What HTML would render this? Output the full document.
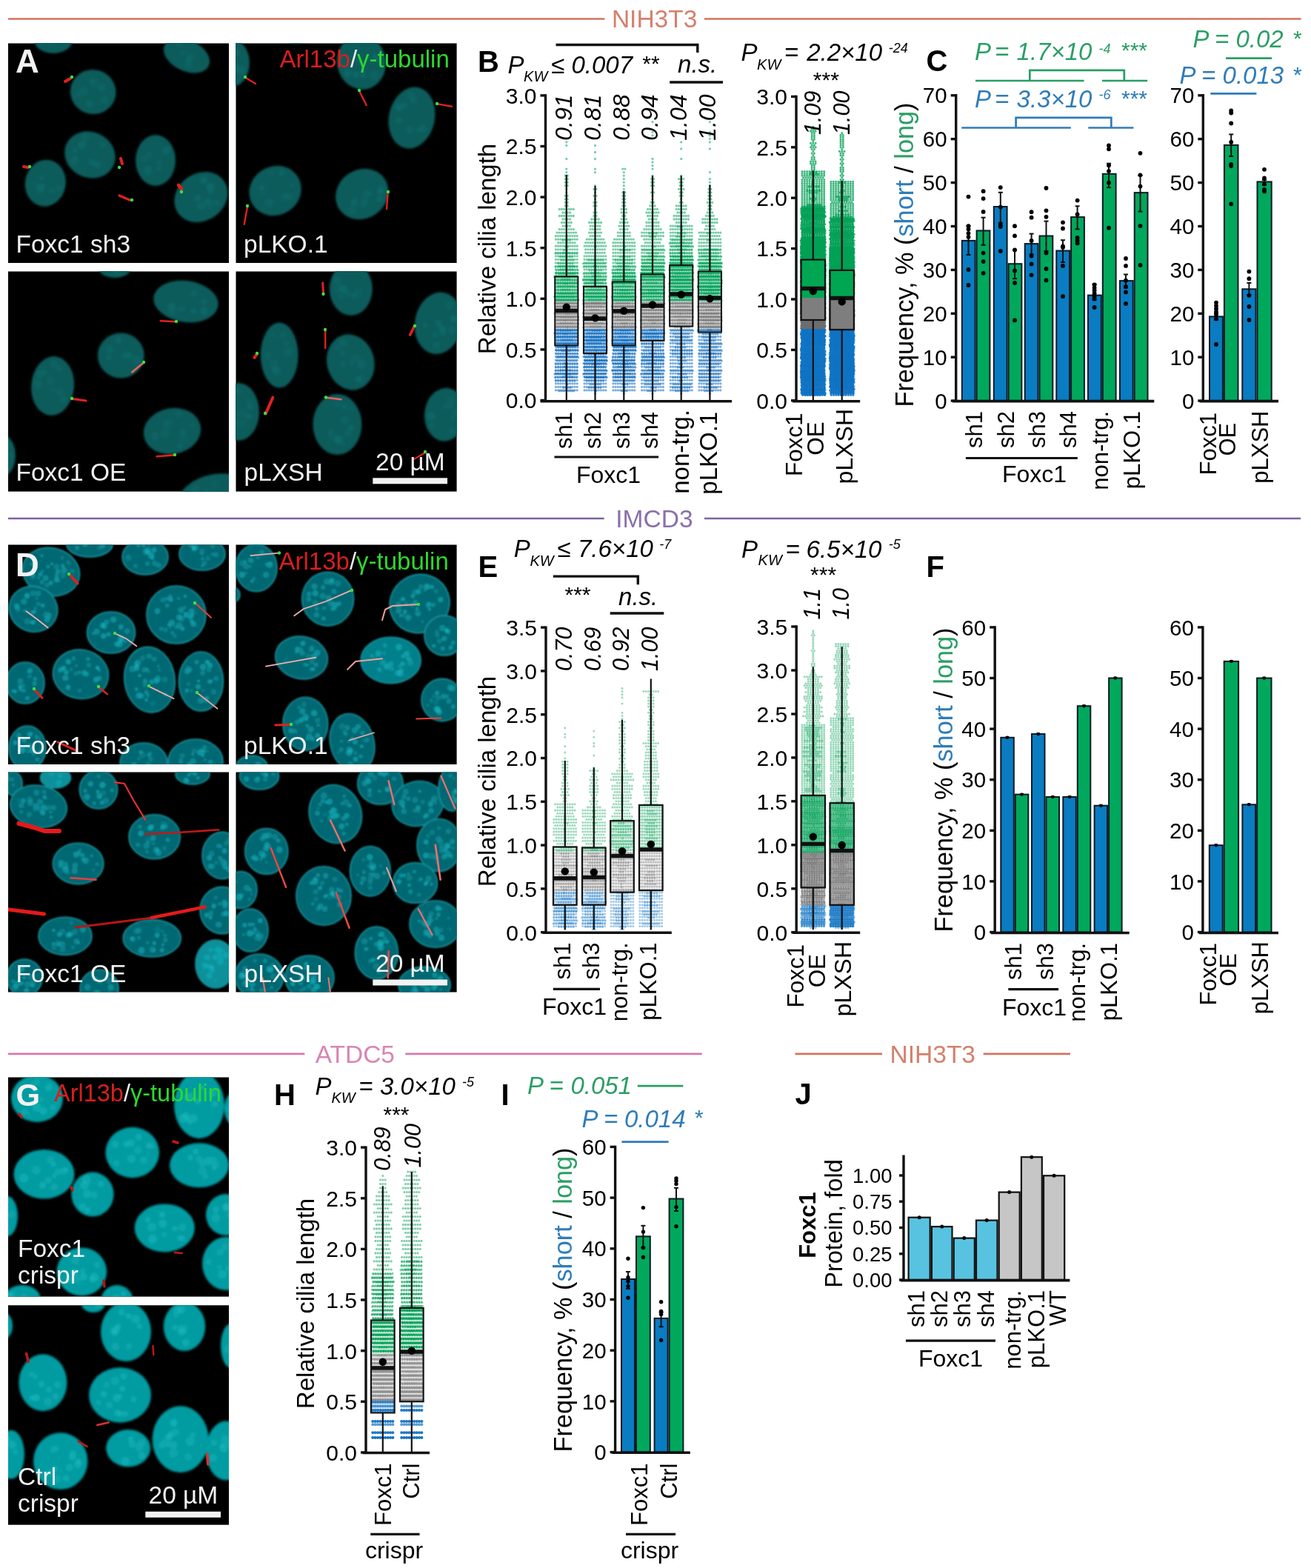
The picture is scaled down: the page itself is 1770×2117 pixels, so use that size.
<!DOCTYPE html>
<html><head><meta charset="utf-8"><title>Figure</title><style>html,body{margin:0;padding:0;background:#fff;}svg{display:block;}</style></head><body>
<svg xmlns="http://www.w3.org/2000/svg" width="1770" height="2117" viewBox="0 0 1770 2117" font-family="'Liberation Sans', Arial, Helvetica, sans-serif">
<defs><filter id="blurA" x="-20%" y="-20%" width="140%" height="140%"><feGaussianBlur stdDeviation="1.6"/></filter><filter id="blurD" x="-20%" y="-20%" width="140%" height="140%"><feGaussianBlur stdDeviation="1.1"/></filter><filter id="blurG" x="-20%" y="-20%" width="140%" height="140%"><feGaussianBlur stdDeviation="1.8"/></filter></defs>
<rect x="0" y="0" width="1770" height="2117" fill="#fff"/>
<line x1="11" y1="25.5" x2="816.3" y2="25.5" stroke="#d2735f" stroke-width="2.7"/>
<line x1="951" y1="25.5" x2="1756.6" y2="25.5" stroke="#d2735f" stroke-width="2.7"/>
<text x="883.6" y="37.3" font-size="33.5" fill="#d4806c" text-anchor="middle">NIH3T3</text>
<line x1="11" y1="700" x2="815.7" y2="700" stroke="#7f62a0" stroke-width="2.7"/>
<line x1="951" y1="700" x2="1756" y2="700" stroke="#7f62a0" stroke-width="2.7"/>
<text x="883.4" y="711.8" font-size="33.5" fill="#8a70aa" text-anchor="middle">IMCD3</text>
<line x1="11" y1="1422.8" x2="411.3" y2="1422.8" stroke="#d778ac" stroke-width="2.7"/>
<line x1="547.3" y1="1422.8" x2="947.7" y2="1422.8" stroke="#d778ac" stroke-width="2.7"/>
<text x="479.3" y="1434.6" font-size="33.5" fill="#d985b3" text-anchor="middle">ATDC5</text>
<line x1="1073.5" y1="1422.8" x2="1191" y2="1422.8" stroke="#d2735f" stroke-width="2.7"/>
<line x1="1327.7" y1="1422.8" x2="1445" y2="1422.8" stroke="#d2735f" stroke-width="2.7"/>
<text x="1259.3" y="1434.6" font-size="33.5" fill="#d4806c" text-anchor="middle">NIH3T3</text>
<clipPath id="cp1"><rect x="11" y="58.5" width="298" height="296.5"/></clipPath>
<rect x="11" y="58.5" width="298" height="296.5" fill="#000"/>
<g clip-path="url(#cp1)">
<g filter="url(#blurA)">
<ellipse cx="72" cy="52" rx="27" ry="20" fill="#085c5b"/>
<circle cx="68.5" cy="57.2" r="5" fill="#117070" fill-opacity="0.27"/>
<circle cx="60.1" cy="50" r="3.2" fill="#117070" fill-opacity="0.38"/>
<circle cx="85" cy="54.3" r="3.2" fill="#117070" fill-opacity="0.27"/>
<circle cx="55.6" cy="58.2" r="3.4" fill="#117070" fill-opacity="0.31"/>
<ellipse cx="252" cy="75" rx="33" ry="21" fill="#085c5b" transform="rotate(25 252 75)"/>
<circle cx="241.4" cy="57.9" r="4.7" fill="#117070" fill-opacity="0.35"/>
<circle cx="257" cy="76.8" r="5.6" fill="#117070" fill-opacity="0.32"/>
<circle cx="254.9" cy="81.1" r="3.9" fill="#117070" fill-opacity="0.45"/>
<circle cx="254.6" cy="88.2" r="4.9" fill="#117070" fill-opacity="0.34"/>
<circle cx="247.1" cy="71.4" r="3.2" fill="#117070" fill-opacity="0.30"/>
<ellipse cx="125.7" cy="124" rx="31" ry="30" fill="#085c5b" transform="rotate(20 125.7 124)"/>
<circle cx="124.2" cy="109.3" r="3.9" fill="#117070" fill-opacity="0.40"/>
<circle cx="113" cy="123.2" r="5.4" fill="#117070" fill-opacity="0.42"/>
<circle cx="120.5" cy="140.2" r="4.6" fill="#117070" fill-opacity="0.47"/>
<circle cx="128.3" cy="112.2" r="5.9" fill="#117070" fill-opacity="0.28"/>
<circle cx="105.9" cy="127" r="3.5" fill="#117070" fill-opacity="0.37"/>
<circle cx="141.5" cy="134.5" r="5.3" fill="#117070" fill-opacity="0.39"/>
<circle cx="137.4" cy="118.8" r="5.1" fill="#117070" fill-opacity="0.40"/>
<ellipse cx="121.4" cy="209" rx="35" ry="31" fill="#085c5b" transform="rotate(25 121.4 209)"/>
<circle cx="110.5" cy="195.6" r="5.5" fill="#117070" fill-opacity="0.49"/>
<circle cx="101" cy="202.9" r="3.2" fill="#117070" fill-opacity="0.43"/>
<circle cx="114.9" cy="185.6" r="5.5" fill="#117070" fill-opacity="0.32"/>
<circle cx="101.5" cy="213.5" r="3.1" fill="#117070" fill-opacity="0.37"/>
<circle cx="122.5" cy="217.1" r="3.2" fill="#117070" fill-opacity="0.44"/>
<circle cx="126" cy="220.4" r="4.2" fill="#117070" fill-opacity="0.47"/>
<circle cx="132.2" cy="222.4" r="4.6" fill="#117070" fill-opacity="0.47"/>
<circle cx="139" cy="195.6" r="3.8" fill="#117070" fill-opacity="0.35"/>
<circle cx="100.1" cy="217.8" r="5.9" fill="#117070" fill-opacity="0.29"/>
<ellipse cx="210" cy="216.5" rx="27" ry="34.5" fill="#085c5b"/>
<circle cx="214.4" cy="227.6" r="3.7" fill="#117070" fill-opacity="0.37"/>
<circle cx="201.2" cy="209.5" r="3" fill="#117070" fill-opacity="0.35"/>
<circle cx="199.6" cy="230.8" r="5.9" fill="#117070" fill-opacity="0.42"/>
<circle cx="194.2" cy="214.5" r="5" fill="#117070" fill-opacity="0.26"/>
<circle cx="224.4" cy="203" r="5.6" fill="#117070" fill-opacity="0.45"/>
<circle cx="200" cy="226.7" r="3.3" fill="#117070" fill-opacity="0.41"/>
<circle cx="214.9" cy="219.1" r="3.6" fill="#117070" fill-opacity="0.29"/>
<ellipse cx="61.3" cy="247.2" rx="27.5" ry="31.6" fill="#085c5b" transform="rotate(10 61.3 247.2)"/>
<circle cx="58" cy="251.3" r="3" fill="#117070" fill-opacity="0.29"/>
<circle cx="69.7" cy="257.3" r="3.1" fill="#117070" fill-opacity="0.47"/>
<circle cx="56.4" cy="240.2" r="3.8" fill="#117070" fill-opacity="0.34"/>
<circle cx="55.5" cy="252.5" r="5.5" fill="#117070" fill-opacity="0.50"/>
<circle cx="46.9" cy="248.2" r="3.3" fill="#117070" fill-opacity="0.28"/>
<circle cx="53.8" cy="256.2" r="5.5" fill="#117070" fill-opacity="0.29"/>
<circle cx="80.3" cy="253.9" r="4.6" fill="#117070" fill-opacity="0.29"/>
<ellipse cx="271.4" cy="266" rx="38" ry="32" fill="#085c5b" transform="rotate(-35 271.4 266)"/>
<circle cx="267.1" cy="267.7" r="4.6" fill="#117070" fill-opacity="0.49"/>
<circle cx="275.4" cy="244.7" r="3.8" fill="#117070" fill-opacity="0.34"/>
<circle cx="292.1" cy="273.8" r="4.6" fill="#117070" fill-opacity="0.44"/>
<circle cx="271.8" cy="277.9" r="5.4" fill="#117070" fill-opacity="0.50"/>
<circle cx="274.1" cy="243.1" r="5.5" fill="#117070" fill-opacity="0.43"/>
<circle cx="283.6" cy="278.3" r="4.1" fill="#117070" fill-opacity="0.26"/>
<circle cx="284.8" cy="259.3" r="3.8" fill="#117070" fill-opacity="0.42"/>
<circle cx="283.9" cy="251.9" r="5.8" fill="#117070" fill-opacity="0.50"/>
<circle cx="282.6" cy="253.2" r="3.7" fill="#117070" fill-opacity="0.31"/>
<circle cx="280.7" cy="272" r="4.9" fill="#117070" fill-opacity="0.48"/>
</g>
<path d="M88,110 L95,106" fill="none" stroke="#e02020" stroke-width="4" stroke-linecap="round" stroke-linejoin="round"/>
<circle cx="97" cy="104" r="2.2" fill="#3ee03e"/>
<path d="M163,214 L165,221" fill="none" stroke="#e02020" stroke-width="4" stroke-linecap="round" stroke-linejoin="round"/>
<circle cx="161" cy="226" r="2.2" fill="#3ee03e"/>
<path d="M32,225 L38,226" fill="none" stroke="#e02020" stroke-width="4" stroke-linecap="round" stroke-linejoin="round"/>
<circle cx="40" cy="225" r="2.2" fill="#3ee03e"/>
<path d="M161,264 L175,270" fill="none" stroke="#e02020" stroke-width="3.2" stroke-linecap="round" stroke-linejoin="round"/>
<circle cx="178" cy="270" r="2.2" fill="#3ee03e"/>
<path d="M241,250 L245,255" fill="none" stroke="#e02020" stroke-width="4.5" stroke-linecap="round" stroke-linejoin="round"/>
<circle cx="245" cy="259" r="2.2" fill="#3ee03e"/>
</g>
<text x="21" y="97.5" font-size="44" fill="#f2f2f2" font-weight="bold">A</text>
<text x="21.5" y="341" font-size="33.5" fill="#f2f2f2">Foxc1 sh3</text>
<clipPath id="cp2"><rect x="318.5" y="58.5" width="298.1" height="296.5"/></clipPath>
<rect x="318.5" y="58.5" width="298.1" height="296.5" fill="#000"/>
<g clip-path="url(#cp2)">
<g filter="url(#blurA)">
<ellipse cx="313" cy="85" rx="24" ry="32" fill="#085c5b"/>
<circle cx="319.7" cy="71" r="5" fill="#117070" fill-opacity="0.45"/>
<circle cx="325.6" cy="94.9" r="5.7" fill="#117070" fill-opacity="0.45"/>
<circle cx="313" cy="68.4" r="3.5" fill="#117070" fill-opacity="0.45"/>
<circle cx="305" cy="103.7" r="5.9" fill="#117070" fill-opacity="0.35"/>
<circle cx="298.7" cy="98.6" r="5.2" fill="#117070" fill-opacity="0.29"/>
<circle cx="317.9" cy="91.7" r="5.7" fill="#117070" fill-opacity="0.45"/>
<ellipse cx="400" cy="52" rx="16" ry="7" fill="#085c5b"/>
<ellipse cx="488" cy="84" rx="33" ry="37" fill="#085c5b" transform="rotate(-10 488 84)"/>
<circle cx="504.9" cy="101.4" r="5.9" fill="#117070" fill-opacity="0.41"/>
<circle cx="480.2" cy="102.2" r="3.4" fill="#117070" fill-opacity="0.25"/>
<circle cx="506.6" cy="76.6" r="4.6" fill="#117070" fill-opacity="0.48"/>
<circle cx="469" cy="98" r="5.5" fill="#117070" fill-opacity="0.30"/>
<circle cx="490.5" cy="98.8" r="3.7" fill="#117070" fill-opacity="0.40"/>
<circle cx="490.2" cy="101.8" r="3.4" fill="#117070" fill-opacity="0.48"/>
<circle cx="480.6" cy="100.5" r="4.8" fill="#117070" fill-opacity="0.48"/>
<circle cx="469.7" cy="100.1" r="4.5" fill="#117070" fill-opacity="0.38"/>
<circle cx="484.6" cy="84" r="4.3" fill="#117070" fill-opacity="0.30"/>
<circle cx="509.9" cy="80.8" r="3.5" fill="#117070" fill-opacity="0.37"/>
<ellipse cx="556" cy="159" rx="31" ry="42" fill="#085c5b" transform="rotate(12 556 159)"/>
<circle cx="558.2" cy="135.7" r="4" fill="#117070" fill-opacity="0.38"/>
<circle cx="539" cy="145.7" r="3.3" fill="#117070" fill-opacity="0.39"/>
<circle cx="552.7" cy="175.2" r="5.3" fill="#117070" fill-opacity="0.38"/>
<circle cx="539.8" cy="144.9" r="5.7" fill="#117070" fill-opacity="0.36"/>
<circle cx="546.7" cy="142.2" r="4.5" fill="#117070" fill-opacity="0.42"/>
<circle cx="538.7" cy="162.3" r="4.4" fill="#117070" fill-opacity="0.49"/>
<circle cx="555.1" cy="130.2" r="5.8" fill="#117070" fill-opacity="0.31"/>
<circle cx="537.8" cy="143.7" r="5.5" fill="#117070" fill-opacity="0.28"/>
<circle cx="563.9" cy="175.5" r="3.2" fill="#117070" fill-opacity="0.31"/>
<circle cx="570.3" cy="173.7" r="5.4" fill="#117070" fill-opacity="0.47"/>
<ellipse cx="371.6" cy="257.5" rx="36" ry="33" fill="#085c5b" transform="rotate(-30 371.6 257.5)"/>
<circle cx="391.4" cy="266" r="5" fill="#117070" fill-opacity="0.29"/>
<circle cx="380.5" cy="233.5" r="3.7" fill="#117070" fill-opacity="0.49"/>
<circle cx="363.7" cy="274" r="6" fill="#117070" fill-opacity="0.46"/>
<circle cx="386.6" cy="264.8" r="4.5" fill="#117070" fill-opacity="0.33"/>
<circle cx="382.6" cy="266.4" r="5.2" fill="#117070" fill-opacity="0.25"/>
<circle cx="354.2" cy="261.2" r="3.1" fill="#117070" fill-opacity="0.33"/>
<circle cx="353.5" cy="253.6" r="3.2" fill="#117070" fill-opacity="0.50"/>
<circle cx="365.3" cy="233.8" r="3.3" fill="#117070" fill-opacity="0.32"/>
<circle cx="394.3" cy="250.6" r="3.8" fill="#117070" fill-opacity="0.28"/>
<ellipse cx="488.7" cy="262" rx="37" ry="33" fill="#085c5b" transform="rotate(-35 488.7 262)"/>
<circle cx="475.9" cy="284.5" r="5.5" fill="#117070" fill-opacity="0.31"/>
<circle cx="512.6" cy="268.7" r="4.7" fill="#117070" fill-opacity="0.43"/>
<circle cx="495.1" cy="261.4" r="5.1" fill="#117070" fill-opacity="0.36"/>
<circle cx="514.5" cy="256.8" r="4.9" fill="#117070" fill-opacity="0.45"/>
<circle cx="513.5" cy="258.7" r="3.2" fill="#117070" fill-opacity="0.47"/>
<circle cx="478.4" cy="274.3" r="4.7" fill="#117070" fill-opacity="0.48"/>
<circle cx="492.9" cy="269.9" r="4.6" fill="#117070" fill-opacity="0.31"/>
<circle cx="499.4" cy="262.2" r="3.2" fill="#117070" fill-opacity="0.30"/>
<circle cx="491.2" cy="275.7" r="5.3" fill="#117070" fill-opacity="0.32"/>
<circle cx="479.1" cy="268.7" r="4" fill="#117070" fill-opacity="0.25"/>
</g>
<path d="M331,104.5 L345,113" fill="none" stroke="#e02020" stroke-width="2.4" stroke-linecap="round" stroke-linejoin="round"/>
<circle cx="331" cy="104" r="2.2" fill="#3ee03e"/>
<path d="M485.3,123.3 L494.7,142" fill="none" stroke="#e02020" stroke-width="2.4" stroke-linecap="round" stroke-linejoin="round"/>
<circle cx="485" cy="122" r="2.2" fill="#3ee03e"/>
<path d="M591,140.4 L610,143.8" fill="none" stroke="#e02020" stroke-width="2.4" stroke-linecap="round" stroke-linejoin="round"/>
<circle cx="590" cy="140" r="2.2" fill="#3ee03e"/>
<path d="M523.7,259.2 L522,282" fill="none" stroke="#e02020" stroke-width="2.4" stroke-linecap="round" stroke-linejoin="round"/>
<circle cx="524" cy="259" r="2.2" fill="#3ee03e"/>
<path d="M334,279 L329.8,302.7" fill="none" stroke="#e02020" stroke-width="2.4" stroke-linecap="round" stroke-linejoin="round"/>
<circle cx="334" cy="278" r="2.2" fill="#3ee03e"/>
</g>
<text x="377.5" y="90.8" font-size="33"><tspan fill="#d81e1e">Arl13b</tspan><tspan fill="#f0f0f0">/</tspan><tspan fill="#2ed82e">&#947;-tubulin</tspan></text>
<text x="329" y="341" font-size="33.5" fill="#f2f2f2">pLKO.1</text>
<clipPath id="cp3"><rect x="11" y="366.5" width="298" height="297.1"/></clipPath>
<rect x="11" y="366.5" width="298" height="297.1" fill="#000"/>
<g clip-path="url(#cp3)">
<g filter="url(#blurA)">
<ellipse cx="155" cy="362" rx="22" ry="13" fill="#085c5b"/>
<circle cx="155" cy="363.2" r="5.2" fill="#117070" fill-opacity="0.39"/>
<circle cx="159.2" cy="368.2" r="5.8" fill="#117070" fill-opacity="0.28"/>
<ellipse cx="251" cy="407" rx="44" ry="28" fill="#085c5b" transform="rotate(8 251 407)"/>
<circle cx="261.8" cy="395.9" r="4.5" fill="#117070" fill-opacity="0.46"/>
<circle cx="231.5" cy="413.7" r="5.1" fill="#117070" fill-opacity="0.50"/>
<circle cx="232.4" cy="420.5" r="5.1" fill="#117070" fill-opacity="0.41"/>
<circle cx="234.1" cy="411.7" r="3.2" fill="#117070" fill-opacity="0.28"/>
<circle cx="275.3" cy="418.3" r="3.8" fill="#117070" fill-opacity="0.29"/>
<circle cx="275.5" cy="420.3" r="5.6" fill="#117070" fill-opacity="0.42"/>
<circle cx="246.4" cy="416.6" r="3.9" fill="#117070" fill-opacity="0.36"/>
<circle cx="261.3" cy="420.3" r="3.8" fill="#117070" fill-opacity="0.49"/>
<circle cx="275.2" cy="407.7" r="3.7" fill="#117070" fill-opacity="0.49"/>
<circle cx="242.2" cy="417.6" r="3" fill="#117070" fill-opacity="0.35"/>
<ellipse cx="163.3" cy="480" rx="31.5" ry="30.5" fill="#085c5b"/>
<circle cx="146.8" cy="482.6" r="3.6" fill="#117070" fill-opacity="0.38"/>
<circle cx="175.4" cy="480.4" r="3.3" fill="#117070" fill-opacity="0.35"/>
<circle cx="166.7" cy="480.9" r="3.9" fill="#117070" fill-opacity="0.31"/>
<circle cx="148.5" cy="471.5" r="5.3" fill="#117070" fill-opacity="0.41"/>
<circle cx="158.6" cy="459" r="4.2" fill="#117070" fill-opacity="0.33"/>
<circle cx="172.4" cy="479.2" r="5.2" fill="#117070" fill-opacity="0.41"/>
<circle cx="184.1" cy="485.7" r="5.7" fill="#117070" fill-opacity="0.41"/>
<circle cx="161.1" cy="459.5" r="3.4" fill="#117070" fill-opacity="0.38"/>
<ellipse cx="71.1" cy="521" rx="29" ry="40" fill="#085c5b" transform="rotate(5 71.1 521)"/>
<circle cx="51.4" cy="518.5" r="5.4" fill="#117070" fill-opacity="0.46"/>
<circle cx="54.7" cy="505.2" r="5" fill="#117070" fill-opacity="0.42"/>
<circle cx="71.1" cy="526.3" r="3.4" fill="#117070" fill-opacity="0.34"/>
<circle cx="85.3" cy="539.1" r="4.7" fill="#117070" fill-opacity="0.41"/>
<circle cx="60.1" cy="502.3" r="4.5" fill="#117070" fill-opacity="0.25"/>
<circle cx="78.8" cy="496.8" r="4.5" fill="#117070" fill-opacity="0.38"/>
<circle cx="68.7" cy="514.3" r="5.2" fill="#117070" fill-opacity="0.31"/>
<circle cx="80.5" cy="528.8" r="5.2" fill="#117070" fill-opacity="0.30"/>
<circle cx="72.3" cy="491.4" r="4.5" fill="#117070" fill-opacity="0.35"/>
<ellipse cx="232.5" cy="582" rx="39" ry="31" fill="#085c5b" transform="rotate(-10 232.5 582)"/>
<circle cx="209.3" cy="588.7" r="5.3" fill="#117070" fill-opacity="0.40"/>
<circle cx="226.6" cy="577.9" r="3.4" fill="#117070" fill-opacity="0.31"/>
<circle cx="229.6" cy="569.5" r="4.7" fill="#117070" fill-opacity="0.25"/>
<circle cx="247.1" cy="584" r="5" fill="#117070" fill-opacity="0.42"/>
<circle cx="223.6" cy="572.2" r="4.5" fill="#117070" fill-opacity="0.37"/>
<circle cx="223.1" cy="585.4" r="5.7" fill="#117070" fill-opacity="0.30"/>
<circle cx="259.6" cy="574.1" r="3.1" fill="#117070" fill-opacity="0.36"/>
<circle cx="241" cy="559.5" r="4.3" fill="#117070" fill-opacity="0.32"/>
<circle cx="243.3" cy="602.3" r="3.6" fill="#117070" fill-opacity="0.40"/>
<circle cx="247.9" cy="592.6" r="5.9" fill="#117070" fill-opacity="0.28"/>
<ellipse cx="5" cy="615" rx="16" ry="27" fill="#085c5b"/>
<circle cx="8.7" cy="601.9" r="5.7" fill="#117070" fill-opacity="0.43"/>
<circle cx="6.3" cy="634.1" r="4.5" fill="#117070" fill-opacity="0.26"/>
<circle cx="13.4" cy="615.3" r="4.4" fill="#117070" fill-opacity="0.33"/>
<ellipse cx="292" cy="674" rx="52" ry="34" fill="#085c5b" transform="rotate(-10 292 674)"/>
<circle cx="308.3" cy="682.9" r="3.9" fill="#117070" fill-opacity="0.46"/>
<circle cx="325.3" cy="668.4" r="5.5" fill="#117070" fill-opacity="0.28"/>
<circle cx="319.4" cy="659.4" r="5.7" fill="#117070" fill-opacity="0.32"/>
<circle cx="277.3" cy="688.3" r="6" fill="#117070" fill-opacity="0.40"/>
<circle cx="278.1" cy="689.5" r="3.8" fill="#117070" fill-opacity="0.26"/>
<circle cx="322.6" cy="682.7" r="3.9" fill="#117070" fill-opacity="0.48"/>
<circle cx="294.4" cy="686.9" r="4.5" fill="#117070" fill-opacity="0.30"/>
<circle cx="268.8" cy="696.2" r="5.7" fill="#117070" fill-opacity="0.45"/>
<circle cx="263.9" cy="660.8" r="5.8" fill="#117070" fill-opacity="0.39"/>
<circle cx="289.4" cy="668.8" r="5.2" fill="#117070" fill-opacity="0.36"/>
<circle cx="289" cy="653.8" r="3.9" fill="#117070" fill-opacity="0.26"/>
<circle cx="303.6" cy="667.9" r="4.4" fill="#117070" fill-opacity="0.34"/>
<circle cx="285.9" cy="696.3" r="5.9" fill="#117070" fill-opacity="0.32"/>
<circle cx="278.3" cy="664.6" r="4.7" fill="#117070" fill-opacity="0.35"/>
</g>
<path d="M216.7,433.3 L237,434.2" fill="none" stroke="#e02020" stroke-width="2.6" stroke-linecap="round" stroke-linejoin="round"/>
<circle cx="238" cy="434" r="2.2" fill="#3ee03e"/>
<path d="M178.3,502.5 L193.7,489.7" fill="none" stroke="#f06060" stroke-width="2.6" stroke-linecap="round" stroke-linejoin="round"/>
<circle cx="194" cy="489" r="2.2" fill="#3ee03e"/>
<path d="M97,538.4 L116,541" fill="none" stroke="#e02020" stroke-width="3.2" stroke-linecap="round" stroke-linejoin="round"/>
<circle cx="97" cy="538" r="2.2" fill="#3ee03e"/>
<path d="M211.6,616.2 L235.5,614.4" fill="none" stroke="#e02020" stroke-width="2.6" stroke-linecap="round" stroke-linejoin="round"/>
<circle cx="236" cy="614" r="2.2" fill="#3ee03e"/>
</g>
<text x="21.5" y="649" font-size="33.5" fill="#f2f2f2">Foxc1 OE</text>
<clipPath id="cp4"><rect x="318.5" y="366.5" width="298.1" height="297.1"/></clipPath>
<rect x="318.5" y="366.5" width="298.1" height="297.1" fill="#000"/>
<g clip-path="url(#cp4)">
<g filter="url(#blurA)">
<ellipse cx="473.8" cy="390" rx="29" ry="36" fill="#085c5b"/>
<circle cx="478.1" cy="399.4" r="3.6" fill="#117070" fill-opacity="0.48"/>
<circle cx="463.6" cy="390.2" r="5.7" fill="#117070" fill-opacity="0.50"/>
<circle cx="466.1" cy="393.1" r="3.6" fill="#117070" fill-opacity="0.27"/>
<circle cx="470.2" cy="396.8" r="3.7" fill="#117070" fill-opacity="0.31"/>
<circle cx="455.2" cy="379.2" r="5.2" fill="#117070" fill-opacity="0.35"/>
<circle cx="460.3" cy="400.1" r="4.1" fill="#117070" fill-opacity="0.33"/>
<circle cx="484.4" cy="395.4" r="5.9" fill="#117070" fill-opacity="0.28"/>
<circle cx="456.5" cy="389.5" r="5.6" fill="#117070" fill-opacity="0.30"/>
<ellipse cx="592" cy="436.3" rx="32" ry="42" fill="#085c5b" transform="rotate(10 592 436.3)"/>
<circle cx="587.7" cy="451.4" r="4.2" fill="#117070" fill-opacity="0.36"/>
<circle cx="614.3" cy="431.8" r="5.6" fill="#117070" fill-opacity="0.26"/>
<circle cx="610.6" cy="445" r="5.7" fill="#117070" fill-opacity="0.37"/>
<circle cx="591.8" cy="436" r="4.2" fill="#117070" fill-opacity="0.48"/>
<circle cx="606.5" cy="412.5" r="5.9" fill="#117070" fill-opacity="0.31"/>
<circle cx="597.8" cy="445.3" r="4.6" fill="#117070" fill-opacity="0.42"/>
<circle cx="612.4" cy="430.1" r="4.9" fill="#117070" fill-opacity="0.44"/>
<circle cx="574" cy="439.4" r="3.1" fill="#117070" fill-opacity="0.45"/>
<circle cx="589.3" cy="466.3" r="4.9" fill="#117070" fill-opacity="0.33"/>
<circle cx="598.3" cy="449" r="4.9" fill="#117070" fill-opacity="0.42"/>
<circle cx="595.8" cy="442.5" r="4.6" fill="#117070" fill-opacity="0.40"/>
<ellipse cx="377.2" cy="479.5" rx="25.5" ry="44" fill="#085c5b"/>
<circle cx="370.3" cy="489.6" r="4.8" fill="#117070" fill-opacity="0.25"/>
<circle cx="373.1" cy="500.7" r="5.9" fill="#117070" fill-opacity="0.41"/>
<circle cx="387" cy="464.3" r="3.7" fill="#117070" fill-opacity="0.31"/>
<circle cx="392.8" cy="472.7" r="3.9" fill="#117070" fill-opacity="0.26"/>
<circle cx="361.5" cy="479.8" r="4.3" fill="#117070" fill-opacity="0.31"/>
<circle cx="368.1" cy="451.9" r="3.7" fill="#117070" fill-opacity="0.26"/>
<circle cx="370.7" cy="497.7" r="5" fill="#117070" fill-opacity="0.30"/>
<circle cx="382" cy="452.4" r="4.5" fill="#117070" fill-opacity="0.30"/>
<circle cx="387.7" cy="476" r="5.5" fill="#117070" fill-opacity="0.31"/>
<ellipse cx="473.3" cy="489" rx="32" ry="38" fill="#085c5b" transform="rotate(-15 473.3 489)"/>
<circle cx="483.2" cy="511.7" r="3.9" fill="#117070" fill-opacity="0.49"/>
<circle cx="463.4" cy="492" r="3.7" fill="#117070" fill-opacity="0.35"/>
<circle cx="455.7" cy="469" r="3.4" fill="#117070" fill-opacity="0.35"/>
<circle cx="485.7" cy="514" r="3.4" fill="#117070" fill-opacity="0.26"/>
<circle cx="488.5" cy="491.7" r="5.7" fill="#117070" fill-opacity="0.47"/>
<circle cx="463.5" cy="462.3" r="5.8" fill="#117070" fill-opacity="0.33"/>
<circle cx="488.7" cy="511.1" r="5.2" fill="#117070" fill-opacity="0.26"/>
<circle cx="462.1" cy="476.4" r="4.1" fill="#117070" fill-opacity="0.33"/>
<circle cx="474.2" cy="490.1" r="3.8" fill="#117070" fill-opacity="0.34"/>
<circle cx="480.4" cy="484.2" r="5.9" fill="#117070" fill-opacity="0.30"/>
<ellipse cx="322" cy="556" rx="28" ry="39" fill="#085c5b"/>
<circle cx="310.2" cy="576.8" r="5.5" fill="#117070" fill-opacity="0.36"/>
<circle cx="335.8" cy="562.1" r="4.1" fill="#117070" fill-opacity="0.48"/>
<circle cx="326.4" cy="572.5" r="5.7" fill="#117070" fill-opacity="0.26"/>
<circle cx="306" cy="570" r="5.3" fill="#117070" fill-opacity="0.26"/>
<circle cx="327.1" cy="557.6" r="5.8" fill="#117070" fill-opacity="0.31"/>
<circle cx="321.7" cy="528.3" r="4" fill="#117070" fill-opacity="0.32"/>
<circle cx="337.9" cy="550" r="3.8" fill="#117070" fill-opacity="0.43"/>
<circle cx="317.5" cy="570" r="3" fill="#117070" fill-opacity="0.44"/>
<circle cx="336.5" cy="544.3" r="5.8" fill="#117070" fill-opacity="0.26"/>
<ellipse cx="455.4" cy="573" rx="33" ry="41" fill="#085c5b"/>
<circle cx="457.1" cy="594.1" r="5.9" fill="#117070" fill-opacity="0.49"/>
<circle cx="446" cy="583.1" r="4.3" fill="#117070" fill-opacity="0.37"/>
<circle cx="464.9" cy="567.3" r="5.4" fill="#117070" fill-opacity="0.43"/>
<circle cx="465" cy="548.7" r="4.8" fill="#117070" fill-opacity="0.33"/>
<circle cx="449.1" cy="589.8" r="5.3" fill="#117070" fill-opacity="0.27"/>
<circle cx="462.4" cy="598.2" r="3.7" fill="#117070" fill-opacity="0.27"/>
<circle cx="473.4" cy="577.8" r="4" fill="#117070" fill-opacity="0.50"/>
<circle cx="473.7" cy="552.6" r="3.8" fill="#117070" fill-opacity="0.27"/>
<circle cx="469.8" cy="585.4" r="5.1" fill="#117070" fill-opacity="0.36"/>
<circle cx="457" cy="592.8" r="4.9" fill="#117070" fill-opacity="0.42"/>
<circle cx="455.1" cy="544.7" r="5" fill="#117070" fill-opacity="0.28"/>
<ellipse cx="601" cy="559.7" rx="28" ry="36" fill="#085c5b" transform="rotate(5 601 559.7)"/>
<circle cx="608.2" cy="548" r="4.7" fill="#117070" fill-opacity="0.34"/>
<circle cx="601.3" cy="547.7" r="3.7" fill="#117070" fill-opacity="0.31"/>
<circle cx="610.4" cy="581.4" r="4.7" fill="#117070" fill-opacity="0.33"/>
<circle cx="583" cy="574.5" r="4.5" fill="#117070" fill-opacity="0.31"/>
<circle cx="608.8" cy="539.9" r="6" fill="#117070" fill-opacity="0.28"/>
<circle cx="582" cy="561.9" r="5.5" fill="#117070" fill-opacity="0.48"/>
<circle cx="611.7" cy="564.3" r="3.4" fill="#117070" fill-opacity="0.30"/>
<circle cx="617" cy="557.6" r="5.8" fill="#117070" fill-opacity="0.34"/>
</g>
<path d="M435.7,382 L436.6,396.6" fill="none" stroke="#e02020" stroke-width="3" stroke-linecap="round" stroke-linejoin="round"/>
<circle cx="436.5" cy="397" r="2.2" fill="#3ee03e"/>
<path d="M439.2,445.3 L439.2,470" fill="none" stroke="#e02020" stroke-width="2.4" stroke-linecap="round" stroke-linejoin="round"/>
<circle cx="439" cy="445" r="2.2" fill="#3ee03e"/>
<path d="M559.6,440.2 L553.6,452.1" fill="none" stroke="#e02020" stroke-width="3.5" stroke-linecap="round" stroke-linejoin="round"/>
<circle cx="560" cy="440" r="2.2" fill="#3ee03e"/>
<path d="M346.9,477.8 L343.5,482.9" fill="none" stroke="#e02020" stroke-width="4" stroke-linecap="round" stroke-linejoin="round"/>
<circle cx="347" cy="477" r="2.2" fill="#3ee03e"/>
<path d="M368.3,536.7 L358.9,558.1" fill="none" stroke="#e02020" stroke-width="4" stroke-linecap="round" stroke-linejoin="round"/>
<circle cx="358" cy="558" r="2.2" fill="#3ee03e"/>
<path d="M440,536.7 L460.5,539.3" fill="none" stroke="#f06060" stroke-width="2.6" stroke-linecap="round" stroke-linejoin="round"/>
<circle cx="440" cy="536.5" r="2.2" fill="#3ee03e"/>
<path d="M574.1,611 L559.6,619.6" fill="none" stroke="#e02020" stroke-width="2.2" stroke-linecap="round" stroke-linejoin="round"/>
<circle cx="574" cy="610" r="2.2" fill="#3ee03e"/>
</g>
<text x="329.5" y="649" font-size="33.5" fill="#f2f2f2">pLXSH</text>
<rect x="503.3" y="645.3" width="100.7" height="8" fill="#f2f2f2"/>
<text x="507" y="634.8" font-size="33.5" fill="#f2f2f2">20 µM</text>
<clipPath id="cp5"><rect x="11" y="735.5" width="298" height="296.5"/></clipPath>
<rect x="11" y="735.5" width="298" height="296.5" fill="#000"/>
<g clip-path="url(#cp5)">
<g filter="url(#blurD)">
<ellipse cx="69" cy="772" rx="39" ry="32" fill="#036872" stroke="#1a949e" stroke-width="1.6" transform="rotate(15 69 772)"/>
<circle cx="84.7" cy="763.8" r="2.6" fill="#16b4c0" fill-opacity="0.51"/>
<circle cx="78.3" cy="771.8" r="3.5" fill="#16b4c0" fill-opacity="0.45"/>
<circle cx="68.8" cy="786.7" r="2.4" fill="#16b4c0" fill-opacity="0.28"/>
<circle cx="63.5" cy="789.8" r="3.6" fill="#16b4c0" fill-opacity="0.28"/>
<circle cx="84.9" cy="777.3" r="3.7" fill="#16b4c0" fill-opacity="0.27"/>
<circle cx="61.6" cy="780.4" r="4" fill="#16b4c0" fill-opacity="0.42"/>
<circle cx="76.5" cy="777.1" r="3" fill="#16b4c0" fill-opacity="0.42"/>
<circle cx="65" cy="765.2" r="2.4" fill="#16b4c0" fill-opacity="0.48"/>
<circle cx="54.5" cy="775.2" r="2.8" fill="#16b4c0" fill-opacity="0.58"/>
<circle cx="56.6" cy="786" r="2.9" fill="#16b4c0" fill-opacity="0.37"/>
<circle cx="92.2" cy="759.5" r="2.9" fill="#16b4c0" fill-opacity="0.28"/>
<circle cx="70" cy="761.2" r="2" fill="#16b4c0" fill-opacity="0.56"/>
<circle cx="43.7" cy="775.6" r="3" fill="#16b4c0" fill-opacity="0.55"/>
<circle cx="57.3" cy="771.3" r="2" fill="#16b4c0" fill-opacity="0.42"/>
<circle cx="56.5" cy="750.3" r="2.2" fill="#16b4c0" fill-opacity="0.45"/>
<circle cx="52" cy="780.2" r="2.4" fill="#16b4c0" fill-opacity="0.31"/>
<circle cx="42.9" cy="761.8" r="2.3" fill="#16b4c0" fill-opacity="0.40"/>
<circle cx="84.1" cy="753.1" r="2.5" fill="#16b4c0" fill-opacity="0.25"/>
<circle cx="97.3" cy="771" r="3.2" fill="#16b4c0" fill-opacity="0.22"/>
<circle cx="86.5" cy="769.8" r="4.3" fill="#16b4c0" fill-opacity="0.45"/>
<circle cx="76.3" cy="765.1" r="4" fill="#16b4c0" fill-opacity="0.29"/>
<circle cx="44.3" cy="778.3" r="4.1" fill="#16b4c0" fill-opacity="0.27"/>
<circle cx="68.7" cy="787.3" r="3.3" fill="#16b4c0" fill-opacity="0.35"/>
<circle cx="76.9" cy="782.7" r="3.8" fill="#16b4c0" fill-opacity="0.56"/>
<ellipse cx="121" cy="735" rx="31" ry="17" fill="#036872" stroke="#1a949e" stroke-width="1.6"/>
<circle cx="137.9" cy="737.4" r="3.9" fill="#16b4c0" fill-opacity="0.22"/>
<circle cx="125.2" cy="731.3" r="3.5" fill="#16b4c0" fill-opacity="0.42"/>
<circle cx="112" cy="729.9" r="3.1" fill="#16b4c0" fill-opacity="0.43"/>
<circle cx="104.1" cy="739.7" r="3.1" fill="#16b4c0" fill-opacity="0.38"/>
<circle cx="139.1" cy="736.5" r="3.2" fill="#16b4c0" fill-opacity="0.29"/>
<circle cx="122.7" cy="723.8" r="3.1" fill="#16b4c0" fill-opacity="0.27"/>
<circle cx="113.5" cy="735.7" r="2.3" fill="#16b4c0" fill-opacity="0.37"/>
<circle cx="134" cy="739.6" r="3.3" fill="#16b4c0" fill-opacity="0.22"/>
<circle cx="116.6" cy="732.2" r="3.8" fill="#16b4c0" fill-opacity="0.51"/>
<circle cx="115.6" cy="734.8" r="3.3" fill="#16b4c0" fill-opacity="0.35"/>
<ellipse cx="196" cy="752" rx="31" ry="24" fill="#036872" stroke="#1a949e" stroke-width="1.6"/>
<circle cx="204.2" cy="750" r="4.1" fill="#16b4c0" fill-opacity="0.60"/>
<circle cx="193.6" cy="735.9" r="2.5" fill="#16b4c0" fill-opacity="0.59"/>
<circle cx="173.3" cy="752.9" r="4.3" fill="#16b4c0" fill-opacity="0.27"/>
<circle cx="201.4" cy="735.1" r="2.2" fill="#16b4c0" fill-opacity="0.34"/>
<circle cx="196.4" cy="744.8" r="4.2" fill="#16b4c0" fill-opacity="0.31"/>
<circle cx="199.5" cy="745.8" r="3.3" fill="#16b4c0" fill-opacity="0.57"/>
<circle cx="199.1" cy="760.9" r="3.3" fill="#16b4c0" fill-opacity="0.33"/>
<circle cx="205.7" cy="753.8" r="2.4" fill="#16b4c0" fill-opacity="0.57"/>
<circle cx="186.6" cy="736.6" r="2.4" fill="#16b4c0" fill-opacity="0.51"/>
<circle cx="208.7" cy="760.7" r="3.6" fill="#16b4c0" fill-opacity="0.34"/>
<circle cx="208.1" cy="742.4" r="3.5" fill="#16b4c0" fill-opacity="0.55"/>
<circle cx="214.3" cy="763" r="3.6" fill="#16b4c0" fill-opacity="0.36"/>
<circle cx="199.5" cy="743.2" r="4.5" fill="#16b4c0" fill-opacity="0.43"/>
<circle cx="183" cy="764.1" r="3.1" fill="#16b4c0" fill-opacity="0.27"/>
<ellipse cx="273" cy="748" rx="31" ry="22" fill="#036872" stroke="#1a949e" stroke-width="1.6"/>
<circle cx="272.8" cy="744.4" r="4" fill="#16b4c0" fill-opacity="0.30"/>
<circle cx="258.2" cy="735.4" r="3.5" fill="#16b4c0" fill-opacity="0.47"/>
<circle cx="272.6" cy="748.6" r="2.1" fill="#16b4c0" fill-opacity="0.26"/>
<circle cx="261.6" cy="740.8" r="3.3" fill="#16b4c0" fill-opacity="0.56"/>
<circle cx="280.5" cy="753.8" r="3.6" fill="#16b4c0" fill-opacity="0.21"/>
<circle cx="286.9" cy="748.2" r="2.3" fill="#16b4c0" fill-opacity="0.34"/>
<circle cx="275.9" cy="760.4" r="3.5" fill="#16b4c0" fill-opacity="0.28"/>
<circle cx="261.6" cy="740" r="2.3" fill="#16b4c0" fill-opacity="0.57"/>
<circle cx="273.4" cy="754.4" r="2.2" fill="#16b4c0" fill-opacity="0.46"/>
<circle cx="287.2" cy="737.4" r="3" fill="#16b4c0" fill-opacity="0.31"/>
<circle cx="291.6" cy="749" r="3.4" fill="#16b4c0" fill-opacity="0.34"/>
<circle cx="263.6" cy="739.3" r="4.3" fill="#16b4c0" fill-opacity="0.49"/>
<circle cx="273.2" cy="763.7" r="2.1" fill="#16b4c0" fill-opacity="0.41"/>
<ellipse cx="45" cy="822.3" rx="33" ry="30.5" fill="#036872" stroke="#1a949e" stroke-width="1.6" transform="rotate(20 45 822.3)"/>
<circle cx="33.5" cy="824.7" r="2.1" fill="#16b4c0" fill-opacity="0.51"/>
<circle cx="61.8" cy="829.8" r="4.4" fill="#16b4c0" fill-opacity="0.26"/>
<circle cx="44.9" cy="840.3" r="3.3" fill="#16b4c0" fill-opacity="0.46"/>
<circle cx="51.8" cy="815.4" r="2.8" fill="#16b4c0" fill-opacity="0.32"/>
<circle cx="63.7" cy="836" r="4" fill="#16b4c0" fill-opacity="0.49"/>
<circle cx="66.1" cy="830.9" r="3.9" fill="#16b4c0" fill-opacity="0.39"/>
<circle cx="49.4" cy="807.6" r="2.6" fill="#16b4c0" fill-opacity="0.24"/>
<circle cx="44" cy="826.7" r="2.8" fill="#16b4c0" fill-opacity="0.50"/>
<circle cx="44.5" cy="801.1" r="3.8" fill="#16b4c0" fill-opacity="0.31"/>
<circle cx="32.2" cy="812.3" r="4" fill="#16b4c0" fill-opacity="0.41"/>
<circle cx="37" cy="838.8" r="4.4" fill="#16b4c0" fill-opacity="0.29"/>
<circle cx="47.8" cy="821.2" r="2.7" fill="#16b4c0" fill-opacity="0.29"/>
<circle cx="51.7" cy="801.1" r="3.9" fill="#16b4c0" fill-opacity="0.33"/>
<circle cx="57.8" cy="817.4" r="2.6" fill="#16b4c0" fill-opacity="0.56"/>
<circle cx="36.6" cy="804.4" r="3.7" fill="#16b4c0" fill-opacity="0.59"/>
<circle cx="22.7" cy="818.4" r="3.7" fill="#16b4c0" fill-opacity="0.54"/>
<circle cx="24.2" cy="822.7" r="3.4" fill="#16b4c0" fill-opacity="0.32"/>
<circle cx="43.3" cy="840.4" r="2.2" fill="#16b4c0" fill-opacity="0.56"/>
<circle cx="46.3" cy="825.9" r="2.3" fill="#16b4c0" fill-opacity="0.57"/>
<circle cx="37.6" cy="827.2" r="2.1" fill="#16b4c0" fill-opacity="0.22"/>
<ellipse cx="238" cy="830" rx="40" ry="39" fill="#036872" stroke="#1a949e" stroke-width="1.6"/>
<circle cx="229.6" cy="808.2" r="3.7" fill="#16b4c0" fill-opacity="0.49"/>
<circle cx="259.1" cy="839" r="2.9" fill="#16b4c0" fill-opacity="0.53"/>
<circle cx="250" cy="805" r="2.2" fill="#16b4c0" fill-opacity="0.55"/>
<circle cx="263" cy="815.4" r="2.3" fill="#16b4c0" fill-opacity="0.28"/>
<circle cx="242.2" cy="833.5" r="4.1" fill="#16b4c0" fill-opacity="0.52"/>
<circle cx="219.9" cy="810.2" r="3.6" fill="#16b4c0" fill-opacity="0.31"/>
<circle cx="245.6" cy="835.4" r="3.9" fill="#16b4c0" fill-opacity="0.28"/>
<circle cx="229.8" cy="847.3" r="2.1" fill="#16b4c0" fill-opacity="0.30"/>
<circle cx="232.8" cy="854.2" r="2.9" fill="#16b4c0" fill-opacity="0.33"/>
<circle cx="258.7" cy="825.3" r="4.1" fill="#16b4c0" fill-opacity="0.45"/>
<circle cx="256.9" cy="833.6" r="3.1" fill="#16b4c0" fill-opacity="0.51"/>
<circle cx="223.6" cy="850.2" r="3.3" fill="#16b4c0" fill-opacity="0.29"/>
<circle cx="243.9" cy="823.3" r="4" fill="#16b4c0" fill-opacity="0.27"/>
<circle cx="251.5" cy="830.1" r="3.9" fill="#16b4c0" fill-opacity="0.59"/>
<circle cx="259" cy="830.6" r="3.2" fill="#16b4c0" fill-opacity="0.52"/>
<circle cx="246.4" cy="848.9" r="2.9" fill="#16b4c0" fill-opacity="0.53"/>
<circle cx="236.1" cy="858.4" r="2.7" fill="#16b4c0" fill-opacity="0.29"/>
<circle cx="231.4" cy="810.4" r="2.3" fill="#16b4c0" fill-opacity="0.45"/>
<circle cx="261.3" cy="842.6" r="3.7" fill="#16b4c0" fill-opacity="0.51"/>
<circle cx="225.6" cy="817.4" r="3" fill="#16b4c0" fill-opacity="0.36"/>
<circle cx="244.8" cy="824.5" r="4.2" fill="#16b4c0" fill-opacity="0.21"/>
<circle cx="242.2" cy="844.4" r="4.3" fill="#16b4c0" fill-opacity="0.40"/>
<circle cx="217.5" cy="848.9" r="2.6" fill="#16b4c0" fill-opacity="0.38"/>
<circle cx="212.5" cy="825" r="3.9" fill="#16b4c0" fill-opacity="0.46"/>
<circle cx="228.1" cy="843.6" r="2.4" fill="#16b4c0" fill-opacity="0.54"/>
<circle cx="224.4" cy="808.6" r="2.4" fill="#16b4c0" fill-opacity="0.38"/>
<circle cx="241.3" cy="808" r="2.3" fill="#16b4c0" fill-opacity="0.38"/>
<circle cx="249" cy="820.6" r="2.5" fill="#16b4c0" fill-opacity="0.32"/>
<circle cx="230" cy="804.3" r="2.4" fill="#16b4c0" fill-opacity="0.26"/>
<circle cx="238.3" cy="846.7" r="3.3" fill="#16b4c0" fill-opacity="0.26"/>
<circle cx="231.9" cy="841.2" r="4.4" fill="#16b4c0" fill-opacity="0.49"/>
<ellipse cx="150" cy="854" rx="32.5" ry="28" fill="#036872" stroke="#1a949e" stroke-width="1.6"/>
<circle cx="169.2" cy="866.3" r="2.3" fill="#16b4c0" fill-opacity="0.35"/>
<circle cx="171.6" cy="852.1" r="3.8" fill="#16b4c0" fill-opacity="0.37"/>
<circle cx="156.5" cy="869.8" r="2.3" fill="#16b4c0" fill-opacity="0.28"/>
<circle cx="146.6" cy="856.5" r="3" fill="#16b4c0" fill-opacity="0.52"/>
<circle cx="144" cy="840.1" r="3.6" fill="#16b4c0" fill-opacity="0.39"/>
<circle cx="161.9" cy="866.7" r="3" fill="#16b4c0" fill-opacity="0.50"/>
<circle cx="163.4" cy="846.5" r="3.4" fill="#16b4c0" fill-opacity="0.50"/>
<circle cx="139.7" cy="858.8" r="3.8" fill="#16b4c0" fill-opacity="0.55"/>
<circle cx="153.1" cy="836.6" r="4.1" fill="#16b4c0" fill-opacity="0.47"/>
<circle cx="139.7" cy="843" r="2.8" fill="#16b4c0" fill-opacity="0.45"/>
<circle cx="162.9" cy="861.8" r="4" fill="#16b4c0" fill-opacity="0.49"/>
<circle cx="141.6" cy="846.4" r="3.1" fill="#16b4c0" fill-opacity="0.38"/>
<circle cx="138.7" cy="844.7" r="3.7" fill="#16b4c0" fill-opacity="0.57"/>
<circle cx="158.1" cy="869.5" r="3.9" fill="#16b4c0" fill-opacity="0.36"/>
<circle cx="126" cy="855.3" r="2.1" fill="#16b4c0" fill-opacity="0.42"/>
<circle cx="161.5" cy="869.7" r="4.4" fill="#16b4c0" fill-opacity="0.41"/>
<circle cx="164.9" cy="863.4" r="3.4" fill="#16b4c0" fill-opacity="0.49"/>
<circle cx="130.6" cy="852.7" r="4.1" fill="#16b4c0" fill-opacity="0.41"/>
<ellipse cx="34" cy="922" rx="26" ry="28" fill="#036872" stroke="#1a949e" stroke-width="1.6"/>
<circle cx="17.9" cy="932.9" r="2.5" fill="#16b4c0" fill-opacity="0.47"/>
<circle cx="20.7" cy="933.5" r="2.3" fill="#16b4c0" fill-opacity="0.59"/>
<circle cx="31.1" cy="925.9" r="2.7" fill="#16b4c0" fill-opacity="0.36"/>
<circle cx="46.6" cy="923.1" r="3.1" fill="#16b4c0" fill-opacity="0.48"/>
<circle cx="28" cy="930.7" r="2.6" fill="#16b4c0" fill-opacity="0.50"/>
<circle cx="47.2" cy="916.4" r="2.5" fill="#16b4c0" fill-opacity="0.52"/>
<circle cx="27" cy="928.1" r="2.3" fill="#16b4c0" fill-opacity="0.51"/>
<circle cx="39.7" cy="906.4" r="3.2" fill="#16b4c0" fill-opacity="0.42"/>
<circle cx="36.9" cy="942.4" r="2.9" fill="#16b4c0" fill-opacity="0.46"/>
<circle cx="41.4" cy="904.8" r="3.2" fill="#16b4c0" fill-opacity="0.32"/>
<circle cx="27.4" cy="919.8" r="4.1" fill="#16b4c0" fill-opacity="0.34"/>
<circle cx="40" cy="913.2" r="2.9" fill="#16b4c0" fill-opacity="0.30"/>
<circle cx="26.5" cy="926.1" r="2" fill="#16b4c0" fill-opacity="0.49"/>
<circle cx="32.1" cy="932.2" r="2.8" fill="#16b4c0" fill-opacity="0.39"/>
<ellipse cx="109" cy="910.3" rx="37.6" ry="33" fill="#036872" stroke="#1a949e" stroke-width="1.6" transform="rotate(10 109 910.3)"/>
<circle cx="87.5" cy="915.2" r="3.6" fill="#16b4c0" fill-opacity="0.34"/>
<circle cx="133.9" cy="904.6" r="2.1" fill="#16b4c0" fill-opacity="0.53"/>
<circle cx="131.5" cy="901.9" r="2.4" fill="#16b4c0" fill-opacity="0.53"/>
<circle cx="107.1" cy="907.7" r="2" fill="#16b4c0" fill-opacity="0.58"/>
<circle cx="103" cy="898.8" r="2.3" fill="#16b4c0" fill-opacity="0.26"/>
<circle cx="107.7" cy="932.1" r="2.9" fill="#16b4c0" fill-opacity="0.26"/>
<circle cx="131.5" cy="901.6" r="2.4" fill="#16b4c0" fill-opacity="0.56"/>
<circle cx="92.3" cy="893.4" r="3.7" fill="#16b4c0" fill-opacity="0.56"/>
<circle cx="118.9" cy="889.7" r="2.5" fill="#16b4c0" fill-opacity="0.48"/>
<circle cx="86.2" cy="902.1" r="3.1" fill="#16b4c0" fill-opacity="0.55"/>
<circle cx="96.3" cy="903.7" r="2.6" fill="#16b4c0" fill-opacity="0.26"/>
<circle cx="102.2" cy="909.4" r="3.2" fill="#16b4c0" fill-opacity="0.26"/>
<circle cx="89.3" cy="907.8" r="3.3" fill="#16b4c0" fill-opacity="0.55"/>
<circle cx="134.3" cy="915.7" r="3.2" fill="#16b4c0" fill-opacity="0.43"/>
<circle cx="99.5" cy="888.8" r="2.9" fill="#16b4c0" fill-opacity="0.37"/>
<circle cx="116.7" cy="910" r="3.6" fill="#16b4c0" fill-opacity="0.45"/>
<circle cx="129.7" cy="917.5" r="3.7" fill="#16b4c0" fill-opacity="0.57"/>
<circle cx="91.9" cy="929.1" r="3.3" fill="#16b4c0" fill-opacity="0.39"/>
<circle cx="113.6" cy="908.3" r="3.8" fill="#16b4c0" fill-opacity="0.45"/>
<circle cx="92" cy="927.1" r="2.9" fill="#16b4c0" fill-opacity="0.39"/>
<circle cx="85.5" cy="902.6" r="2.5" fill="#16b4c0" fill-opacity="0.37"/>
<circle cx="89.2" cy="915.6" r="4.1" fill="#16b4c0" fill-opacity="0.32"/>
<circle cx="119.7" cy="898.1" r="3.3" fill="#16b4c0" fill-opacity="0.31"/>
<circle cx="81.8" cy="904.5" r="3.6" fill="#16b4c0" fill-opacity="0.52"/>
<ellipse cx="202" cy="917.6" rx="34" ry="44.4" fill="#036872" stroke="#1a949e" stroke-width="1.6" transform="rotate(-8 202 917.6)"/>
<circle cx="197.4" cy="934.8" r="2.7" fill="#16b4c0" fill-opacity="0.43"/>
<circle cx="184.1" cy="897.8" r="2.1" fill="#16b4c0" fill-opacity="0.49"/>
<circle cx="213.8" cy="899.6" r="2.1" fill="#16b4c0" fill-opacity="0.32"/>
<circle cx="213.1" cy="916.6" r="4.3" fill="#16b4c0" fill-opacity="0.44"/>
<circle cx="186.3" cy="894.8" r="4.3" fill="#16b4c0" fill-opacity="0.44"/>
<circle cx="184.7" cy="902.2" r="3.7" fill="#16b4c0" fill-opacity="0.44"/>
<circle cx="195.2" cy="904.5" r="3.7" fill="#16b4c0" fill-opacity="0.38"/>
<circle cx="201.2" cy="907" r="2.5" fill="#16b4c0" fill-opacity="0.21"/>
<circle cx="201.3" cy="885.9" r="3.6" fill="#16b4c0" fill-opacity="0.35"/>
<circle cx="208.2" cy="890" r="3.4" fill="#16b4c0" fill-opacity="0.30"/>
<circle cx="199.6" cy="938.6" r="2.8" fill="#16b4c0" fill-opacity="0.37"/>
<circle cx="183.2" cy="895" r="2.1" fill="#16b4c0" fill-opacity="0.43"/>
<circle cx="210.8" cy="919.2" r="4" fill="#16b4c0" fill-opacity="0.43"/>
<circle cx="215.2" cy="904.8" r="2" fill="#16b4c0" fill-opacity="0.35"/>
<circle cx="179.1" cy="903" r="4.5" fill="#16b4c0" fill-opacity="0.39"/>
<circle cx="195.9" cy="924.1" r="3.6" fill="#16b4c0" fill-opacity="0.28"/>
<circle cx="204.3" cy="920.7" r="2" fill="#16b4c0" fill-opacity="0.47"/>
<circle cx="223.1" cy="937.5" r="2.2" fill="#16b4c0" fill-opacity="0.55"/>
<circle cx="204.8" cy="920.5" r="3.8" fill="#16b4c0" fill-opacity="0.30"/>
<circle cx="198.9" cy="903.6" r="2.1" fill="#16b4c0" fill-opacity="0.51"/>
<circle cx="192.5" cy="888.6" r="3.8" fill="#16b4c0" fill-opacity="0.23"/>
<circle cx="184.5" cy="899.6" r="3.2" fill="#16b4c0" fill-opacity="0.57"/>
<circle cx="205.9" cy="950.1" r="3.8" fill="#16b4c0" fill-opacity="0.20"/>
<circle cx="222.6" cy="917.2" r="4" fill="#16b4c0" fill-opacity="0.23"/>
<circle cx="197.6" cy="944.9" r="2.4" fill="#16b4c0" fill-opacity="0.54"/>
<circle cx="195.9" cy="919.2" r="2.9" fill="#16b4c0" fill-opacity="0.43"/>
<circle cx="184.2" cy="930.5" r="2.4" fill="#16b4c0" fill-opacity="0.52"/>
<circle cx="191.6" cy="939.5" r="3.6" fill="#16b4c0" fill-opacity="0.37"/>
<circle cx="187.8" cy="939.2" r="4.4" fill="#16b4c0" fill-opacity="0.51"/>
<circle cx="188.5" cy="912.1" r="2.2" fill="#16b4c0" fill-opacity="0.59"/>
<ellipse cx="271.4" cy="920" rx="30" ry="40" fill="#036872" stroke="#1a949e" stroke-width="1.6"/>
<circle cx="265.5" cy="893.9" r="2.8" fill="#16b4c0" fill-opacity="0.44"/>
<circle cx="291.7" cy="916.1" r="3.5" fill="#16b4c0" fill-opacity="0.32"/>
<circle cx="252.3" cy="932.3" r="2.9" fill="#16b4c0" fill-opacity="0.47"/>
<circle cx="254.3" cy="903.1" r="4" fill="#16b4c0" fill-opacity="0.31"/>
<circle cx="282.9" cy="920.2" r="3.1" fill="#16b4c0" fill-opacity="0.43"/>
<circle cx="279.9" cy="894.1" r="2.1" fill="#16b4c0" fill-opacity="0.53"/>
<circle cx="279.3" cy="894.1" r="3.4" fill="#16b4c0" fill-opacity="0.31"/>
<circle cx="283.4" cy="898.3" r="3.7" fill="#16b4c0" fill-opacity="0.57"/>
<circle cx="267.6" cy="927.2" r="3.4" fill="#16b4c0" fill-opacity="0.52"/>
<circle cx="277.4" cy="944.7" r="4.3" fill="#16b4c0" fill-opacity="0.29"/>
<circle cx="256.9" cy="904.6" r="3.2" fill="#16b4c0" fill-opacity="0.28"/>
<circle cx="270.8" cy="946" r="4" fill="#16b4c0" fill-opacity="0.38"/>
<circle cx="288.6" cy="934.1" r="3.9" fill="#16b4c0" fill-opacity="0.29"/>
<circle cx="252.7" cy="906.4" r="4.2" fill="#16b4c0" fill-opacity="0.41"/>
<circle cx="254.3" cy="923.4" r="2.5" fill="#16b4c0" fill-opacity="0.28"/>
<circle cx="279.3" cy="942.8" r="2.9" fill="#16b4c0" fill-opacity="0.43"/>
<circle cx="258.2" cy="932.4" r="2.4" fill="#16b4c0" fill-opacity="0.22"/>
<circle cx="285.2" cy="919.7" r="2.3" fill="#16b4c0" fill-opacity="0.45"/>
<circle cx="273.5" cy="908.5" r="3.5" fill="#16b4c0" fill-opacity="0.34"/>
<circle cx="268.2" cy="919.5" r="2.1" fill="#16b4c0" fill-opacity="0.60"/>
<circle cx="281.9" cy="904.4" r="3.4" fill="#16b4c0" fill-opacity="0.30"/>
<circle cx="274.1" cy="900.7" r="4.4" fill="#16b4c0" fill-opacity="0.51"/>
<circle cx="280.7" cy="893.3" r="2.6" fill="#16b4c0" fill-opacity="0.22"/>
<circle cx="274.3" cy="932.2" r="2.2" fill="#16b4c0" fill-opacity="0.22"/>
<ellipse cx="37" cy="1010" rx="25" ry="30" fill="#036872" stroke="#1a949e" stroke-width="1.6"/>
<circle cx="20.6" cy="1002.6" r="3.1" fill="#16b4c0" fill-opacity="0.58"/>
<circle cx="41" cy="1006.9" r="3.5" fill="#16b4c0" fill-opacity="0.36"/>
<circle cx="50.4" cy="1025.1" r="2.6" fill="#16b4c0" fill-opacity="0.43"/>
<circle cx="25.4" cy="993" r="3.7" fill="#16b4c0" fill-opacity="0.36"/>
<circle cx="29.9" cy="1012.9" r="4.4" fill="#16b4c0" fill-opacity="0.60"/>
<circle cx="37.7" cy="1014.4" r="2.6" fill="#16b4c0" fill-opacity="0.34"/>
<circle cx="51.6" cy="997.7" r="4.1" fill="#16b4c0" fill-opacity="0.22"/>
<circle cx="40.6" cy="991.5" r="3.6" fill="#16b4c0" fill-opacity="0.59"/>
<circle cx="43.7" cy="1012.9" r="3.9" fill="#16b4c0" fill-opacity="0.58"/>
<circle cx="32.5" cy="999" r="3.5" fill="#16b4c0" fill-opacity="0.50"/>
<circle cx="45.4" cy="1017.9" r="2.6" fill="#16b4c0" fill-opacity="0.25"/>
<circle cx="29.4" cy="1011.1" r="2.6" fill="#16b4c0" fill-opacity="0.26"/>
<circle cx="36.1" cy="1007.7" r="3.8" fill="#16b4c0" fill-opacity="0.28"/>
<circle cx="54.6" cy="1014.9" r="2.6" fill="#16b4c0" fill-opacity="0.57"/>
<circle cx="48.8" cy="994.2" r="2.3" fill="#16b4c0" fill-opacity="0.38"/>
<ellipse cx="194" cy="1030" rx="32" ry="27" fill="#036872" stroke="#1a949e" stroke-width="1.6"/>
<circle cx="213" cy="1041.2" r="4.1" fill="#16b4c0" fill-opacity="0.45"/>
<circle cx="180.6" cy="1033.5" r="4.1" fill="#16b4c0" fill-opacity="0.39"/>
<circle cx="187.7" cy="1024.5" r="2.6" fill="#16b4c0" fill-opacity="0.22"/>
<circle cx="190" cy="1015.3" r="2.4" fill="#16b4c0" fill-opacity="0.55"/>
<circle cx="192.4" cy="1042.9" r="2.4" fill="#16b4c0" fill-opacity="0.31"/>
<circle cx="201.4" cy="1020.1" r="2.4" fill="#16b4c0" fill-opacity="0.40"/>
<circle cx="184.5" cy="1047.5" r="2.3" fill="#16b4c0" fill-opacity="0.59"/>
<circle cx="215.3" cy="1036.7" r="3.7" fill="#16b4c0" fill-opacity="0.28"/>
<circle cx="181.3" cy="1031.5" r="2.6" fill="#16b4c0" fill-opacity="0.28"/>
<circle cx="178.3" cy="1045.2" r="4.5" fill="#16b4c0" fill-opacity="0.57"/>
<circle cx="204.6" cy="1036.3" r="4.2" fill="#16b4c0" fill-opacity="0.22"/>
<circle cx="192.1" cy="1019.1" r="4.4" fill="#16b4c0" fill-opacity="0.21"/>
<circle cx="198.9" cy="1018.9" r="2.4" fill="#16b4c0" fill-opacity="0.20"/>
<circle cx="202.6" cy="1017.2" r="2.5" fill="#16b4c0" fill-opacity="0.37"/>
<circle cx="203.5" cy="1025" r="3.4" fill="#16b4c0" fill-opacity="0.26"/>
<circle cx="203" cy="1046.1" r="3.8" fill="#16b4c0" fill-opacity="0.28"/>
<circle cx="200.2" cy="1032.9" r="3.5" fill="#16b4c0" fill-opacity="0.40"/>
<ellipse cx="264" cy="1028" rx="37" ry="30" fill="#036872" stroke="#1a949e" stroke-width="1.6"/>
<circle cx="262.1" cy="1038.1" r="3.5" fill="#16b4c0" fill-opacity="0.48"/>
<circle cx="272" cy="1012.1" r="2.5" fill="#16b4c0" fill-opacity="0.23"/>
<circle cx="262.1" cy="1013.7" r="3.8" fill="#16b4c0" fill-opacity="0.22"/>
<circle cx="270" cy="1015.9" r="4.1" fill="#16b4c0" fill-opacity="0.55"/>
<circle cx="260.6" cy="1028.1" r="4.3" fill="#16b4c0" fill-opacity="0.39"/>
<circle cx="273.9" cy="1019.6" r="2.5" fill="#16b4c0" fill-opacity="0.53"/>
<circle cx="256.5" cy="1034.7" r="2.9" fill="#16b4c0" fill-opacity="0.44"/>
<circle cx="284" cy="1028.5" r="3.1" fill="#16b4c0" fill-opacity="0.41"/>
<circle cx="281" cy="1041.1" r="4" fill="#16b4c0" fill-opacity="0.55"/>
<circle cx="253.9" cy="1045.1" r="3" fill="#16b4c0" fill-opacity="0.50"/>
<circle cx="288" cy="1035.9" r="4.4" fill="#16b4c0" fill-opacity="0.40"/>
<circle cx="243.9" cy="1026.6" r="3.3" fill="#16b4c0" fill-opacity="0.21"/>
<circle cx="276.9" cy="1025.8" r="2.5" fill="#16b4c0" fill-opacity="0.24"/>
<circle cx="263.9" cy="1048.3" r="2.1" fill="#16b4c0" fill-opacity="0.24"/>
<circle cx="260.1" cy="1018.6" r="2" fill="#16b4c0" fill-opacity="0.44"/>
<circle cx="246.2" cy="1020.5" r="3.8" fill="#16b4c0" fill-opacity="0.24"/>
<circle cx="280" cy="1014.1" r="2.1" fill="#16b4c0" fill-opacity="0.25"/>
<circle cx="244.4" cy="1028.6" r="2.7" fill="#16b4c0" fill-opacity="0.25"/>
<circle cx="255.5" cy="1032.7" r="3.5" fill="#16b4c0" fill-opacity="0.54"/>
<circle cx="276.6" cy="1041.6" r="3.9" fill="#16b4c0" fill-opacity="0.27"/>
<circle cx="276.4" cy="1008.7" r="3" fill="#16b4c0" fill-opacity="0.37"/>
<circle cx="274.8" cy="1014.2" r="3" fill="#16b4c0" fill-opacity="0.58"/>
</g>
<path d="M35.6,825.3 L50,836 L64.7,847.5" fill="none" stroke="#f0b0b0" stroke-width="1.8" stroke-linecap="round" stroke-linejoin="round"/>
<path d="M93.7,775.7 L104.8,787.7" fill="none" stroke="#e02020" stroke-width="3.5" stroke-linecap="round" stroke-linejoin="round"/>
<circle cx="93" cy="775" r="2.2" fill="#3ee03e"/>
<path d="M264.6,815 L285,833.8" fill="none" stroke="#e84040" stroke-width="2" stroke-linecap="round" stroke-linejoin="round"/>
<circle cx="263" cy="814" r="2.2" fill="#3ee03e"/>
<path d="M155.2,855.2 L170,862 L184.3,872.2" fill="none" stroke="#f0b0b0" stroke-width="1.8" stroke-linecap="round" stroke-linejoin="round"/>
<circle cx="155" cy="855" r="2.2" fill="#3ee03e"/>
<path d="M46.7,931.2 L57,942.3" fill="none" stroke="#e02020" stroke-width="3" stroke-linecap="round" stroke-linejoin="round"/>
<circle cx="46" cy="930" r="2.2" fill="#3ee03e"/>
<path d="M133,927.8 L145,937.2" fill="none" stroke="#e02020" stroke-width="2.5" stroke-linecap="round" stroke-linejoin="round"/>
<circle cx="133" cy="927" r="2.2" fill="#3ee03e"/>
<path d="M201.4,926.9 L234.7,943.2" fill="none" stroke="#f0b0b0" stroke-width="1.8" stroke-linecap="round" stroke-linejoin="round"/>
<circle cx="201" cy="926" r="2.2" fill="#3ee03e"/>
<path d="M266.3,935.5 L293.6,956.8" fill="none" stroke="#f0a0a0" stroke-width="1.8" stroke-linecap="round" stroke-linejoin="round"/>
<circle cx="266" cy="935" r="2.2" fill="#3ee03e"/>
<path d="M78.3,1002 L102.3,1013.2" fill="none" stroke="#e02020" stroke-width="3" stroke-linecap="round" stroke-linejoin="round"/>
</g>
<text x="21" y="778" font-size="44" fill="#f2f2f2" font-weight="bold">D</text>
<text x="21.5" y="1018" font-size="33.5" fill="#f2f2f2">Foxc1 sh3</text>
<clipPath id="cp6"><rect x="318.5" y="735.5" width="298.1" height="296.5"/></clipPath>
<rect x="318.5" y="735.5" width="298.1" height="296.5" fill="#000"/>
<g clip-path="url(#cp6)">
<g filter="url(#blurD)">
<ellipse cx="346" cy="766.7" rx="28" ry="32" fill="#036872" stroke="#1a949e" stroke-width="1.6"/>
<circle cx="348.1" cy="752.9" r="2.6" fill="#16b4c0" fill-opacity="0.33"/>
<circle cx="326.9" cy="776.1" r="4" fill="#16b4c0" fill-opacity="0.57"/>
<circle cx="353.7" cy="746.4" r="2.1" fill="#16b4c0" fill-opacity="0.41"/>
<circle cx="365.6" cy="760.6" r="2.6" fill="#16b4c0" fill-opacity="0.37"/>
<circle cx="337.5" cy="756" r="3.3" fill="#16b4c0" fill-opacity="0.23"/>
<circle cx="332.4" cy="773.7" r="2.1" fill="#16b4c0" fill-opacity="0.26"/>
<circle cx="364.2" cy="762.7" r="4.3" fill="#16b4c0" fill-opacity="0.45"/>
<circle cx="353.2" cy="745.7" r="4.2" fill="#16b4c0" fill-opacity="0.21"/>
<circle cx="339.2" cy="757.1" r="3.7" fill="#16b4c0" fill-opacity="0.31"/>
<circle cx="326.5" cy="760.6" r="3.6" fill="#16b4c0" fill-opacity="0.30"/>
<circle cx="332.3" cy="764.7" r="4.4" fill="#16b4c0" fill-opacity="0.32"/>
<circle cx="340.2" cy="784.9" r="2.3" fill="#16b4c0" fill-opacity="0.44"/>
<circle cx="360.5" cy="762" r="2.7" fill="#16b4c0" fill-opacity="0.39"/>
<circle cx="338.1" cy="764.7" r="2.3" fill="#16b4c0" fill-opacity="0.25"/>
<circle cx="342.4" cy="781.4" r="2.7" fill="#16b4c0" fill-opacity="0.30"/>
<circle cx="359.2" cy="776" r="4.1" fill="#16b4c0" fill-opacity="0.44"/>
<circle cx="330.7" cy="758.4" r="2.5" fill="#16b4c0" fill-opacity="0.48"/>
<ellipse cx="317" cy="803" rx="7" ry="9" fill="#036872" stroke="#1a949e" stroke-width="1.6"/>
<circle cx="313.2" cy="804.2" r="3.5" fill="#16b4c0" fill-opacity="0.39"/>
<ellipse cx="442.6" cy="808.6" rx="35" ry="36.3" fill="#036872" stroke="#1a949e" stroke-width="1.6"/>
<circle cx="437.8" cy="821" r="2.6" fill="#16b4c0" fill-opacity="0.40"/>
<circle cx="427.7" cy="822.6" r="2" fill="#16b4c0" fill-opacity="0.34"/>
<circle cx="450.9" cy="798.5" r="3.4" fill="#16b4c0" fill-opacity="0.40"/>
<circle cx="436.9" cy="835" r="2.7" fill="#16b4c0" fill-opacity="0.51"/>
<circle cx="446.3" cy="814.5" r="4.2" fill="#16b4c0" fill-opacity="0.38"/>
<circle cx="457.7" cy="815" r="3.1" fill="#16b4c0" fill-opacity="0.49"/>
<circle cx="452.2" cy="816.8" r="4.4" fill="#16b4c0" fill-opacity="0.50"/>
<circle cx="451.2" cy="821.6" r="2.9" fill="#16b4c0" fill-opacity="0.47"/>
<circle cx="424.6" cy="791.8" r="4.1" fill="#16b4c0" fill-opacity="0.41"/>
<circle cx="441" cy="785.2" r="3.9" fill="#16b4c0" fill-opacity="0.39"/>
<circle cx="447.4" cy="786.2" r="4.3" fill="#16b4c0" fill-opacity="0.25"/>
<circle cx="443.8" cy="807.3" r="3.9" fill="#16b4c0" fill-opacity="0.43"/>
<circle cx="416.8" cy="809" r="3.4" fill="#16b4c0" fill-opacity="0.37"/>
<circle cx="447.8" cy="783.7" r="3.5" fill="#16b4c0" fill-opacity="0.35"/>
<circle cx="425.6" cy="814" r="3.8" fill="#16b4c0" fill-opacity="0.32"/>
<circle cx="427.5" cy="821.5" r="3" fill="#16b4c0" fill-opacity="0.33"/>
<circle cx="448.2" cy="784.2" r="3.2" fill="#16b4c0" fill-opacity="0.38"/>
<circle cx="448.4" cy="822.3" r="2.4" fill="#16b4c0" fill-opacity="0.43"/>
<circle cx="435.8" cy="804.6" r="4.3" fill="#16b4c0" fill-opacity="0.33"/>
<circle cx="455.9" cy="787.8" r="4.4" fill="#16b4c0" fill-opacity="0.28"/>
<circle cx="420.2" cy="820.2" r="2" fill="#16b4c0" fill-opacity="0.22"/>
<circle cx="425.6" cy="801" r="4.3" fill="#16b4c0" fill-opacity="0.51"/>
<circle cx="417.1" cy="802.1" r="3.3" fill="#16b4c0" fill-opacity="0.41"/>
<circle cx="436.1" cy="793" r="2.9" fill="#16b4c0" fill-opacity="0.44"/>
<circle cx="427.4" cy="829.9" r="3.7" fill="#16b4c0" fill-opacity="0.41"/>
<ellipse cx="566.5" cy="815" rx="41" ry="39" fill="#036872" stroke="#1a949e" stroke-width="1.6" transform="rotate(-30 566.5 815)"/>
<circle cx="585" cy="816.4" r="3" fill="#16b4c0" fill-opacity="0.42"/>
<circle cx="538" cy="817.2" r="4.4" fill="#16b4c0" fill-opacity="0.39"/>
<circle cx="551.2" cy="833.7" r="4.5" fill="#16b4c0" fill-opacity="0.34"/>
<circle cx="540.4" cy="824.3" r="2.4" fill="#16b4c0" fill-opacity="0.33"/>
<circle cx="588.7" cy="798" r="3.3" fill="#16b4c0" fill-opacity="0.24"/>
<circle cx="576.5" cy="792" r="4.1" fill="#16b4c0" fill-opacity="0.60"/>
<circle cx="573.5" cy="796.8" r="2.4" fill="#16b4c0" fill-opacity="0.32"/>
<circle cx="546.9" cy="824.6" r="2.5" fill="#16b4c0" fill-opacity="0.27"/>
<circle cx="544.1" cy="808.8" r="2.9" fill="#16b4c0" fill-opacity="0.60"/>
<circle cx="560.6" cy="813.1" r="3" fill="#16b4c0" fill-opacity="0.52"/>
<circle cx="570.2" cy="839.2" r="2" fill="#16b4c0" fill-opacity="0.32"/>
<circle cx="568.3" cy="792.3" r="3.7" fill="#16b4c0" fill-opacity="0.28"/>
<circle cx="546.8" cy="826.7" r="2.7" fill="#16b4c0" fill-opacity="0.46"/>
<circle cx="537.6" cy="825.1" r="3.4" fill="#16b4c0" fill-opacity="0.36"/>
<circle cx="578.1" cy="817.5" r="3.9" fill="#16b4c0" fill-opacity="0.24"/>
<circle cx="578.9" cy="816" r="3.3" fill="#16b4c0" fill-opacity="0.53"/>
<circle cx="539.8" cy="810.6" r="2.2" fill="#16b4c0" fill-opacity="0.20"/>
<circle cx="560.2" cy="799.6" r="3.8" fill="#16b4c0" fill-opacity="0.34"/>
<circle cx="579.8" cy="822.6" r="2.2" fill="#16b4c0" fill-opacity="0.56"/>
<circle cx="548.6" cy="815.5" r="3.1" fill="#16b4c0" fill-opacity="0.35"/>
<circle cx="594.8" cy="809.4" r="3.5" fill="#16b4c0" fill-opacity="0.58"/>
<circle cx="551.3" cy="833.6" r="2.6" fill="#16b4c0" fill-opacity="0.22"/>
<circle cx="583.1" cy="792.2" r="2.8" fill="#16b4c0" fill-opacity="0.56"/>
<circle cx="565" cy="798.8" r="3.5" fill="#16b4c0" fill-opacity="0.58"/>
<circle cx="541" cy="830.7" r="2.6" fill="#16b4c0" fill-opacity="0.36"/>
<circle cx="557.3" cy="804.7" r="2.8" fill="#16b4c0" fill-opacity="0.55"/>
<circle cx="544.2" cy="830.8" r="2.6" fill="#16b4c0" fill-opacity="0.27"/>
<circle cx="564.2" cy="827.7" r="4.4" fill="#16b4c0" fill-opacity="0.32"/>
<circle cx="556.3" cy="816.6" r="3.3" fill="#16b4c0" fill-opacity="0.35"/>
<circle cx="563" cy="821.9" r="2.3" fill="#16b4c0" fill-opacity="0.53"/>
<circle cx="564.5" cy="829.6" r="2.5" fill="#16b4c0" fill-opacity="0.31"/>
<ellipse cx="600" cy="858" rx="27" ry="27" fill="#036872" stroke="#1a949e" stroke-width="1.6"/>
<circle cx="600.3" cy="861.8" r="3.7" fill="#16b4c0" fill-opacity="0.34"/>
<circle cx="609.5" cy="872.1" r="2.2" fill="#16b4c0" fill-opacity="0.31"/>
<circle cx="603.7" cy="851.8" r="3.1" fill="#16b4c0" fill-opacity="0.53"/>
<circle cx="602.7" cy="850.4" r="2.9" fill="#16b4c0" fill-opacity="0.49"/>
<circle cx="585.8" cy="871.9" r="2.5" fill="#16b4c0" fill-opacity="0.58"/>
<circle cx="590.4" cy="857.7" r="3.1" fill="#16b4c0" fill-opacity="0.25"/>
<circle cx="597.2" cy="848" r="4.2" fill="#16b4c0" fill-opacity="0.44"/>
<circle cx="593.2" cy="865.4" r="3.5" fill="#16b4c0" fill-opacity="0.29"/>
<circle cx="604.9" cy="852.9" r="3.3" fill="#16b4c0" fill-opacity="0.42"/>
<circle cx="597.7" cy="875.6" r="3" fill="#16b4c0" fill-opacity="0.46"/>
<circle cx="589.7" cy="853.3" r="3" fill="#16b4c0" fill-opacity="0.23"/>
<circle cx="608.3" cy="874.8" r="2.8" fill="#16b4c0" fill-opacity="0.47"/>
<circle cx="611.8" cy="867.6" r="2.9" fill="#16b4c0" fill-opacity="0.40"/>
<circle cx="598.5" cy="863" r="2.8" fill="#16b4c0" fill-opacity="0.29"/>
<ellipse cx="407.1" cy="888" rx="35.5" ry="28.6" fill="#036872" stroke="#1a949e" stroke-width="1.6" transform="rotate(10 407.1 888)"/>
<circle cx="420.4" cy="903.5" r="2.7" fill="#16b4c0" fill-opacity="0.36"/>
<circle cx="428.3" cy="881.4" r="4.2" fill="#16b4c0" fill-opacity="0.54"/>
<circle cx="415" cy="897.8" r="2.1" fill="#16b4c0" fill-opacity="0.47"/>
<circle cx="401" cy="875.9" r="3" fill="#16b4c0" fill-opacity="0.46"/>
<circle cx="404.8" cy="877.3" r="4.1" fill="#16b4c0" fill-opacity="0.34"/>
<circle cx="400.5" cy="880.1" r="2.3" fill="#16b4c0" fill-opacity="0.57"/>
<circle cx="408" cy="869.9" r="2.1" fill="#16b4c0" fill-opacity="0.22"/>
<circle cx="411.8" cy="897.1" r="2.8" fill="#16b4c0" fill-opacity="0.35"/>
<circle cx="420.8" cy="893.4" r="3.6" fill="#16b4c0" fill-opacity="0.27"/>
<circle cx="420" cy="876.4" r="3.8" fill="#16b4c0" fill-opacity="0.30"/>
<circle cx="386" cy="891.4" r="2.9" fill="#16b4c0" fill-opacity="0.20"/>
<circle cx="421.6" cy="874" r="2.7" fill="#16b4c0" fill-opacity="0.22"/>
<circle cx="421.8" cy="877.1" r="2.1" fill="#16b4c0" fill-opacity="0.30"/>
<circle cx="422.8" cy="903.2" r="2.5" fill="#16b4c0" fill-opacity="0.57"/>
<circle cx="408.2" cy="881.8" r="3.7" fill="#16b4c0" fill-opacity="0.36"/>
<circle cx="410.1" cy="868.7" r="2.7" fill="#16b4c0" fill-opacity="0.24"/>
<circle cx="424" cy="886.3" r="4.3" fill="#16b4c0" fill-opacity="0.48"/>
<circle cx="408.8" cy="868.5" r="3.6" fill="#16b4c0" fill-opacity="0.38"/>
<circle cx="426.7" cy="897.5" r="3.1" fill="#16b4c0" fill-opacity="0.40"/>
<circle cx="416.1" cy="886.2" r="3.9" fill="#16b4c0" fill-opacity="0.22"/>
<ellipse cx="527.6" cy="891.4" rx="40.6" ry="31.2" fill="#06808a" stroke="#1a949e" stroke-width="1.6"/>
<circle cx="519.6" cy="871.3" r="2.7" fill="#16b4c0" fill-opacity="0.42"/>
<circle cx="551.5" cy="887.8" r="3.4" fill="#16b4c0" fill-opacity="0.30"/>
<circle cx="544.6" cy="896.5" r="3" fill="#16b4c0" fill-opacity="0.28"/>
<circle cx="523.4" cy="899.4" r="3.8" fill="#16b4c0" fill-opacity="0.47"/>
<circle cx="528.7" cy="902.9" r="3.3" fill="#16b4c0" fill-opacity="0.38"/>
<circle cx="544.2" cy="886" r="2.7" fill="#16b4c0" fill-opacity="0.55"/>
<circle cx="542" cy="905.1" r="2.8" fill="#16b4c0" fill-opacity="0.53"/>
<circle cx="502.3" cy="885.3" r="2.4" fill="#16b4c0" fill-opacity="0.47"/>
<circle cx="510.8" cy="882.2" r="3.9" fill="#16b4c0" fill-opacity="0.53"/>
<circle cx="539.9" cy="899.7" r="2.9" fill="#16b4c0" fill-opacity="0.28"/>
<circle cx="542.6" cy="896" r="2.5" fill="#16b4c0" fill-opacity="0.48"/>
<circle cx="517.9" cy="893.9" r="2.8" fill="#16b4c0" fill-opacity="0.39"/>
<circle cx="519.5" cy="898.7" r="2.2" fill="#16b4c0" fill-opacity="0.20"/>
<circle cx="553.9" cy="890.4" r="2.2" fill="#16b4c0" fill-opacity="0.49"/>
<circle cx="550.3" cy="889.2" r="2.3" fill="#16b4c0" fill-opacity="0.40"/>
<circle cx="515.5" cy="895.5" r="3.4" fill="#16b4c0" fill-opacity="0.20"/>
<circle cx="549" cy="882.3" r="3.6" fill="#16b4c0" fill-opacity="0.57"/>
<circle cx="518.8" cy="881.8" r="2.6" fill="#16b4c0" fill-opacity="0.26"/>
<circle cx="554" cy="895" r="4.1" fill="#16b4c0" fill-opacity="0.32"/>
<circle cx="537.2" cy="908.6" r="4.1" fill="#16b4c0" fill-opacity="0.57"/>
<circle cx="540.8" cy="909.5" r="4.1" fill="#16b4c0" fill-opacity="0.50"/>
<circle cx="521.5" cy="900.3" r="4.1" fill="#16b4c0" fill-opacity="0.33"/>
<circle cx="512.3" cy="904.2" r="2.9" fill="#16b4c0" fill-opacity="0.53"/>
<circle cx="528" cy="896.1" r="3.4" fill="#16b4c0" fill-opacity="0.45"/>
<circle cx="538.5" cy="873.6" r="4.3" fill="#16b4c0" fill-opacity="0.58"/>
<ellipse cx="597" cy="945" rx="28" ry="28.6" fill="#036872" stroke="#1a949e" stroke-width="1.6"/>
<circle cx="582.2" cy="945.5" r="2.4" fill="#16b4c0" fill-opacity="0.32"/>
<circle cx="591.8" cy="942" r="3.7" fill="#16b4c0" fill-opacity="0.27"/>
<circle cx="577.6" cy="952.4" r="2.2" fill="#16b4c0" fill-opacity="0.22"/>
<circle cx="588.5" cy="948.5" r="3.8" fill="#16b4c0" fill-opacity="0.20"/>
<circle cx="607.5" cy="928.3" r="4" fill="#16b4c0" fill-opacity="0.37"/>
<circle cx="593.5" cy="962.1" r="3.3" fill="#16b4c0" fill-opacity="0.37"/>
<circle cx="589.6" cy="957.1" r="3.7" fill="#16b4c0" fill-opacity="0.53"/>
<circle cx="604" cy="940.1" r="2.7" fill="#16b4c0" fill-opacity="0.38"/>
<circle cx="585.6" cy="940.1" r="2.5" fill="#16b4c0" fill-opacity="0.23"/>
<circle cx="590.6" cy="958" r="4.4" fill="#16b4c0" fill-opacity="0.56"/>
<circle cx="610.7" cy="929.2" r="4.4" fill="#16b4c0" fill-opacity="0.45"/>
<circle cx="598.9" cy="940.1" r="3.7" fill="#16b4c0" fill-opacity="0.44"/>
<circle cx="592.4" cy="960.5" r="4.4" fill="#16b4c0" fill-opacity="0.39"/>
<circle cx="590.1" cy="935.6" r="2.9" fill="#16b4c0" fill-opacity="0.55"/>
<circle cx="606" cy="946.6" r="3.7" fill="#16b4c0" fill-opacity="0.38"/>
<circle cx="611.7" cy="953.9" r="2.9" fill="#16b4c0" fill-opacity="0.43"/>
<ellipse cx="412.3" cy="977.3" rx="30.3" ry="36" fill="#036872" stroke="#1a949e" stroke-width="1.6"/>
<circle cx="398" cy="987.2" r="3.4" fill="#16b4c0" fill-opacity="0.36"/>
<circle cx="419.6" cy="984.8" r="4.2" fill="#16b4c0" fill-opacity="0.42"/>
<circle cx="428.4" cy="993.6" r="2.6" fill="#16b4c0" fill-opacity="0.24"/>
<circle cx="401.1" cy="974.7" r="3.2" fill="#16b4c0" fill-opacity="0.42"/>
<circle cx="414.8" cy="997.5" r="2.3" fill="#16b4c0" fill-opacity="0.41"/>
<circle cx="406.8" cy="973.3" r="3" fill="#16b4c0" fill-opacity="0.23"/>
<circle cx="392.7" cy="986.6" r="3.4" fill="#16b4c0" fill-opacity="0.49"/>
<circle cx="412.6" cy="968.2" r="4.5" fill="#16b4c0" fill-opacity="0.49"/>
<circle cx="428.9" cy="992" r="3" fill="#16b4c0" fill-opacity="0.27"/>
<circle cx="428.8" cy="972.3" r="3.9" fill="#16b4c0" fill-opacity="0.25"/>
<circle cx="413.2" cy="970.9" r="2.6" fill="#16b4c0" fill-opacity="0.35"/>
<circle cx="429.7" cy="979.3" r="2.5" fill="#16b4c0" fill-opacity="0.32"/>
<circle cx="408.4" cy="960.3" r="4.2" fill="#16b4c0" fill-opacity="0.45"/>
<circle cx="424.1" cy="962.7" r="4.3" fill="#16b4c0" fill-opacity="0.55"/>
<circle cx="422" cy="997.6" r="2.9" fill="#16b4c0" fill-opacity="0.51"/>
<circle cx="403.6" cy="955.1" r="2.3" fill="#16b4c0" fill-opacity="0.35"/>
<circle cx="410.5" cy="951.1" r="3.8" fill="#16b4c0" fill-opacity="0.22"/>
<circle cx="406.6" cy="972.1" r="3.4" fill="#16b4c0" fill-opacity="0.52"/>
<circle cx="428.9" cy="994.2" r="3.7" fill="#16b4c0" fill-opacity="0.30"/>
<circle cx="417.6" cy="994.2" r="4.1" fill="#16b4c0" fill-opacity="0.43"/>
<circle cx="414.8" cy="979.9" r="2.3" fill="#16b4c0" fill-opacity="0.52"/>
<ellipse cx="475.5" cy="1003" rx="29.5" ry="40" fill="#036872" stroke="#1a949e" stroke-width="1.6" transform="rotate(-15 475.5 1003)"/>
<circle cx="487.1" cy="1021.1" r="2.7" fill="#16b4c0" fill-opacity="0.47"/>
<circle cx="471.6" cy="1012.1" r="4.2" fill="#16b4c0" fill-opacity="0.42"/>
<circle cx="461.9" cy="980.7" r="4.4" fill="#16b4c0" fill-opacity="0.21"/>
<circle cx="473.5" cy="1013.6" r="3.3" fill="#16b4c0" fill-opacity="0.55"/>
<circle cx="475.4" cy="997.5" r="2.5" fill="#16b4c0" fill-opacity="0.53"/>
<circle cx="465.4" cy="988.1" r="3.2" fill="#16b4c0" fill-opacity="0.26"/>
<circle cx="479" cy="986" r="4.2" fill="#16b4c0" fill-opacity="0.44"/>
<circle cx="488.4" cy="1007.7" r="2.5" fill="#16b4c0" fill-opacity="0.56"/>
<circle cx="470.9" cy="1000.8" r="2.4" fill="#16b4c0" fill-opacity="0.34"/>
<circle cx="460.8" cy="1011.7" r="3" fill="#16b4c0" fill-opacity="0.34"/>
<circle cx="492" cy="999.5" r="2.8" fill="#16b4c0" fill-opacity="0.21"/>
<circle cx="456.9" cy="1015.8" r="2.1" fill="#16b4c0" fill-opacity="0.26"/>
<circle cx="466.6" cy="991.1" r="2.7" fill="#16b4c0" fill-opacity="0.40"/>
<circle cx="480.1" cy="1025.1" r="3.3" fill="#16b4c0" fill-opacity="0.58"/>
<circle cx="479.4" cy="1001.7" r="3.4" fill="#16b4c0" fill-opacity="0.51"/>
<circle cx="483.7" cy="981.2" r="3.6" fill="#16b4c0" fill-opacity="0.45"/>
<circle cx="471.2" cy="1016.6" r="4" fill="#16b4c0" fill-opacity="0.55"/>
<circle cx="489.4" cy="989.6" r="2.8" fill="#16b4c0" fill-opacity="0.51"/>
<circle cx="469" cy="982.6" r="3.6" fill="#16b4c0" fill-opacity="0.34"/>
<circle cx="461" cy="1000.7" r="2.2" fill="#16b4c0" fill-opacity="0.33"/>
<circle cx="473" cy="1031.3" r="3.2" fill="#16b4c0" fill-opacity="0.35"/>
<circle cx="479.7" cy="1016.9" r="2.9" fill="#16b4c0" fill-opacity="0.25"/>
<circle cx="495.8" cy="998.9" r="3.1" fill="#16b4c0" fill-opacity="0.38"/>
<ellipse cx="340" cy="1035" rx="21" ry="15" fill="#036872" stroke="#1a949e" stroke-width="1.6"/>
<circle cx="332.1" cy="1032.4" r="2.4" fill="#16b4c0" fill-opacity="0.23"/>
<circle cx="337.2" cy="1040.9" r="3.8" fill="#16b4c0" fill-opacity="0.42"/>
<circle cx="348.5" cy="1032.5" r="4.3" fill="#16b4c0" fill-opacity="0.43"/>
<circle cx="345.8" cy="1037.3" r="3.5" fill="#16b4c0" fill-opacity="0.59"/>
<circle cx="331.4" cy="1042.7" r="3.1" fill="#16b4c0" fill-opacity="0.55"/>
<circle cx="350" cy="1038.2" r="4.2" fill="#16b4c0" fill-opacity="0.31"/>
</g>
<path d="M338.4,750.1 L376.8,746.7" fill="none" stroke="#f0b0b0" stroke-width="1.8" stroke-linecap="round" stroke-linejoin="round"/>
<circle cx="377" cy="746.5" r="2.2" fill="#3ee03e"/>
<path d="M397.3,831.2 L410,822 L440,812 L474.2,797.1" fill="none" stroke="#f0b0b0" stroke-width="1.8" stroke-linecap="round" stroke-linejoin="round"/>
<circle cx="475" cy="797" r="2.2" fill="#3ee03e"/>
<path d="M516,837.2 L520,823 L530,818 L564.7,815.9" fill="none" stroke="#f0a0a0" stroke-width="2" stroke-linecap="round" stroke-linejoin="round"/>
<circle cx="565" cy="816" r="2.2" fill="#3ee03e"/>
<path d="M358.9,899.6 L426.3,887.6" fill="none" stroke="#f0b0b0" stroke-width="1.8" stroke-linecap="round" stroke-linejoin="round"/>
<path d="M469.1,903.9 L480,893 L516,889.3" fill="none" stroke="#f0a0a0" stroke-width="2" stroke-linecap="round" stroke-linejoin="round"/>
<path d="M562.2,970.5 L595.5,969.6" fill="none" stroke="#e84040" stroke-width="2" stroke-linecap="round" stroke-linejoin="round"/>
<path d="M371.7,979 L393,978.2" fill="none" stroke="#e02020" stroke-width="3" stroke-linecap="round" stroke-linejoin="round"/>
<circle cx="393" cy="978" r="2.2" fill="#3ee03e"/>
<path d="M471.6,999.5 L505,989.3" fill="none" stroke="#f0b0b0" stroke-width="1.6" stroke-linecap="round" stroke-linejoin="round"/>
</g>
<text x="376.5" y="769" font-size="33"><tspan fill="#d81e1e">Arl13b</tspan><tspan fill="#f0f0f0">/</tspan><tspan fill="#2ed82e">&#947;-tubulin</tspan></text>
<text x="329" y="1018" font-size="33.5" fill="#f2f2f2">pLKO.1</text>
<clipPath id="cp7"><rect x="11" y="1042.5" width="298" height="297"/></clipPath>
<rect x="11" y="1042.5" width="298" height="297" fill="#000"/>
<g clip-path="url(#cp7)">
<g filter="url(#blurD)">
<ellipse cx="18" cy="1058" rx="12" ry="16" fill="#036872" stroke="#1a949e" stroke-width="1.6"/>
<circle cx="17.9" cy="1059.8" r="2.4" fill="#16b4c0" fill-opacity="0.31"/>
<circle cx="16.8" cy="1052.6" r="3" fill="#16b4c0" fill-opacity="0.28"/>
<circle cx="11.3" cy="1051.3" r="3.6" fill="#16b4c0" fill-opacity="0.28"/>
<ellipse cx="75" cy="1050" rx="20.5" ry="14" fill="#08909a" stroke="#1a949e" stroke-width="1.6"/>
<circle cx="73.5" cy="1039.7" r="3.5" fill="#16b4c0" fill-opacity="0.23"/>
<circle cx="80.3" cy="1040.9" r="2.9" fill="#16b4c0" fill-opacity="0.25"/>
<circle cx="79.3" cy="1057.1" r="4.2" fill="#16b4c0" fill-opacity="0.46"/>
<circle cx="81.3" cy="1047.7" r="2.8" fill="#16b4c0" fill-opacity="0.50"/>
<circle cx="69.2" cy="1044.6" r="3.7" fill="#16b4c0" fill-opacity="0.34"/>
<ellipse cx="52" cy="1088.7" rx="38.5" ry="28.2" fill="#036872" stroke="#1a949e" stroke-width="1.6" transform="rotate(10 52 1088.7)"/>
<circle cx="68.3" cy="1096.5" r="2.1" fill="#16b4c0" fill-opacity="0.45"/>
<circle cx="39.6" cy="1099.5" r="3.5" fill="#16b4c0" fill-opacity="0.30"/>
<circle cx="48.7" cy="1088.7" r="4.3" fill="#16b4c0" fill-opacity="0.43"/>
<circle cx="58.8" cy="1089.5" r="3.5" fill="#16b4c0" fill-opacity="0.49"/>
<circle cx="46.9" cy="1093.6" r="2.4" fill="#16b4c0" fill-opacity="0.26"/>
<circle cx="54" cy="1082.7" r="4" fill="#16b4c0" fill-opacity="0.37"/>
<circle cx="31.5" cy="1081.1" r="3.4" fill="#16b4c0" fill-opacity="0.46"/>
<circle cx="40.1" cy="1079.2" r="3.9" fill="#16b4c0" fill-opacity="0.30"/>
<circle cx="49.2" cy="1070" r="3.9" fill="#16b4c0" fill-opacity="0.32"/>
<circle cx="59.6" cy="1069" r="3.1" fill="#16b4c0" fill-opacity="0.31"/>
<circle cx="25.2" cy="1080.9" r="2.3" fill="#16b4c0" fill-opacity="0.20"/>
<circle cx="28.8" cy="1087.2" r="3.9" fill="#16b4c0" fill-opacity="0.34"/>
<circle cx="65.7" cy="1090.4" r="3.9" fill="#16b4c0" fill-opacity="0.24"/>
<circle cx="62" cy="1091.8" r="2.2" fill="#16b4c0" fill-opacity="0.40"/>
<circle cx="41.1" cy="1083.7" r="4.3" fill="#16b4c0" fill-opacity="0.35"/>
<circle cx="57.8" cy="1097" r="3.8" fill="#16b4c0" fill-opacity="0.57"/>
<circle cx="54" cy="1092.2" r="3.9" fill="#16b4c0" fill-opacity="0.30"/>
<circle cx="72.2" cy="1090.6" r="3.6" fill="#16b4c0" fill-opacity="0.34"/>
<circle cx="60.4" cy="1076.3" r="2.8" fill="#16b4c0" fill-opacity="0.56"/>
<circle cx="69" cy="1103.2" r="2.2" fill="#16b4c0" fill-opacity="0.46"/>
<circle cx="28.5" cy="1096.1" r="2.1" fill="#16b4c0" fill-opacity="0.43"/>
<ellipse cx="133" cy="1066" rx="25.6" ry="26" fill="#036872" stroke="#1a949e" stroke-width="1.6"/>
<circle cx="117.5" cy="1076" r="4.4" fill="#16b4c0" fill-opacity="0.45"/>
<circle cx="134.6" cy="1075.7" r="2.7" fill="#16b4c0" fill-opacity="0.37"/>
<circle cx="134" cy="1074.7" r="3.9" fill="#16b4c0" fill-opacity="0.46"/>
<circle cx="127.3" cy="1084.6" r="2.5" fill="#16b4c0" fill-opacity="0.43"/>
<circle cx="142.9" cy="1081.1" r="4.2" fill="#16b4c0" fill-opacity="0.31"/>
<circle cx="133.2" cy="1048.3" r="2.7" fill="#16b4c0" fill-opacity="0.33"/>
<circle cx="115" cy="1067.7" r="2.4" fill="#16b4c0" fill-opacity="0.47"/>
<circle cx="122.4" cy="1058.4" r="3.4" fill="#16b4c0" fill-opacity="0.55"/>
<circle cx="137.5" cy="1083.7" r="2.9" fill="#16b4c0" fill-opacity="0.51"/>
<circle cx="138.4" cy="1059.7" r="4.2" fill="#16b4c0" fill-opacity="0.60"/>
<circle cx="132.1" cy="1068.9" r="2.3" fill="#16b4c0" fill-opacity="0.59"/>
<circle cx="151.3" cy="1067.1" r="2.4" fill="#16b4c0" fill-opacity="0.49"/>
<circle cx="139.5" cy="1070.6" r="3.7" fill="#16b4c0" fill-opacity="0.24"/>
<ellipse cx="260" cy="1045" rx="23" ry="14" fill="#036872" stroke="#1a949e" stroke-width="1.6"/>
<circle cx="251.2" cy="1053.5" r="3.8" fill="#16b4c0" fill-opacity="0.55"/>
<circle cx="263.1" cy="1044.8" r="2.6" fill="#16b4c0" fill-opacity="0.52"/>
<circle cx="258.8" cy="1043.1" r="3.3" fill="#16b4c0" fill-opacity="0.29"/>
<circle cx="254.9" cy="1046.4" r="2" fill="#16b4c0" fill-opacity="0.60"/>
<circle cx="253.4" cy="1054" r="2.3" fill="#16b4c0" fill-opacity="0.39"/>
<circle cx="267.4" cy="1050.2" r="2.4" fill="#16b4c0" fill-opacity="0.47"/>
<ellipse cx="208.6" cy="1129.7" rx="34.6" ry="30" fill="#036872" stroke="#1a949e" stroke-width="1.6"/>
<circle cx="221.9" cy="1145.2" r="3.3" fill="#16b4c0" fill-opacity="0.24"/>
<circle cx="197.5" cy="1142.3" r="4.3" fill="#16b4c0" fill-opacity="0.34"/>
<circle cx="214.1" cy="1151.3" r="4.2" fill="#16b4c0" fill-opacity="0.49"/>
<circle cx="207" cy="1139.1" r="2.7" fill="#16b4c0" fill-opacity="0.23"/>
<circle cx="226.4" cy="1134" r="3" fill="#16b4c0" fill-opacity="0.42"/>
<circle cx="206.9" cy="1131.5" r="3.7" fill="#16b4c0" fill-opacity="0.46"/>
<circle cx="190.1" cy="1125.2" r="3.7" fill="#16b4c0" fill-opacity="0.59"/>
<circle cx="224.1" cy="1116.1" r="3" fill="#16b4c0" fill-opacity="0.33"/>
<circle cx="186.2" cy="1140.5" r="3" fill="#16b4c0" fill-opacity="0.35"/>
<circle cx="200.3" cy="1134.3" r="4.5" fill="#16b4c0" fill-opacity="0.20"/>
<circle cx="189.1" cy="1116.1" r="2.6" fill="#16b4c0" fill-opacity="0.44"/>
<circle cx="199.5" cy="1137.4" r="2.5" fill="#16b4c0" fill-opacity="0.25"/>
<circle cx="221.3" cy="1113.1" r="4.3" fill="#16b4c0" fill-opacity="0.22"/>
<circle cx="203.5" cy="1117.7" r="3.6" fill="#16b4c0" fill-opacity="0.42"/>
<circle cx="198.4" cy="1150" r="2" fill="#16b4c0" fill-opacity="0.50"/>
<circle cx="219.8" cy="1116.9" r="3.5" fill="#16b4c0" fill-opacity="0.60"/>
<circle cx="210.6" cy="1147.5" r="3.9" fill="#16b4c0" fill-opacity="0.35"/>
<circle cx="204.8" cy="1116" r="3.3" fill="#16b4c0" fill-opacity="0.45"/>
<circle cx="202.1" cy="1118.2" r="3.6" fill="#16b4c0" fill-opacity="0.42"/>
<circle cx="212" cy="1147.1" r="2.7" fill="#16b4c0" fill-opacity="0.56"/>
<ellipse cx="300" cy="1155" rx="27" ry="31.6" fill="#036872" stroke="#1a949e" stroke-width="1.6"/>
<circle cx="283" cy="1158.4" r="3.3" fill="#16b4c0" fill-opacity="0.39"/>
<circle cx="301.4" cy="1163.8" r="4.3" fill="#16b4c0" fill-opacity="0.41"/>
<circle cx="285.5" cy="1152.4" r="4" fill="#16b4c0" fill-opacity="0.30"/>
<circle cx="308.6" cy="1174" r="3.2" fill="#16b4c0" fill-opacity="0.46"/>
<circle cx="309" cy="1135.2" r="4.2" fill="#16b4c0" fill-opacity="0.22"/>
<circle cx="286.4" cy="1169.7" r="4" fill="#16b4c0" fill-opacity="0.25"/>
<circle cx="305.8" cy="1164.8" r="2.3" fill="#16b4c0" fill-opacity="0.34"/>
<circle cx="304.8" cy="1138.8" r="3.1" fill="#16b4c0" fill-opacity="0.24"/>
<circle cx="284" cy="1169.4" r="3.7" fill="#16b4c0" fill-opacity="0.38"/>
<circle cx="282.1" cy="1157.9" r="3.9" fill="#16b4c0" fill-opacity="0.26"/>
<circle cx="294.8" cy="1142" r="3.3" fill="#16b4c0" fill-opacity="0.30"/>
<circle cx="291.9" cy="1165" r="3" fill="#16b4c0" fill-opacity="0.21"/>
<circle cx="304.6" cy="1172.1" r="2.1" fill="#16b4c0" fill-opacity="0.27"/>
<circle cx="297.9" cy="1142.8" r="2.8" fill="#16b4c0" fill-opacity="0.30"/>
<circle cx="303.1" cy="1148.8" r="3.6" fill="#16b4c0" fill-opacity="0.54"/>
<circle cx="303.9" cy="1169.7" r="4" fill="#16b4c0" fill-opacity="0.45"/>
<circle cx="297.1" cy="1158.6" r="3.1" fill="#16b4c0" fill-opacity="0.35"/>
<ellipse cx="105.6" cy="1166" rx="34.2" ry="27.8" fill="#036872" stroke="#1a949e" stroke-width="1.6"/>
<circle cx="102.3" cy="1155" r="3" fill="#16b4c0" fill-opacity="0.46"/>
<circle cx="111.3" cy="1154.5" r="3" fill="#16b4c0" fill-opacity="0.43"/>
<circle cx="115.6" cy="1161.8" r="4.4" fill="#16b4c0" fill-opacity="0.48"/>
<circle cx="91.1" cy="1178.2" r="2.8" fill="#16b4c0" fill-opacity="0.23"/>
<circle cx="106.2" cy="1153.2" r="3.3" fill="#16b4c0" fill-opacity="0.40"/>
<circle cx="123.8" cy="1155.5" r="2.1" fill="#16b4c0" fill-opacity="0.44"/>
<circle cx="88.6" cy="1169.3" r="4.1" fill="#16b4c0" fill-opacity="0.37"/>
<circle cx="81.7" cy="1169.2" r="3.1" fill="#16b4c0" fill-opacity="0.40"/>
<circle cx="82.4" cy="1164.6" r="3.7" fill="#16b4c0" fill-opacity="0.50"/>
<circle cx="101.4" cy="1168.4" r="3.7" fill="#16b4c0" fill-opacity="0.42"/>
<circle cx="108.3" cy="1147.8" r="2.3" fill="#16b4c0" fill-opacity="0.29"/>
<circle cx="126.1" cy="1174.8" r="2.3" fill="#16b4c0" fill-opacity="0.24"/>
<circle cx="106" cy="1150.3" r="2.1" fill="#16b4c0" fill-opacity="0.47"/>
<circle cx="101.3" cy="1151.9" r="2.1" fill="#16b4c0" fill-opacity="0.48"/>
<circle cx="88.5" cy="1173.9" r="4.5" fill="#16b4c0" fill-opacity="0.53"/>
<circle cx="112.4" cy="1160.3" r="2.8" fill="#16b4c0" fill-opacity="0.41"/>
<circle cx="131.1" cy="1166.8" r="2.7" fill="#16b4c0" fill-opacity="0.30"/>
<circle cx="100.6" cy="1175.7" r="4.1" fill="#16b4c0" fill-opacity="0.42"/>
<circle cx="89" cy="1165.1" r="2.1" fill="#16b4c0" fill-opacity="0.32"/>
<ellipse cx="300" cy="1229" rx="30" ry="31.6" fill="#036872" stroke="#1a949e" stroke-width="1.6"/>
<circle cx="313.5" cy="1213.2" r="4.1" fill="#16b4c0" fill-opacity="0.30"/>
<circle cx="301.5" cy="1234.2" r="3.3" fill="#16b4c0" fill-opacity="0.35"/>
<circle cx="284.7" cy="1232.7" r="3.5" fill="#16b4c0" fill-opacity="0.35"/>
<circle cx="303.2" cy="1218.9" r="4.3" fill="#16b4c0" fill-opacity="0.42"/>
<circle cx="312" cy="1233.2" r="3.3" fill="#16b4c0" fill-opacity="0.36"/>
<circle cx="288.3" cy="1223.7" r="2.7" fill="#16b4c0" fill-opacity="0.52"/>
<circle cx="295.1" cy="1248.3" r="4" fill="#16b4c0" fill-opacity="0.44"/>
<circle cx="279.1" cy="1235.4" r="3.1" fill="#16b4c0" fill-opacity="0.55"/>
<circle cx="313.9" cy="1234.5" r="3.6" fill="#16b4c0" fill-opacity="0.22"/>
<circle cx="303.9" cy="1224.2" r="3.5" fill="#16b4c0" fill-opacity="0.27"/>
<circle cx="314.9" cy="1220.7" r="4" fill="#16b4c0" fill-opacity="0.40"/>
<circle cx="291.5" cy="1211.7" r="2.7" fill="#16b4c0" fill-opacity="0.28"/>
<circle cx="304.5" cy="1221.3" r="4.3" fill="#16b4c0" fill-opacity="0.28"/>
<circle cx="305.6" cy="1233.3" r="4" fill="#16b4c0" fill-opacity="0.58"/>
<circle cx="284.3" cy="1238.8" r="2.6" fill="#16b4c0" fill-opacity="0.56"/>
<circle cx="296.5" cy="1220.4" r="2.1" fill="#16b4c0" fill-opacity="0.48"/>
<circle cx="319.9" cy="1234.6" r="2.7" fill="#16b4c0" fill-opacity="0.29"/>
<circle cx="288.9" cy="1222.4" r="3.4" fill="#16b4c0" fill-opacity="0.26"/>
<ellipse cx="88" cy="1263.8" rx="36" ry="25.6" fill="#036872" stroke="#1a949e" stroke-width="1.6"/>
<circle cx="101.1" cy="1258.1" r="4.1" fill="#16b4c0" fill-opacity="0.26"/>
<circle cx="96.2" cy="1245.7" r="3" fill="#16b4c0" fill-opacity="0.21"/>
<circle cx="72.2" cy="1274.3" r="2.6" fill="#16b4c0" fill-opacity="0.42"/>
<circle cx="103.3" cy="1271.1" r="3.8" fill="#16b4c0" fill-opacity="0.37"/>
<circle cx="84.1" cy="1257.9" r="4.1" fill="#16b4c0" fill-opacity="0.25"/>
<circle cx="111.9" cy="1254.9" r="4.3" fill="#16b4c0" fill-opacity="0.41"/>
<circle cx="84" cy="1274.8" r="3.9" fill="#16b4c0" fill-opacity="0.40"/>
<circle cx="95.4" cy="1261.3" r="3.2" fill="#16b4c0" fill-opacity="0.55"/>
<circle cx="71.8" cy="1255.7" r="2.2" fill="#16b4c0" fill-opacity="0.26"/>
<circle cx="84.6" cy="1281.8" r="4.1" fill="#16b4c0" fill-opacity="0.29"/>
<circle cx="92.3" cy="1262.2" r="3.5" fill="#16b4c0" fill-opacity="0.59"/>
<circle cx="73.3" cy="1279.3" r="3.6" fill="#16b4c0" fill-opacity="0.22"/>
<circle cx="79" cy="1275" r="2.6" fill="#16b4c0" fill-opacity="0.50"/>
<circle cx="98.4" cy="1279.2" r="2.7" fill="#16b4c0" fill-opacity="0.23"/>
<circle cx="80.2" cy="1261.6" r="3.4" fill="#16b4c0" fill-opacity="0.52"/>
<circle cx="72.9" cy="1256.4" r="2.1" fill="#16b4c0" fill-opacity="0.41"/>
<circle cx="105.8" cy="1272.7" r="2.3" fill="#16b4c0" fill-opacity="0.43"/>
<circle cx="78" cy="1273.2" r="3.7" fill="#16b4c0" fill-opacity="0.27"/>
<ellipse cx="205.2" cy="1266.8" rx="39" ry="25.2" fill="#036872" stroke="#1a949e" stroke-width="1.6"/>
<circle cx="218.9" cy="1282.9" r="2.8" fill="#16b4c0" fill-opacity="0.54"/>
<circle cx="219.4" cy="1257.4" r="2.4" fill="#16b4c0" fill-opacity="0.24"/>
<circle cx="212.5" cy="1262.3" r="3.2" fill="#16b4c0" fill-opacity="0.41"/>
<circle cx="220" cy="1275.5" r="2.4" fill="#16b4c0" fill-opacity="0.41"/>
<circle cx="187.5" cy="1266.3" r="2.5" fill="#16b4c0" fill-opacity="0.36"/>
<circle cx="208.2" cy="1273.3" r="2.6" fill="#16b4c0" fill-opacity="0.55"/>
<circle cx="177.6" cy="1266.6" r="2" fill="#16b4c0" fill-opacity="0.58"/>
<circle cx="179.3" cy="1268" r="3.4" fill="#16b4c0" fill-opacity="0.48"/>
<circle cx="208.5" cy="1283" r="2.4" fill="#16b4c0" fill-opacity="0.31"/>
<circle cx="223.2" cy="1269.1" r="3.3" fill="#16b4c0" fill-opacity="0.32"/>
<circle cx="211.8" cy="1263.3" r="3.4" fill="#16b4c0" fill-opacity="0.29"/>
<circle cx="183.8" cy="1257.4" r="3.8" fill="#16b4c0" fill-opacity="0.22"/>
<circle cx="205.8" cy="1281.4" r="4.5" fill="#16b4c0" fill-opacity="0.22"/>
<circle cx="187.3" cy="1256.2" r="4" fill="#16b4c0" fill-opacity="0.34"/>
<circle cx="212.6" cy="1254.9" r="4.3" fill="#16b4c0" fill-opacity="0.20"/>
<circle cx="222.7" cy="1262.4" r="3" fill="#16b4c0" fill-opacity="0.24"/>
<circle cx="206" cy="1283" r="3.7" fill="#16b4c0" fill-opacity="0.26"/>
<circle cx="199.1" cy="1272.7" r="2.5" fill="#16b4c0" fill-opacity="0.29"/>
<circle cx="191.1" cy="1283.1" r="4.5" fill="#16b4c0" fill-opacity="0.52"/>
<ellipse cx="291" cy="1301.5" rx="27" ry="32.5" fill="#08909a" stroke="#1a949e" stroke-width="1.6"/>
<circle cx="276.8" cy="1303.7" r="3.9" fill="#16b4c0" fill-opacity="0.56"/>
<circle cx="291.1" cy="1282.1" r="2.5" fill="#16b4c0" fill-opacity="0.45"/>
<circle cx="301.2" cy="1283.7" r="2.2" fill="#16b4c0" fill-opacity="0.49"/>
<circle cx="286.2" cy="1309.5" r="4.4" fill="#16b4c0" fill-opacity="0.47"/>
<circle cx="290.8" cy="1292.5" r="4.1" fill="#16b4c0" fill-opacity="0.57"/>
<circle cx="305.4" cy="1289.7" r="4.1" fill="#16b4c0" fill-opacity="0.52"/>
<circle cx="279.7" cy="1292.9" r="4.1" fill="#16b4c0" fill-opacity="0.51"/>
<circle cx="298.6" cy="1291.8" r="4.4" fill="#16b4c0" fill-opacity="0.41"/>
<circle cx="297.5" cy="1298.7" r="4.4" fill="#16b4c0" fill-opacity="0.51"/>
<circle cx="290.8" cy="1323.8" r="2.6" fill="#16b4c0" fill-opacity="0.28"/>
<circle cx="281.5" cy="1304.6" r="3.2" fill="#16b4c0" fill-opacity="0.56"/>
<circle cx="284.3" cy="1282.6" r="3" fill="#16b4c0" fill-opacity="0.51"/>
<circle cx="295.5" cy="1282.1" r="4.4" fill="#16b4c0" fill-opacity="0.53"/>
<circle cx="286" cy="1305.5" r="3.6" fill="#16b4c0" fill-opacity="0.53"/>
<circle cx="282.7" cy="1317.4" r="4.1" fill="#16b4c0" fill-opacity="0.52"/>
<circle cx="305.2" cy="1302" r="2" fill="#16b4c0" fill-opacity="0.24"/>
<circle cx="296" cy="1286.9" r="3.5" fill="#16b4c0" fill-opacity="0.38"/>
<ellipse cx="33" cy="1320" rx="24" ry="25" fill="#036872" stroke="#1a949e" stroke-width="1.6"/>
<circle cx="28.7" cy="1327.4" r="2.9" fill="#16b4c0" fill-opacity="0.54"/>
<circle cx="25.9" cy="1313.1" r="2.2" fill="#16b4c0" fill-opacity="0.31"/>
<circle cx="29.4" cy="1308.1" r="3.7" fill="#16b4c0" fill-opacity="0.52"/>
<circle cx="43.8" cy="1330.7" r="2.1" fill="#16b4c0" fill-opacity="0.53"/>
<circle cx="36.8" cy="1328.9" r="4.4" fill="#16b4c0" fill-opacity="0.34"/>
<circle cx="35.7" cy="1337.5" r="3.5" fill="#16b4c0" fill-opacity="0.56"/>
<circle cx="23" cy="1328.2" r="4.4" fill="#16b4c0" fill-opacity="0.40"/>
<circle cx="40.8" cy="1319.4" r="4.1" fill="#16b4c0" fill-opacity="0.26"/>
<circle cx="32.7" cy="1319.9" r="2.4" fill="#16b4c0" fill-opacity="0.58"/>
<circle cx="17.5" cy="1324.7" r="2.6" fill="#16b4c0" fill-opacity="0.34"/>
<circle cx="43.8" cy="1328.3" r="4.2" fill="#16b4c0" fill-opacity="0.41"/>
<circle cx="20.6" cy="1332.6" r="4.2" fill="#16b4c0" fill-opacity="0.47"/>
<ellipse cx="134" cy="1335" rx="26" ry="26" fill="#036872" stroke="#1a949e" stroke-width="1.6"/>
<circle cx="147.7" cy="1342.1" r="3.1" fill="#16b4c0" fill-opacity="0.58"/>
<circle cx="123.8" cy="1347.1" r="3.6" fill="#16b4c0" fill-opacity="0.35"/>
<circle cx="118.1" cy="1332.8" r="4.3" fill="#16b4c0" fill-opacity="0.40"/>
<circle cx="121.4" cy="1349.6" r="2.1" fill="#16b4c0" fill-opacity="0.53"/>
<circle cx="128.1" cy="1321.7" r="3.1" fill="#16b4c0" fill-opacity="0.50"/>
<circle cx="146.9" cy="1324.5" r="3.9" fill="#16b4c0" fill-opacity="0.21"/>
<circle cx="130.7" cy="1341.4" r="4.4" fill="#16b4c0" fill-opacity="0.56"/>
<circle cx="143.2" cy="1346.8" r="3.4" fill="#16b4c0" fill-opacity="0.22"/>
<circle cx="120.9" cy="1345.6" r="3.6" fill="#16b4c0" fill-opacity="0.31"/>
<circle cx="134.8" cy="1324.5" r="3.4" fill="#16b4c0" fill-opacity="0.37"/>
<circle cx="149.6" cy="1332.9" r="4" fill="#16b4c0" fill-opacity="0.47"/>
<circle cx="120" cy="1348.1" r="3.8" fill="#16b4c0" fill-opacity="0.48"/>
<circle cx="132.7" cy="1342.7" r="3.4" fill="#16b4c0" fill-opacity="0.53"/>
</g>
<path d="M25.4,1111.8 L45,1117 L60,1122 L80,1122" fill="none" stroke="#e41a1a" stroke-width="6" stroke-linecap="round" stroke-linejoin="round"/>
<path d="M155.2,1056.2 L168,1058 L180,1080 L196.2,1106.6" fill="none" stroke="#e83030" stroke-width="2.2" stroke-linecap="round" stroke-linejoin="round"/>
<path d="M196.2,1126.3 L240,1124 L295.3,1120.3" fill="none" stroke="#c01818" stroke-width="2.6" stroke-linecap="round" stroke-linejoin="round"/>
<path d="M95.4,1185.2 L129.6,1187.8" fill="none" stroke="#e84040" stroke-width="2.5" stroke-linecap="round" stroke-linejoin="round"/>
<path d="M11.7,1228 L59.5,1234" fill="none" stroke="#e41a1a" stroke-width="5" stroke-linecap="round" stroke-linejoin="round"/>
<path d="M102.3,1251.9 L206.5,1239" fill="none" stroke="#b81515" stroke-width="3" stroke-linecap="round" stroke-linejoin="round"/>
<path d="M204.8,1239 L276.5,1224.5" fill="none" stroke="#e41a1a" stroke-width="4.5" stroke-linecap="round" stroke-linejoin="round"/>
</g>
<text x="21.5" y="1326" font-size="33.5" fill="#f2f2f2">Foxc1 OE</text>
<clipPath id="cp8"><rect x="318.5" y="1042.5" width="298.1" height="297"/></clipPath>
<rect x="318.5" y="1042.5" width="298.1" height="297" fill="#000"/>
<g clip-path="url(#cp8)">
<g filter="url(#blurD)">
<ellipse cx="350" cy="1048" rx="26.5" ry="18" fill="#036872" stroke="#1a949e" stroke-width="1.6"/>
<circle cx="353.2" cy="1040.3" r="2.3" fill="#16b4c0" fill-opacity="0.41"/>
<circle cx="355.7" cy="1044.2" r="3.8" fill="#16b4c0" fill-opacity="0.27"/>
<circle cx="348.3" cy="1050.9" r="2.7" fill="#16b4c0" fill-opacity="0.35"/>
<circle cx="369.1" cy="1045.3" r="2.5" fill="#16b4c0" fill-opacity="0.32"/>
<circle cx="358.3" cy="1045.9" r="2.8" fill="#16b4c0" fill-opacity="0.38"/>
<circle cx="357.9" cy="1052.3" r="3" fill="#16b4c0" fill-opacity="0.35"/>
<circle cx="360" cy="1046.4" r="2.5" fill="#16b4c0" fill-opacity="0.56"/>
<circle cx="332.7" cy="1051.8" r="3.6" fill="#16b4c0" fill-opacity="0.51"/>
<circle cx="346.9" cy="1052.8" r="3.9" fill="#16b4c0" fill-opacity="0.39"/>
<ellipse cx="513.5" cy="1058" rx="30.7" ry="28" fill="#036872" stroke="#1a949e" stroke-width="1.6"/>
<circle cx="495.9" cy="1051.8" r="3.9" fill="#16b4c0" fill-opacity="0.31"/>
<circle cx="499.2" cy="1073.3" r="3.3" fill="#16b4c0" fill-opacity="0.32"/>
<circle cx="505.5" cy="1050.2" r="3.9" fill="#16b4c0" fill-opacity="0.22"/>
<circle cx="521.5" cy="1044" r="2.9" fill="#16b4c0" fill-opacity="0.58"/>
<circle cx="512.4" cy="1068.3" r="2.2" fill="#16b4c0" fill-opacity="0.42"/>
<circle cx="513.9" cy="1040.7" r="3" fill="#16b4c0" fill-opacity="0.52"/>
<circle cx="523.3" cy="1065.5" r="3.6" fill="#16b4c0" fill-opacity="0.59"/>
<circle cx="500.7" cy="1045" r="3.9" fill="#16b4c0" fill-opacity="0.36"/>
<circle cx="532" cy="1051.4" r="2.9" fill="#16b4c0" fill-opacity="0.36"/>
<circle cx="518.2" cy="1046.3" r="2.5" fill="#16b4c0" fill-opacity="0.55"/>
<circle cx="497.2" cy="1055" r="3.7" fill="#16b4c0" fill-opacity="0.56"/>
<circle cx="522.5" cy="1067.1" r="2.2" fill="#16b4c0" fill-opacity="0.37"/>
<circle cx="492.2" cy="1057.7" r="3.7" fill="#16b4c0" fill-opacity="0.43"/>
<circle cx="499.2" cy="1067" r="2.7" fill="#16b4c0" fill-opacity="0.54"/>
<circle cx="518.5" cy="1039.3" r="2.4" fill="#16b4c0" fill-opacity="0.47"/>
<circle cx="513.9" cy="1043.1" r="4.2" fill="#16b4c0" fill-opacity="0.56"/>
<circle cx="512.6" cy="1039" r="3.6" fill="#16b4c0" fill-opacity="0.55"/>
<ellipse cx="564" cy="1085" rx="35" ry="30" fill="#036872" stroke="#1a949e" stroke-width="1.6" transform="rotate(-15 564 1085)"/>
<circle cx="582" cy="1094.5" r="3.8" fill="#16b4c0" fill-opacity="0.44"/>
<circle cx="564.5" cy="1090.8" r="3.5" fill="#16b4c0" fill-opacity="0.53"/>
<circle cx="565" cy="1095.4" r="2.6" fill="#16b4c0" fill-opacity="0.24"/>
<circle cx="547.6" cy="1068.8" r="4" fill="#16b4c0" fill-opacity="0.34"/>
<circle cx="560.4" cy="1080" r="4.1" fill="#16b4c0" fill-opacity="0.33"/>
<circle cx="584.2" cy="1080" r="2.3" fill="#16b4c0" fill-opacity="0.31"/>
<circle cx="581.2" cy="1086" r="3.4" fill="#16b4c0" fill-opacity="0.52"/>
<circle cx="587.7" cy="1083.9" r="2.3" fill="#16b4c0" fill-opacity="0.29"/>
<circle cx="551.4" cy="1078.5" r="2.8" fill="#16b4c0" fill-opacity="0.43"/>
<circle cx="573.6" cy="1102.8" r="2.5" fill="#16b4c0" fill-opacity="0.54"/>
<circle cx="566.7" cy="1068.3" r="2.1" fill="#16b4c0" fill-opacity="0.51"/>
<circle cx="582.5" cy="1083" r="3.1" fill="#16b4c0" fill-opacity="0.23"/>
<circle cx="545.6" cy="1075.5" r="3.5" fill="#16b4c0" fill-opacity="0.36"/>
<circle cx="544.3" cy="1088.9" r="2.6" fill="#16b4c0" fill-opacity="0.55"/>
<circle cx="586.6" cy="1078.4" r="4.4" fill="#16b4c0" fill-opacity="0.33"/>
<circle cx="570.6" cy="1082.7" r="3.2" fill="#16b4c0" fill-opacity="0.25"/>
<circle cx="545.3" cy="1095.5" r="3.8" fill="#16b4c0" fill-opacity="0.38"/>
<circle cx="560.1" cy="1094.6" r="3" fill="#16b4c0" fill-opacity="0.31"/>
<circle cx="576.2" cy="1100.5" r="3.3" fill="#16b4c0" fill-opacity="0.38"/>
<circle cx="575.5" cy="1100.4" r="2.5" fill="#16b4c0" fill-opacity="0.31"/>
<circle cx="542.5" cy="1083.6" r="4.4" fill="#16b4c0" fill-opacity="0.50"/>
<ellipse cx="610" cy="1065" rx="18" ry="30" fill="#036872" stroke="#1a949e" stroke-width="1.6"/>
<circle cx="622.3" cy="1058.1" r="3.8" fill="#16b4c0" fill-opacity="0.49"/>
<circle cx="615.7" cy="1068.9" r="2" fill="#16b4c0" fill-opacity="0.55"/>
<circle cx="608.1" cy="1047.4" r="2.7" fill="#16b4c0" fill-opacity="0.34"/>
<circle cx="615.5" cy="1080.3" r="4.5" fill="#16b4c0" fill-opacity="0.32"/>
<circle cx="615.4" cy="1067.6" r="2.9" fill="#16b4c0" fill-opacity="0.56"/>
<circle cx="613.1" cy="1050.7" r="2.3" fill="#16b4c0" fill-opacity="0.24"/>
<circle cx="616.8" cy="1081.3" r="3.2" fill="#16b4c0" fill-opacity="0.60"/>
<circle cx="620.2" cy="1054.4" r="3.2" fill="#16b4c0" fill-opacity="0.53"/>
<circle cx="613.1" cy="1070.4" r="3.4" fill="#16b4c0" fill-opacity="0.40"/>
<circle cx="611.7" cy="1075.9" r="2.1" fill="#16b4c0" fill-opacity="0.56"/>
<ellipse cx="452.8" cy="1099" rx="35" ry="40" fill="#036872" stroke="#1a949e" stroke-width="1.6" transform="rotate(-20 452.8 1099)"/>
<circle cx="437.2" cy="1074.6" r="4.5" fill="#16b4c0" fill-opacity="0.37"/>
<circle cx="444.8" cy="1082.2" r="4" fill="#16b4c0" fill-opacity="0.54"/>
<circle cx="455.5" cy="1100.7" r="2.5" fill="#16b4c0" fill-opacity="0.43"/>
<circle cx="451.8" cy="1101.5" r="4.1" fill="#16b4c0" fill-opacity="0.51"/>
<circle cx="448.3" cy="1102.1" r="4.2" fill="#16b4c0" fill-opacity="0.41"/>
<circle cx="468" cy="1101.3" r="3.6" fill="#16b4c0" fill-opacity="0.55"/>
<circle cx="434" cy="1108.3" r="2.5" fill="#16b4c0" fill-opacity="0.30"/>
<circle cx="461.9" cy="1084.7" r="2.3" fill="#16b4c0" fill-opacity="0.44"/>
<circle cx="463.8" cy="1105.2" r="3.1" fill="#16b4c0" fill-opacity="0.43"/>
<circle cx="432.7" cy="1086" r="3.1" fill="#16b4c0" fill-opacity="0.23"/>
<circle cx="449.5" cy="1092.9" r="3.2" fill="#16b4c0" fill-opacity="0.36"/>
<circle cx="435.4" cy="1081.5" r="2.6" fill="#16b4c0" fill-opacity="0.46"/>
<circle cx="440.2" cy="1083.1" r="2.4" fill="#16b4c0" fill-opacity="0.56"/>
<circle cx="446.3" cy="1096.7" r="2.6" fill="#16b4c0" fill-opacity="0.59"/>
<circle cx="461.2" cy="1115.7" r="4" fill="#16b4c0" fill-opacity="0.53"/>
<circle cx="432.1" cy="1086.1" r="2.1" fill="#16b4c0" fill-opacity="0.24"/>
<circle cx="473.3" cy="1087.3" r="2.1" fill="#16b4c0" fill-opacity="0.22"/>
<circle cx="464.1" cy="1125.6" r="2.5" fill="#16b4c0" fill-opacity="0.47"/>
<circle cx="467.2" cy="1083" r="4.3" fill="#16b4c0" fill-opacity="0.31"/>
<circle cx="455.8" cy="1101.4" r="3.9" fill="#16b4c0" fill-opacity="0.24"/>
<circle cx="471.8" cy="1087.6" r="2.5" fill="#16b4c0" fill-opacity="0.52"/>
<circle cx="468.3" cy="1112.9" r="2.3" fill="#16b4c0" fill-opacity="0.51"/>
<circle cx="464.7" cy="1075.1" r="2" fill="#16b4c0" fill-opacity="0.54"/>
<circle cx="428.6" cy="1097.9" r="3.3" fill="#16b4c0" fill-opacity="0.45"/>
<circle cx="429.4" cy="1091.5" r="2.2" fill="#16b4c0" fill-opacity="0.22"/>
<circle cx="438.5" cy="1099.4" r="3" fill="#16b4c0" fill-opacity="0.20"/>
<circle cx="451.1" cy="1094.7" r="4.1" fill="#16b4c0" fill-opacity="0.52"/>
<circle cx="445.4" cy="1104.6" r="3.6" fill="#16b4c0" fill-opacity="0.28"/>
<ellipse cx="359.8" cy="1149.3" rx="29" ry="30.8" fill="#036872" stroke="#1a949e" stroke-width="1.6"/>
<circle cx="353.3" cy="1152.6" r="4.4" fill="#16b4c0" fill-opacity="0.42"/>
<circle cx="355.8" cy="1155" r="3.8" fill="#16b4c0" fill-opacity="0.54"/>
<circle cx="363.8" cy="1143.3" r="2.9" fill="#16b4c0" fill-opacity="0.32"/>
<circle cx="360.5" cy="1140.4" r="3.5" fill="#16b4c0" fill-opacity="0.59"/>
<circle cx="360" cy="1147.4" r="2.2" fill="#16b4c0" fill-opacity="0.25"/>
<circle cx="353.8" cy="1132.6" r="3.3" fill="#16b4c0" fill-opacity="0.38"/>
<circle cx="345.6" cy="1159.2" r="3.6" fill="#16b4c0" fill-opacity="0.57"/>
<circle cx="357.7" cy="1128.8" r="4.3" fill="#16b4c0" fill-opacity="0.53"/>
<circle cx="359" cy="1145.3" r="3.7" fill="#16b4c0" fill-opacity="0.54"/>
<circle cx="341.3" cy="1158.4" r="2.4" fill="#16b4c0" fill-opacity="0.58"/>
<circle cx="342.7" cy="1156.2" r="2.6" fill="#16b4c0" fill-opacity="0.32"/>
<circle cx="352.6" cy="1160" r="2.2" fill="#16b4c0" fill-opacity="0.38"/>
<circle cx="377.3" cy="1147.1" r="4.3" fill="#16b4c0" fill-opacity="0.50"/>
<circle cx="371.1" cy="1129.6" r="3.9" fill="#16b4c0" fill-opacity="0.31"/>
<circle cx="359.8" cy="1164.1" r="2.1" fill="#16b4c0" fill-opacity="0.29"/>
<circle cx="375.6" cy="1134.8" r="2.8" fill="#16b4c0" fill-opacity="0.51"/>
<circle cx="363" cy="1127.8" r="4" fill="#16b4c0" fill-opacity="0.41"/>
<ellipse cx="593" cy="1141" rx="30" ry="35.5" fill="#036872" stroke="#1a949e" stroke-width="1.6"/>
<circle cx="609.2" cy="1155.8" r="2.8" fill="#16b4c0" fill-opacity="0.45"/>
<circle cx="581.9" cy="1155.5" r="4.4" fill="#16b4c0" fill-opacity="0.26"/>
<circle cx="575.2" cy="1136.9" r="3.3" fill="#16b4c0" fill-opacity="0.58"/>
<circle cx="575" cy="1155" r="3.7" fill="#16b4c0" fill-opacity="0.59"/>
<circle cx="601.8" cy="1147.6" r="2.7" fill="#16b4c0" fill-opacity="0.56"/>
<circle cx="604.4" cy="1142.2" r="3.8" fill="#16b4c0" fill-opacity="0.60"/>
<circle cx="599.7" cy="1156.8" r="3.7" fill="#16b4c0" fill-opacity="0.48"/>
<circle cx="592.5" cy="1117.9" r="2.6" fill="#16b4c0" fill-opacity="0.30"/>
<circle cx="611.4" cy="1144.8" r="2.5" fill="#16b4c0" fill-opacity="0.30"/>
<circle cx="610.6" cy="1136.3" r="3.5" fill="#16b4c0" fill-opacity="0.46"/>
<circle cx="577.7" cy="1128.2" r="2.8" fill="#16b4c0" fill-opacity="0.23"/>
<circle cx="595.5" cy="1142.3" r="2.9" fill="#16b4c0" fill-opacity="0.26"/>
<circle cx="605" cy="1153.2" r="4.4" fill="#16b4c0" fill-opacity="0.48"/>
<circle cx="590.1" cy="1164.1" r="2.4" fill="#16b4c0" fill-opacity="0.24"/>
<circle cx="588.3" cy="1157.1" r="3.7" fill="#16b4c0" fill-opacity="0.38"/>
<circle cx="592.1" cy="1132.9" r="4.3" fill="#16b4c0" fill-opacity="0.34"/>
<circle cx="594.9" cy="1136.9" r="4.1" fill="#16b4c0" fill-opacity="0.29"/>
<circle cx="605.4" cy="1122.2" r="3.7" fill="#16b4c0" fill-opacity="0.31"/>
<circle cx="602.8" cy="1141.7" r="4.3" fill="#16b4c0" fill-opacity="0.26"/>
<circle cx="583.7" cy="1123.8" r="3.7" fill="#16b4c0" fill-opacity="0.27"/>
<circle cx="597.3" cy="1147.5" r="4.5" fill="#16b4c0" fill-opacity="0.35"/>
<ellipse cx="499.8" cy="1176.2" rx="27.3" ry="33.7" fill="#036872" stroke="#1a949e" stroke-width="1.6"/>
<circle cx="490.9" cy="1160.6" r="2.6" fill="#16b4c0" fill-opacity="0.23"/>
<circle cx="518.6" cy="1178.4" r="2.3" fill="#16b4c0" fill-opacity="0.59"/>
<circle cx="488.4" cy="1192.4" r="2.3" fill="#16b4c0" fill-opacity="0.52"/>
<circle cx="499.7" cy="1191.5" r="3.3" fill="#16b4c0" fill-opacity="0.24"/>
<circle cx="500" cy="1198.7" r="2.7" fill="#16b4c0" fill-opacity="0.35"/>
<circle cx="500.7" cy="1164.3" r="2.5" fill="#16b4c0" fill-opacity="0.29"/>
<circle cx="490.6" cy="1186.4" r="3.6" fill="#16b4c0" fill-opacity="0.39"/>
<circle cx="502.9" cy="1172" r="3.7" fill="#16b4c0" fill-opacity="0.53"/>
<circle cx="500.1" cy="1180.5" r="3.1" fill="#16b4c0" fill-opacity="0.25"/>
<circle cx="483.1" cy="1181.5" r="2.2" fill="#16b4c0" fill-opacity="0.25"/>
<circle cx="491.3" cy="1177.6" r="2.6" fill="#16b4c0" fill-opacity="0.38"/>
<circle cx="503.7" cy="1180.7" r="2.9" fill="#16b4c0" fill-opacity="0.39"/>
<circle cx="513.9" cy="1168.9" r="2.2" fill="#16b4c0" fill-opacity="0.29"/>
<circle cx="499.2" cy="1157.2" r="4.2" fill="#16b4c0" fill-opacity="0.58"/>
<circle cx="504.1" cy="1169.7" r="4.4" fill="#16b4c0" fill-opacity="0.41"/>
<circle cx="500.3" cy="1186.6" r="4.2" fill="#16b4c0" fill-opacity="0.28"/>
<circle cx="508.9" cy="1182.7" r="4.3" fill="#16b4c0" fill-opacity="0.38"/>
<circle cx="499.1" cy="1169.4" r="3.1" fill="#16b4c0" fill-opacity="0.33"/>
<ellipse cx="560.5" cy="1192" rx="30" ry="27.3" fill="#036872" stroke="#1a949e" stroke-width="1.6"/>
<circle cx="565.6" cy="1208" r="2.9" fill="#16b4c0" fill-opacity="0.25"/>
<circle cx="576" cy="1190.6" r="2.4" fill="#16b4c0" fill-opacity="0.20"/>
<circle cx="551.3" cy="1180" r="2.1" fill="#16b4c0" fill-opacity="0.39"/>
<circle cx="559.5" cy="1177" r="2.6" fill="#16b4c0" fill-opacity="0.40"/>
<circle cx="546.1" cy="1181.9" r="2.4" fill="#16b4c0" fill-opacity="0.52"/>
<circle cx="578.7" cy="1186.1" r="4.1" fill="#16b4c0" fill-opacity="0.35"/>
<circle cx="568.4" cy="1187" r="2.6" fill="#16b4c0" fill-opacity="0.44"/>
<circle cx="565.7" cy="1188.6" r="2.5" fill="#16b4c0" fill-opacity="0.21"/>
<circle cx="552.7" cy="1194.9" r="2.5" fill="#16b4c0" fill-opacity="0.50"/>
<circle cx="541.6" cy="1182.1" r="3" fill="#16b4c0" fill-opacity="0.47"/>
<circle cx="582.3" cy="1193.6" r="2.6" fill="#16b4c0" fill-opacity="0.39"/>
<circle cx="538.6" cy="1190.5" r="3.2" fill="#16b4c0" fill-opacity="0.60"/>
<circle cx="552.9" cy="1185.4" r="4.1" fill="#16b4c0" fill-opacity="0.28"/>
<circle cx="575.7" cy="1192" r="2.6" fill="#16b4c0" fill-opacity="0.58"/>
<circle cx="554.2" cy="1203.8" r="2.9" fill="#16b4c0" fill-opacity="0.47"/>
<circle cx="574.1" cy="1193.8" r="2.4" fill="#16b4c0" fill-opacity="0.53"/>
<ellipse cx="325" cy="1201.5" rx="22" ry="25" fill="#036872" stroke="#1a949e" stroke-width="1.6"/>
<circle cx="337.9" cy="1201.5" r="2.6" fill="#16b4c0" fill-opacity="0.38"/>
<circle cx="312.1" cy="1195.5" r="2.3" fill="#16b4c0" fill-opacity="0.30"/>
<circle cx="336.7" cy="1214.1" r="2.4" fill="#16b4c0" fill-opacity="0.25"/>
<circle cx="312.5" cy="1199.5" r="4.2" fill="#16b4c0" fill-opacity="0.22"/>
<circle cx="325.7" cy="1209.1" r="3.5" fill="#16b4c0" fill-opacity="0.38"/>
<circle cx="311.9" cy="1211.1" r="3.7" fill="#16b4c0" fill-opacity="0.54"/>
<circle cx="333.2" cy="1198.9" r="4.4" fill="#16b4c0" fill-opacity="0.36"/>
<circle cx="340" cy="1207.2" r="2.3" fill="#16b4c0" fill-opacity="0.21"/>
<circle cx="322.8" cy="1211.3" r="4.4" fill="#16b4c0" fill-opacity="0.55"/>
<circle cx="314.5" cy="1208.1" r="4.1" fill="#16b4c0" fill-opacity="0.52"/>
<circle cx="318.3" cy="1190.5" r="2.3" fill="#16b4c0" fill-opacity="0.30"/>
<ellipse cx="437" cy="1209.5" rx="37" ry="39.7" fill="#036872" stroke="#1a949e" stroke-width="1.6"/>
<circle cx="425.4" cy="1190.4" r="4" fill="#16b4c0" fill-opacity="0.56"/>
<circle cx="448.8" cy="1206.4" r="2.2" fill="#16b4c0" fill-opacity="0.56"/>
<circle cx="426.3" cy="1204.1" r="3.7" fill="#16b4c0" fill-opacity="0.30"/>
<circle cx="438.4" cy="1227.5" r="3.3" fill="#16b4c0" fill-opacity="0.47"/>
<circle cx="458.4" cy="1220.9" r="3.6" fill="#16b4c0" fill-opacity="0.39"/>
<circle cx="425.3" cy="1186" r="2" fill="#16b4c0" fill-opacity="0.39"/>
<circle cx="426.8" cy="1187" r="3.6" fill="#16b4c0" fill-opacity="0.27"/>
<circle cx="460.8" cy="1202.7" r="2.6" fill="#16b4c0" fill-opacity="0.37"/>
<circle cx="449.2" cy="1206" r="3" fill="#16b4c0" fill-opacity="0.58"/>
<circle cx="447.8" cy="1201.1" r="3.8" fill="#16b4c0" fill-opacity="0.34"/>
<circle cx="424.4" cy="1187.2" r="2.3" fill="#16b4c0" fill-opacity="0.29"/>
<circle cx="440.1" cy="1224.5" r="2.1" fill="#16b4c0" fill-opacity="0.25"/>
<circle cx="422" cy="1220.2" r="2.2" fill="#16b4c0" fill-opacity="0.43"/>
<circle cx="456.7" cy="1201.5" r="2.9" fill="#16b4c0" fill-opacity="0.48"/>
<circle cx="426.3" cy="1214.3" r="3.2" fill="#16b4c0" fill-opacity="0.21"/>
<circle cx="432" cy="1198.8" r="2.9" fill="#16b4c0" fill-opacity="0.58"/>
<circle cx="439.7" cy="1182.4" r="3.6" fill="#16b4c0" fill-opacity="0.45"/>
<circle cx="429.4" cy="1181.4" r="2.5" fill="#16b4c0" fill-opacity="0.51"/>
<circle cx="432.6" cy="1223.8" r="4.1" fill="#16b4c0" fill-opacity="0.44"/>
<circle cx="452.2" cy="1186.9" r="3.5" fill="#16b4c0" fill-opacity="0.28"/>
<circle cx="457.2" cy="1211.5" r="3.8" fill="#16b4c0" fill-opacity="0.31"/>
<circle cx="438.7" cy="1210.4" r="2.4" fill="#16b4c0" fill-opacity="0.48"/>
<circle cx="450.3" cy="1209.9" r="2.7" fill="#16b4c0" fill-opacity="0.48"/>
<circle cx="440.8" cy="1209.2" r="2.3" fill="#16b4c0" fill-opacity="0.57"/>
<circle cx="447.5" cy="1207.3" r="2.8" fill="#16b4c0" fill-opacity="0.41"/>
<circle cx="429.4" cy="1226.9" r="3.2" fill="#16b4c0" fill-opacity="0.30"/>
<circle cx="444.6" cy="1212.4" r="2.4" fill="#16b4c0" fill-opacity="0.24"/>
<circle cx="420.5" cy="1192" r="2.7" fill="#16b4c0" fill-opacity="0.52"/>
<circle cx="434.8" cy="1192.2" r="3.2" fill="#16b4c0" fill-opacity="0.28"/>
<ellipse cx="588" cy="1247.6" rx="35" ry="31.6" fill="#036872" stroke="#1a949e" stroke-width="1.6"/>
<circle cx="605.7" cy="1239.9" r="2.1" fill="#16b4c0" fill-opacity="0.26"/>
<circle cx="582.3" cy="1233.8" r="3.8" fill="#16b4c0" fill-opacity="0.29"/>
<circle cx="594.9" cy="1227.3" r="2.2" fill="#16b4c0" fill-opacity="0.43"/>
<circle cx="596" cy="1266.2" r="4" fill="#16b4c0" fill-opacity="0.52"/>
<circle cx="588.9" cy="1254.8" r="3.7" fill="#16b4c0" fill-opacity="0.43"/>
<circle cx="595.4" cy="1255.5" r="3.5" fill="#16b4c0" fill-opacity="0.24"/>
<circle cx="579.4" cy="1238.9" r="2.6" fill="#16b4c0" fill-opacity="0.37"/>
<circle cx="566.1" cy="1243.4" r="2.1" fill="#16b4c0" fill-opacity="0.49"/>
<circle cx="590.6" cy="1260.2" r="3.6" fill="#16b4c0" fill-opacity="0.48"/>
<circle cx="569.3" cy="1232.7" r="2.5" fill="#16b4c0" fill-opacity="0.32"/>
<circle cx="581" cy="1237.3" r="2.4" fill="#16b4c0" fill-opacity="0.29"/>
<circle cx="591.2" cy="1226.2" r="3.8" fill="#16b4c0" fill-opacity="0.58"/>
<circle cx="592" cy="1234.9" r="2.8" fill="#16b4c0" fill-opacity="0.49"/>
<circle cx="607.2" cy="1253.9" r="2.2" fill="#16b4c0" fill-opacity="0.22"/>
<circle cx="577.8" cy="1246.8" r="4.3" fill="#16b4c0" fill-opacity="0.55"/>
<circle cx="576.7" cy="1250.1" r="2.3" fill="#16b4c0" fill-opacity="0.40"/>
<circle cx="572.3" cy="1245.7" r="3.8" fill="#16b4c0" fill-opacity="0.41"/>
<circle cx="589.4" cy="1240" r="2.2" fill="#16b4c0" fill-opacity="0.35"/>
<circle cx="574.9" cy="1248.8" r="3.7" fill="#16b4c0" fill-opacity="0.29"/>
<circle cx="580.5" cy="1262.5" r="3.8" fill="#16b4c0" fill-opacity="0.51"/>
<circle cx="575.9" cy="1259" r="4.3" fill="#16b4c0" fill-opacity="0.57"/>
<circle cx="581.8" cy="1242.4" r="3.1" fill="#16b4c0" fill-opacity="0.45"/>
<ellipse cx="338" cy="1256" rx="24" ry="29" fill="#036872" stroke="#1a949e" stroke-width="1.6"/>
<circle cx="337.4" cy="1260.1" r="4.5" fill="#16b4c0" fill-opacity="0.56"/>
<circle cx="346.5" cy="1266.8" r="3.5" fill="#16b4c0" fill-opacity="0.32"/>
<circle cx="352.2" cy="1263.9" r="3.9" fill="#16b4c0" fill-opacity="0.37"/>
<circle cx="347.7" cy="1263" r="2.2" fill="#16b4c0" fill-opacity="0.59"/>
<circle cx="347.2" cy="1259.7" r="3.9" fill="#16b4c0" fill-opacity="0.25"/>
<circle cx="341.8" cy="1259.6" r="2.4" fill="#16b4c0" fill-opacity="0.41"/>
<circle cx="341.7" cy="1248.2" r="2.4" fill="#16b4c0" fill-opacity="0.51"/>
<circle cx="328.7" cy="1261.7" r="2.3" fill="#16b4c0" fill-opacity="0.30"/>
<circle cx="344.1" cy="1254.7" r="2.6" fill="#16b4c0" fill-opacity="0.50"/>
<circle cx="351.3" cy="1243" r="3.2" fill="#16b4c0" fill-opacity="0.58"/>
<circle cx="330.3" cy="1248.9" r="3.2" fill="#16b4c0" fill-opacity="0.49"/>
<circle cx="337.3" cy="1248.2" r="2.5" fill="#16b4c0" fill-opacity="0.58"/>
<circle cx="350.7" cy="1268.2" r="2.8" fill="#16b4c0" fill-opacity="0.30"/>
<ellipse cx="508.4" cy="1286.5" rx="29" ry="35.5" fill="#036872" stroke="#1a949e" stroke-width="1.6"/>
<circle cx="507.9" cy="1304.7" r="4.5" fill="#16b4c0" fill-opacity="0.26"/>
<circle cx="515.9" cy="1274.5" r="2.4" fill="#16b4c0" fill-opacity="0.50"/>
<circle cx="503.3" cy="1296.2" r="3" fill="#16b4c0" fill-opacity="0.53"/>
<circle cx="519.2" cy="1271.2" r="2" fill="#16b4c0" fill-opacity="0.51"/>
<circle cx="492.2" cy="1270.8" r="4.4" fill="#16b4c0" fill-opacity="0.33"/>
<circle cx="519.8" cy="1266.9" r="2.7" fill="#16b4c0" fill-opacity="0.35"/>
<circle cx="499.3" cy="1297.7" r="2.9" fill="#16b4c0" fill-opacity="0.24"/>
<circle cx="511.4" cy="1311.6" r="3" fill="#16b4c0" fill-opacity="0.45"/>
<circle cx="522.8" cy="1271.4" r="2.6" fill="#16b4c0" fill-opacity="0.57"/>
<circle cx="515.6" cy="1261.5" r="3.8" fill="#16b4c0" fill-opacity="0.50"/>
<circle cx="512.6" cy="1274.1" r="3.6" fill="#16b4c0" fill-opacity="0.35"/>
<circle cx="512.6" cy="1278.3" r="3.3" fill="#16b4c0" fill-opacity="0.33"/>
<circle cx="513.9" cy="1272.4" r="4.1" fill="#16b4c0" fill-opacity="0.54"/>
<circle cx="514.3" cy="1279.7" r="4.3" fill="#16b4c0" fill-opacity="0.50"/>
<circle cx="500.6" cy="1267.2" r="2.1" fill="#16b4c0" fill-opacity="0.55"/>
<circle cx="494.4" cy="1281.2" r="2.8" fill="#16b4c0" fill-opacity="0.51"/>
<circle cx="512.5" cy="1262.2" r="2.5" fill="#16b4c0" fill-opacity="0.34"/>
<circle cx="508.4" cy="1294.9" r="2.8" fill="#16b4c0" fill-opacity="0.21"/>
<circle cx="511.4" cy="1274.4" r="2.2" fill="#16b4c0" fill-opacity="0.23"/>
<circle cx="507.9" cy="1274.7" r="3.2" fill="#16b4c0" fill-opacity="0.36"/>
<ellipse cx="350" cy="1318" rx="33" ry="30" fill="#036872" stroke="#1a949e" stroke-width="1.6"/>
<circle cx="357.8" cy="1297.2" r="2.8" fill="#16b4c0" fill-opacity="0.45"/>
<circle cx="363.4" cy="1308.5" r="4.2" fill="#16b4c0" fill-opacity="0.49"/>
<circle cx="341.3" cy="1337.5" r="3.4" fill="#16b4c0" fill-opacity="0.24"/>
<circle cx="330.8" cy="1307.3" r="3.3" fill="#16b4c0" fill-opacity="0.39"/>
<circle cx="329.9" cy="1328.6" r="3.7" fill="#16b4c0" fill-opacity="0.28"/>
<circle cx="340.3" cy="1328.3" r="4.4" fill="#16b4c0" fill-opacity="0.48"/>
<circle cx="366.7" cy="1333.2" r="2.1" fill="#16b4c0" fill-opacity="0.44"/>
<circle cx="330.9" cy="1325.9" r="3.1" fill="#16b4c0" fill-opacity="0.24"/>
<circle cx="327.8" cy="1315" r="4" fill="#16b4c0" fill-opacity="0.34"/>
<circle cx="353.7" cy="1337.1" r="4" fill="#16b4c0" fill-opacity="0.29"/>
<circle cx="368.3" cy="1303" r="3.1" fill="#16b4c0" fill-opacity="0.35"/>
<circle cx="344" cy="1297" r="2.5" fill="#16b4c0" fill-opacity="0.32"/>
<circle cx="339.9" cy="1334.9" r="2.5" fill="#16b4c0" fill-opacity="0.42"/>
<circle cx="329.8" cy="1318" r="2.4" fill="#16b4c0" fill-opacity="0.58"/>
<circle cx="368.5" cy="1318" r="4" fill="#16b4c0" fill-opacity="0.27"/>
<circle cx="365.5" cy="1309.1" r="3.9" fill="#16b4c0" fill-opacity="0.55"/>
<circle cx="334.6" cy="1334.5" r="2.5" fill="#16b4c0" fill-opacity="0.21"/>
<circle cx="326.5" cy="1317.7" r="4.3" fill="#16b4c0" fill-opacity="0.58"/>
<circle cx="326.2" cy="1316.5" r="3.4" fill="#16b4c0" fill-opacity="0.26"/>
<ellipse cx="418" cy="1320" rx="33" ry="30" fill="#036872" stroke="#1a949e" stroke-width="1.6"/>
<circle cx="402.9" cy="1305.2" r="3.1" fill="#16b4c0" fill-opacity="0.44"/>
<circle cx="417.3" cy="1331.8" r="3.1" fill="#16b4c0" fill-opacity="0.41"/>
<circle cx="410.6" cy="1321.4" r="2" fill="#16b4c0" fill-opacity="0.34"/>
<circle cx="413.6" cy="1301" r="2.6" fill="#16b4c0" fill-opacity="0.30"/>
<circle cx="407.7" cy="1319" r="3.5" fill="#16b4c0" fill-opacity="0.56"/>
<circle cx="423.6" cy="1336.4" r="3.8" fill="#16b4c0" fill-opacity="0.50"/>
<circle cx="413.1" cy="1301.6" r="2.7" fill="#16b4c0" fill-opacity="0.54"/>
<circle cx="423.1" cy="1317.7" r="4.4" fill="#16b4c0" fill-opacity="0.38"/>
<circle cx="423.6" cy="1323.1" r="4" fill="#16b4c0" fill-opacity="0.47"/>
<circle cx="428.5" cy="1331.9" r="3.6" fill="#16b4c0" fill-opacity="0.60"/>
<circle cx="406.8" cy="1336.9" r="2.6" fill="#16b4c0" fill-opacity="0.28"/>
<circle cx="426.4" cy="1332.2" r="3.5" fill="#16b4c0" fill-opacity="0.32"/>
<circle cx="424.1" cy="1328.9" r="2.2" fill="#16b4c0" fill-opacity="0.28"/>
<circle cx="410.9" cy="1334.6" r="2.5" fill="#16b4c0" fill-opacity="0.39"/>
<circle cx="395.3" cy="1328.2" r="3.2" fill="#16b4c0" fill-opacity="0.58"/>
<circle cx="407.2" cy="1321.8" r="3.5" fill="#16b4c0" fill-opacity="0.26"/>
<circle cx="421.3" cy="1325.3" r="3.8" fill="#16b4c0" fill-opacity="0.59"/>
<circle cx="405.9" cy="1327.6" r="3.1" fill="#16b4c0" fill-opacity="0.34"/>
<circle cx="412.4" cy="1306.9" r="2.4" fill="#16b4c0" fill-opacity="0.55"/>
<ellipse cx="573" cy="1330" rx="35" ry="25" fill="#036872" stroke="#1a949e" stroke-width="1.6"/>
<circle cx="571.1" cy="1329.3" r="4.1" fill="#16b4c0" fill-opacity="0.49"/>
<circle cx="560.3" cy="1341.8" r="4.3" fill="#16b4c0" fill-opacity="0.36"/>
<circle cx="559.9" cy="1334.2" r="3.4" fill="#16b4c0" fill-opacity="0.47"/>
<circle cx="570.6" cy="1311.8" r="2.4" fill="#16b4c0" fill-opacity="0.35"/>
<circle cx="586.9" cy="1316.6" r="3.5" fill="#16b4c0" fill-opacity="0.47"/>
<circle cx="559.3" cy="1345.4" r="3.4" fill="#16b4c0" fill-opacity="0.36"/>
<circle cx="576.7" cy="1335.8" r="4.2" fill="#16b4c0" fill-opacity="0.52"/>
<circle cx="587.7" cy="1331.8" r="3.2" fill="#16b4c0" fill-opacity="0.40"/>
<circle cx="556.8" cy="1343.4" r="2.9" fill="#16b4c0" fill-opacity="0.41"/>
<circle cx="592" cy="1323.6" r="3.2" fill="#16b4c0" fill-opacity="0.33"/>
<circle cx="557.5" cy="1339.5" r="4" fill="#16b4c0" fill-opacity="0.30"/>
<circle cx="561.8" cy="1338.5" r="2.9" fill="#16b4c0" fill-opacity="0.57"/>
<circle cx="559.6" cy="1327.6" r="2.8" fill="#16b4c0" fill-opacity="0.53"/>
<circle cx="584.7" cy="1343.2" r="2.1" fill="#16b4c0" fill-opacity="0.28"/>
<circle cx="594.9" cy="1336.1" r="2.4" fill="#16b4c0" fill-opacity="0.29"/>
<circle cx="585.6" cy="1333.4" r="3.8" fill="#16b4c0" fill-opacity="0.49"/>
<circle cx="594.6" cy="1320.3" r="3.4" fill="#16b4c0" fill-opacity="0.57"/>
</g>
<path d="M524.6,1054.5 L532.3,1086.1" fill="none" stroke="#f07070" stroke-width="2.4" stroke-linecap="round" stroke-linejoin="round"/>
<path d="M595.5,1047.7 L614.3,1091.3" fill="none" stroke="#f07070" stroke-width="2.2" stroke-linecap="round" stroke-linejoin="round"/>
<path d="M446,1107.5 L465.6,1148.5" fill="none" stroke="#f07070" stroke-width="2.4" stroke-linecap="round" stroke-linejoin="round"/>
<path d="M365.7,1145 L386.2,1198" fill="none" stroke="#e84848" stroke-width="2.4" stroke-linecap="round" stroke-linejoin="round"/>
<path d="M587.8,1140.8 L594.6,1187.8" fill="none" stroke="#f07070" stroke-width="2.6" stroke-linecap="round" stroke-linejoin="round"/>
<path d="M522,1171.6 L534.8,1203.2" fill="none" stroke="#f0a0a0" stroke-width="2" stroke-linecap="round" stroke-linejoin="round"/>
<path d="M453.7,1204.9 L471.6,1252.7" fill="none" stroke="#e84848" stroke-width="2.6" stroke-linecap="round" stroke-linejoin="round"/>
<path d="M564.7,1227.1 L583.5,1262.1" fill="none" stroke="#f07070" stroke-width="2.2" stroke-linecap="round" stroke-linejoin="round"/>
<path d="M524.6,1284.3 L523.7,1320.2" fill="none" stroke="#e84848" stroke-width="2.6" stroke-linecap="round" stroke-linejoin="round"/>
<path d="M354.6,1320.2 L358,1340" fill="none" stroke="#f07070" stroke-width="2" stroke-linecap="round" stroke-linejoin="round"/>
<path d="M443.4,1320.2 L446,1340" fill="none" stroke="#f07070" stroke-width="2" stroke-linecap="round" stroke-linejoin="round"/>
</g>
<text x="329.5" y="1326" font-size="33.5" fill="#f2f2f2">pLXSH</text>
<rect x="503.3" y="1322.5" width="100.7" height="8" fill="#f2f2f2"/>
<text x="507" y="1312" font-size="33.5" fill="#f2f2f2">20 µM</text>
<clipPath id="cp9"><rect x="11" y="1454.5" width="298" height="296.1"/></clipPath>
<rect x="11" y="1454.5" width="298" height="296.1" fill="#000"/>
<g clip-path="url(#cp9)">
<g filter="url(#blurG)">
<ellipse cx="50" cy="1483" rx="35" ry="32" fill="#049ca2"/>
<circle cx="71.4" cy="1495.3" r="4.3" fill="#1cbcc0" fill-opacity="0.30"/>
<circle cx="49.7" cy="1460.8" r="4.2" fill="#1cbcc0" fill-opacity="0.27"/>
<circle cx="65.9" cy="1468.1" r="4.8" fill="#1cbcc0" fill-opacity="0.49"/>
<circle cx="56" cy="1484.3" r="3.4" fill="#1cbcc0" fill-opacity="0.26"/>
<circle cx="44.6" cy="1464.6" r="3.3" fill="#1cbcc0" fill-opacity="0.29"/>
<circle cx="58.6" cy="1500" r="5" fill="#1cbcc0" fill-opacity="0.49"/>
<circle cx="33.4" cy="1501.2" r="4.3" fill="#1cbcc0" fill-opacity="0.35"/>
<circle cx="49.7" cy="1494.6" r="5.9" fill="#1cbcc0" fill-opacity="0.50"/>
<circle cx="47" cy="1473.3" r="3.5" fill="#1cbcc0" fill-opacity="0.29"/>
<ellipse cx="269" cy="1492" rx="34" ry="45" fill="#049ca2"/>
<circle cx="256" cy="1515.3" r="3.2" fill="#1cbcc0" fill-opacity="0.38"/>
<circle cx="267" cy="1486.4" r="4.3" fill="#1cbcc0" fill-opacity="0.45"/>
<circle cx="253.8" cy="1481.6" r="5.6" fill="#1cbcc0" fill-opacity="0.40"/>
<circle cx="260.7" cy="1510.1" r="5.8" fill="#1cbcc0" fill-opacity="0.46"/>
<circle cx="285.4" cy="1479.1" r="3.4" fill="#1cbcc0" fill-opacity="0.29"/>
<circle cx="253.3" cy="1510.8" r="3" fill="#1cbcc0" fill-opacity="0.45"/>
<circle cx="273.1" cy="1468.4" r="3" fill="#1cbcc0" fill-opacity="0.45"/>
<circle cx="251.1" cy="1506.2" r="4.7" fill="#1cbcc0" fill-opacity="0.43"/>
<circle cx="248" cy="1509.9" r="5.9" fill="#1cbcc0" fill-opacity="0.48"/>
<circle cx="258.3" cy="1479.4" r="4.1" fill="#1cbcc0" fill-opacity="0.32"/>
<circle cx="287.7" cy="1474.9" r="5.4" fill="#1cbcc0" fill-opacity="0.46"/>
<circle cx="290.1" cy="1490.4" r="4" fill="#1cbcc0" fill-opacity="0.44"/>
<ellipse cx="315" cy="1497" rx="12" ry="22" fill="#049ca2"/>
<circle cx="314.5" cy="1509.9" r="3.5" fill="#1cbcc0" fill-opacity="0.46"/>
<circle cx="310.3" cy="1497.6" r="5.8" fill="#1cbcc0" fill-opacity="0.27"/>
<ellipse cx="178.7" cy="1556" rx="36.3" ry="34.2" fill="#049ca2"/>
<circle cx="200.1" cy="1546.5" r="3.4" fill="#1cbcc0" fill-opacity="0.44"/>
<circle cx="155.5" cy="1545.1" r="4.8" fill="#1cbcc0" fill-opacity="0.36"/>
<circle cx="186" cy="1552.9" r="5.3" fill="#1cbcc0" fill-opacity="0.28"/>
<circle cx="177.2" cy="1564.5" r="5.6" fill="#1cbcc0" fill-opacity="0.36"/>
<circle cx="176.7" cy="1543.1" r="5.2" fill="#1cbcc0" fill-opacity="0.41"/>
<circle cx="194.3" cy="1566.4" r="5.2" fill="#1cbcc0" fill-opacity="0.30"/>
<circle cx="170.6" cy="1544.8" r="4.1" fill="#1cbcc0" fill-opacity="0.48"/>
<circle cx="204.2" cy="1547" r="4.3" fill="#1cbcc0" fill-opacity="0.39"/>
<circle cx="187.2" cy="1535.2" r="4.4" fill="#1cbcc0" fill-opacity="0.47"/>
<circle cx="157.1" cy="1570.5" r="4.4" fill="#1cbcc0" fill-opacity="0.28"/>
<ellipse cx="269" cy="1573.3" rx="40" ry="30" fill="#049ca2"/>
<circle cx="268.9" cy="1564.7" r="5" fill="#1cbcc0" fill-opacity="0.26"/>
<circle cx="291" cy="1572.1" r="5.2" fill="#1cbcc0" fill-opacity="0.28"/>
<circle cx="257" cy="1562.8" r="3.7" fill="#1cbcc0" fill-opacity="0.45"/>
<circle cx="289.3" cy="1576.5" r="3.3" fill="#1cbcc0" fill-opacity="0.46"/>
<circle cx="273.4" cy="1570.7" r="4.4" fill="#1cbcc0" fill-opacity="0.37"/>
<circle cx="264" cy="1554.5" r="4" fill="#1cbcc0" fill-opacity="0.48"/>
<circle cx="273.4" cy="1580.9" r="5.4" fill="#1cbcc0" fill-opacity="0.28"/>
<circle cx="277.3" cy="1587.9" r="4" fill="#1cbcc0" fill-opacity="0.29"/>
<circle cx="287.7" cy="1566.7" r="5.4" fill="#1cbcc0" fill-opacity="0.31"/>
<circle cx="281" cy="1567.8" r="5.7" fill="#1cbcc0" fill-opacity="0.40"/>
<ellipse cx="59.5" cy="1585.3" rx="41" ry="33.3" fill="#049ca2"/>
<circle cx="86.1" cy="1581.3" r="4.9" fill="#1cbcc0" fill-opacity="0.38"/>
<circle cx="72" cy="1572.1" r="3.3" fill="#1cbcc0" fill-opacity="0.48"/>
<circle cx="68.2" cy="1565.9" r="5.2" fill="#1cbcc0" fill-opacity="0.31"/>
<circle cx="32.3" cy="1590.5" r="5.9" fill="#1cbcc0" fill-opacity="0.48"/>
<circle cx="73.1" cy="1602.8" r="4.7" fill="#1cbcc0" fill-opacity="0.35"/>
<circle cx="65.1" cy="1593.3" r="4.4" fill="#1cbcc0" fill-opacity="0.37"/>
<circle cx="57.4" cy="1600.3" r="4.7" fill="#1cbcc0" fill-opacity="0.44"/>
<circle cx="49" cy="1579.9" r="5.7" fill="#1cbcc0" fill-opacity="0.34"/>
<circle cx="89" cy="1579.1" r="3.4" fill="#1cbcc0" fill-opacity="0.40"/>
<circle cx="78.2" cy="1582.1" r="4.6" fill="#1cbcc0" fill-opacity="0.33"/>
<circle cx="73.2" cy="1587.3" r="3.4" fill="#1cbcc0" fill-opacity="0.32"/>
<ellipse cx="125" cy="1612.6" rx="28.6" ry="30" fill="#049ca2"/>
<circle cx="113.9" cy="1600.3" r="5.8" fill="#1cbcc0" fill-opacity="0.42"/>
<circle cx="111.4" cy="1629.3" r="4.9" fill="#1cbcc0" fill-opacity="0.39"/>
<circle cx="136.4" cy="1598.6" r="4.1" fill="#1cbcc0" fill-opacity="0.40"/>
<circle cx="118.4" cy="1633.7" r="3.7" fill="#1cbcc0" fill-opacity="0.49"/>
<circle cx="127" cy="1613.5" r="4.7" fill="#1cbcc0" fill-opacity="0.30"/>
<circle cx="117.6" cy="1612.2" r="5.5" fill="#1cbcc0" fill-opacity="0.42"/>
<circle cx="116.7" cy="1592.8" r="6" fill="#1cbcc0" fill-opacity="0.42"/>
<ellipse cx="10" cy="1642" rx="14" ry="27" fill="#049ca2"/>
<circle cx="9.9" cy="1641.2" r="3.1" fill="#1cbcc0" fill-opacity="0.36"/>
<circle cx="15.8" cy="1639.8" r="4.7" fill="#1cbcc0" fill-opacity="0.25"/>
<circle cx="1.4" cy="1651.7" r="4.8" fill="#1cbcc0" fill-opacity="0.46"/>
<ellipse cx="222.3" cy="1657.9" rx="40.6" ry="32.5" fill="#049ca2"/>
<circle cx="236" cy="1658.8" r="3.5" fill="#1cbcc0" fill-opacity="0.46"/>
<circle cx="245.9" cy="1671.9" r="3.8" fill="#1cbcc0" fill-opacity="0.47"/>
<circle cx="205.1" cy="1656.5" r="5.9" fill="#1cbcc0" fill-opacity="0.35"/>
<circle cx="219.7" cy="1651.9" r="5.5" fill="#1cbcc0" fill-opacity="0.50"/>
<circle cx="242.5" cy="1671.4" r="3.8" fill="#1cbcc0" fill-opacity="0.29"/>
<circle cx="206" cy="1672.8" r="5.9" fill="#1cbcc0" fill-opacity="0.50"/>
<circle cx="246.3" cy="1657.1" r="5" fill="#1cbcc0" fill-opacity="0.29"/>
<circle cx="218.9" cy="1640" r="4.1" fill="#1cbcc0" fill-opacity="0.48"/>
<circle cx="221.9" cy="1667.1" r="3.5" fill="#1cbcc0" fill-opacity="0.29"/>
<circle cx="199.2" cy="1646.4" r="3.5" fill="#1cbcc0" fill-opacity="0.38"/>
<ellipse cx="305" cy="1640" rx="27" ry="28" fill="#049ca2"/>
<circle cx="291.5" cy="1632.9" r="4.2" fill="#1cbcc0" fill-opacity="0.39"/>
<circle cx="309.9" cy="1640.5" r="4.3" fill="#1cbcc0" fill-opacity="0.31"/>
<circle cx="305.4" cy="1629.7" r="5.5" fill="#1cbcc0" fill-opacity="0.31"/>
<circle cx="316.7" cy="1648" r="4.2" fill="#1cbcc0" fill-opacity="0.33"/>
<circle cx="305.9" cy="1630.1" r="5" fill="#1cbcc0" fill-opacity="0.46"/>
<circle cx="291.3" cy="1644.4" r="5.8" fill="#1cbcc0" fill-opacity="0.40"/>
<ellipse cx="305" cy="1706" rx="32" ry="36" fill="#049ca2"/>
<circle cx="307.7" cy="1712.5" r="3.2" fill="#1cbcc0" fill-opacity="0.33"/>
<circle cx="321.4" cy="1717.5" r="4.3" fill="#1cbcc0" fill-opacity="0.33"/>
<circle cx="281.8" cy="1704" r="3.7" fill="#1cbcc0" fill-opacity="0.29"/>
<circle cx="300.3" cy="1720.5" r="5.7" fill="#1cbcc0" fill-opacity="0.43"/>
<circle cx="296.2" cy="1710.8" r="3.1" fill="#1cbcc0" fill-opacity="0.28"/>
<circle cx="316.1" cy="1688.2" r="3.5" fill="#1cbcc0" fill-opacity="0.41"/>
<circle cx="321" cy="1712.9" r="4" fill="#1cbcc0" fill-opacity="0.28"/>
<circle cx="304" cy="1683.2" r="4.5" fill="#1cbcc0" fill-opacity="0.29"/>
<circle cx="297.4" cy="1690.4" r="5" fill="#1cbcc0" fill-opacity="0.27"/>
<ellipse cx="110.3" cy="1716.9" rx="33.8" ry="32.5" fill="#049ca2"/>
<circle cx="111.5" cy="1716.1" r="3.7" fill="#1cbcc0" fill-opacity="0.35"/>
<circle cx="112.7" cy="1723.7" r="5.1" fill="#1cbcc0" fill-opacity="0.50"/>
<circle cx="103.6" cy="1727.7" r="5" fill="#1cbcc0" fill-opacity="0.31"/>
<circle cx="93.2" cy="1728.7" r="4.3" fill="#1cbcc0" fill-opacity="0.29"/>
<circle cx="127.2" cy="1724.6" r="6" fill="#1cbcc0" fill-opacity="0.48"/>
<circle cx="124.8" cy="1727" r="4.5" fill="#1cbcc0" fill-opacity="0.30"/>
<circle cx="101.7" cy="1701.9" r="5.4" fill="#1cbcc0" fill-opacity="0.32"/>
<circle cx="131.2" cy="1708" r="4.4" fill="#1cbcc0" fill-opacity="0.29"/>
<circle cx="101.3" cy="1717.8" r="5.1" fill="#1cbcc0" fill-opacity="0.42"/>
<ellipse cx="30" cy="1755" rx="25" ry="20" fill="#049ca2"/>
<circle cx="13.7" cy="1748" r="3.1" fill="#1cbcc0" fill-opacity="0.43"/>
<circle cx="32" cy="1750.2" r="4" fill="#1cbcc0" fill-opacity="0.26"/>
<circle cx="16.2" cy="1748.6" r="4" fill="#1cbcc0" fill-opacity="0.42"/>
<circle cx="19.4" cy="1764.4" r="3.8" fill="#1cbcc0" fill-opacity="0.49"/>
<ellipse cx="158" cy="1757" rx="22" ry="22" fill="#049ca2"/>
<circle cx="157.1" cy="1757.4" r="3.3" fill="#1cbcc0" fill-opacity="0.43"/>
<circle cx="166.7" cy="1747.1" r="3.5" fill="#1cbcc0" fill-opacity="0.47"/>
<circle cx="156.8" cy="1751.5" r="4.1" fill="#1cbcc0" fill-opacity="0.42"/>
<circle cx="161.4" cy="1757.1" r="4.1" fill="#1cbcc0" fill-opacity="0.47"/>
</g>
<path d="M26,1504 L29,1508" fill="none" stroke="#c01818" stroke-width="3.5" stroke-linecap="round" stroke-linejoin="round"/>
<path d="M96,1603 L98,1607" fill="none" stroke="#c01818" stroke-width="3.5" stroke-linecap="round" stroke-linejoin="round"/>
<path d="M234,1541 L240,1543" fill="none" stroke="#c01818" stroke-width="3.5" stroke-linecap="round" stroke-linejoin="round"/>
<path d="M236,1691 L246,1692" fill="none" stroke="#c01818" stroke-width="2.4" stroke-linecap="round" stroke-linejoin="round"/>
<path d="M140,1729 L141,1737" fill="none" stroke="#b01515" stroke-width="3.5" stroke-linecap="round" stroke-linejoin="round"/>
</g>
<text x="21.5" y="1492.5" font-size="42" fill="#f2f2f2" font-weight="bold">G</text>
<text x="73" y="1487" font-size="32.5"><tspan fill="#d81e1e">Arl13b</tspan><tspan fill="#f0f0f0">/</tspan><tspan fill="#2ed82e">&#947;-tubulin</tspan></text>
<text x="24" y="1696.5" font-size="33.5" fill="#f2f2f2">Foxc1</text>
<text x="24" y="1733" font-size="33.5" fill="#f2f2f2">crispr</text>
<clipPath id="cp10"><rect x="11" y="1762.3" width="298" height="296.4"/></clipPath>
<rect x="11" y="1762.3" width="298" height="296.4" fill="#000"/>
<g clip-path="url(#cp10)">
<g filter="url(#blurG)">
<ellipse cx="126" cy="1760" rx="16" ry="12" fill="#049ca2"/>
<circle cx="132.8" cy="1759.9" r="5.7" fill="#1cbcc0" fill-opacity="0.45"/>
<ellipse cx="170" cy="1798" rx="34" ry="40" fill="#049ca2"/>
<circle cx="182.9" cy="1780.8" r="5.9" fill="#1cbcc0" fill-opacity="0.41"/>
<circle cx="188.2" cy="1790.7" r="3.6" fill="#1cbcc0" fill-opacity="0.38"/>
<circle cx="155.3" cy="1799.9" r="4.1" fill="#1cbcc0" fill-opacity="0.38"/>
<circle cx="159.8" cy="1790.6" r="3.8" fill="#1cbcc0" fill-opacity="0.38"/>
<circle cx="153.5" cy="1797.5" r="5" fill="#1cbcc0" fill-opacity="0.30"/>
<circle cx="156.9" cy="1794.9" r="5.3" fill="#1cbcc0" fill-opacity="0.43"/>
<circle cx="173.6" cy="1776.8" r="3.7" fill="#1cbcc0" fill-opacity="0.48"/>
<circle cx="154.4" cy="1796.8" r="3.9" fill="#1cbcc0" fill-opacity="0.35"/>
<circle cx="164.1" cy="1771.8" r="4.4" fill="#1cbcc0" fill-opacity="0.43"/>
<circle cx="174" cy="1817.6" r="4.1" fill="#1cbcc0" fill-opacity="0.33"/>
<circle cx="155.9" cy="1818.1" r="5.2" fill="#1cbcc0" fill-opacity="0.30"/>
<ellipse cx="249" cy="1791" rx="28.2" ry="33" fill="#049ca2"/>
<circle cx="250.9" cy="1812.8" r="5" fill="#1cbcc0" fill-opacity="0.42"/>
<circle cx="237.4" cy="1775.5" r="3.8" fill="#1cbcc0" fill-opacity="0.27"/>
<circle cx="246.6" cy="1794.4" r="5.9" fill="#1cbcc0" fill-opacity="0.38"/>
<circle cx="239" cy="1769.7" r="5.4" fill="#1cbcc0" fill-opacity="0.31"/>
<circle cx="245.4" cy="1798" r="5.4" fill="#1cbcc0" fill-opacity="0.43"/>
<circle cx="236.2" cy="1792.2" r="3.8" fill="#1cbcc0" fill-opacity="0.37"/>
<circle cx="244.3" cy="1768.2" r="5.5" fill="#1cbcc0" fill-opacity="0.47"/>
<ellipse cx="5" cy="1790" rx="12" ry="18" fill="#049ca2"/>
<circle cx="-0.4" cy="1793.3" r="3.9" fill="#1cbcc0" fill-opacity="0.49"/>
<ellipse cx="312" cy="1817" rx="14" ry="30" fill="#049ca2"/>
<circle cx="313.7" cy="1825.2" r="3.8" fill="#1cbcc0" fill-opacity="0.48"/>
<circle cx="315.6" cy="1806.7" r="5.6" fill="#1cbcc0" fill-opacity="0.47"/>
<circle cx="307.9" cy="1821.4" r="5.3" fill="#1cbcc0" fill-opacity="0.34"/>
<ellipse cx="57.9" cy="1866.7" rx="32.5" ry="38.5" fill="#049ca2"/>
<circle cx="74.8" cy="1885.4" r="4.3" fill="#1cbcc0" fill-opacity="0.35"/>
<circle cx="47.7" cy="1858.5" r="3.1" fill="#1cbcc0" fill-opacity="0.35"/>
<circle cx="56" cy="1868.8" r="4.1" fill="#1cbcc0" fill-opacity="0.44"/>
<circle cx="47.9" cy="1887.3" r="4.9" fill="#1cbcc0" fill-opacity="0.30"/>
<circle cx="77.8" cy="1869.7" r="4.8" fill="#1cbcc0" fill-opacity="0.32"/>
<circle cx="64.8" cy="1892.1" r="5.7" fill="#1cbcc0" fill-opacity="0.31"/>
<circle cx="42.1" cy="1855.4" r="4" fill="#1cbcc0" fill-opacity="0.26"/>
<circle cx="49" cy="1887.3" r="4.8" fill="#1cbcc0" fill-opacity="0.38"/>
<circle cx="66" cy="1876" r="3.9" fill="#1cbcc0" fill-opacity="0.35"/>
<circle cx="42.8" cy="1887.5" r="3.3" fill="#1cbcc0" fill-opacity="0.50"/>
<ellipse cx="162" cy="1883.5" rx="42" ry="37.2" fill="#049ca2"/>
<circle cx="163.8" cy="1909.3" r="3.7" fill="#1cbcc0" fill-opacity="0.40"/>
<circle cx="157.6" cy="1887.3" r="5.4" fill="#1cbcc0" fill-opacity="0.45"/>
<circle cx="158.7" cy="1907.9" r="4.4" fill="#1cbcc0" fill-opacity="0.50"/>
<circle cx="180.3" cy="1889.3" r="3.7" fill="#1cbcc0" fill-opacity="0.41"/>
<circle cx="167" cy="1858.3" r="4.6" fill="#1cbcc0" fill-opacity="0.35"/>
<circle cx="165.1" cy="1874.9" r="3.8" fill="#1cbcc0" fill-opacity="0.44"/>
<circle cx="132.8" cy="1893.7" r="3.3" fill="#1cbcc0" fill-opacity="0.37"/>
<circle cx="162.3" cy="1884.8" r="3.3" fill="#1cbcc0" fill-opacity="0.27"/>
<circle cx="147.9" cy="1897" r="4.5" fill="#1cbcc0" fill-opacity="0.32"/>
<circle cx="155.3" cy="1864.4" r="5.9" fill="#1cbcc0" fill-opacity="0.29"/>
<circle cx="139.9" cy="1882.2" r="4.1" fill="#1cbcc0" fill-opacity="0.47"/>
<circle cx="169.4" cy="1908.8" r="4.1" fill="#1cbcc0" fill-opacity="0.33"/>
<circle cx="144.2" cy="1869.7" r="3.9" fill="#1cbcc0" fill-opacity="0.27"/>
<ellipse cx="243.6" cy="1943.3" rx="38" ry="45" fill="#049ca2"/>
<circle cx="260.2" cy="1937.6" r="3.3" fill="#1cbcc0" fill-opacity="0.41"/>
<circle cx="227.6" cy="1939.4" r="4" fill="#1cbcc0" fill-opacity="0.46"/>
<circle cx="233.9" cy="1961.8" r="5.9" fill="#1cbcc0" fill-opacity="0.34"/>
<circle cx="234.2" cy="1951.1" r="5" fill="#1cbcc0" fill-opacity="0.42"/>
<circle cx="226.5" cy="1950.4" r="3.7" fill="#1cbcc0" fill-opacity="0.45"/>
<circle cx="218.5" cy="1951.5" r="4.1" fill="#1cbcc0" fill-opacity="0.43"/>
<circle cx="256.7" cy="1946.1" r="5.9" fill="#1cbcc0" fill-opacity="0.42"/>
<circle cx="234.6" cy="1922.1" r="4.4" fill="#1cbcc0" fill-opacity="0.30"/>
<circle cx="254.2" cy="1967.3" r="5.1" fill="#1cbcc0" fill-opacity="0.31"/>
<circle cx="237.1" cy="1933.5" r="4.8" fill="#1cbcc0" fill-opacity="0.29"/>
<circle cx="227.7" cy="1942.2" r="4.7" fill="#1cbcc0" fill-opacity="0.28"/>
<circle cx="221.3" cy="1946.1" r="3.4" fill="#1cbcc0" fill-opacity="0.33"/>
<circle cx="234.5" cy="1920.8" r="4.9" fill="#1cbcc0" fill-opacity="0.44"/>
<circle cx="231.5" cy="1936.4" r="4.3" fill="#1cbcc0" fill-opacity="0.46"/>
<ellipse cx="305" cy="1958.6" rx="27" ry="40" fill="#049ca2"/>
<circle cx="288.9" cy="1948" r="4.1" fill="#1cbcc0" fill-opacity="0.36"/>
<circle cx="323" cy="1953.5" r="5" fill="#1cbcc0" fill-opacity="0.28"/>
<circle cx="302.2" cy="1955.1" r="5.8" fill="#1cbcc0" fill-opacity="0.49"/>
<circle cx="303.6" cy="1943.2" r="5.5" fill="#1cbcc0" fill-opacity="0.29"/>
<circle cx="311.9" cy="1939.5" r="3" fill="#1cbcc0" fill-opacity="0.47"/>
<circle cx="287.8" cy="1968.7" r="5.1" fill="#1cbcc0" fill-opacity="0.38"/>
<circle cx="310.9" cy="1948.3" r="5.7" fill="#1cbcc0" fill-opacity="0.33"/>
<circle cx="316.6" cy="1961.4" r="3.2" fill="#1cbcc0" fill-opacity="0.27"/>
<circle cx="300" cy="1951.3" r="3.5" fill="#1cbcc0" fill-opacity="0.32"/>
<ellipse cx="173.2" cy="1955.2" rx="30" ry="25.2" fill="#049ca2"/>
<circle cx="169.3" cy="1973" r="5.7" fill="#1cbcc0" fill-opacity="0.47"/>
<circle cx="188.1" cy="1954.4" r="5.4" fill="#1cbcc0" fill-opacity="0.32"/>
<circle cx="191.3" cy="1947.6" r="5.2" fill="#1cbcc0" fill-opacity="0.31"/>
<circle cx="191.4" cy="1965.1" r="4.7" fill="#1cbcc0" fill-opacity="0.40"/>
<circle cx="178.7" cy="1949.7" r="5.1" fill="#1cbcc0" fill-opacity="0.37"/>
<circle cx="176.6" cy="1942.8" r="3.6" fill="#1cbcc0" fill-opacity="0.49"/>
<ellipse cx="81.7" cy="1972.7" rx="36.7" ry="38.4" fill="#049ca2"/>
<circle cx="77.1" cy="1997.1" r="5.5" fill="#1cbcc0" fill-opacity="0.31"/>
<circle cx="75.8" cy="1955.6" r="3.7" fill="#1cbcc0" fill-opacity="0.30"/>
<circle cx="97.7" cy="1967.7" r="4.5" fill="#1cbcc0" fill-opacity="0.38"/>
<circle cx="105.3" cy="1976.9" r="5.2" fill="#1cbcc0" fill-opacity="0.47"/>
<circle cx="73.9" cy="1983" r="4" fill="#1cbcc0" fill-opacity="0.43"/>
<circle cx="72.1" cy="1957.3" r="4.6" fill="#1cbcc0" fill-opacity="0.29"/>
<circle cx="98.2" cy="1963" r="4.5" fill="#1cbcc0" fill-opacity="0.45"/>
<circle cx="89.2" cy="1995.9" r="4.1" fill="#1cbcc0" fill-opacity="0.45"/>
<circle cx="93.7" cy="1981.2" r="4.9" fill="#1cbcc0" fill-opacity="0.37"/>
<circle cx="66.7" cy="1988" r="3.7" fill="#1cbcc0" fill-opacity="0.36"/>
<circle cx="106.3" cy="1973" r="3.8" fill="#1cbcc0" fill-opacity="0.46"/>
<ellipse cx="15" cy="1963.7" rx="18" ry="33" fill="#049ca2"/>
<circle cx="5.1" cy="1957.5" r="4.9" fill="#1cbcc0" fill-opacity="0.28"/>
<circle cx="16.2" cy="1950.5" r="5.6" fill="#1cbcc0" fill-opacity="0.45"/>
<circle cx="9.7" cy="1943.6" r="4.3" fill="#1cbcc0" fill-opacity="0.42"/>
<circle cx="20.6" cy="1960.6" r="3.3" fill="#1cbcc0" fill-opacity="0.35"/>
</g>
<path d="M35.6,1827.5 L38.2,1838.6" fill="none" stroke="#c01818" stroke-width="3.5" stroke-linecap="round" stroke-linejoin="round"/>
<path d="M206.5,1817.2 L207.3,1829.2" fill="none" stroke="#c01818" stroke-width="2.4" stroke-linecap="round" stroke-linejoin="round"/>
<path d="M131.3,1924 L146.7,1920.6" fill="none" stroke="#e03030" stroke-width="2.6" stroke-linecap="round" stroke-linejoin="round"/>
<path d="M105.7,1946.2 L117.6,1953" fill="none" stroke="#c01818" stroke-width="2.6" stroke-linecap="round" stroke-linejoin="round"/>
<path d="M279.9,1963.3 L280.8,1977" fill="none" stroke="#e03030" stroke-width="3.5" stroke-linecap="round" stroke-linejoin="round"/>
</g>
<text x="24" y="2004.5" font-size="33.5" fill="#f2f2f2">Ctrl</text>
<text x="24" y="2040.5" font-size="33.5" fill="#f2f2f2">crispr</text>
<rect x="196.3" y="2040.8" width="101.7" height="8" fill="#f2f2f2"/>
<text x="200.5" y="2030" font-size="33.5" fill="#f2f2f2">20 µM</text>
<text x="645" y="96.5" font-size="40" font-weight="bold">B</text>
<text x="685.5" y="98.6" font-size="33" font-style="italic">P</text>
<text x="707.1" y="109.9" font-size="20" font-style="italic">KW</text>
<text x="744.3" y="98.6" font-size="33">≤</text>
<text x="771.5" y="98.6" font-size="33" font-style="italic">0.007</text>
<text x="867.3" y="95.6" font-size="30">**</text>
<text x="915.1" y="98.1" font-size="33" font-style="italic">n.s.</text>
<polyline points="750.5,60.5 941.8,60.5 941.8,71" fill="none" stroke="#111" stroke-width="3.4"/>
<line x1="904.2" y1="111" x2="976" y2="111" stroke="#111" stroke-width="3.4"/>
<text x="668.5" y="336" font-size="33" text-anchor="middle" transform="rotate(-90 668.5 336)">Relative cilia length</text>
<line x1="736.5" y1="127.2" x2="736.5" y2="543" stroke="#111" stroke-width="3.4"/>
<line x1="729.5" y1="128.9" x2="736.5" y2="128.9" stroke="#111" stroke-width="3.4"/>
<text x="724.5" y="139.7" font-size="30" text-anchor="end">3.0</text>
<line x1="729.5" y1="197.5" x2="736.5" y2="197.5" stroke="#111" stroke-width="3.4"/>
<text x="724.5" y="208.3" font-size="30" text-anchor="end">2.5</text>
<line x1="729.5" y1="266.1" x2="736.5" y2="266.1" stroke="#111" stroke-width="3.4"/>
<text x="724.5" y="276.9" font-size="30" text-anchor="end">2.0</text>
<line x1="729.5" y1="334.7" x2="736.5" y2="334.7" stroke="#111" stroke-width="3.4"/>
<text x="724.5" y="345.5" font-size="30" text-anchor="end">1.5</text>
<line x1="729.5" y1="403.3" x2="736.5" y2="403.3" stroke="#111" stroke-width="3.4"/>
<text x="724.5" y="414.1" font-size="30" text-anchor="end">1.0</text>
<line x1="729.5" y1="471.9" x2="736.5" y2="471.9" stroke="#111" stroke-width="3.4"/>
<text x="724.5" y="482.7" font-size="30" text-anchor="end">0.5</text>
<line x1="729.5" y1="540.5" x2="736.5" y2="540.5" stroke="#111" stroke-width="3.4"/>
<text x="724.5" y="551.3" font-size="30" text-anchor="end">0.0</text>
<path d="M750.4 526.9h28.81M750.4 522.4h28.81M750.4 517.9h28.81M750.4 513.3h28.81M750.4 508.8h28.81M750.4 504.3h28.81M750.4 499.8h28.81M750.4 495.2h28.81M750.4 490.7h28.81M750.4 486.2h28.81M750.4 481.6h28.81M750.4 477.1h28.81M750.4 472.6h28.81M750.4 468.1h28.81M750.4 463.5h28.81M750.4 459.0h28.81M750.4 454.5h28.81M750.4 449.9h28.81M750.4 445.4h28.81" stroke="rgb(20,110,190)" stroke-opacity="0.55" stroke-width="3.3" stroke-linecap="round" stroke-dasharray="0 3.2" fill="none"/>
<path d="M750.4 440.9h28.81M750.4 436.4h28.81M750.4 431.8h28.81M750.4 427.3h28.81M750.4 422.8h28.81M750.4 418.3h28.81M750.4 413.7h28.81M750.4 409.2h28.81" stroke="rgb(130,130,130)" stroke-opacity="0.55" stroke-width="3.3" stroke-linecap="round" stroke-dasharray="0 3.2" fill="none"/>
<path d="M750.4 404.7h28.81M750.4 400.1h28.81M750.4 395.6h28.81M750.4 391.1h28.81M750.4 386.6h28.81M750.4 382.0h28.81M750.4 377.5h28.81M750.4 373.0h28.81M750.4 368.5h28.81M750.4 363.9h28.81M750.4 359.4h28.81M750.4 354.9h28.81M750.4 350.3h28.81M750.4 345.8h28.81M750.4 341.3h28.81M750.4 336.8h28.81M750.4 332.2h28.81M753.6 327.7h22.41M750.4 323.2h28.81M750.4 318.6h28.81M752.0 314.1h25.61M755.2 309.6h19.21M760.0 305.1h9.61M758.4 300.5h12.81M760.0 296.0h9.61M755.2 291.5h19.21M760.0 287.0h9.61M755.2 282.4h19.21M763.2 277.9h3.21M763.2 273.4h3.21M763.2 268.8h3.21M763.2 264.3h3.21M764.8 259.8h0.01M764.8 255.3h0.01M763.2 250.7h3.21M763.2 246.2h3.21M763.2 241.7h3.21M763.2 237.2h3.21M764.8 232.6h0.01M764.8 228.1h0.01M764.8 214.5h0.01M764.8 196.4h0.01M764.8 191.9h0.01M764.8 187.3h0.01" stroke="rgb(10,165,95)" stroke-opacity="0.55" stroke-width="3.3" stroke-linecap="round" stroke-dasharray="0 3.2" fill="none"/>
<path d="M755.2 527.8h19.21M760.9 523.3h9.61M765.9 518.8h0.01M750.4 514.2h25.61M749.5 509.7h28.81M748.9 505.2h28.81M750.2 500.7h28.81M750.4 496.1h28.81M750.3 491.6h28.81M752.2 487.1h25.61M752.0 482.5h28.81M751.1 478.0h28.81M751.5 473.5h28.81M751.5 469.0h28.81M749.6 464.4h28.81M751.0 459.9h28.81M750.4 455.4h28.81M750.4 450.8h28.81M750.7 446.3h28.81" stroke="rgb(20,110,190)" stroke-opacity="0.55" stroke-width="3.3" stroke-linecap="round" stroke-dasharray="0 3.2" fill="none"/>
<path d="M751.3 441.8h28.81M751.8 437.3h28.81M750.6 432.7h28.81M751.6 428.2h28.81M750.2 423.7h28.81M750.4 419.2h28.81M750.8 414.6h28.81M749.5 410.1h28.81" stroke="rgb(130,130,130)" stroke-opacity="0.55" stroke-width="3.3" stroke-linecap="round" stroke-dasharray="0 3.2" fill="none"/>
<path d="M751.4 405.6h28.81M749.1 401.0h28.81M749.2 396.5h28.81M750.5 392.0h28.81M750.3 387.5h28.81M750.0 382.9h28.81M750.4 378.4h28.81M748.9 373.9h28.81M751.1 369.4h28.81M751.4 364.8h28.81M750.1 360.3h28.81M753.8 355.8h19.21M758.0 351.2h16.01M756.2 346.7h16.01M750.1 342.2h28.81M761.7 337.7h3.21M763.4 333.1h3.21M760.0 324.1h9.61" stroke="rgb(10,165,95)" stroke-opacity="0.55" stroke-width="3.3" stroke-linecap="round" stroke-dasharray="0 3.2" fill="none"/>
<path d="M759.8 508.8h12.81M750.5 504.3h28.81M756.9 499.8h12.81M762.3 495.2h3.21M762.5 490.7h3.21M753.2 481.6h25.61M765.5 477.1h0.01M750.9 472.6h28.81M753.6 468.1h22.41M751.4 463.5h28.81M759.0 459.0h12.81M752.9 454.5h25.61M748.9 449.9h28.81M750.1 445.4h28.81" stroke="rgb(20,110,190)" stroke-opacity="0.55" stroke-width="3.3" stroke-linecap="round" stroke-dasharray="0 3.2" fill="none"/>
<path d="M750.5 440.9h28.81M757.0 436.4h16.01M751.9 431.8h28.81M751.2 427.3h28.81M749.0 422.8h28.81M750.4 418.3h28.81M752.4 413.7h25.61M749.4 409.2h28.81" stroke="rgb(130,130,130)" stroke-opacity="0.55" stroke-width="3.3" stroke-linecap="round" stroke-dasharray="0 3.2" fill="none"/>
<path d="M751.4 404.7h28.81M748.9 400.1h28.81M750.8 395.6h28.81M758.9 391.1h9.61M754.6 386.6h19.21M750.1 382.0h28.81M759.1 377.5h9.61M748.9 373.0h28.81M751.0 368.5h28.81M756.9 363.9h16.01M755.4 359.4h19.21M760.8 341.3h6.41" stroke="rgb(10,165,95)" stroke-opacity="0.55" stroke-width="3.3" stroke-linecap="round" stroke-dasharray="0 3.2" fill="none"/>
<path d="M763.0 505.2h6.41M759.4 473.5h9.61M761.3 464.4h6.41M761.7 450.8h3.21M757.3 446.3h12.81" stroke="rgb(20,110,190)" stroke-opacity="0.55" stroke-width="3.3" stroke-linecap="round" stroke-dasharray="0 3.2" fill="none"/>
<path d="M766.0 441.8h0.01M763.2 432.7h0.01M757.8 428.2h16.01M764.4 423.7h3.21M761.1 419.2h6.41M763.5 410.1h3.21" stroke="rgb(130,130,130)" stroke-opacity="0.55" stroke-width="3.3" stroke-linecap="round" stroke-dasharray="0 3.2" fill="none"/>
<path d="M751.2 405.6h25.61M752.0 401.0h22.41M754.7 396.5h19.21M762.2 382.9h3.21M758.9 373.9h9.61M755.3 369.4h19.21" stroke="rgb(10,165,95)" stroke-opacity="0.55" stroke-width="3.3" stroke-linecap="round" stroke-dasharray="0 3.2" fill="none"/>
<path d="M803.5 531.4h0.01M789.1 526.9h28.81M789.1 522.4h28.81M789.1 517.9h28.81M789.1 513.3h28.81M789.1 508.8h28.81M789.1 504.3h28.81M789.1 499.8h28.81M789.1 495.2h28.81M789.1 490.7h28.81M789.1 486.2h28.81M789.1 481.6h28.81M789.1 477.1h28.81M789.1 472.6h28.81M789.1 468.1h28.81M789.1 463.5h28.81M789.1 459.0h28.81M789.1 454.5h28.81M789.1 449.9h28.81M789.1 445.4h28.81" stroke="rgb(20,110,190)" stroke-opacity="0.55" stroke-width="3.3" stroke-linecap="round" stroke-dasharray="0 3.2" fill="none"/>
<path d="M789.1 440.9h28.81M789.1 436.4h28.81M789.1 431.8h28.81M789.1 427.3h28.81M789.1 422.8h28.81M789.1 418.3h28.81M789.1 413.7h28.81M789.1 409.2h28.81" stroke="rgb(130,130,130)" stroke-opacity="0.55" stroke-width="3.3" stroke-linecap="round" stroke-dasharray="0 3.2" fill="none"/>
<path d="M789.1 404.7h28.81M789.1 400.1h28.81M789.1 395.6h28.81M789.1 391.1h28.81M789.1 386.6h28.81M789.1 382.0h28.81M789.1 377.5h28.81M789.1 373.0h28.81M789.1 368.5h28.81M789.1 363.9h28.81M789.1 359.4h28.81M789.1 354.9h28.81M789.1 350.3h28.81M789.1 345.8h28.81M790.7 341.3h25.61M790.7 336.8h25.61M789.1 332.2h28.81M790.7 327.7h25.61M792.3 323.2h22.41M797.1 318.6h12.81M795.5 314.1h16.01M797.1 309.6h12.81M797.1 305.1h12.81M795.5 300.5h16.01M798.7 296.0h9.61M801.9 291.5h3.21M801.9 287.0h3.21M803.5 282.4h0.01M801.9 277.9h3.21M801.9 273.4h3.21M803.5 268.8h0.01M801.9 264.3h3.21M803.5 259.8h0.01M801.9 255.3h3.21M803.5 250.7h0.01M803.5 232.6h0.01M803.5 228.1h0.01M803.5 214.5h0.01M803.5 205.5h0.01M803.5 196.4h0.01" stroke="rgb(10,165,95)" stroke-opacity="0.55" stroke-width="3.3" stroke-linecap="round" stroke-dasharray="0 3.2" fill="none"/>
<path d="M804.6 527.8h0.01M794.9 523.3h16.01M797.4 518.8h12.81M792.0 514.2h22.41M790.5 509.7h28.81M787.6 505.2h28.81M790.4 500.7h28.81M788.5 496.1h28.81M789.7 491.6h28.81M790.4 487.1h28.81M790.6 482.5h28.81M789.2 478.0h28.81M788.6 473.5h28.81M790.4 469.0h28.81M789.7 464.4h28.81M790.4 459.9h28.81M789.2 455.4h28.81M789.1 450.8h28.81M790.1 446.3h28.81" stroke="rgb(20,110,190)" stroke-opacity="0.55" stroke-width="3.3" stroke-linecap="round" stroke-dasharray="0 3.2" fill="none"/>
<path d="M787.7 441.8h28.81M790.3 437.3h28.81M788.3 432.7h28.81M787.6 428.2h28.81M790.6 423.7h28.81M790.1 419.2h28.81M788.7 414.6h28.81M787.6 410.1h28.81" stroke="rgb(130,130,130)" stroke-opacity="0.55" stroke-width="3.3" stroke-linecap="round" stroke-dasharray="0 3.2" fill="none"/>
<path d="M787.6 405.6h28.81M790.4 401.0h28.81M788.2 396.5h28.81M790.3 392.0h28.81M789.1 387.5h28.81M788.8 382.9h28.81M787.7 378.4h28.81M789.1 373.9h28.81M788.2 369.4h28.81M795.9 364.8h16.01M788.3 360.3h28.81M787.6 355.8h28.81M794.6 351.2h19.21M804.0 333.1h0.01" stroke="rgb(10,165,95)" stroke-opacity="0.55" stroke-width="3.3" stroke-linecap="round" stroke-dasharray="0 3.2" fill="none"/>
<path d="M789.2 508.8h28.81M789.0 504.3h28.81M789.2 499.8h28.81M789.5 495.2h25.61M788.1 490.7h28.81M789.9 486.2h28.81M788.0 481.6h28.81M789.1 477.1h28.81M790.3 472.6h28.81M789.8 468.1h28.81M794.4 463.5h16.01M788.5 459.0h28.81M789.6 454.5h28.81M793.7 449.9h22.41M789.8 445.4h28.81" stroke="rgb(20,110,190)" stroke-opacity="0.55" stroke-width="3.3" stroke-linecap="round" stroke-dasharray="0 3.2" fill="none"/>
<path d="M797.6 440.9h12.81M791.0 436.4h22.41M788.2 431.8h28.81M788.7 427.3h28.81M787.6 422.8h28.81M797.6 418.3h9.61M792.4 413.7h19.21M788.6 409.2h28.81" stroke="rgb(130,130,130)" stroke-opacity="0.55" stroke-width="3.3" stroke-linecap="round" stroke-dasharray="0 3.2" fill="none"/>
<path d="M795.3 404.7h16.01M789.9 400.1h28.81M789.6 395.6h28.81M794.3 391.1h16.01M788.0 386.6h28.81M790.8 382.0h22.41M787.6 377.5h28.81M800.2 373.0h9.61M798.5 368.5h9.61M801.7 359.4h3.21" stroke="rgb(10,165,95)" stroke-opacity="0.55" stroke-width="3.3" stroke-linecap="round" stroke-dasharray="0 3.2" fill="none"/>
<path d="M792.1 509.7h22.41M803.7 500.7h0.01M800.0 491.6h9.61M790.0 487.1h28.81M804.3 482.5h0.01M795.3 478.0h19.21M804.8 473.5h0.01M803.5 469.0h0.01M792.2 459.9h25.61M797.4 455.4h12.81M800.0 446.3h9.61" stroke="rgb(20,110,190)" stroke-opacity="0.55" stroke-width="3.3" stroke-linecap="round" stroke-dasharray="0 3.2" fill="none"/>
<path d="M803.1 432.7h3.21M800.9 428.2h3.21M793.0 423.7h22.41M789.5 410.1h28.81" stroke="rgb(130,130,130)" stroke-opacity="0.55" stroke-width="3.3" stroke-linecap="round" stroke-dasharray="0 3.2" fill="none"/>
<path d="M791.9 401.0h25.61M791.7 396.5h22.41M798.6 387.5h12.81M797.6 378.4h9.61" stroke="rgb(10,165,95)" stroke-opacity="0.55" stroke-width="3.3" stroke-linecap="round" stroke-dasharray="0 3.2" fill="none"/>
<path d="M799.5 409.2h9.61" stroke="rgb(130,130,130)" stroke-opacity="0.55" stroke-width="3.3" stroke-linecap="round" stroke-dasharray="0 3.2" fill="none"/>
<path d="M842.3 531.4h0.01M827.9 526.9h28.81M827.9 522.4h28.81M827.9 517.9h28.81M827.9 513.3h28.81M827.9 508.8h28.81M827.9 504.3h28.81M827.9 499.8h28.81M827.9 495.2h28.81M827.9 490.7h28.81M827.9 486.2h28.81M827.9 481.6h28.81M827.9 477.1h28.81M827.9 472.6h28.81M827.9 468.1h28.81M827.9 463.5h28.81M827.9 459.0h28.81M827.9 454.5h28.81M827.9 449.9h28.81M827.9 445.4h28.81" stroke="rgb(20,110,190)" stroke-opacity="0.55" stroke-width="3.3" stroke-linecap="round" stroke-dasharray="0 3.2" fill="none"/>
<path d="M827.9 440.9h28.81M827.9 436.4h28.81M827.9 431.8h28.81M827.9 427.3h28.81M827.9 422.8h28.81M827.9 418.3h28.81M827.9 413.7h28.81M827.9 409.2h28.81" stroke="rgb(130,130,130)" stroke-opacity="0.55" stroke-width="3.3" stroke-linecap="round" stroke-dasharray="0 3.2" fill="none"/>
<path d="M827.9 404.7h28.81M827.9 400.1h28.81M827.9 395.6h28.81M827.9 391.1h28.81M827.9 386.6h28.81M827.9 382.0h28.81M827.9 377.5h28.81M827.9 373.0h28.81M827.9 368.5h28.81M827.9 363.9h28.81M827.9 359.4h28.81M827.9 354.9h28.81M827.9 350.3h28.81M827.9 345.8h28.81M827.9 341.3h28.81M827.9 336.8h28.81M827.9 332.2h28.81M827.9 327.7h28.81M829.5 323.2h25.61M834.3 318.6h16.01M834.3 314.1h16.01M837.5 309.6h9.61M835.9 305.1h12.81M837.5 300.5h9.61M839.1 296.0h6.41M840.7 291.5h3.21M839.1 287.0h6.41M839.1 282.4h6.41M840.7 277.9h3.21M840.7 273.4h3.21M840.7 268.8h3.21M840.7 264.3h3.21M840.7 259.8h3.21M842.3 255.3h0.01M842.3 250.7h0.01M842.3 246.2h0.01M842.3 241.7h0.01M842.3 237.2h0.01M842.3 232.6h0.01M840.7 228.1h3.21" stroke="rgb(10,165,95)" stroke-opacity="0.55" stroke-width="3.3" stroke-linecap="round" stroke-dasharray="0 3.2" fill="none"/>
<path d="M839.5 527.8h6.41M843.4 523.3h0.01M840.7 518.8h6.41M829.4 514.2h25.61M828.3 509.7h28.81M828.4 505.2h28.81M827.3 500.7h28.81M829.1 496.1h28.81M828.9 491.6h28.81M826.7 487.1h28.81M827.3 482.5h28.81M828.2 478.0h28.81M829.3 473.5h28.81M829.1 469.0h28.81M828.6 464.4h28.81M826.5 459.9h28.81M827.6 455.4h28.81M829.1 450.8h28.81M828.6 446.3h28.81" stroke="rgb(20,110,190)" stroke-opacity="0.55" stroke-width="3.3" stroke-linecap="round" stroke-dasharray="0 3.2" fill="none"/>
<path d="M829.5 441.8h28.81M827.6 437.3h28.81M829.1 432.7h28.81M827.5 428.2h28.81M828.1 423.7h28.81M828.6 419.2h28.81M828.1 414.6h28.81M828.3 410.1h28.81" stroke="rgb(130,130,130)" stroke-opacity="0.55" stroke-width="3.3" stroke-linecap="round" stroke-dasharray="0 3.2" fill="none"/>
<path d="M828.5 405.6h28.81M826.5 401.0h28.81M827.3 396.5h28.81M827.3 392.0h28.81M828.7 387.5h28.81M827.1 382.9h28.81M827.3 378.4h28.81M827.4 373.9h28.81M828.0 369.4h28.81M826.9 364.8h28.81M828.9 360.3h28.81M833.6 355.8h19.21M830.8 351.2h22.41M837.2 346.7h12.81M837.5 337.7h12.81M843.7 333.1h0.01" stroke="rgb(10,165,95)" stroke-opacity="0.55" stroke-width="3.3" stroke-linecap="round" stroke-dasharray="0 3.2" fill="none"/>
<path d="M830.7 508.8h25.61M831.3 504.3h19.21M826.4 499.8h28.81M835.0 495.2h16.01M827.7 490.7h28.81M827.0 486.2h28.81M835.9 481.6h12.81M836.2 477.1h12.81M829.0 472.6h28.81M829.4 468.1h28.81M827.0 463.5h28.81M829.0 459.0h28.81M836.4 454.5h9.61M831.2 449.9h19.21M827.4 445.4h28.81" stroke="rgb(20,110,190)" stroke-opacity="0.55" stroke-width="3.3" stroke-linecap="round" stroke-dasharray="0 3.2" fill="none"/>
<path d="M827.3 440.9h28.81M839.5 436.4h6.41M833.7 431.8h16.01M827.8 427.3h28.81M828.3 422.8h28.81M827.1 418.3h28.81M826.3 413.7h28.81M832.9 409.2h16.01" stroke="rgb(130,130,130)" stroke-opacity="0.55" stroke-width="3.3" stroke-linecap="round" stroke-dasharray="0 3.2" fill="none"/>
<path d="M827.4 404.7h28.81M828.5 400.1h28.81M827.5 395.6h28.81M827.5 391.1h28.81M832.1 386.6h19.21M826.9 382.0h28.81M827.4 377.5h28.81M828.4 373.0h28.81M826.9 368.5h28.81M833.6 363.9h16.01M835.4 359.4h12.81" stroke="rgb(10,165,95)" stroke-opacity="0.55" stroke-width="3.3" stroke-linecap="round" stroke-dasharray="0 3.2" fill="none"/>
<path d="M843.5 500.7h0.01M840.5 491.6h6.41M840.6 487.1h6.41M840.7 473.5h6.41M830.6 464.4h25.61M840.7 459.9h6.41M838.7 446.3h9.61" stroke="rgb(20,110,190)" stroke-opacity="0.55" stroke-width="3.3" stroke-linecap="round" stroke-dasharray="0 3.2" fill="none"/>
<path d="M826.5 441.8h28.81M828.0 428.2h28.81M838.9 423.7h9.61M832.1 419.2h19.21M827.6 414.6h28.81" stroke="rgb(130,130,130)" stroke-opacity="0.55" stroke-width="3.3" stroke-linecap="round" stroke-dasharray="0 3.2" fill="none"/>
<path d="M828.6 405.6h28.81M829.4 401.0h28.81M833.7 396.5h16.01M838.4 392.0h9.61M842.1 382.9h0.01M829.0 378.4h28.81M829.1 373.9h28.81" stroke="rgb(10,165,95)" stroke-opacity="0.55" stroke-width="3.3" stroke-linecap="round" stroke-dasharray="0 3.2" fill="none"/>
<path d="M842.6 440.9h0.01M831.4 413.7h22.41" stroke="rgb(130,130,130)" stroke-opacity="0.55" stroke-width="3.3" stroke-linecap="round" stroke-dasharray="0 3.2" fill="none"/>
<path d="M838.3 400.1h6.41M842.1 377.5h0.01M837.3 373.0h9.61" stroke="rgb(10,165,95)" stroke-opacity="0.55" stroke-width="3.3" stroke-linecap="round" stroke-dasharray="0 3.2" fill="none"/>
<path d="M881.0 531.4h0.01M866.6 526.9h28.81M866.6 522.4h28.81M866.6 517.9h28.81M866.6 513.3h28.81M866.6 508.8h28.81M866.6 504.3h28.81M866.6 499.8h28.81M866.6 495.2h28.81M866.6 490.7h28.81M866.6 486.2h28.81M866.6 481.6h28.81M866.6 477.1h28.81M866.6 472.6h28.81M866.6 468.1h28.81M866.6 463.5h28.81M866.6 459.0h28.81M866.6 454.5h28.81M866.6 449.9h28.81M866.6 445.4h28.81" stroke="rgb(20,110,190)" stroke-opacity="0.55" stroke-width="3.3" stroke-linecap="round" stroke-dasharray="0 3.2" fill="none"/>
<path d="M866.6 440.9h28.81M866.6 436.4h28.81M866.6 431.8h28.81M866.6 427.3h28.81M866.6 422.8h28.81M866.6 418.3h28.81M866.6 413.7h28.81M866.6 409.2h28.81" stroke="rgb(130,130,130)" stroke-opacity="0.55" stroke-width="3.3" stroke-linecap="round" stroke-dasharray="0 3.2" fill="none"/>
<path d="M866.6 404.7h28.81M866.6 400.1h28.81M866.6 395.6h28.81M866.6 391.1h28.81M866.6 386.6h28.81M866.6 382.0h28.81M866.6 377.5h28.81M866.6 373.0h28.81M866.6 368.5h28.81M866.6 363.9h28.81M866.6 359.4h28.81M866.6 354.9h28.81M866.6 350.3h28.81M866.6 345.8h28.81M866.6 341.3h28.81M866.6 336.8h28.81M866.6 332.2h28.81M871.4 327.7h19.21M869.8 323.2h22.41M866.6 318.6h28.81M866.6 314.1h28.81M869.8 309.6h22.41M873.0 305.1h16.01M873.0 300.5h16.01M876.2 296.0h9.61M874.6 291.5h12.81M873.0 287.0h16.01M874.6 282.4h12.81M877.8 277.9h6.41M879.4 273.4h3.21M881.0 268.8h0.01M881.0 264.3h0.01M879.4 259.8h3.21M881.0 255.3h0.01M879.4 250.7h3.21M879.4 246.2h3.21M879.4 241.7h3.21M881.0 237.2h0.01M881.0 228.1h0.01M881.0 223.6h0.01M881.0 219.0h0.01M881.0 214.5h0.01M881.0 182.8h0.01M881.0 178.3h0.01M881.0 164.7h0.01" stroke="rgb(10,165,95)" stroke-opacity="0.55" stroke-width="3.3" stroke-linecap="round" stroke-dasharray="0 3.2" fill="none"/>
<path d="M874.8 527.8h9.61M878.8 523.3h6.41M871.5 518.8h19.21M871.7 514.2h16.01M869.3 509.7h25.61M865.6 505.2h28.81M867.7 500.7h28.81M871.9 496.1h19.21M866.5 491.6h28.81M866.8 487.1h28.81M867.8 482.5h28.81M866.9 478.0h28.81M869.2 473.5h25.61M871.8 469.0h19.21M866.5 464.4h28.81M865.6 459.9h28.81M865.9 455.4h28.81M866.8 450.8h28.81M867.4 446.3h28.81" stroke="rgb(20,110,190)" stroke-opacity="0.55" stroke-width="3.3" stroke-linecap="round" stroke-dasharray="0 3.2" fill="none"/>
<path d="M865.6 441.8h28.81M867.9 437.3h28.81M865.1 432.7h28.81M868.0 428.2h28.81M866.4 423.7h28.81M866.1 419.2h28.81M867.5 414.6h28.81M868.1 410.1h28.81" stroke="rgb(130,130,130)" stroke-opacity="0.55" stroke-width="3.3" stroke-linecap="round" stroke-dasharray="0 3.2" fill="none"/>
<path d="M865.5 405.6h28.81M866.6 401.0h28.81M866.7 396.5h28.81M866.3 392.0h28.81M867.7 387.5h28.81M865.8 382.9h28.81M865.5 378.4h28.81M868.2 373.9h28.81M866.6 369.4h28.81M868.0 364.8h28.81M867.6 360.3h28.81M868.0 355.8h28.81M867.1 351.2h28.81M868.1 346.7h28.81M875.0 342.2h12.81M868.0 337.7h28.81M880.8 333.1h3.21M878.0 319.5h6.41M876.7 315.0h9.61" stroke="rgb(10,165,95)" stroke-opacity="0.55" stroke-width="3.3" stroke-linecap="round" stroke-dasharray="0 3.2" fill="none"/>
<path d="M870.8 504.3h19.21M875.8 499.8h12.81M874.9 490.7h9.61M867.6 486.2h25.61M869.3 481.6h25.61M877.6 477.1h6.41M872.7 459.0h16.01M872.5 454.5h16.01M867.9 449.9h28.81M878.2 445.4h6.41" stroke="rgb(20,110,190)" stroke-opacity="0.55" stroke-width="3.3" stroke-linecap="round" stroke-dasharray="0 3.2" fill="none"/>
<path d="M871.3 440.9h19.21M880.9 436.4h3.21M865.9 431.8h28.81M867.0 427.3h28.81M868.6 422.8h22.41M866.6 418.3h25.61M875.8 413.7h9.61M866.4 409.2h28.81" stroke="rgb(130,130,130)" stroke-opacity="0.55" stroke-width="3.3" stroke-linecap="round" stroke-dasharray="0 3.2" fill="none"/>
<path d="M873.6 404.7h16.01M869.0 400.1h22.41M867.5 395.6h28.81M865.1 391.1h28.81M868.2 386.6h25.61M873.7 382.0h12.81M866.8 377.5h25.61M866.3 373.0h28.81M865.3 368.5h28.81M866.1 363.9h28.81M866.7 359.4h28.81M868.1 354.9h28.81M874.7 350.3h9.61M876.7 345.8h9.61" stroke="rgb(10,165,95)" stroke-opacity="0.55" stroke-width="3.3" stroke-linecap="round" stroke-dasharray="0 3.2" fill="none"/>
<path d="M871.7 450.8h16.01" stroke="rgb(20,110,190)" stroke-opacity="0.55" stroke-width="3.3" stroke-linecap="round" stroke-dasharray="0 3.2" fill="none"/>
<path d="M876.1 432.7h12.81M872.4 428.2h19.21M880.1 410.1h0.01" stroke="rgb(130,130,130)" stroke-opacity="0.55" stroke-width="3.3" stroke-linecap="round" stroke-dasharray="0 3.2" fill="none"/>
<path d="M866.3 396.5h28.81M875.9 392.0h9.61M867.9 373.9h28.81M867.3 369.4h25.61M867.1 364.8h28.81M868.7 360.3h25.61M879.6 355.8h0.01" stroke="rgb(10,165,95)" stroke-opacity="0.55" stroke-width="3.3" stroke-linecap="round" stroke-dasharray="0 3.2" fill="none"/>
<path d="M876.2 395.6h12.81M878.3 373.0h6.41" stroke="rgb(10,165,95)" stroke-opacity="0.55" stroke-width="3.3" stroke-linecap="round" stroke-dasharray="0 3.2" fill="none"/>
<path d="M919.7 531.4h0.01M905.3 526.9h28.81M905.3 522.4h28.81M905.3 517.9h28.81M905.3 513.3h28.81M905.3 508.8h28.81M905.3 504.3h28.81M905.3 499.8h28.81M905.3 495.2h28.81M905.3 490.7h28.81M905.3 486.2h28.81M905.3 481.6h28.81M905.3 477.1h28.81M905.3 472.6h28.81M905.3 468.1h28.81M905.3 463.5h28.81M905.3 459.0h28.81M905.3 454.5h28.81M905.3 449.9h28.81M905.3 445.4h28.81" stroke="rgb(20,110,190)" stroke-opacity="0.55" stroke-width="3.3" stroke-linecap="round" stroke-dasharray="0 3.2" fill="none"/>
<path d="M905.3 440.9h28.81M905.3 436.4h28.81M905.3 431.8h28.81M905.3 427.3h28.81M905.3 422.8h28.81M905.3 418.3h28.81M905.3 413.7h28.81M905.3 409.2h28.81" stroke="rgb(130,130,130)" stroke-opacity="0.55" stroke-width="3.3" stroke-linecap="round" stroke-dasharray="0 3.2" fill="none"/>
<path d="M905.3 404.7h28.81M905.3 400.1h28.81M905.3 395.6h28.81M905.3 391.1h28.81M905.3 386.6h28.81M905.3 382.0h28.81M905.3 377.5h28.81M905.3 373.0h28.81M905.3 368.5h28.81M905.3 363.9h28.81M905.3 359.4h28.81M905.3 354.9h28.81M905.3 350.3h28.81M905.3 345.8h28.81M905.3 341.3h28.81M905.3 336.8h28.81M905.3 332.2h28.81M905.3 327.7h28.81M905.3 323.2h28.81M905.3 318.6h28.81M905.3 314.1h28.81M905.3 309.6h28.81M905.3 305.1h28.81M913.3 300.5h12.81M910.1 296.0h19.21M910.1 291.5h19.21M914.9 287.0h9.61M913.3 282.4h12.81M913.3 277.9h12.81M918.1 273.4h3.21M919.7 268.8h0.01M918.1 264.3h3.21M918.1 259.8h3.21M916.5 255.3h6.41M918.1 250.7h3.21M918.1 246.2h3.21M916.5 241.7h6.41M919.7 237.2h0.01M919.7 214.5h0.01M919.7 200.9h0.01M919.7 191.9h0.01" stroke="rgb(10,165,95)" stroke-opacity="0.55" stroke-width="3.3" stroke-linecap="round" stroke-dasharray="0 3.2" fill="none"/>
<path d="M912.5 527.8h16.01M908.4 523.3h22.41M909.8 518.8h22.41M917.3 514.2h3.21M908.5 509.7h19.21M916.2 505.2h9.61M906.3 500.7h28.81M915.3 496.1h6.41M917.2 491.6h3.21M916.1 487.1h9.61M915.0 482.5h9.61M908.3 478.0h25.61M908.2 473.5h25.61M912.2 469.0h12.81M914.3 464.4h9.61M907.5 459.9h25.61M912.7 455.4h16.01M910.0 450.8h19.21M906.8 446.3h28.81" stroke="rgb(20,110,190)" stroke-opacity="0.55" stroke-width="3.3" stroke-linecap="round" stroke-dasharray="0 3.2" fill="none"/>
<path d="M911.2 441.8h19.21M904.9 437.3h28.81M904.3 432.7h28.81M906.7 428.2h28.81M905.4 423.7h28.81M906.5 419.2h28.81M905.7 414.6h28.81M905.4 410.1h28.81" stroke="rgb(130,130,130)" stroke-opacity="0.55" stroke-width="3.3" stroke-linecap="round" stroke-dasharray="0 3.2" fill="none"/>
<path d="M904.0 405.6h28.81M904.2 401.0h28.81M904.5 396.5h28.81M903.9 392.0h28.81M904.1 387.5h28.81M904.0 382.9h28.81M905.2 378.4h28.81M906.0 373.9h28.81M904.9 369.4h28.81M904.8 364.8h28.81M906.2 360.3h28.81M906.0 355.8h28.81M906.7 351.2h28.81M905.8 346.7h28.81M904.8 342.2h28.81M904.8 337.7h28.81M906.8 333.1h28.81M904.2 328.6h28.81M907.5 324.1h25.61M913.8 319.5h9.61M915.4 315.0h9.61M920.6 310.5h0.01M915.0 306.0h6.41" stroke="rgb(10,165,95)" stroke-opacity="0.55" stroke-width="3.3" stroke-linecap="round" stroke-dasharray="0 3.2" fill="none"/>
<path d="M915.2 436.4h9.61M916.4 431.8h9.61M911.5 427.3h19.21M906.2 422.8h28.81M903.8 418.3h28.81M913.0 413.7h16.01M904.7 409.2h28.81" stroke="rgb(130,130,130)" stroke-opacity="0.55" stroke-width="3.3" stroke-linecap="round" stroke-dasharray="0 3.2" fill="none"/>
<path d="M904.2 404.7h28.81M903.9 400.1h28.81M905.6 395.6h28.81M906.6 391.1h28.81M906.0 386.6h28.81M905.1 382.0h28.81M906.9 377.5h28.81M905.2 373.0h28.81M906.9 368.5h28.81M904.0 363.9h28.81M906.2 359.4h28.81M904.6 354.9h28.81M905.8 350.3h28.81M905.2 345.8h28.81M917.0 341.3h6.41M916.0 336.8h9.61M913.2 332.2h16.01M919.2 327.7h3.21" stroke="rgb(10,165,95)" stroke-opacity="0.55" stroke-width="3.3" stroke-linecap="round" stroke-dasharray="0 3.2" fill="none"/>
<path d="M918.4 423.7h0.01M908.3 419.2h25.61" stroke="rgb(130,130,130)" stroke-opacity="0.55" stroke-width="3.3" stroke-linecap="round" stroke-dasharray="0 3.2" fill="none"/>
<path d="M911.7 401.0h19.21M909.5 396.5h22.41M908.6 392.0h19.21M911.5 387.5h19.21M904.2 382.9h28.81M906.4 378.4h28.81M909.4 373.9h19.21M913.2 369.4h16.01M904.6 364.8h28.81M905.9 360.3h28.81M905.3 355.8h28.81M905.6 351.2h28.81M909.5 346.7h22.41" stroke="rgb(10,165,95)" stroke-opacity="0.55" stroke-width="3.3" stroke-linecap="round" stroke-dasharray="0 3.2" fill="none"/>
<path d="M913.2 377.5h16.01M920.6 363.9h0.01M912.2 359.4h16.01M919.0 354.9h3.21M918.1 350.3h0.01" stroke="rgb(10,165,95)" stroke-opacity="0.55" stroke-width="3.3" stroke-linecap="round" stroke-dasharray="0 3.2" fill="none"/>
<path d="M958.4 531.4h0.01M944.0 526.9h28.81M944.0 522.4h28.81M944.0 517.9h28.81M944.0 513.3h28.81M944.0 508.8h28.81M944.0 504.3h28.81M944.0 499.8h28.81M944.0 495.2h28.81M944.0 490.7h28.81M944.0 486.2h28.81M944.0 481.6h28.81M944.0 477.1h28.81M944.0 472.6h28.81M944.0 468.1h28.81M944.0 463.5h28.81M944.0 459.0h28.81M944.0 454.5h28.81M944.0 449.9h28.81M944.0 445.4h28.81" stroke="rgb(20,110,190)" stroke-opacity="0.55" stroke-width="3.3" stroke-linecap="round" stroke-dasharray="0 3.2" fill="none"/>
<path d="M944.0 440.9h28.81M944.0 436.4h28.81M944.0 431.8h28.81M944.0 427.3h28.81M944.0 422.8h28.81M944.0 418.3h28.81M944.0 413.7h28.81M944.0 409.2h28.81" stroke="rgb(130,130,130)" stroke-opacity="0.55" stroke-width="3.3" stroke-linecap="round" stroke-dasharray="0 3.2" fill="none"/>
<path d="M944.0 404.7h28.81M944.0 400.1h28.81M944.0 395.6h28.81M944.0 391.1h28.81M944.0 386.6h28.81M944.0 382.0h28.81M944.0 377.5h28.81M944.0 373.0h28.81M944.0 368.5h28.81M944.0 363.9h28.81M944.0 359.4h28.81M944.0 354.9h28.81M944.0 350.3h28.81M944.0 345.8h28.81M944.0 341.3h28.81M944.0 336.8h28.81M944.0 332.2h28.81M944.0 327.7h28.81M944.0 323.2h28.81M945.6 318.6h25.61M944.0 314.1h28.81M952.0 309.6h12.81M953.6 305.1h9.61M948.8 300.5h19.21M948.8 296.0h19.21M953.6 291.5h9.61M955.2 287.0h6.41M956.8 282.4h3.21M956.8 277.9h3.21M955.2 273.4h6.41M956.8 268.8h3.21M956.8 264.3h3.21M956.8 259.8h3.21M956.8 255.3h3.21M958.4 250.7h0.01M958.4 246.2h0.01M958.4 241.7h0.01M958.4 232.6h0.01M958.4 200.9h0.01M958.4 191.9h0.01M958.4 187.3h0.01M958.4 182.8h0.01M958.4 178.3h0.01M958.4 164.7h0.01" stroke="rgb(10,165,95)" stroke-opacity="0.55" stroke-width="3.3" stroke-linecap="round" stroke-dasharray="0 3.2" fill="none"/>
<path d="M952.0 527.8h9.61M951.2 523.3h16.01M954.5 518.8h6.41M945.3 514.2h25.61M944.6 509.7h25.61M944.8 505.2h25.61M945.1 500.7h28.81M954.6 496.1h9.61M944.6 491.6h25.61M945.4 487.1h28.81M950.0 482.5h16.01M944.0 478.0h28.81M945.5 473.5h28.81M948.2 469.0h19.21M945.2 464.4h28.81M951.4 459.9h12.81M949.2 455.4h16.01M949.4 450.8h19.21M942.5 446.3h28.81" stroke="rgb(20,110,190)" stroke-opacity="0.55" stroke-width="3.3" stroke-linecap="round" stroke-dasharray="0 3.2" fill="none"/>
<path d="M943.4 441.8h28.81M942.6 437.3h28.81M945.5 432.7h28.81M945.2 428.2h28.81M943.9 423.7h28.81M943.3 419.2h28.81M942.5 414.6h28.81M943.8 410.1h28.81" stroke="rgb(130,130,130)" stroke-opacity="0.55" stroke-width="3.3" stroke-linecap="round" stroke-dasharray="0 3.2" fill="none"/>
<path d="M945.2 405.6h28.81M943.9 401.0h28.81M943.4 396.5h28.81M944.3 392.0h28.81M942.4 387.5h28.81M943.6 382.9h28.81M945.4 378.4h28.81M944.0 373.9h28.81M944.3 369.4h28.81M944.5 364.8h28.81M944.6 360.3h28.81M945.3 355.8h28.81M942.8 351.2h28.81M944.9 346.7h28.81M944.2 342.2h25.61M943.3 337.7h28.81M955.3 324.1h3.21M955.3 315.0h3.21" stroke="rgb(10,165,95)" stroke-opacity="0.55" stroke-width="3.3" stroke-linecap="round" stroke-dasharray="0 3.2" fill="none"/>
<path d="M956.3 499.8h3.21M958.7 486.2h0.01M954.1 477.1h9.61M956.9 472.6h0.01M958.5 463.5h0.01M956.3 445.4h3.21" stroke="rgb(20,110,190)" stroke-opacity="0.55" stroke-width="3.3" stroke-linecap="round" stroke-dasharray="0 3.2" fill="none"/>
<path d="M943.6 440.9h28.81M953.4 436.4h9.61M943.2 431.8h28.81M943.8 427.3h28.81M944.7 422.8h28.81M953.6 418.3h9.61M942.8 413.7h28.81M947.0 409.2h25.61" stroke="rgb(130,130,130)" stroke-opacity="0.55" stroke-width="3.3" stroke-linecap="round" stroke-dasharray="0 3.2" fill="none"/>
<path d="M949.2 404.7h19.21M942.9 400.1h28.81M944.5 395.6h28.81M943.4 391.1h28.81M943.8 386.6h28.81M945.4 382.0h28.81M944.4 377.5h28.81M943.9 373.0h28.81M942.9 368.5h28.81M945.5 363.9h25.61M942.8 359.4h28.81M945.3 354.9h28.81M953.4 350.3h12.81M948.6 345.8h19.21M951.8 336.8h16.01" stroke="rgb(10,165,95)" stroke-opacity="0.55" stroke-width="3.3" stroke-linecap="round" stroke-dasharray="0 3.2" fill="none"/>
<path d="M945.2 441.8h25.61M950.3 432.7h19.21M946.7 428.2h25.61M948.5 423.7h19.21M947.5 414.6h22.41" stroke="rgb(130,130,130)" stroke-opacity="0.55" stroke-width="3.3" stroke-linecap="round" stroke-dasharray="0 3.2" fill="none"/>
<path d="M951.6 401.0h12.81M951.9 396.5h16.01M943.7 392.0h28.81M942.6 387.5h28.81M959.5 382.9h0.01M958.2 378.4h0.01M942.7 373.9h28.81M957.2 369.4h3.21M945.1 360.3h28.81M943.8 355.8h28.81" stroke="rgb(10,165,95)" stroke-opacity="0.55" stroke-width="3.3" stroke-linecap="round" stroke-dasharray="0 3.2" fill="none"/>
<path d="M944.0 391.1h28.81M942.5 386.6h28.81M946.8 373.0h22.41M947.5 359.4h19.21" stroke="rgb(10,165,95)" stroke-opacity="0.55" stroke-width="3.3" stroke-linecap="round" stroke-dasharray="0 3.2" fill="none"/>
<path d="M957.7 392.0h3.21M957.7 387.5h3.21" stroke="rgb(10,165,95)" stroke-opacity="0.55" stroke-width="3.3" stroke-linecap="round" stroke-dasharray="0 3.2" fill="none"/>
<line x1="764.8" y1="373.4" x2="764.8" y2="235.9" stroke="#111" stroke-width="2.2"/>
<line x1="764.8" y1="466.4" x2="764.8" y2="540.5" stroke="#111" stroke-width="2.2"/>
<rect x="749.2" y="444.5" width="31.2" height="22" fill="rgb(15,115,195)" fill-opacity="0.22"/>
<rect x="749.2" y="406" width="31.2" height="38.4" fill="rgb(110,110,110)" fill-opacity="0.22"/>
<rect x="749.2" y="373.4" width="31.2" height="32.7" fill="rgb(0,160,85)" fill-opacity="0.22"/>
<rect x="749.2" y="373.4" width="31.2" height="93" fill="none" stroke="#111" stroke-width="1.9"/>
<line x1="749.2" y1="419.4" x2="780.4" y2="419.4" stroke="#111" stroke-width="5.5"/>
<circle cx="764.8" cy="414.8" r="5.2" fill="#000"/>
<line x1="803.5" y1="386.8" x2="803.5" y2="251" stroke="#111" stroke-width="2.2"/>
<line x1="803.5" y1="477" x2="803.5" y2="540.5" stroke="#111" stroke-width="2.2"/>
<rect x="787.9" y="444.5" width="31.2" height="32.5" fill="rgb(15,115,195)" fill-opacity="0.22"/>
<rect x="787.9" y="406" width="31.2" height="38.4" fill="rgb(110,110,110)" fill-opacity="0.22"/>
<rect x="787.9" y="386.8" width="31.2" height="19.2" fill="rgb(0,160,85)" fill-opacity="0.22"/>
<rect x="787.9" y="386.8" width="31.2" height="90.1" fill="none" stroke="#111" stroke-width="1.9"/>
<line x1="787.9" y1="430.3" x2="819.1" y2="430.3" stroke="#111" stroke-width="5.5"/>
<circle cx="803.5" cy="429.4" r="5.2" fill="#000"/>
<line x1="842.3" y1="380.5" x2="842.3" y2="257.9" stroke="#111" stroke-width="2.2"/>
<line x1="842.3" y1="466.4" x2="842.3" y2="540.5" stroke="#111" stroke-width="2.2"/>
<rect x="826.7" y="444.5" width="31.2" height="22" fill="rgb(15,115,195)" fill-opacity="0.22"/>
<rect x="826.7" y="406" width="31.2" height="38.4" fill="rgb(110,110,110)" fill-opacity="0.22"/>
<rect x="826.7" y="380.5" width="31.2" height="25.5" fill="rgb(0,160,85)" fill-opacity="0.22"/>
<rect x="826.7" y="380.5" width="31.2" height="85.9" fill="none" stroke="#111" stroke-width="1.9"/>
<line x1="826.7" y1="419.9" x2="857.9" y2="419.9" stroke="#111" stroke-width="5.5"/>
<circle cx="842.3" cy="419.8" r="5.2" fill="#000"/>
<line x1="881" y1="370.4" x2="881" y2="237.3" stroke="#111" stroke-width="2.2"/>
<line x1="881" y1="460" x2="881" y2="540.5" stroke="#111" stroke-width="2.2"/>
<rect x="865.4" y="444.5" width="31.2" height="15.5" fill="rgb(15,115,195)" fill-opacity="0.22"/>
<rect x="865.4" y="406" width="31.2" height="38.4" fill="rgb(110,110,110)" fill-opacity="0.22"/>
<rect x="865.4" y="370.4" width="31.2" height="35.7" fill="rgb(0,160,85)" fill-opacity="0.22"/>
<rect x="865.4" y="370.4" width="31.2" height="89.6" fill="none" stroke="#111" stroke-width="1.9"/>
<line x1="865.4" y1="412.9" x2="896.6" y2="412.9" stroke="#111" stroke-width="5.5"/>
<circle cx="881" cy="411.5" r="5.2" fill="#000"/>
<line x1="919.7" y1="358" x2="919.7" y2="237.3" stroke="#111" stroke-width="2.2"/>
<line x1="919.7" y1="440.5" x2="919.7" y2="540.5" stroke="#111" stroke-width="2.2"/>
<rect x="904.1" y="406" width="31.2" height="34.4" fill="rgb(110,110,110)" fill-opacity="0.22"/>
<rect x="904.1" y="358" width="31.2" height="48" fill="rgb(0,160,85)" fill-opacity="0.22"/>
<rect x="904.1" y="358" width="31.2" height="82.5" fill="none" stroke="#111" stroke-width="1.9"/>
<line x1="904.1" y1="397" x2="935.3" y2="397" stroke="#111" stroke-width="5.5"/>
<circle cx="919.7" cy="397.8" r="5.2" fill="#000"/>
<line x1="958.4" y1="366.5" x2="958.4" y2="249.6" stroke="#111" stroke-width="2.2"/>
<line x1="958.4" y1="448.4" x2="958.4" y2="540.5" stroke="#111" stroke-width="2.2"/>
<rect x="942.8" y="444.5" width="31.2" height="4" fill="rgb(15,115,195)" fill-opacity="0.22"/>
<rect x="942.8" y="406" width="31.2" height="38.4" fill="rgb(110,110,110)" fill-opacity="0.22"/>
<rect x="942.8" y="366.5" width="31.2" height="39.5" fill="rgb(0,160,85)" fill-opacity="0.22"/>
<rect x="942.8" y="366.5" width="31.2" height="81.9" fill="none" stroke="#111" stroke-width="1.9"/>
<line x1="942.8" y1="402.2" x2="974" y2="402.2" stroke="#111" stroke-width="5.5"/>
<circle cx="958.4" cy="403.3" r="5.2" fill="#000"/>
<line x1="729.6" y1="541.7" x2="988" y2="541.7" stroke="#111" stroke-width="3.6"/>
<text x="772.1" y="189.8" font-size="32" font-style="italic" transform="rotate(-90 772.1 189.8)">0.91</text>
<text x="810.8" y="189.8" font-size="32" font-style="italic" transform="rotate(-90 810.8 189.8)">0.81</text>
<text x="849.6" y="189.8" font-size="32" font-style="italic" transform="rotate(-90 849.6 189.8)">0.88</text>
<text x="888.3" y="189.8" font-size="32" font-style="italic" transform="rotate(-90 888.3 189.8)">0.94</text>
<text x="927" y="189.8" font-size="32" font-style="italic" transform="rotate(-90 927 189.8)">1.04</text>
<text x="965.7" y="189.8" font-size="32" font-style="italic" transform="rotate(-90 965.7 189.8)">1.00</text>
<text x="772.1" y="556" font-size="31" text-anchor="end" transform="rotate(-90 772.1 556)">sh1</text>
<text x="810.8" y="556" font-size="31" text-anchor="end" transform="rotate(-90 810.8 556)">sh2</text>
<text x="849.6" y="556" font-size="31" text-anchor="end" transform="rotate(-90 849.6 556)">sh3</text>
<text x="888.3" y="556" font-size="31" text-anchor="end" transform="rotate(-90 888.3 556)">sh4</text>
<text x="929.8" y="553" font-size="33" text-anchor="end" transform="rotate(-90 929.8 553)">non-trg.</text>
<text x="968.5" y="555.8" font-size="33" text-anchor="end" transform="rotate(-90 968.5 555.8)">pLKO.1</text>
<line x1="748.5" y1="617" x2="889.1" y2="617" stroke="#111" stroke-width="3.2"/>
<text x="821.5" y="652.2" font-size="32" text-anchor="middle">Foxc1</text>
<text x="1000.4" y="82" font-size="33" font-style="italic">P</text>
<text x="1022.1" y="93.8" font-size="20" font-style="italic">KW</text>
<text x="1059.3" y="82" font-size="33">=</text>
<text x="1089.2" y="82" font-size="33" font-style="italic">2.2×10</text>
<text x="1199.8" y="70.6" font-size="18" font-style="italic">-24</text>
<text x="1097.8" y="117.6" font-size="30">***</text>
<line x1="1075" y1="128.7" x2="1075" y2="543" stroke="#111" stroke-width="3.4"/>
<line x1="1068" y1="130.4" x2="1075" y2="130.4" stroke="#111" stroke-width="3.4"/>
<text x="1063" y="141.2" font-size="30" text-anchor="end">3.0</text>
<line x1="1068" y1="198.8" x2="1075" y2="198.8" stroke="#111" stroke-width="3.4"/>
<text x="1063" y="209.6" font-size="30" text-anchor="end">2.5</text>
<line x1="1068" y1="267.2" x2="1075" y2="267.2" stroke="#111" stroke-width="3.4"/>
<text x="1063" y="278" font-size="30" text-anchor="end">2.0</text>
<line x1="1068" y1="335.6" x2="1075" y2="335.6" stroke="#111" stroke-width="3.4"/>
<text x="1063" y="346.4" font-size="30" text-anchor="end">1.5</text>
<line x1="1068" y1="404" x2="1075" y2="404" stroke="#111" stroke-width="3.4"/>
<text x="1063" y="414.8" font-size="30" text-anchor="end">1.0</text>
<line x1="1068" y1="472.4" x2="1075" y2="472.4" stroke="#111" stroke-width="3.4"/>
<text x="1063" y="483.2" font-size="30" text-anchor="end">0.5</text>
<line x1="1068" y1="540.8" x2="1075" y2="540.8" stroke="#111" stroke-width="3.4"/>
<text x="1063" y="551.6" font-size="30" text-anchor="end">0.0</text>
<path d="M1083.0 532.6h29.71M1083.0 529.9h29.71M1083.0 527.1h29.71M1083.0 524.4h29.71M1083.0 521.6h29.71M1083.0 518.9h29.71M1083.0 516.2h29.71M1083.0 513.4h29.71M1083.0 510.7h29.71M1083.0 508.0h29.71M1083.0 505.2h29.71M1083.0 502.5h29.71M1083.0 499.8h29.71M1083.0 497.0h29.71M1083.0 494.3h29.71M1083.0 491.6h29.71M1083.0 488.8h29.71M1083.0 486.1h29.71M1083.0 483.3h29.71M1083.0 480.6h29.71M1083.0 477.9h29.71M1083.0 475.1h29.71M1083.0 472.4h29.71M1083.0 469.7h29.71M1083.0 466.9h29.71M1083.0 464.2h29.71M1083.0 461.5h29.71M1083.0 458.7h29.71M1083.0 456.0h29.71M1083.0 453.2h29.71M1083.0 450.5h29.71M1083.0 447.8h29.71M1083.0 445.0h29.71" stroke="rgb(15,115,195)" stroke-opacity="0.75" stroke-width="3.1" stroke-linecap="round" stroke-dasharray="0 3.3" fill="none"/>
<path d="M1083.0 442.3h29.71M1083.0 439.6h29.71M1083.0 436.8h29.71M1083.0 434.1h29.71M1083.0 431.4h29.71M1083.0 428.6h29.71M1083.0 425.9h29.71M1083.0 423.2h29.71M1083.0 420.4h29.71M1083.0 417.7h29.71M1083.0 414.9h29.71M1083.0 412.2h29.71M1083.0 409.5h29.71M1083.0 406.7h29.71M1083.0 404.0h29.71" stroke="rgb(110,110,110)" stroke-opacity="0.75" stroke-width="3.1" stroke-linecap="round" stroke-dasharray="0 3.3" fill="none"/>
<path d="M1083.0 401.3h29.71M1083.0 398.5h29.71M1083.0 395.8h29.71M1083.0 393.1h29.71M1083.0 390.3h29.71M1083.0 387.6h29.71M1083.0 384.8h29.71M1083.0 382.1h29.71M1083.0 379.4h29.71M1083.0 376.6h29.71M1083.0 373.9h29.71M1083.0 371.2h29.71M1083.0 368.4h29.71M1083.0 365.7h29.71M1083.0 363.0h29.71M1083.0 360.2h29.71M1083.0 357.5h29.71M1083.0 354.8h29.71M1083.0 352.0h29.71M1083.0 349.3h29.71M1083.0 346.5h29.71M1083.0 343.8h29.71M1083.0 341.1h29.71M1083.0 338.3h29.71M1083.0 335.6h29.71M1083.0 332.9h29.71M1083.0 330.1h29.71M1083.0 327.4h29.71M1083.0 324.7h29.71M1083.0 321.9h29.71M1083.0 319.2h29.71M1083.0 316.4h29.71M1083.0 313.7h29.71M1083.0 311.0h29.71M1083.0 308.2h29.71M1083.0 305.5h29.71M1083.0 302.8h29.71M1083.0 300.0h29.71M1083.0 297.3h29.71M1083.0 294.6h29.71M1083.0 291.8h29.71M1083.0 289.1h29.71M1083.0 286.4h29.71M1083.0 283.6h29.71M1083.0 280.9h29.71M1083.0 278.1h29.71M1083.0 275.4h29.71M1083.0 272.7h29.71M1083.0 269.9h29.71M1083.0 267.2h29.71M1083.0 264.5h29.71M1083.0 261.7h29.71M1083.0 259.0h29.71M1083.0 256.3h29.71M1083.0 253.5h29.71M1083.0 250.8h29.71M1083.0 248.0h29.71M1083.0 245.3h29.71M1083.0 242.6h29.71M1084.6 239.8h26.41M1083.0 237.1h29.71M1083.0 234.4h29.71M1083.0 231.6h29.71M1096.1 228.9h3.31M1096.1 226.2h3.31M1096.1 223.4h3.31M1094.5 220.7h6.61M1094.5 218.0h6.61M1096.1 215.2h3.31M1096.1 212.5h3.31M1097.8 209.7h0.01M1096.1 207.0h3.31M1097.8 204.3h0.01M1096.1 201.5h3.31M1094.5 198.8h6.61M1096.1 196.1h3.31M1094.5 193.3h6.61M1097.8 190.6h0.01M1096.1 187.9h3.31M1096.1 185.1h3.31M1096.1 182.4h3.31M1096.1 179.6h3.31M1094.5 176.9h6.61M1096.1 174.2h3.31M1097.8 171.4h0.01" stroke="rgb(0,160,85)" stroke-opacity="0.75" stroke-width="3.1" stroke-linecap="round" stroke-dasharray="0 3.3" fill="none"/>
<path d="M1083.8 533.5h29.71M1084.2 530.8h29.71M1082.8 528.0h29.71M1084.0 525.3h29.71M1083.6 522.5h29.71M1083.6 519.8h29.71M1082.3 517.1h29.71M1083.4 514.3h29.71M1084.6 511.6h29.71M1081.7 508.9h29.71M1081.5 506.1h29.71M1082.1 503.4h29.71M1081.4 500.7h29.71M1082.0 497.9h29.71M1082.8 495.2h29.71M1082.3 492.5h29.71M1082.6 489.7h29.71M1083.6 487.0h29.71M1081.9 484.2h29.71M1083.3 481.5h29.71M1084.1 478.8h29.71M1082.3 476.0h29.71M1084.0 473.3h29.71M1081.3 470.6h29.71M1082.1 467.8h29.71M1083.7 465.1h29.71M1083.5 462.4h29.71M1083.2 459.6h29.71M1082.5 456.9h29.71M1084.2 454.1h29.71M1082.2 451.4h29.71M1083.0 448.7h29.71M1084.5 445.9h29.71" stroke="rgb(15,115,195)" stroke-opacity="0.75" stroke-width="3.1" stroke-linecap="round" stroke-dasharray="0 3.3" fill="none"/>
<path d="M1081.9 443.2h29.71M1081.7 440.5h29.71M1082.9 437.7h29.71M1081.8 435.0h29.71M1083.3 432.3h29.71M1084.4 429.5h29.71M1082.1 426.8h29.71M1084.2 424.1h29.71M1084.0 421.3h29.71M1082.4 418.6h29.71M1084.5 415.8h29.71M1083.8 413.1h29.71M1083.6 410.4h29.71M1084.1 407.6h29.71M1082.8 404.9h29.71" stroke="rgb(110,110,110)" stroke-opacity="0.75" stroke-width="3.1" stroke-linecap="round" stroke-dasharray="0 3.3" fill="none"/>
<path d="M1082.1 402.2h29.71M1083.7 399.4h29.71M1083.9 396.7h29.71M1084.5 394.0h29.71M1081.4 391.2h29.71M1081.9 388.5h29.71M1083.7 385.7h29.71M1083.6 383.0h29.71M1083.5 380.3h29.71M1082.6 377.5h29.71M1082.6 374.8h29.71M1084.2 372.1h29.71M1083.6 369.3h29.71M1084.2 366.6h29.71M1082.0 363.9h29.71M1083.9 361.1h29.71M1082.3 358.4h29.71M1081.4 355.7h29.71M1083.7 352.9h29.71M1082.3 350.2h29.71M1083.7 347.4h29.71M1084.1 344.7h29.71M1082.3 342.0h29.71M1081.7 339.2h29.71M1083.0 336.5h29.71M1081.3 333.8h29.71M1081.7 331.0h29.71M1083.1 328.3h29.71M1083.2 325.6h29.71M1084.4 322.8h29.71M1084.0 320.1h29.71M1083.3 317.3h29.71M1084.5 314.6h29.71M1083.3 311.9h29.71M1082.2 309.1h29.71M1083.0 306.4h29.71M1081.7 303.7h29.71M1082.2 300.9h29.71M1083.0 298.2h29.71M1081.7 295.5h29.71M1082.8 292.7h29.71M1082.9 290.0h29.71M1081.6 287.3h29.71M1083.3 284.5h29.71M1083.4 281.8h29.71M1083.5 279.0h29.71M1091.2 276.3h16.51M1096.5 270.8h3.31M1094.3 268.1h6.61M1099.0 265.4h0.01M1097.4 262.6h0.01M1093.1 259.9h9.91M1090.0 257.2h16.51M1092.1 251.7h13.21M1096.9 248.9h0.01M1097.3 246.2h0.01M1098.6 238.0h0.01M1094.1 235.3h9.91M1095.2 232.5h6.61" stroke="rgb(0,160,85)" stroke-opacity="0.75" stroke-width="3.1" stroke-linecap="round" stroke-dasharray="0 3.3" fill="none"/>
<path d="M1084.3 532.6h29.71M1083.2 529.9h29.71M1082.0 527.1h29.71M1082.9 524.4h29.71M1082.2 521.6h29.71M1084.1 518.9h29.71M1081.8 516.2h29.71M1083.1 513.4h29.71M1083.2 510.7h29.71M1084.2 508.0h29.71M1083.5 505.2h29.71M1081.6 502.5h29.71M1083.5 499.8h29.71M1082.0 497.0h29.71M1081.3 494.3h29.71M1083.5 491.6h29.71M1084.1 488.8h29.71M1083.0 486.1h29.71M1082.3 483.3h29.71M1083.2 480.6h29.71M1082.6 477.9h29.71M1084.6 475.1h29.71M1081.4 472.4h29.71M1083.5 469.7h29.71M1082.6 466.9h29.71M1082.3 464.2h29.71M1084.1 461.5h29.71M1083.4 458.7h29.71M1082.0 456.0h29.71M1083.2 453.2h29.71M1081.6 450.5h29.71M1083.5 447.8h29.71M1082.8 445.0h29.71" stroke="rgb(15,115,195)" stroke-opacity="0.75" stroke-width="3.1" stroke-linecap="round" stroke-dasharray="0 3.3" fill="none"/>
<path d="M1082.6 442.3h29.71M1082.0 439.6h29.71M1082.5 436.8h29.71M1082.4 434.1h29.71M1083.0 431.4h29.71M1081.4 428.6h29.71M1083.7 425.9h29.71M1081.3 423.2h29.71M1082.3 420.4h29.71M1083.9 417.7h29.71M1083.8 414.9h29.71M1081.4 412.2h29.71M1081.4 409.5h29.71M1083.4 406.7h29.71M1081.4 404.0h29.71" stroke="rgb(110,110,110)" stroke-opacity="0.75" stroke-width="3.1" stroke-linecap="round" stroke-dasharray="0 3.3" fill="none"/>
<path d="M1082.1 401.3h29.71M1083.0 398.5h29.71M1082.3 395.8h29.71M1081.4 393.1h29.71M1082.4 390.3h29.71M1081.7 387.6h29.71M1084.4 384.8h29.71M1083.7 382.1h29.71M1083.9 379.4h29.71M1082.9 376.6h29.71M1081.5 373.9h29.71M1081.9 371.2h29.71M1082.8 368.4h29.71M1084.0 365.7h29.71M1084.5 363.0h29.71M1083.9 360.2h29.71M1083.2 357.5h29.71M1084.0 354.8h29.71M1081.7 352.0h29.71M1083.3 349.3h29.71M1081.9 346.5h29.71M1084.5 343.8h29.71M1081.6 341.1h29.71M1084.6 338.3h29.71M1081.4 335.6h29.71M1082.9 332.9h29.71M1083.3 330.1h29.71M1084.5 327.4h29.71M1081.3 324.7h29.71M1082.3 321.9h29.71M1083.9 319.2h29.71M1083.3 316.4h29.71M1082.7 313.7h29.71M1084.2 311.0h29.71M1081.5 308.2h29.71M1082.1 305.5h29.71M1084.1 302.8h29.71M1082.7 300.0h29.71M1084.4 297.3h26.41M1082.5 294.6h29.71M1084.6 291.8h29.71M1082.7 289.1h29.71M1084.1 286.4h29.71M1082.5 283.6h29.71M1082.2 280.9h29.71M1090.7 278.1h16.51" stroke="rgb(0,160,85)" stroke-opacity="0.75" stroke-width="3.1" stroke-linecap="round" stroke-dasharray="0 3.3" fill="none"/>
<path d="M1087.1 533.5h19.81M1081.9 530.8h29.71M1082.3 528.0h29.71M1081.6 525.3h29.71M1083.6 522.5h29.71M1082.0 519.8h29.71M1083.4 517.1h29.71M1082.7 514.3h29.71M1082.4 511.6h29.71M1081.3 508.9h29.71M1081.7 506.1h29.71M1083.5 503.4h29.71M1083.0 500.7h29.71M1082.0 497.9h29.71M1081.9 495.2h29.71M1081.6 492.5h29.71M1082.8 489.7h29.71M1084.3 487.0h29.71M1084.1 484.2h29.71M1082.5 481.5h29.71M1082.1 478.8h29.71M1082.4 476.0h29.71M1081.7 473.3h29.71M1082.5 470.6h29.71M1082.6 467.8h29.71M1083.8 465.1h29.71M1082.9 462.4h29.71M1083.6 459.6h29.71M1083.0 456.9h29.71M1084.3 454.1h29.71M1082.3 451.4h29.71M1083.5 448.7h29.71M1083.6 445.9h29.71" stroke="rgb(15,115,195)" stroke-opacity="0.75" stroke-width="3.1" stroke-linecap="round" stroke-dasharray="0 3.3" fill="none"/>
<path d="M1081.5 443.2h29.71M1084.3 440.5h29.71M1082.1 437.7h29.71M1082.5 435.0h29.71M1081.4 432.3h29.71M1083.6 429.5h29.71M1083.0 426.8h29.71M1083.2 424.1h29.71M1081.6 421.3h29.71M1083.1 418.6h29.71M1083.9 415.8h29.71M1083.7 413.1h29.71M1082.6 410.4h29.71M1084.2 407.6h29.71M1081.4 404.9h29.71" stroke="rgb(110,110,110)" stroke-opacity="0.75" stroke-width="3.1" stroke-linecap="round" stroke-dasharray="0 3.3" fill="none"/>
<path d="M1081.4 402.2h29.71M1081.5 399.4h29.71M1082.5 396.7h29.71M1081.8 394.0h29.71M1082.1 391.2h29.71M1084.5 388.5h29.71M1081.7 385.7h29.71M1084.2 383.0h29.71M1081.6 380.3h29.71M1083.4 377.5h29.71M1081.6 374.8h29.71M1084.3 372.1h29.71M1081.9 369.3h29.71M1083.4 366.6h29.71M1084.3 363.9h29.71M1084.1 361.1h29.71M1084.6 358.4h29.71M1082.3 355.7h29.71M1081.4 352.9h29.71M1082.6 350.2h29.71M1081.7 347.4h29.71M1083.1 344.7h29.71M1081.4 342.0h29.71M1083.5 339.2h29.71M1082.8 336.5h29.71M1083.4 333.8h29.71M1083.4 331.0h29.71M1082.2 328.3h29.71M1084.1 325.6h29.71M1084.1 322.8h29.71M1084.2 320.1h29.71M1093.8 314.6h6.61M1084.3 311.9h29.71M1083.8 309.1h29.71M1092.9 306.4h6.61M1096.7 303.7h0.01M1095.0 300.9h6.61M1088.0 295.5h19.81M1084.3 292.7h29.71M1082.3 290.0h29.71M1081.7 284.5h29.71M1081.8 281.8h29.71" stroke="rgb(0,160,85)" stroke-opacity="0.75" stroke-width="3.1" stroke-linecap="round" stroke-dasharray="0 3.3" fill="none"/>
<path d="M1082.7 529.9h29.71M1084.3 527.1h29.71M1083.2 524.4h29.71M1088.4 521.6h16.51M1085.4 518.9h23.11M1094.8 516.2h6.61M1081.8 513.4h29.71M1081.7 510.7h29.71M1083.4 508.0h29.71M1082.8 505.2h29.71M1082.3 502.5h29.71M1081.7 499.8h29.71M1082.3 497.0h29.71M1083.4 494.3h29.71M1082.2 491.6h29.71M1081.6 488.8h29.71M1083.1 486.1h29.71M1081.6 483.3h29.71M1082.2 480.6h29.71M1083.9 477.9h29.71M1082.0 475.1h29.71M1085.4 472.4h23.11M1085.1 469.7h23.11M1083.1 466.9h29.71M1081.6 464.2h29.71M1082.5 461.5h29.71M1083.6 458.7h29.71M1082.3 456.0h29.71M1084.2 453.2h29.71M1081.6 450.5h29.71M1081.7 447.8h29.71M1083.9 445.0h29.71" stroke="rgb(15,115,195)" stroke-opacity="0.75" stroke-width="3.1" stroke-linecap="round" stroke-dasharray="0 3.3" fill="none"/>
<path d="M1083.8 442.3h29.71M1084.2 439.6h29.71M1084.0 436.8h29.71M1082.2 434.1h29.71M1084.2 431.4h29.71M1084.0 428.6h29.71M1082.8 425.9h29.71M1083.8 423.2h29.71M1081.9 420.4h29.71M1081.7 417.7h29.71M1081.9 414.9h29.71M1082.8 412.2h29.71M1081.4 409.5h29.71M1082.1 406.7h29.71M1084.2 404.0h29.71" stroke="rgb(110,110,110)" stroke-opacity="0.75" stroke-width="3.1" stroke-linecap="round" stroke-dasharray="0 3.3" fill="none"/>
<path d="M1084.4 401.3h29.71M1083.9 398.5h29.71M1082.7 395.8h29.71M1082.0 393.1h29.71M1083.7 390.3h29.71M1083.6 387.6h29.71M1082.1 384.8h29.71M1083.6 382.1h29.71M1081.5 379.4h29.71M1082.7 376.6h29.71M1083.9 373.9h29.71M1082.5 371.2h29.71M1083.4 368.4h29.71M1082.1 365.7h29.71M1083.5 363.0h29.71M1082.5 360.2h29.71M1084.3 357.5h29.71M1081.8 354.8h29.71M1083.1 352.0h29.71M1082.0 349.3h29.71M1083.6 346.5h29.71M1083.8 343.8h29.71M1081.6 341.1h29.71M1082.5 338.3h29.71M1082.9 335.6h29.71M1084.6 332.9h29.71M1082.4 330.1h29.71M1082.5 327.4h29.71M1083.7 324.7h29.71M1082.4 321.9h29.71M1099.3 319.2h0.01M1090.9 311.0h13.21M1087.3 308.2h23.11M1084.0 291.8h29.71M1083.2 289.1h26.41M1086.0 283.6h26.41M1085.7 280.9h23.11" stroke="rgb(0,160,85)" stroke-opacity="0.75" stroke-width="3.1" stroke-linecap="round" stroke-dasharray="0 3.3" fill="none"/>
<path d="M1084.6 530.8h29.71M1091.5 529.9h9.91M1094.0 528.0h6.61M1086.4 525.3h19.81M1084.4 514.3h29.71M1083.3 511.6h29.71M1083.0 510.7h29.71M1091.0 511.6h13.21M1082.3 508.9h29.71M1083.7 508.0h29.71M1086.1 508.9h26.41M1082.4 506.1h29.71M1094.7 505.2h3.31M1081.4 503.4h29.71M1081.4 502.5h29.71M1096.9 503.4h0.01M1082.3 500.7h29.71M1094.9 499.8h3.31M1094.7 497.9h6.61M1082.6 495.2h29.71M1084.1 494.3h29.71M1092.5 495.2h13.21M1094.1 492.5h9.91M1089.8 489.7h16.51M1084.5 484.2h29.71M1081.4 483.3h29.71M1087.1 484.2h23.11M1081.5 481.5h29.71M1090.1 480.6h16.51M1084.4 478.8h29.71M1081.6 477.9h29.71M1090.8 478.8h16.51M1091.4 476.0h9.91M1098.5 467.8h0.01M1092.8 465.1h9.91M1090.9 462.4h16.51M1083.1 459.6h29.71M1083.8 458.7h29.71M1085.4 459.6h26.41M1082.9 456.9h29.71M1086.8 456.0h19.81M1081.9 454.1h29.71M1082.2 453.2h29.71M1089.5 454.1h19.81M1081.4 451.4h29.71M1084.7 450.5h23.11M1083.6 448.7h29.71M1082.9 445.9h29.71M1095.0 445.0h3.31" stroke="rgb(15,115,195)" stroke-opacity="0.75" stroke-width="3.1" stroke-linecap="round" stroke-dasharray="0 3.3" fill="none"/>
<path d="M1083.7 440.5h29.71M1084.2 439.6h29.71M1096.8 440.5h0.01M1091.8 437.7h9.91M1084.3 435.0h29.71M1094.1 434.1h9.91M1084.2 432.3h29.71M1083.2 431.4h29.71M1081.6 432.3h29.71M1081.9 431.4h29.71M1090.7 432.3h16.51M1084.0 429.5h29.71M1081.6 428.6h29.71M1083.6 429.5h29.71M1083.2 428.6h29.71M1083.4 429.5h29.71M1081.8 428.6h29.71M1084.5 429.5h29.71M1084.5 428.6h29.71M1081.7 429.5h29.71M1083.1 428.6h29.71M1083.1 429.5h29.71M1083.0 426.8h29.71M1082.2 425.9h29.71M1084.3 426.8h29.71M1083.8 425.9h29.71M1082.2 426.8h29.71M1082.3 425.9h29.71M1083.1 426.8h29.71M1083.4 425.9h29.71M1084.3 426.8h29.71M1081.9 424.1h29.71M1082.1 423.2h29.71M1081.5 424.1h29.71M1082.8 423.2h29.71M1084.1 424.1h29.71M1081.3 423.2h29.71M1083.8 424.1h29.71M1082.6 423.2h29.71M1084.4 424.1h29.71M1083.2 423.2h29.71M1082.8 424.1h29.71M1082.2 423.2h29.71M1084.1 424.1h29.71M1096.0 423.2h3.31M1083.4 421.3h29.71M1081.7 420.4h29.71M1081.4 421.3h29.71M1082.5 420.4h29.71M1083.5 421.3h29.71M1081.9 420.4h29.71M1082.3 421.3h29.71M1081.7 420.4h29.71M1084.5 421.3h29.71M1084.3 420.4h29.71M1084.6 421.3h29.71M1098.2 420.4h0.01M1084.2 418.6h29.71M1084.1 417.7h29.71M1081.3 418.6h29.71M1081.6 417.7h29.71M1083.0 418.6h29.71M1082.9 417.7h29.71M1084.0 418.6h29.71M1082.0 417.7h29.71M1094.4 418.6h9.91M1084.5 415.8h29.71M1082.3 414.9h29.71M1082.8 415.8h29.71M1084.2 414.9h29.71M1081.7 415.8h29.71M1081.4 414.9h29.71M1083.3 415.8h29.71M1083.0 414.9h29.71M1099.3 415.8h0.01M1082.4 413.1h29.71M1082.2 412.2h29.71M1082.9 413.1h29.71M1082.8 412.2h29.71M1082.3 413.1h29.71M1081.4 412.2h29.71M1081.4 413.1h29.71M1081.4 412.2h29.71M1084.1 413.1h29.71M1082.7 412.2h29.71M1082.8 413.1h29.71M1084.3 412.2h29.71M1081.6 413.1h29.71M1092.2 412.2h13.21M1083.7 410.4h29.71M1084.5 409.5h29.71M1084.4 410.4h29.71M1083.0 409.5h29.71M1084.0 410.4h29.71M1083.5 409.5h29.71M1081.3 410.4h29.71M1082.3 409.5h29.71M1081.6 410.4h29.71M1082.7 409.5h29.71M1082.4 410.4h29.71M1081.4 409.5h29.71M1084.6 410.4h23.11M1082.1 407.6h29.71M1082.5 406.7h29.71M1081.5 407.6h29.71M1083.0 406.7h29.71M1081.7 407.6h29.71M1081.5 406.7h29.71M1098.9 407.6h0.01M1084.3 404.9h29.71M1083.8 404.0h29.71M1082.8 404.9h29.71M1081.9 404.0h29.71M1081.8 404.9h29.71M1083.0 404.0h29.71M1082.0 404.9h29.71M1094.9 404.0h6.61" stroke="rgb(110,110,110)" stroke-opacity="0.75" stroke-width="3.1" stroke-linecap="round" stroke-dasharray="0 3.3" fill="none"/>
<path d="M1084.5 402.2h29.71M1084.0 401.3h29.71M1083.7 402.2h29.71M1083.3 401.3h29.71M1084.3 402.2h29.71M1082.3 401.3h29.71M1082.9 402.2h29.71M1084.3 401.3h29.71M1083.3 402.2h29.71M1082.5 401.3h29.71M1082.0 402.2h29.71M1082.2 401.3h29.71M1084.1 402.2h29.71M1089.9 401.3h16.51M1082.1 399.4h29.71M1081.9 398.5h29.71M1081.4 399.4h29.71M1083.0 398.5h29.71M1083.4 399.4h29.71M1081.7 398.5h29.71M1081.7 399.4h29.71M1082.8 398.5h29.71M1083.0 399.4h29.71M1082.0 398.5h29.71M1084.3 399.4h29.71M1095.9 398.5h3.31M1081.5 396.7h29.71M1084.3 395.8h29.71M1082.0 396.7h29.71M1082.0 395.8h29.71M1083.7 396.7h29.71M1082.8 395.8h29.71M1083.5 396.7h29.71M1095.0 395.8h3.31M1083.2 394.0h29.71M1083.0 393.1h29.71M1082.9 394.0h29.71M1082.1 393.1h29.71M1081.7 394.0h29.71M1082.8 393.1h29.71M1082.0 394.0h29.71M1083.5 393.1h29.71M1084.5 394.0h29.71M1081.7 393.1h29.71M1087.6 394.0h23.11M1084.5 391.2h29.71M1084.5 390.3h29.71M1082.0 391.2h29.71M1082.1 390.3h29.71M1082.7 391.2h29.71M1082.1 390.3h29.71M1083.5 391.2h29.71M1083.3 390.3h29.71M1081.3 391.2h29.71M1082.1 390.3h29.71M1082.8 391.2h29.71M1082.7 390.3h29.71M1083.7 391.2h29.71M1091.5 390.3h9.91M1081.4 388.5h29.71M1083.8 387.6h29.71M1081.7 388.5h29.71M1084.4 387.6h29.71M1082.0 388.5h29.71M1082.4 387.6h29.71M1081.4 388.5h29.71M1084.0 385.7h29.71M1083.2 384.8h29.71M1084.1 385.7h29.71M1082.4 384.8h29.71M1081.5 385.7h29.71M1082.8 384.8h29.71M1082.7 385.7h29.71M1081.7 384.8h29.71M1093.3 385.7h9.91M1082.3 383.0h29.71M1084.2 382.1h29.71M1084.2 383.0h29.71M1084.1 382.1h29.71M1084.3 383.0h29.71M1081.3 382.1h29.71M1084.2 383.0h29.71M1084.1 382.1h29.71M1082.4 383.0h29.71M1081.9 382.1h29.71M1083.9 383.0h29.71M1084.2 382.1h29.71M1082.7 383.0h29.71M1096.3 382.1h0.01M1083.4 380.3h29.71M1082.8 379.4h29.71M1083.0 380.3h29.71M1084.3 379.4h29.71M1081.3 380.3h29.71M1083.5 379.4h29.71M1082.6 380.3h29.71M1089.7 379.4h16.51M1081.7 377.5h29.71M1083.0 376.6h29.71M1081.8 377.5h29.71M1082.9 376.6h29.71M1083.6 377.5h29.71M1084.2 376.6h29.71M1083.0 377.5h29.71M1083.1 376.6h29.71M1097.9 377.5h0.01M1081.7 374.8h29.71M1081.4 373.9h29.71M1084.5 374.8h29.71M1081.7 373.9h29.71M1081.7 374.8h29.71M1081.7 373.9h29.71M1082.9 374.8h29.71M1083.1 373.9h29.71M1082.1 374.8h29.71M1083.9 373.9h29.71M1083.9 374.8h29.71M1091.1 373.9h13.21M1084.5 372.1h29.71M1082.4 371.2h29.71M1083.7 372.1h29.71M1081.5 371.2h29.71M1082.4 372.1h29.71M1083.8 371.2h29.71M1084.3 372.1h29.71M1085.9 371.2h26.41M1083.9 369.3h29.71M1083.2 368.4h29.71M1082.0 369.3h29.71M1083.3 368.4h29.71M1083.4 369.3h29.71M1082.7 368.4h29.71M1081.9 369.3h29.71M1083.8 368.4h29.71M1081.8 369.3h29.71M1081.4 368.4h29.71M1083.6 369.3h29.71M1083.2 368.4h29.71M1084.5 369.3h29.71M1082.3 368.4h29.71M1084.1 369.3h26.41M1082.9 366.6h29.71M1084.5 365.7h29.71M1081.3 366.6h29.71M1083.5 365.7h29.71M1084.3 366.6h29.71M1083.6 365.7h29.71M1082.9 366.6h29.71M1083.4 365.7h29.71M1083.0 366.6h29.71M1082.5 365.7h29.71M1084.5 366.6h29.71M1084.3 365.7h29.71M1082.1 366.6h29.71M1081.6 365.7h29.71M1097.1 366.6h3.31M1084.5 363.9h29.71M1081.6 363.0h29.71M1083.3 363.9h29.71M1081.7 363.0h29.71M1084.1 363.9h29.71M1083.1 363.0h29.71M1083.8 363.9h29.71M1082.7 363.0h29.71M1081.8 363.9h29.71M1082.3 363.0h29.71M1089.8 363.9h16.51M1083.2 361.1h29.71M1081.9 360.2h29.71M1082.5 361.1h29.71M1084.0 360.2h29.71M1082.2 361.1h29.71M1082.0 360.2h29.71M1082.4 361.1h29.71M1081.3 360.2h29.71M1082.2 361.1h29.71M1081.7 360.2h29.71M1082.9 361.1h29.71M1082.0 360.2h29.71M1087.3 361.1h23.11M1082.8 358.4h29.71M1083.4 357.5h29.71M1083.4 358.4h29.71M1081.8 357.5h29.71M1084.2 358.4h29.71M1082.3 357.5h29.71M1082.9 358.4h29.71M1081.6 357.5h29.71M1083.7 358.4h29.71M1083.5 357.5h29.71M1084.5 358.4h29.71M1092.1 357.5h9.91M1083.0 355.7h29.71M1082.4 354.8h29.71M1084.3 355.7h29.71M1081.4 354.8h29.71M1084.0 355.7h29.71M1083.6 354.8h29.71M1084.4 355.7h29.71M1090.4 354.8h13.21M1084.3 352.9h29.71M1083.7 352.0h29.71M1083.9 352.9h29.71M1083.6 352.0h29.71M1083.6 352.9h29.71M1084.0 352.0h29.71M1081.4 352.9h29.71M1082.2 352.0h29.71M1081.7 352.9h29.71M1081.5 352.0h29.71M1084.3 352.9h29.71M1081.5 352.0h29.71M1091.1 352.9h16.51M1081.5 350.2h29.71M1084.2 349.3h29.71M1081.4 350.2h29.71M1083.6 349.3h29.71M1084.1 350.2h29.71M1086.3 349.3h19.81M1084.1 347.4h29.71M1082.1 346.5h29.71M1084.5 347.4h29.71M1081.3 346.5h29.71M1083.4 344.7h29.71M1081.7 343.8h29.71M1084.1 344.7h29.71M1081.7 343.8h29.71M1082.2 344.7h29.71M1084.4 343.8h29.71M1084.3 344.7h29.71M1096.8 343.8h3.31M1083.2 342.0h29.71M1083.2 341.1h29.71M1084.4 342.0h29.71M1084.1 341.1h29.71M1082.7 342.0h29.71M1081.6 341.1h29.71M1083.5 342.0h29.71M1083.8 339.2h29.71M1081.5 338.3h29.71M1082.2 339.2h29.71M1084.3 338.3h29.71M1082.8 339.2h29.71M1083.6 338.3h29.71M1083.8 339.2h29.71M1083.5 338.3h29.71M1082.5 339.2h29.71M1092.4 338.3h9.91M1083.2 336.5h29.71M1082.8 335.6h29.71M1082.9 336.5h29.71M1084.0 335.6h29.71M1083.8 336.5h29.71M1082.3 335.6h29.71M1081.5 336.5h29.71M1082.5 333.8h29.71M1081.7 332.9h29.71M1082.8 333.8h29.71M1081.8 332.9h29.71M1084.0 333.8h29.71M1081.7 332.9h29.71M1084.6 333.8h29.71M1081.4 332.9h29.71M1083.4 333.8h29.71M1092.8 332.9h13.21M1083.5 331.0h29.71M1083.1 330.1h29.71M1083.4 331.0h29.71M1084.1 330.1h29.71M1082.7 331.0h29.71M1091.8 330.1h13.21M1083.7 328.3h29.71M1084.6 327.4h29.71M1082.5 328.3h29.71M1084.0 327.4h29.71M1081.6 328.3h29.71M1081.9 327.4h29.71M1082.8 328.3h29.71M1082.3 327.4h29.71M1082.4 328.3h29.71M1091.7 327.4h13.21M1081.6 325.6h29.71M1082.9 324.7h29.71M1081.8 325.6h29.71M1081.4 324.7h29.71M1083.2 325.6h29.71M1083.4 324.7h29.71M1084.1 325.6h29.71M1082.7 324.7h29.71M1081.6 325.6h29.71M1095.5 324.7h3.31M1083.9 322.8h29.71M1082.8 321.9h29.71M1082.3 322.8h29.71M1083.6 321.9h29.71M1082.4 322.8h29.71M1082.6 321.9h29.71M1092.5 322.8h13.21M1097.3 292.7h3.31" stroke="rgb(0,160,85)" stroke-opacity="0.75" stroke-width="3.1" stroke-linecap="round" stroke-dasharray="0 3.3" fill="none"/>
<path d="M1121.9 532.6h29.71M1121.9 529.9h29.71M1121.9 527.1h29.71M1121.9 524.4h29.71M1121.9 521.6h29.71M1121.9 518.9h29.71M1121.9 516.2h29.71M1121.9 513.4h29.71M1121.9 510.7h29.71M1121.9 508.0h29.71M1121.9 505.2h29.71M1121.9 502.5h29.71M1121.9 499.8h29.71M1121.9 497.0h29.71M1121.9 494.3h29.71M1121.9 491.6h29.71M1121.9 488.8h29.71M1121.9 486.1h29.71M1121.9 483.3h29.71M1121.9 480.6h29.71M1121.9 477.9h29.71M1121.9 475.1h29.71M1121.9 472.4h29.71M1121.9 469.7h29.71M1121.9 466.9h29.71M1121.9 464.2h29.71M1121.9 461.5h29.71M1121.9 458.7h29.71M1121.9 456.0h29.71M1121.9 453.2h29.71M1121.9 450.5h29.71M1121.9 447.8h29.71M1121.9 445.0h29.71" stroke="rgb(15,115,195)" stroke-opacity="0.75" stroke-width="3.1" stroke-linecap="round" stroke-dasharray="0 3.3" fill="none"/>
<path d="M1121.9 442.3h29.71M1121.9 439.6h29.71M1121.9 436.8h29.71M1121.9 434.1h29.71M1121.9 431.4h29.71M1121.9 428.6h29.71M1121.9 425.9h29.71M1121.9 423.2h29.71M1121.9 420.4h29.71M1121.9 417.7h29.71M1121.9 414.9h29.71M1121.9 412.2h29.71M1121.9 409.5h29.71M1121.9 406.7h29.71M1121.9 404.0h29.71" stroke="rgb(110,110,110)" stroke-opacity="0.75" stroke-width="3.1" stroke-linecap="round" stroke-dasharray="0 3.3" fill="none"/>
<path d="M1121.9 401.3h29.71M1121.9 398.5h29.71M1121.9 395.8h29.71M1121.9 393.1h29.71M1121.9 390.3h29.71M1121.9 387.6h29.71M1121.9 384.8h29.71M1121.9 382.1h29.71M1121.9 379.4h29.71M1121.9 376.6h29.71M1121.9 373.9h29.71M1121.9 371.2h29.71M1121.9 368.4h29.71M1121.9 365.7h29.71M1121.9 363.0h29.71M1121.9 360.2h29.71M1121.9 357.5h29.71M1121.9 354.8h29.71M1121.9 352.0h29.71M1121.9 349.3h29.71M1121.9 346.5h29.71M1121.9 343.8h29.71M1121.9 341.1h29.71M1121.9 338.3h29.71M1121.9 335.6h29.71M1121.9 332.9h29.71M1121.9 330.1h29.71M1121.9 327.4h29.71M1121.9 324.7h29.71M1121.9 321.9h29.71M1121.9 319.2h29.71M1121.9 316.4h29.71M1121.9 313.7h29.71M1121.9 311.0h29.71M1121.9 308.2h29.71M1121.9 305.5h29.71M1121.9 302.8h29.71M1121.9 300.0h29.71M1121.9 297.3h29.71M1121.9 294.6h29.71M1121.9 291.8h29.71M1121.9 289.1h29.71M1121.9 286.4h29.71M1121.9 283.6h29.71M1121.9 280.9h29.71M1121.9 278.1h29.71M1121.9 275.4h29.71M1123.5 272.7h26.41M1121.9 269.9h29.71M1121.9 267.2h29.71M1121.9 264.5h29.71M1121.9 261.7h29.71M1121.9 259.0h29.71M1121.9 256.3h29.71M1121.9 253.5h29.71M1121.9 250.8h29.71M1121.9 248.0h29.71M1121.9 245.3h29.71M1135.0 242.6h3.31M1136.7 239.8h0.01M1135.0 237.1h3.31M1136.7 234.4h0.01M1135.0 231.6h3.31M1135.0 228.9h3.31M1135.0 226.2h3.31M1136.7 223.4h0.01M1135.0 220.7h3.31M1136.7 218.0h0.01M1135.0 215.2h3.31M1136.7 212.5h0.01M1135.0 209.7h3.31M1135.0 207.0h3.31M1133.4 204.3h6.61M1136.7 201.5h0.01M1135.0 198.8h3.31M1135.0 196.1h3.31M1135.0 193.3h3.31M1135.0 190.6h3.31M1135.0 187.9h3.31M1135.0 185.1h3.31M1135.0 182.4h3.31M1136.7 179.6h0.01" stroke="rgb(0,160,85)" stroke-opacity="0.75" stroke-width="3.1" stroke-linecap="round" stroke-dasharray="0 3.3" fill="none"/>
<path d="M1122.3 533.5h29.71M1122.9 530.8h29.71M1122.1 528.0h29.71M1123.5 525.3h29.71M1120.6 522.5h29.71M1121.7 519.8h29.71M1121.0 517.1h29.71M1122.1 514.3h29.71M1121.7 511.6h29.71M1121.8 508.9h29.71M1121.3 506.1h29.71M1122.9 503.4h29.71M1121.5 500.7h29.71M1120.4 497.9h29.71M1120.4 495.2h29.71M1121.9 492.5h29.71M1121.6 489.7h29.71M1120.3 487.0h29.71M1120.6 484.2h29.71M1121.8 481.5h29.71M1123.1 478.8h29.71M1120.8 476.0h29.71M1121.2 473.3h29.71M1122.2 470.6h29.71M1121.4 467.8h29.71M1120.3 465.1h29.71M1121.6 462.4h29.71M1121.8 459.6h29.71M1122.8 456.9h29.71M1122.2 454.1h29.71M1120.5 451.4h29.71M1122.5 448.7h29.71M1121.3 445.9h29.71" stroke="rgb(15,115,195)" stroke-opacity="0.75" stroke-width="3.1" stroke-linecap="round" stroke-dasharray="0 3.3" fill="none"/>
<path d="M1121.6 443.2h29.71M1120.5 440.5h29.71M1122.0 437.7h29.71M1120.4 435.0h29.71M1120.4 432.3h29.71M1120.5 429.5h29.71M1122.0 426.8h29.71M1123.5 424.1h29.71M1120.6 421.3h29.71M1122.0 418.6h29.71M1120.8 415.8h29.71M1121.0 413.1h29.71M1122.6 410.4h29.71M1122.4 407.6h29.71M1122.3 404.9h29.71" stroke="rgb(110,110,110)" stroke-opacity="0.75" stroke-width="3.1" stroke-linecap="round" stroke-dasharray="0 3.3" fill="none"/>
<path d="M1121.3 402.2h29.71M1120.9 399.4h29.71M1122.8 396.7h29.71M1121.3 394.0h29.71M1121.4 391.2h29.71M1122.6 388.5h29.71M1121.3 385.7h29.71M1123.4 383.0h29.71M1122.5 380.3h29.71M1123.3 377.5h29.71M1122.1 374.8h29.71M1123.1 372.1h29.71M1123.2 369.3h29.71M1122.7 366.6h29.71M1120.5 363.9h29.71M1122.7 361.1h29.71M1121.0 358.4h29.71M1121.0 355.7h29.71M1121.8 352.9h29.71M1120.9 350.2h29.71M1120.8 347.4h29.71M1120.8 344.7h29.71M1122.7 342.0h29.71M1122.3 339.2h29.71M1120.8 336.5h29.71M1121.3 333.8h29.71M1123.3 331.0h29.71M1121.9 328.3h29.71M1121.5 325.6h29.71M1120.9 322.8h29.71M1122.2 320.1h29.71M1120.5 317.3h29.71M1121.0 314.6h29.71M1122.4 311.9h29.71M1122.0 309.1h29.71M1123.2 306.4h29.71M1121.2 303.7h29.71M1120.8 300.9h29.71M1121.9 298.2h29.71M1122.8 295.5h29.71M1125.6 292.7h23.11M1129.0 290.0h16.51M1136.6 287.3h0.01M1133.2 284.5h9.91M1134.8 279.0h6.61M1133.1 270.8h9.91M1133.2 268.1h9.91M1129.7 265.4h16.51M1134.4 259.9h3.31M1136.1 257.2h3.31M1137.9 251.7h0.01M1137.1 248.9h0.01M1133.9 246.2h6.61" stroke="rgb(0,160,85)" stroke-opacity="0.75" stroke-width="3.1" stroke-linecap="round" stroke-dasharray="0 3.3" fill="none"/>
<path d="M1131.7 532.6h9.91M1121.9 529.9h29.71M1120.4 527.1h29.71M1122.6 524.4h29.71M1123.3 521.6h29.71M1122.0 518.9h29.71M1122.8 516.2h29.71M1122.6 513.4h29.71M1121.5 510.7h29.71M1121.8 508.0h29.71M1123.3 505.2h29.71M1122.8 502.5h29.71M1123.5 499.8h29.71M1122.9 497.0h29.71M1121.3 494.3h29.71M1122.6 491.6h29.71M1122.1 488.8h29.71M1122.2 486.1h29.71M1120.5 483.3h29.71M1120.9 480.6h29.71M1122.8 477.9h29.71M1122.5 475.1h29.71M1123.2 472.4h29.71M1121.9 469.7h29.71M1121.2 466.9h29.71M1122.3 464.2h29.71M1121.0 461.5h29.71M1122.3 458.7h29.71M1122.3 456.0h29.71M1122.9 453.2h29.71M1121.2 450.5h29.71M1120.9 447.8h29.71M1121.0 445.0h29.71" stroke="rgb(15,115,195)" stroke-opacity="0.75" stroke-width="3.1" stroke-linecap="round" stroke-dasharray="0 3.3" fill="none"/>
<path d="M1122.2 442.3h29.71M1121.2 439.6h29.71M1120.9 436.8h29.71M1122.9 434.1h29.71M1120.3 431.4h29.71M1122.9 428.6h29.71M1123.2 425.9h29.71M1122.0 423.2h29.71M1123.3 420.4h29.71M1121.7 417.7h29.71M1120.9 414.9h29.71M1122.8 412.2h29.71M1120.9 409.5h29.71M1120.3 406.7h29.71M1121.7 404.0h29.71" stroke="rgb(110,110,110)" stroke-opacity="0.75" stroke-width="3.1" stroke-linecap="round" stroke-dasharray="0 3.3" fill="none"/>
<path d="M1121.3 401.3h29.71M1122.5 398.5h29.71M1120.3 395.8h29.71M1122.8 393.1h29.71M1120.9 390.3h29.71M1121.9 387.6h29.71M1121.5 384.8h29.71M1121.8 382.1h29.71M1121.6 379.4h29.71M1121.4 376.6h29.71M1122.0 373.9h29.71M1123.5 371.2h29.71M1120.8 368.4h29.71M1120.8 365.7h29.71M1120.9 363.0h29.71M1122.3 360.2h29.71M1123.1 357.5h29.71M1121.6 354.8h29.71M1122.1 352.0h29.71M1122.7 349.3h29.71M1121.5 346.5h29.71M1120.6 343.8h29.71M1123.4 341.1h29.71M1120.4 338.3h29.71M1121.4 335.6h29.71M1121.0 332.9h29.71M1120.9 330.1h29.71M1121.8 327.4h29.71M1123.4 324.7h29.71M1121.1 321.9h29.71M1122.2 319.2h29.71M1122.1 316.4h29.71M1121.8 313.7h29.71M1120.3 311.0h29.71M1122.1 308.2h29.71M1122.1 305.5h29.71M1124.2 302.8h26.41M1120.3 300.0h29.71M1122.8 297.3h29.71M1121.3 294.6h29.71" stroke="rgb(0,160,85)" stroke-opacity="0.75" stroke-width="3.1" stroke-linecap="round" stroke-dasharray="0 3.3" fill="none"/>
<path d="M1121.9 530.8h29.71M1122.8 528.0h29.71M1123.1 525.3h29.71M1121.4 522.5h29.71M1121.3 519.8h29.71M1120.9 517.1h29.71M1120.6 514.3h29.71M1123.5 511.6h29.71M1122.0 508.9h29.71M1121.3 506.1h29.71M1121.4 503.4h29.71M1123.4 500.7h29.71M1122.8 497.9h29.71M1123.2 495.2h29.71M1120.3 492.5h29.71M1123.0 489.7h29.71M1122.3 487.0h29.71M1120.5 484.2h29.71M1120.7 481.5h29.71M1122.8 478.8h29.71M1121.0 476.0h29.71M1121.2 473.3h29.71M1122.6 470.6h29.71M1123.5 467.8h29.71M1121.7 465.1h29.71M1122.5 462.4h29.71M1123.4 459.6h29.71M1122.7 456.9h29.71M1123.4 454.1h29.71M1123.3 451.4h29.71M1121.3 448.7h29.71M1123.0 445.9h29.71" stroke="rgb(15,115,195)" stroke-opacity="0.75" stroke-width="3.1" stroke-linecap="round" stroke-dasharray="0 3.3" fill="none"/>
<path d="M1121.1 443.2h29.71M1121.7 440.5h29.71M1122.8 437.7h29.71M1122.2 435.0h29.71M1121.8 432.3h29.71M1120.9 429.5h29.71M1123.4 426.8h29.71M1122.8 424.1h29.71M1121.9 421.3h29.71M1120.3 418.6h29.71M1122.6 415.8h29.71M1122.8 413.1h29.71M1122.5 410.4h29.71M1122.6 407.6h29.71M1121.9 404.9h29.71" stroke="rgb(110,110,110)" stroke-opacity="0.75" stroke-width="3.1" stroke-linecap="round" stroke-dasharray="0 3.3" fill="none"/>
<path d="M1120.9 402.2h29.71M1122.0 399.4h29.71M1121.8 396.7h29.71M1122.7 394.0h29.71M1121.8 391.2h29.71M1121.4 388.5h29.71M1123.4 385.7h29.71M1122.5 383.0h29.71M1121.5 380.3h29.71M1122.3 377.5h29.71M1123.0 374.8h29.71M1120.5 372.1h29.71M1122.0 369.3h29.71M1121.2 366.6h29.71M1121.0 363.9h29.71M1123.3 361.1h29.71M1122.3 358.4h29.71M1121.6 355.7h29.71M1123.1 352.9h29.71M1120.8 350.2h29.71M1122.9 347.4h29.71M1121.3 344.7h29.71M1121.9 342.0h29.71M1122.8 339.2h29.71M1122.8 336.5h29.71M1121.1 333.8h29.71M1135.5 331.0h3.31M1123.2 328.3h29.71M1136.6 325.6h3.31M1120.9 322.8h29.71M1122.6 320.1h29.71M1121.1 317.3h29.71M1121.5 314.6h29.71M1125.3 311.9h23.11M1136.1 309.1h0.01M1121.1 306.4h29.71M1134.3 300.9h3.31M1123.4 298.2h29.71M1121.8 295.5h29.71" stroke="rgb(0,160,85)" stroke-opacity="0.75" stroke-width="3.1" stroke-linecap="round" stroke-dasharray="0 3.3" fill="none"/>
<path d="M1122.6 529.9h26.41M1134.2 527.1h3.31M1122.2 524.4h29.71M1120.7 521.6h29.71M1121.8 518.9h29.71M1123.4 516.2h29.71M1121.8 513.4h29.71M1121.5 510.7h29.71M1122.7 508.0h29.71M1122.2 505.2h29.71M1122.5 502.5h29.71M1122.1 499.8h29.71M1121.8 497.0h29.71M1123.4 494.3h29.71M1120.9 491.6h29.71M1121.2 488.8h29.71M1123.0 486.1h29.71M1120.3 483.3h29.71M1120.8 480.6h29.71M1120.2 477.9h29.71M1122.5 475.1h29.71M1121.9 472.4h29.71M1123.4 469.7h29.71M1120.6 466.9h29.71M1121.9 464.2h29.71M1122.9 461.5h29.71M1120.5 458.7h29.71M1122.4 456.0h29.71M1123.5 453.2h29.71M1122.6 450.5h29.71M1122.3 447.8h29.71M1120.7 445.0h29.71" stroke="rgb(15,115,195)" stroke-opacity="0.75" stroke-width="3.1" stroke-linecap="round" stroke-dasharray="0 3.3" fill="none"/>
<path d="M1120.8 442.3h29.71M1123.2 439.6h29.71M1123.0 436.8h29.71M1122.2 434.1h29.71M1122.4 431.4h29.71M1120.3 428.6h29.71M1121.5 425.9h29.71M1122.6 423.2h29.71M1123.2 420.4h29.71M1122.9 417.7h29.71M1122.9 414.9h29.71M1123.3 412.2h29.71M1121.3 409.5h29.71M1122.2 406.7h29.71M1120.9 404.0h29.71" stroke="rgb(110,110,110)" stroke-opacity="0.75" stroke-width="3.1" stroke-linecap="round" stroke-dasharray="0 3.3" fill="none"/>
<path d="M1120.4 401.3h29.71M1120.5 398.5h29.71M1123.1 395.8h29.71M1120.7 393.1h29.71M1121.2 390.3h29.71M1121.1 387.6h29.71M1120.8 384.8h29.71M1121.9 382.1h29.71M1122.6 379.4h29.71M1122.9 376.6h29.71M1123.0 373.9h29.71M1123.4 371.2h29.71M1120.6 368.4h29.71M1122.7 365.7h29.71M1121.3 363.0h29.71M1121.1 360.2h29.71M1122.3 357.5h29.71M1122.5 354.8h29.71M1120.4 352.0h29.71M1122.2 349.3h29.71M1121.7 346.5h29.71M1120.6 343.8h29.71M1121.0 341.1h29.71M1122.5 338.3h29.71M1122.7 335.6h29.71M1127.7 332.9h19.81M1137.5 327.4h0.01M1135.6 321.9h0.01M1127.0 319.2h19.81M1123.5 316.4h29.71M1129.6 313.7h13.21M1128.9 305.5h16.51M1122.7 297.3h26.41M1131.0 294.6h13.21" stroke="rgb(0,160,85)" stroke-opacity="0.75" stroke-width="3.1" stroke-linecap="round" stroke-dasharray="0 3.3" fill="none"/>
<path d="M1135.2 525.3h0.01M1132.8 522.5h9.91M1129.1 519.8h13.21M1136.4 517.1h3.31M1122.9 514.3h29.71M1120.9 513.4h29.71M1123.2 514.3h29.71M1134.7 513.4h6.61M1120.3 511.6h29.71M1123.8 510.7h23.11M1120.9 508.9h29.71M1122.2 508.0h29.71M1122.0 508.9h29.71M1137.1 508.0h0.01M1122.9 506.1h26.41M1130.7 503.4h13.21M1123.1 500.7h29.71M1121.8 499.8h29.71M1121.4 500.7h29.71M1122.7 499.8h26.41M1123.0 497.9h29.71M1120.4 497.0h29.71M1121.1 497.9h29.71M1122.8 497.0h26.41M1122.7 495.2h29.71M1123.4 494.3h26.41M1123.0 492.5h29.71M1137.7 491.6h0.01M1122.0 489.7h29.71M1121.1 488.8h29.71M1122.7 489.7h29.71M1123.5 488.8h23.11M1122.1 487.0h29.71M1121.0 486.1h29.71M1121.5 487.0h29.71M1121.7 484.2h29.71M1120.7 483.3h29.71M1123.1 484.2h29.71M1122.4 483.3h29.71M1135.5 484.2h0.01M1121.4 481.5h29.71M1122.5 480.6h29.71M1131.9 481.5h9.91M1134.9 478.8h3.31M1132.8 476.0h6.61M1135.2 473.3h3.31M1121.2 470.6h29.71M1122.5 469.7h29.71M1121.9 470.6h29.71M1122.1 469.7h29.71M1133.6 470.6h3.31M1120.5 467.8h29.71M1120.4 466.9h29.71M1122.9 467.8h29.71M1131.0 466.9h13.21M1121.5 465.1h29.71M1121.5 464.2h29.71M1122.6 462.4h29.71M1136.6 461.5h0.01M1121.8 459.6h29.71M1136.7 458.7h0.01M1123.0 456.9h29.71M1122.5 456.0h29.71M1122.5 456.9h29.71M1135.9 456.0h0.01M1120.2 454.1h29.71M1121.2 453.2h29.71M1121.2 454.1h29.71M1121.5 453.2h29.71M1126.7 451.4h19.81M1130.7 448.7h13.21M1122.4 445.9h29.71M1120.9 445.0h29.71M1122.2 445.9h29.71M1121.1 445.0h29.71M1133.0 445.9h6.61" stroke="rgb(15,115,195)" stroke-opacity="0.75" stroke-width="3.1" stroke-linecap="round" stroke-dasharray="0 3.3" fill="none"/>
<path d="M1121.5 443.2h29.71M1121.1 442.3h29.71M1120.8 443.2h29.71M1123.4 442.3h29.71M1120.3 443.2h29.71M1122.9 442.3h29.71M1123.3 443.2h29.71M1122.5 442.3h29.71M1120.3 443.2h29.71M1121.9 442.3h29.71M1120.3 443.2h29.71M1122.2 442.3h29.71M1122.5 443.2h29.71M1130.9 442.3h9.91M1121.4 440.5h29.71M1120.6 439.6h29.71M1122.8 440.5h29.71M1122.9 439.6h29.71M1121.9 440.5h29.71M1133.6 439.6h3.31M1123.3 437.7h29.71M1123.1 436.8h29.71M1120.3 437.7h29.71M1122.1 436.8h29.71M1120.5 437.7h29.71M1123.2 436.8h29.71M1126.0 437.7h23.11M1121.8 435.0h29.71M1122.8 434.1h29.71M1121.3 435.0h29.71M1121.1 434.1h29.71M1121.4 435.0h29.71M1121.2 434.1h29.71M1122.3 435.0h29.71M1123.1 434.1h29.71M1120.4 435.0h29.71M1120.4 434.1h29.71M1121.9 435.0h29.71M1125.7 434.1h23.11M1122.4 432.3h29.71M1120.7 431.4h29.71M1120.5 432.3h29.71M1123.3 431.4h29.71M1122.0 432.3h29.71M1121.5 431.4h29.71M1125.8 432.3h23.11M1121.4 429.5h29.71M1122.0 428.6h29.71M1122.3 429.5h29.71M1120.8 428.6h29.71M1122.5 429.5h29.71M1121.8 428.6h29.71M1120.7 429.5h29.71M1123.0 428.6h29.71M1122.9 429.5h29.71M1123.2 428.6h29.71M1122.4 429.5h29.71M1129.2 428.6h13.21M1123.3 426.8h29.71M1123.3 425.9h29.71M1122.8 426.8h29.71M1120.2 425.9h29.71M1121.4 426.8h29.71M1122.2 425.9h29.71M1122.2 426.8h29.71M1122.7 425.9h29.71M1122.3 426.8h29.71M1120.7 425.9h29.71M1123.3 426.8h29.71M1123.6 425.9h26.41M1123.1 424.1h29.71M1121.4 423.2h29.71M1120.5 424.1h29.71M1121.5 423.2h29.71M1120.8 424.1h29.71M1122.0 423.2h29.71M1122.9 424.1h29.71M1121.4 423.2h29.71M1120.6 424.1h29.71M1120.3 423.2h29.71M1121.6 424.1h29.71M1122.1 423.2h29.71M1121.9 424.1h26.41M1121.9 421.3h29.71M1120.6 420.4h29.71M1121.0 421.3h29.71M1121.6 420.4h29.71M1122.3 421.3h29.71M1122.7 420.4h29.71M1122.7 421.3h29.71M1122.3 420.4h29.71M1121.0 421.3h29.71M1121.6 420.4h29.71M1121.4 421.3h29.71M1122.1 418.6h29.71M1122.8 417.7h29.71M1122.6 418.6h29.71M1122.6 417.7h29.71M1123.5 418.6h29.71M1121.4 417.7h29.71M1121.5 418.6h29.71M1120.2 417.7h29.71M1122.4 418.6h29.71M1132.0 417.7h9.91M1121.8 415.8h29.71M1120.4 414.9h29.71M1121.4 415.8h29.71M1122.9 414.9h29.71M1121.8 415.8h29.71M1121.7 414.9h29.71M1121.5 415.8h29.71M1122.3 414.9h29.71M1122.2 415.8h29.71M1122.5 414.9h29.71M1137.9 415.8h0.01M1120.9 413.1h29.71M1123.0 412.2h29.71M1123.1 413.1h29.71M1120.5 412.2h29.71M1121.2 413.1h29.71M1122.3 412.2h29.71M1120.7 413.1h29.71M1122.9 412.2h29.71M1121.1 413.1h29.71M1122.5 412.2h29.71M1121.2 413.1h29.71M1125.9 412.2h19.81M1122.3 410.4h29.71M1121.4 409.5h29.71M1120.8 410.4h29.71M1120.7 409.5h29.71M1120.4 410.4h29.71M1122.5 409.5h29.71M1121.6 410.4h29.71M1121.7 407.6h29.71M1121.9 406.7h29.71M1123.4 407.6h29.71M1121.4 406.7h29.71M1122.3 407.6h29.71M1122.3 406.7h29.71M1134.6 407.6h3.31M1122.8 404.9h29.71M1120.3 404.0h29.71M1122.3 404.9h29.71M1121.7 404.0h29.71M1120.9 404.9h29.71M1122.1 404.0h29.71M1122.1 404.9h29.71M1120.5 404.0h29.71M1135.0 404.9h3.31" stroke="rgb(110,110,110)" stroke-opacity="0.75" stroke-width="3.1" stroke-linecap="round" stroke-dasharray="0 3.3" fill="none"/>
<path d="M1120.8 402.2h29.71M1120.7 401.3h29.71M1122.3 402.2h29.71M1123.0 401.3h29.71M1120.9 402.2h29.71M1120.6 401.3h29.71M1122.0 402.2h29.71M1120.6 401.3h29.71M1121.0 399.4h29.71M1122.2 398.5h29.71M1120.5 399.4h29.71M1120.9 398.5h29.71M1122.1 399.4h29.71M1122.9 398.5h29.71M1121.9 399.4h29.71M1122.4 398.5h29.71M1120.2 399.4h29.71M1121.2 398.5h29.71M1131.1 399.4h9.91M1122.7 396.7h29.71M1122.1 395.8h29.71M1120.8 396.7h29.71M1123.3 395.8h29.71M1120.5 396.7h29.71M1123.4 395.8h29.71M1122.8 396.7h29.71M1122.6 395.8h29.71M1122.0 396.7h29.71M1120.7 395.8h29.71M1121.3 396.7h29.71M1122.4 395.8h29.71M1122.4 396.7h29.71M1121.5 395.8h29.71M1122.8 396.7h29.71M1130.3 395.8h9.91M1121.2 394.0h29.71M1120.6 393.1h29.71M1122.4 394.0h29.71M1121.7 393.1h29.71M1121.0 394.0h29.71M1121.4 393.1h29.71M1123.1 394.0h29.71M1121.6 393.1h29.71M1122.5 394.0h29.71M1133.8 393.1h6.61M1121.3 391.2h29.71M1120.8 390.3h29.71M1123.2 391.2h29.71M1121.6 390.3h29.71M1120.9 391.2h29.71M1120.3 390.3h29.71M1120.9 391.2h29.71M1123.1 390.3h29.71M1121.3 391.2h29.71M1122.4 390.3h29.71M1121.0 391.2h29.71M1122.2 388.5h29.71M1122.9 387.6h29.71M1122.5 388.5h29.71M1121.8 387.6h29.71M1121.3 388.5h29.71M1123.1 387.6h29.71M1123.0 388.5h29.71M1120.7 387.6h29.71M1122.4 388.5h29.71M1122.7 387.6h29.71M1122.4 388.5h29.71M1123.4 387.6h29.71M1126.4 388.5h23.11M1121.5 385.7h29.71M1122.3 384.8h29.71M1121.1 385.7h29.71M1121.1 384.8h29.71M1122.8 385.7h29.71M1122.2 384.8h29.71M1122.7 385.7h29.71M1122.8 384.8h29.71M1126.4 385.7h23.11M1123.4 383.0h29.71M1122.4 382.1h29.71M1121.6 383.0h29.71M1122.4 382.1h29.71M1121.2 383.0h29.71M1120.6 382.1h29.71M1121.5 383.0h29.71M1120.7 382.1h29.71M1120.2 383.0h29.71M1120.5 382.1h29.71M1121.7 383.0h29.71M1122.7 382.1h29.71M1120.4 383.0h29.71M1122.3 382.1h29.71M1120.6 383.0h29.71M1136.7 382.1h0.01M1120.6 380.3h29.71M1121.4 379.4h29.71M1122.5 380.3h29.71M1123.0 379.4h29.71M1123.4 380.3h29.71M1121.0 379.4h29.71M1122.3 380.3h29.71M1121.2 379.4h29.71M1122.5 380.3h29.71M1134.5 379.4h6.61M1121.1 377.5h29.71M1122.8 376.6h29.71M1120.2 377.5h29.71M1121.3 376.6h29.71M1120.8 377.5h29.71M1121.3 376.6h29.71M1120.9 377.5h29.71M1123.6 376.6h23.11M1122.3 374.8h29.71M1120.8 373.9h29.71M1122.7 374.8h29.71M1120.5 373.9h29.71M1123.3 374.8h29.71M1121.2 373.9h29.71M1121.0 374.8h29.71M1120.9 373.9h29.71M1121.5 374.8h29.71M1122.8 373.9h29.71M1123.0 374.8h29.71M1122.7 373.9h29.71M1122.6 374.8h29.71M1121.0 373.9h29.71M1132.8 374.8h6.61M1123.2 372.1h29.71M1121.7 371.2h29.71M1122.5 372.1h29.71M1122.8 371.2h29.71M1120.8 372.1h29.71M1122.2 371.2h29.71M1123.4 372.1h29.71M1123.1 371.2h29.71M1123.2 372.1h29.71M1130.4 371.2h9.91M1122.9 369.3h29.71M1122.6 368.4h29.71M1120.3 369.3h29.71M1121.2 368.4h29.71M1120.7 369.3h29.71M1122.3 368.4h29.71M1122.3 369.3h29.71M1120.4 368.4h29.71M1123.3 369.3h29.71M1123.4 368.4h29.71M1121.7 369.3h29.71M1122.1 368.4h29.71M1121.4 369.3h29.71M1132.1 368.4h9.91M1120.9 366.6h29.71M1120.4 365.7h29.71M1123.2 366.6h29.71M1120.7 365.7h29.71M1121.6 366.6h29.71M1121.2 365.7h29.71M1121.1 366.6h29.71M1121.4 365.7h29.71M1122.0 366.6h29.71M1128.8 365.7h13.21M1121.2 363.9h29.71M1123.0 363.0h29.71M1122.4 363.9h29.71M1121.8 363.0h29.71M1122.7 363.9h29.71M1122.5 363.0h29.71M1121.2 363.9h29.71M1130.5 363.0h13.21M1122.4 361.1h29.71M1123.4 360.2h29.71M1121.9 361.1h29.71M1123.2 360.2h29.71M1120.5 361.1h29.71M1122.6 360.2h29.71M1121.1 361.1h29.71M1122.7 360.2h29.71M1121.6 361.1h29.71M1120.6 358.4h29.71M1121.2 357.5h29.71M1123.4 358.4h29.71M1120.9 357.5h29.71M1122.0 358.4h29.71M1122.5 357.5h29.71M1121.9 358.4h29.71M1130.3 357.5h13.21M1122.4 355.7h29.71M1121.1 354.8h29.71M1122.5 355.7h29.71M1121.6 354.8h29.71M1120.3 355.7h29.71M1121.2 354.8h29.71M1121.4 355.7h29.71M1120.8 354.8h29.71M1122.4 355.7h29.71M1123.5 354.8h29.71M1129.9 355.7h16.51M1121.4 352.9h29.71M1121.4 352.0h29.71M1121.3 352.9h29.71M1121.6 352.0h29.71M1120.4 352.9h29.71M1122.4 352.0h29.71M1123.4 352.9h29.71M1121.0 352.0h29.71M1135.7 352.9h0.01M1122.6 350.2h29.71M1122.4 349.3h29.71M1120.5 350.2h29.71M1123.4 349.3h29.71M1123.0 350.2h29.71M1121.8 349.3h29.71M1120.3 347.4h29.71M1120.7 346.5h29.71M1120.8 347.4h29.71M1122.1 346.5h29.71M1122.3 347.4h29.71M1121.7 346.5h29.71M1121.5 347.4h29.71M1123.4 346.5h29.71M1121.3 347.4h29.71M1125.7 346.5h23.11M1121.5 344.7h29.71M1122.4 343.8h29.71M1122.0 344.7h29.71M1122.8 343.8h29.71M1121.8 344.7h29.71M1135.3 343.8h0.01M1121.4 342.0h29.71M1121.8 341.1h29.71M1121.3 342.0h29.71M1120.5 341.1h29.71M1121.5 342.0h29.71M1122.4 341.1h29.71M1122.9 342.0h29.71M1122.7 341.1h29.71M1124.8 342.0h26.41M1121.1 339.2h29.71M1121.8 338.3h29.71M1121.1 339.2h29.71M1122.8 338.3h29.71M1121.6 339.2h29.71M1122.8 338.3h29.71M1123.2 339.2h29.71M1122.8 338.3h29.71M1121.5 339.2h29.71M1131.2 338.3h9.91M1121.1 336.5h29.71M1121.7 335.6h29.71M1123.4 336.5h29.71M1120.5 335.6h29.71M1121.1 336.5h29.71M1122.4 335.6h29.71M1123.2 336.5h29.71M1123.3 335.6h29.71M1123.4 336.5h26.41M1138.1 317.3h0.01" stroke="rgb(0,160,85)" stroke-opacity="0.75" stroke-width="3.1" stroke-linecap="round" stroke-dasharray="0 3.3" fill="none"/>
<line x1="1097.8" y1="350.6" x2="1097.8" y2="230.3" stroke="#111" stroke-width="2.2"/>
<line x1="1097.8" y1="432" x2="1097.8" y2="540.8" stroke="#111" stroke-width="2.2"/>
<rect x="1081.6" y="401.9" width="32.4" height="30.1" fill="rgb(128,128,128)" fill-opacity="0.95"/>
<rect x="1081.6" y="350.6" width="32.4" height="51.3" fill="rgb(0,166,81)" fill-opacity="0.95"/>
<rect x="1081.6" y="350.6" width="32.4" height="81.4" fill="none" stroke="#111" stroke-width="2.2"/>
<line x1="1081.6" y1="389.4" x2="1114" y2="389.4" stroke="#111" stroke-width="5.5"/>
<circle cx="1097.8" cy="393.1" r="5.2" fill="#000"/>
<line x1="1136.7" y1="364.9" x2="1136.7" y2="243.9" stroke="#111" stroke-width="2.2"/>
<line x1="1136.7" y1="445" x2="1136.7" y2="540.8" stroke="#111" stroke-width="2.2"/>
<rect x="1120.5" y="443.7" width="32.4" height="1.4" fill="rgb(25,120,200)" fill-opacity="0.95"/>
<rect x="1120.5" y="401.9" width="32.4" height="41.7" fill="rgb(128,128,128)" fill-opacity="0.95"/>
<rect x="1120.5" y="364.9" width="32.4" height="37.1" fill="rgb(0,166,81)" fill-opacity="0.95"/>
<rect x="1120.5" y="364.9" width="32.4" height="80.2" fill="none" stroke="#111" stroke-width="2.2"/>
<line x1="1120.5" y1="402.6" x2="1152.9" y2="402.6" stroke="#111" stroke-width="5.5"/>
<circle cx="1136.7" cy="407.4" r="5.2" fill="#000"/>
<line x1="1070" y1="541.7" x2="1161.2" y2="541.7" stroke="#111" stroke-width="3.6"/>
<text x="1107.5" y="182" font-size="30.5" font-style="italic" transform="rotate(-90 1107.5 182)">1.09</text>
<text x="1147" y="182" font-size="30.5" font-style="italic" transform="rotate(-90 1147 182)">1.00</text>
<text x="1083.2" y="557.5" font-size="31.4" text-anchor="end" transform="rotate(-90 1083.2 557.5)">Foxc1</text>
<text x="1112.5" y="569.4" font-size="31.4" text-anchor="end" transform="rotate(-90 1112.5 569.4)">OE</text>
<text x="1151.3" y="552" font-size="32" text-anchor="end" transform="rotate(-90 1151.3 552)">pLXSH</text>
<text x="1250.5" y="96.4" font-size="40" font-weight="bold">C</text>
<text x="1316" y="81.3" font-size="33" fill="#2a9e65" font-style="italic">P</text>
<text x="1343.5" y="81.3" font-size="33" fill="#2a9e65">=</text>
<text x="1372.6" y="81.3" font-size="33" fill="#2a9e65" font-style="italic">1.7×10</text>
<text x="1483.4" y="72" font-size="18" fill="#2a9e65" font-style="italic">-4</text>
<text x="1514" y="78" font-size="30" fill="#2a9e65">***</text>
<text x="1316" y="145.2" font-size="33" fill="#2f7cb8" font-style="italic">P</text>
<text x="1343.5" y="145.2" font-size="33" fill="#2f7cb8">=</text>
<text x="1372.6" y="145.2" font-size="33" fill="#2f7cb8" font-style="italic">3.3×10</text>
<text x="1483.4" y="134" font-size="18" fill="#2f7cb8" font-style="italic">-6</text>
<text x="1514" y="142.8" font-size="30" fill="#2f7cb8">***</text>
<line x1="1317" y1="109" x2="1463.6" y2="109" stroke="#2a9e65" stroke-width="2.7"/>
<line x1="1488" y1="109" x2="1549.2" y2="109" stroke="#2a9e65" stroke-width="2.7"/>
<polyline points="1390.3,109 1390.3,94.9 1517.8,94.9 1517.8,109" fill="none" stroke="#2a9e65" stroke-width="2.7"/>
<line x1="1298.3" y1="172.5" x2="1445.8" y2="172.5" stroke="#2f7cb8" stroke-width="2.7"/>
<line x1="1469.3" y1="172.5" x2="1530.4" y2="172.5" stroke="#2f7cb8" stroke-width="2.7"/>
<polyline points="1371.6,172.5 1371.6,158.8 1500.3,158.8 1500.3,172.5" fill="none" stroke="#2f7cb8" stroke-width="2.7"/>
<text x="1232.5" y="344" font-size="34.3" text-anchor="middle" transform="rotate(-90 1232.5 344)">Frequency, % (<tspan fill="#2f7cb8">short</tspan> / <tspan fill="#2a9e65">long</tspan>)</text>
<line x1="1290.7" y1="127.1" x2="1290.7" y2="543" stroke="#111" stroke-width="3.4"/>
<line x1="1283.7" y1="128.8" x2="1290.7" y2="128.8" stroke="#111" stroke-width="3.4"/>
<text x="1278.7" y="139.4" font-size="29.5" text-anchor="end">70</text>
<line x1="1283.7" y1="187.7" x2="1290.7" y2="187.7" stroke="#111" stroke-width="3.4"/>
<text x="1278.7" y="198.3" font-size="29.5" text-anchor="end">60</text>
<line x1="1283.7" y1="246.6" x2="1290.7" y2="246.6" stroke="#111" stroke-width="3.4"/>
<text x="1278.7" y="257.2" font-size="29.5" text-anchor="end">50</text>
<line x1="1283.7" y1="305.5" x2="1290.7" y2="305.5" stroke="#111" stroke-width="3.4"/>
<text x="1278.7" y="316.1" font-size="29.5" text-anchor="end">40</text>
<line x1="1283.7" y1="364.4" x2="1290.7" y2="364.4" stroke="#111" stroke-width="3.4"/>
<text x="1278.7" y="375" font-size="29.5" text-anchor="end">30</text>
<line x1="1283.7" y1="423.3" x2="1290.7" y2="423.3" stroke="#111" stroke-width="3.4"/>
<text x="1278.7" y="433.9" font-size="29.5" text-anchor="end">20</text>
<line x1="1283.7" y1="482.2" x2="1290.7" y2="482.2" stroke="#111" stroke-width="3.4"/>
<text x="1278.7" y="492.8" font-size="29.5" text-anchor="end">10</text>
<line x1="1283.7" y1="541.1" x2="1290.7" y2="541.1" stroke="#111" stroke-width="3.4"/>
<text x="1278.7" y="551.7" font-size="29.5" text-anchor="end">0</text>
<rect x="1298.8" y="324.9" width="17.8" height="216.2" fill="#0a7cc1" stroke="#0d1a26" stroke-width="2.0"/>
<rect x="1318.6" y="311.4" width="17.8" height="229.7" fill="#00a85c" stroke="#0d1a26" stroke-width="2.0"/>
<rect x="1341.8" y="279" width="17.8" height="262.1" fill="#0a7cc1" stroke="#0d1a26" stroke-width="2.0"/>
<rect x="1361.6" y="356.2" width="17.8" height="184.9" fill="#00a85c" stroke="#0d1a26" stroke-width="2.0"/>
<rect x="1383.7" y="329.1" width="17.8" height="212" fill="#0a7cc1" stroke="#0d1a26" stroke-width="2.0"/>
<rect x="1403.5" y="318.5" width="17.8" height="222.6" fill="#00a85c" stroke="#0d1a26" stroke-width="2.0"/>
<rect x="1426.3" y="338.5" width="17.8" height="202.6" fill="#0a7cc1" stroke="#0d1a26" stroke-width="2.0"/>
<rect x="1446.1" y="293.1" width="17.8" height="248" fill="#00a85c" stroke="#0d1a26" stroke-width="2.0"/>
<rect x="1469" y="398.6" width="17.8" height="142.5" fill="#0a7cc1" stroke="#0d1a26" stroke-width="2.0"/>
<rect x="1488.8" y="234.8" width="17.8" height="306.3" fill="#00a85c" stroke="#0d1a26" stroke-width="2.0"/>
<rect x="1511.9" y="379.1" width="17.8" height="162" fill="#0a7cc1" stroke="#0d1a26" stroke-width="2.0"/>
<rect x="1531.7" y="260.1" width="17.8" height="281" fill="#00a85c" stroke="#0d1a26" stroke-width="2.0"/>
<line x1="1307.5" y1="344" x2="1307.5" y2="305.2" stroke="#111" stroke-width="2"/>
<line x1="1304.5" y1="305.2" x2="1310.5" y2="305.2" stroke="#111" stroke-width="2"/>
<line x1="1304.5" y1="344" x2="1310.5" y2="344" stroke="#111" stroke-width="2"/>
<circle cx="1307.5" cy="265.6" r="2.9" fill="#000"/>
<circle cx="1307.5" cy="305.2" r="2.9" fill="#000"/>
<circle cx="1307.5" cy="309.4" r="2.9" fill="#000"/>
<circle cx="1307.5" cy="315.1" r="2.9" fill="#000"/>
<circle cx="1307.5" cy="320.1" r="2.9" fill="#000"/>
<circle cx="1307.5" cy="363.9" r="2.9" fill="#000"/>
<circle cx="1307.5" cy="385" r="2.9" fill="#000"/>
<line x1="1327.6" y1="330.8" x2="1327.6" y2="293.7" stroke="#111" stroke-width="2"/>
<line x1="1324.6" y1="293.7" x2="1330.6" y2="293.7" stroke="#111" stroke-width="2"/>
<line x1="1324.6" y1="330.8" x2="1330.6" y2="330.8" stroke="#111" stroke-width="2"/>
<circle cx="1327.6" cy="258.2" r="2.9" fill="#000"/>
<circle cx="1327.6" cy="268.1" r="2.9" fill="#000"/>
<circle cx="1327.6" cy="285.9" r="2.9" fill="#000"/>
<circle cx="1327.6" cy="341.6" r="2.9" fill="#000"/>
<circle cx="1327.6" cy="353.1" r="2.9" fill="#000"/>
<circle cx="1327.6" cy="368.8" r="2.9" fill="#000"/>
<line x1="1350.8" y1="305.2" x2="1350.8" y2="259.8" stroke="#111" stroke-width="2"/>
<line x1="1347.8" y1="259.8" x2="1353.8" y2="259.8" stroke="#111" stroke-width="2"/>
<line x1="1347.8" y1="305.2" x2="1353.8" y2="305.2" stroke="#111" stroke-width="2"/>
<circle cx="1350.8" cy="253.2" r="2.9" fill="#000"/>
<circle cx="1350.8" cy="279.6" r="2.9" fill="#000"/>
<circle cx="1350.8" cy="301.9" r="2.9" fill="#000"/>
<circle cx="1350.8" cy="306" r="2.9" fill="#000"/>
<circle cx="1350.8" cy="339" r="2.9" fill="#000"/>
<line x1="1370" y1="376.2" x2="1370" y2="337.4" stroke="#111" stroke-width="2"/>
<line x1="1367" y1="337.4" x2="1373" y2="337.4" stroke="#111" stroke-width="2"/>
<line x1="1367" y1="376.2" x2="1373" y2="376.2" stroke="#111" stroke-width="2"/>
<circle cx="1370" cy="305.2" r="2.9" fill="#000"/>
<circle cx="1370" cy="318.4" r="2.9" fill="#000"/>
<circle cx="1370" cy="337.4" r="2.9" fill="#000"/>
<circle cx="1370" cy="365.5" r="2.9" fill="#000"/>
<circle cx="1370" cy="382" r="2.9" fill="#000"/>
<circle cx="1370" cy="432.4" r="2.9" fill="#000"/>
<line x1="1392.6" y1="343.2" x2="1392.6" y2="315.6" stroke="#111" stroke-width="2"/>
<line x1="1389.6" y1="315.6" x2="1395.6" y2="315.6" stroke="#111" stroke-width="2"/>
<line x1="1389.6" y1="343.2" x2="1395.6" y2="343.2" stroke="#111" stroke-width="2"/>
<circle cx="1392.6" cy="286.2" r="2.9" fill="#000"/>
<circle cx="1392.6" cy="293.7" r="2.9" fill="#000"/>
<circle cx="1392.6" cy="325" r="2.9" fill="#000"/>
<circle cx="1392.6" cy="345.7" r="2.9" fill="#000"/>
<circle cx="1392.6" cy="356.4" r="2.9" fill="#000"/>
<circle cx="1392.6" cy="371.3" r="2.9" fill="#000"/>
<line x1="1412.5" y1="339" x2="1412.5" y2="298.6" stroke="#111" stroke-width="2"/>
<line x1="1409.5" y1="298.6" x2="1415.5" y2="298.6" stroke="#111" stroke-width="2"/>
<line x1="1409.5" y1="339" x2="1415.5" y2="339" stroke="#111" stroke-width="2"/>
<circle cx="1412.5" cy="254" r="2.9" fill="#000"/>
<circle cx="1412.5" cy="284.3" r="2.9" fill="#000"/>
<circle cx="1412.5" cy="292.8" r="2.9" fill="#000"/>
<circle cx="1412.5" cy="341.6" r="2.9" fill="#000"/>
<circle cx="1412.5" cy="363" r="2.9" fill="#000"/>
<circle cx="1412.5" cy="378.4" r="2.9" fill="#000"/>
<line x1="1435" y1="354" x2="1435" y2="324.2" stroke="#111" stroke-width="2"/>
<line x1="1432" y1="324.2" x2="1438" y2="324.2" stroke="#111" stroke-width="2"/>
<line x1="1432" y1="354" x2="1438" y2="354" stroke="#111" stroke-width="2"/>
<circle cx="1435" cy="300.3" r="2.9" fill="#000"/>
<circle cx="1435" cy="308.5" r="2.9" fill="#000"/>
<circle cx="1435" cy="332.5" r="2.9" fill="#000"/>
<circle cx="1435" cy="334.1" r="2.9" fill="#000"/>
<circle cx="1435" cy="358.9" r="2.9" fill="#000"/>
<circle cx="1435" cy="400.2" r="2.9" fill="#000"/>
<line x1="1454.6" y1="309.4" x2="1454.6" y2="278.3" stroke="#111" stroke-width="2"/>
<line x1="1451.6" y1="278.3" x2="1457.6" y2="278.3" stroke="#111" stroke-width="2"/>
<line x1="1451.6" y1="309.4" x2="1457.6" y2="309.4" stroke="#111" stroke-width="2"/>
<circle cx="1454.6" cy="270.6" r="2.9" fill="#000"/>
<circle cx="1454.6" cy="289.5" r="2.9" fill="#000"/>
<circle cx="1454.6" cy="320.9" r="2.9" fill="#000"/>
<circle cx="1454.6" cy="325" r="2.9" fill="#000"/>
<circle cx="1454.6" cy="328.4" r="2.9" fill="#000"/>
<line x1="1477.6" y1="405.1" x2="1477.6" y2="383.7" stroke="#111" stroke-width="2"/>
<line x1="1474.6" y1="383.7" x2="1480.6" y2="383.7" stroke="#111" stroke-width="2"/>
<line x1="1474.6" y1="405.1" x2="1480.6" y2="405.1" stroke="#111" stroke-width="2"/>
<circle cx="1477.6" cy="384.5" r="2.9" fill="#000"/>
<circle cx="1477.6" cy="388.6" r="2.9" fill="#000"/>
<circle cx="1477.6" cy="392" r="2.9" fill="#000"/>
<circle cx="1477.6" cy="396" r="2.9" fill="#000"/>
<circle cx="1477.6" cy="400.2" r="2.9" fill="#000"/>
<circle cx="1477.6" cy="403.5" r="2.9" fill="#000"/>
<circle cx="1477.6" cy="415" r="2.9" fill="#000"/>
<line x1="1497" y1="253.2" x2="1497" y2="220.7" stroke="#111" stroke-width="2"/>
<line x1="1494" y1="220.7" x2="1500" y2="220.7" stroke="#111" stroke-width="2"/>
<line x1="1494" y1="253.2" x2="1500" y2="253.2" stroke="#111" stroke-width="2"/>
<circle cx="1497" cy="196.4" r="2.9" fill="#000"/>
<circle cx="1497" cy="201.3" r="2.9" fill="#000"/>
<circle cx="1497" cy="223.3" r="2.9" fill="#000"/>
<circle cx="1497" cy="231.1" r="2.9" fill="#000"/>
<circle cx="1497" cy="246.7" r="2.9" fill="#000"/>
<circle cx="1497" cy="307.7" r="2.9" fill="#000"/>
<line x1="1520" y1="388.6" x2="1520" y2="370.5" stroke="#111" stroke-width="2"/>
<line x1="1517" y1="370.5" x2="1523" y2="370.5" stroke="#111" stroke-width="2"/>
<line x1="1517" y1="388.6" x2="1523" y2="388.6" stroke="#111" stroke-width="2"/>
<circle cx="1520" cy="349" r="2.9" fill="#000"/>
<circle cx="1520" cy="358.9" r="2.9" fill="#000"/>
<circle cx="1520" cy="378.7" r="2.9" fill="#000"/>
<circle cx="1520" cy="387" r="2.9" fill="#000"/>
<circle cx="1520" cy="394.4" r="2.9" fill="#000"/>
<circle cx="1520" cy="410" r="2.9" fill="#000"/>
<line x1="1539.5" y1="285.6" x2="1539.5" y2="237" stroke="#111" stroke-width="2"/>
<line x1="1536.5" y1="237" x2="1542.5" y2="237" stroke="#111" stroke-width="2"/>
<line x1="1536.5" y1="285.6" x2="1542.5" y2="285.6" stroke="#111" stroke-width="2"/>
<circle cx="1539.5" cy="206.8" r="2.9" fill="#000"/>
<circle cx="1539.5" cy="236.3" r="2.9" fill="#000"/>
<circle cx="1539.5" cy="251.6" r="2.9" fill="#000"/>
<circle cx="1539.5" cy="305.1" r="2.9" fill="#000"/>
<circle cx="1539.5" cy="358" r="2.9" fill="#000"/>
<line x1="1286" y1="541.6" x2="1558.3" y2="541.6" stroke="#111" stroke-width="3.6"/>
<text x="1325.6" y="555" font-size="31" text-anchor="end" transform="rotate(-90 1325.6 555)">sh1</text>
<text x="1368.6" y="555" font-size="31" text-anchor="end" transform="rotate(-90 1368.6 555)">sh2</text>
<text x="1410.5" y="555" font-size="31" text-anchor="end" transform="rotate(-90 1410.5 555)">sh3</text>
<text x="1453.1" y="555" font-size="31" text-anchor="end" transform="rotate(-90 1453.1 555)">sh4</text>
<text x="1495.8" y="555" font-size="31" text-anchor="end" transform="rotate(-90 1495.8 555)">non-trg.</text>
<text x="1538.7" y="555" font-size="31" text-anchor="end" transform="rotate(-90 1538.7 555)">pLKO.1</text>
<line x1="1303.9" y1="618.5" x2="1454.8" y2="618.5" stroke="#111" stroke-width="3.2"/>
<text x="1396.5" y="651.3" font-size="32" text-anchor="middle">Foxc1</text>
<text x="1610.4" y="64.3" font-size="33" fill="#2a9e65" font-style="italic">P</text>
<text x="1640.4" y="64.3" font-size="33" fill="#2a9e65">=</text>
<text x="1668.5" y="64.3" font-size="33" fill="#2a9e65" font-style="italic">0.02</text>
<text x="1746" y="62.1" font-size="30" fill="#2a9e65">*</text>
<text x="1592.6" y="112.9" font-size="33" fill="#2f7cb8" font-style="italic">P</text>
<text x="1622.6" y="112.9" font-size="33" fill="#2f7cb8">=</text>
<text x="1650.6" y="112.9" font-size="33" fill="#2f7cb8" font-style="italic">0.013</text>
<text x="1746" y="110.6" font-size="30" fill="#2f7cb8">*</text>
<line x1="1655" y1="78.6" x2="1717.1" y2="78.6" stroke="#2a9e65" stroke-width="2.8"/>
<line x1="1634.3" y1="126.4" x2="1696.4" y2="126.4" stroke="#2f7cb8" stroke-width="2.8"/>
<line x1="1624.3" y1="127.1" x2="1624.3" y2="543" stroke="#111" stroke-width="3.4"/>
<line x1="1617.3" y1="128.8" x2="1624.3" y2="128.8" stroke="#111" stroke-width="3.4"/>
<text x="1612.3" y="139.4" font-size="29.5" text-anchor="end">70</text>
<line x1="1617.3" y1="187.7" x2="1624.3" y2="187.7" stroke="#111" stroke-width="3.4"/>
<text x="1612.3" y="198.3" font-size="29.5" text-anchor="end">60</text>
<line x1="1617.3" y1="246.6" x2="1624.3" y2="246.6" stroke="#111" stroke-width="3.4"/>
<text x="1612.3" y="257.2" font-size="29.5" text-anchor="end">50</text>
<line x1="1617.3" y1="305.5" x2="1624.3" y2="305.5" stroke="#111" stroke-width="3.4"/>
<text x="1612.3" y="316.1" font-size="29.5" text-anchor="end">40</text>
<line x1="1617.3" y1="364.4" x2="1624.3" y2="364.4" stroke="#111" stroke-width="3.4"/>
<text x="1612.3" y="375" font-size="29.5" text-anchor="end">30</text>
<line x1="1617.3" y1="423.3" x2="1624.3" y2="423.3" stroke="#111" stroke-width="3.4"/>
<text x="1612.3" y="433.9" font-size="29.5" text-anchor="end">20</text>
<line x1="1617.3" y1="482.2" x2="1624.3" y2="482.2" stroke="#111" stroke-width="3.4"/>
<text x="1612.3" y="492.8" font-size="29.5" text-anchor="end">10</text>
<line x1="1617.3" y1="541.1" x2="1624.3" y2="541.1" stroke="#111" stroke-width="3.4"/>
<text x="1612.3" y="551.7" font-size="29.5" text-anchor="end">0</text>
<rect x="1633" y="427.4" width="17.9" height="113.7" fill="#0a7cc1" stroke="#0d1a26" stroke-width="2.0"/>
<rect x="1652.9" y="195.9" width="18.6" height="345.2" fill="#00a85c" stroke="#0d1a26" stroke-width="2.0"/>
<rect x="1677.3" y="390.3" width="18.2" height="150.8" fill="#0a7cc1" stroke="#0d1a26" stroke-width="2.0"/>
<rect x="1697.5" y="245.4" width="19.2" height="295.7" fill="#00a85c" stroke="#0d1a26" stroke-width="2.0"/>
<line x1="1642" y1="423" x2="1642" y2="432" stroke="#111" stroke-width="2"/>
<line x1="1639" y1="432" x2="1645" y2="432" stroke="#111" stroke-width="2"/>
<line x1="1639" y1="423" x2="1645" y2="423" stroke="#111" stroke-width="2"/>
<circle cx="1642" cy="408.6" r="2.9" fill="#000"/>
<circle cx="1642" cy="413" r="2.9" fill="#000"/>
<circle cx="1642" cy="417" r="2.9" fill="#000"/>
<circle cx="1642" cy="421" r="2.9" fill="#000"/>
<circle cx="1642" cy="425" r="2.9" fill="#000"/>
<circle cx="1642" cy="430.6" r="2.9" fill="#000"/>
<circle cx="1642" cy="465" r="2.9" fill="#000"/>
<line x1="1662.2" y1="181.4" x2="1662.2" y2="211" stroke="#111" stroke-width="2"/>
<line x1="1659.2" y1="211" x2="1665.2" y2="211" stroke="#111" stroke-width="2"/>
<line x1="1659.2" y1="181.4" x2="1665.2" y2="181.4" stroke="#111" stroke-width="2"/>
<circle cx="1662.2" cy="149.5" r="2.9" fill="#000"/>
<circle cx="1662.2" cy="152.5" r="2.9" fill="#000"/>
<circle cx="1662.2" cy="166.5" r="2.9" fill="#000"/>
<circle cx="1662.2" cy="192" r="2.9" fill="#000"/>
<circle cx="1662.2" cy="222" r="2.9" fill="#000"/>
<circle cx="1662.2" cy="224" r="2.9" fill="#000"/>
<circle cx="1662.2" cy="275.4" r="2.9" fill="#000"/>
<line x1="1686.4" y1="382" x2="1686.4" y2="398" stroke="#111" stroke-width="2"/>
<line x1="1683.4" y1="398" x2="1689.4" y2="398" stroke="#111" stroke-width="2"/>
<line x1="1683.4" y1="382" x2="1689.4" y2="382" stroke="#111" stroke-width="2"/>
<circle cx="1686.4" cy="366.6" r="2.9" fill="#000"/>
<circle cx="1686.4" cy="376.2" r="2.9" fill="#000"/>
<circle cx="1686.4" cy="398.8" r="2.9" fill="#000"/>
<circle cx="1686.4" cy="414" r="2.9" fill="#000"/>
<circle cx="1686.4" cy="432" r="2.9" fill="#000"/>
<line x1="1707" y1="243" x2="1707" y2="250" stroke="#111" stroke-width="2"/>
<line x1="1704" y1="250" x2="1710" y2="250" stroke="#111" stroke-width="2"/>
<line x1="1704" y1="243" x2="1710" y2="243" stroke="#111" stroke-width="2"/>
<circle cx="1707" cy="228.8" r="2.9" fill="#000"/>
<circle cx="1707" cy="240.5" r="2.9" fill="#000"/>
<circle cx="1707" cy="248.5" r="2.9" fill="#000"/>
<circle cx="1707" cy="256" r="2.9" fill="#000"/>
<circle cx="1707" cy="258.5" r="2.9" fill="#000"/>
<line x1="1619.7" y1="541.6" x2="1726" y2="541.6" stroke="#111" stroke-width="3.6"/>
<text x="1641.5" y="557" font-size="31" text-anchor="end" transform="rotate(-90 1641.5 557)">Foxc1</text>
<text x="1668.5" y="570.8" font-size="31" text-anchor="end" transform="rotate(-90 1668.5 570.8)">OE</text>
<text x="1712" y="554.5" font-size="31" text-anchor="end" transform="rotate(-90 1712 554.5)">pLXSH</text>
<text x="645.5" y="779" font-size="40" font-weight="bold">E</text>
<text x="693.7" y="751.6" font-size="33" font-style="italic">P</text>
<text x="715.4" y="763.6" font-size="20" font-style="italic">KW</text>
<text x="752.6" y="751.6" font-size="33">≤</text>
<text x="780" y="751.6" font-size="33" font-style="italic">7.6×10</text>
<text x="890.3" y="740.5" font-size="18" font-style="italic">-7</text>
<polyline points="746.8,778.1 861.3,778.1 861.3,789.2" fill="none" stroke="#111" stroke-width="3.4"/>
<text x="762.5" y="812.7" font-size="30">***</text>
<text x="835.1" y="816.5" font-size="33" font-style="italic">n.s.</text>
<line x1="823.7" y1="828" x2="896.3" y2="828" stroke="#111" stroke-width="3.4"/>
<text x="668.5" y="1055" font-size="33" text-anchor="middle" transform="rotate(-90 668.5 1055)">Relative cilia length</text>
<line x1="737" y1="845.4" x2="737" y2="1261" stroke="#111" stroke-width="3.4"/>
<line x1="730" y1="847.1" x2="737" y2="847.1" stroke="#111" stroke-width="3.4"/>
<text x="725" y="857.9" font-size="30" text-anchor="end">3.5</text>
<line x1="730" y1="905.9" x2="737" y2="905.9" stroke="#111" stroke-width="3.4"/>
<text x="725" y="916.7" font-size="30" text-anchor="end">3.0</text>
<line x1="730" y1="964.7" x2="737" y2="964.7" stroke="#111" stroke-width="3.4"/>
<text x="725" y="975.5" font-size="30" text-anchor="end">2.5</text>
<line x1="730" y1="1023.5" x2="737" y2="1023.5" stroke="#111" stroke-width="3.4"/>
<text x="725" y="1034.3" font-size="30" text-anchor="end">2.0</text>
<line x1="730" y1="1082.3" x2="737" y2="1082.3" stroke="#111" stroke-width="3.4"/>
<text x="725" y="1093.1" font-size="30" text-anchor="end">1.5</text>
<line x1="730" y1="1141.1" x2="737" y2="1141.1" stroke="#111" stroke-width="3.4"/>
<text x="725" y="1151.9" font-size="30" text-anchor="end">1.0</text>
<line x1="730" y1="1199.9" x2="737" y2="1199.9" stroke="#111" stroke-width="3.4"/>
<text x="725" y="1210.7" font-size="30" text-anchor="end">0.5</text>
<line x1="730" y1="1258.7" x2="737" y2="1258.7" stroke="#111" stroke-width="3.4"/>
<text x="725" y="1269.5" font-size="30" text-anchor="end">0.0</text>
<path d="M762.8 1254.6h0.01M747.9 1250.5h29.71M747.9 1246.4h29.71M747.9 1242.2h29.71M747.9 1238.1h29.71M747.9 1234.0h29.71M747.9 1229.9h29.71M747.9 1225.8h29.71M747.9 1221.7h29.71M747.9 1217.5h29.71M747.9 1213.4h29.71M747.9 1209.3h29.71M747.9 1205.2h29.71" stroke="rgb(15,115,195)" stroke-opacity="0.38" stroke-width="3.1" stroke-linecap="round" stroke-dasharray="0 3.3" fill="none"/>
<path d="M747.9 1201.1h29.71M747.9 1197.0h29.71M747.9 1192.8h29.71M747.9 1188.7h29.71M747.9 1184.6h29.71M747.9 1180.5h29.71M747.9 1176.4h29.71M747.9 1172.3h29.71M747.9 1168.1h29.71M747.9 1164.0h29.71M747.9 1159.9h29.71M747.9 1155.8h29.71M747.9 1151.7h29.71" stroke="rgb(110,110,110)" stroke-opacity="0.38" stroke-width="3.1" stroke-linecap="round" stroke-dasharray="0 3.3" fill="none"/>
<path d="M747.9 1147.6h29.71M747.9 1143.5h29.71M752.9 1139.3h19.81M747.9 1135.2h29.71M751.2 1131.1h23.11M747.9 1127.0h29.71M747.9 1122.9h29.71M747.9 1118.8h29.71M749.6 1114.6h26.41M747.9 1110.5h29.71M747.9 1106.4h29.71M751.2 1102.3h23.11M752.9 1098.2h19.81M749.6 1094.1h26.41M752.9 1089.9h19.81M749.6 1085.8h26.41M761.1 1081.7h3.31M761.1 1077.6h3.31M757.8 1073.5h9.91M759.5 1069.4h6.61M757.8 1065.2h9.91M759.5 1061.1h6.61M759.5 1057.0h6.61M761.1 1052.9h3.31M761.1 1048.8h3.31M759.5 1044.7h6.61M759.5 1040.6h6.61M759.5 1036.4h6.61M759.5 1032.3h6.61M759.5 1028.2h6.61M762.8 1024.1h0.01M762.8 1015.9h0.01M762.8 1007.6h0.01M762.8 995.3h0.01M762.8 991.2h0.01M762.8 982.9h0.01" stroke="rgb(0,160,85)" stroke-opacity="0.38" stroke-width="3.1" stroke-linecap="round" stroke-dasharray="0 3.3" fill="none"/>
<path d="M754.4 1251.4h19.81M747.4 1247.3h29.71M749.3 1243.1h29.71M747.8 1239.0h29.71M748.3 1234.9h26.41M748.0 1230.8h29.71M749.2 1226.7h29.71M748.7 1222.6h26.41M753.9 1218.4h16.51M749.6 1214.3h29.71M751.5 1210.2h19.81M748.2 1206.1h29.71" stroke="rgb(15,115,195)" stroke-opacity="0.38" stroke-width="3.1" stroke-linecap="round" stroke-dasharray="0 3.3" fill="none"/>
<path d="M749.1 1202.0h29.71M757.7 1197.9h13.21M750.5 1193.7h23.11M748.9 1189.6h29.71M756.7 1185.5h9.91M755.3 1181.4h16.51M758.5 1177.3h6.61M762.5 1173.2h3.31M748.9 1169.0h29.71M760.1 1164.9h6.61M758.8 1160.8h9.91M760.5 1156.7h6.61M757.6 1152.6h9.91" stroke="rgb(110,110,110)" stroke-opacity="0.38" stroke-width="3.1" stroke-linecap="round" stroke-dasharray="0 3.3" fill="none"/>
<path d="M752.1 1148.5h19.81M757.7 1144.4h13.21M763.8 1136.1h0.01M762.0 1119.7h0.01M762.6 1111.4h3.31" stroke="rgb(0,160,85)" stroke-opacity="0.38" stroke-width="3.1" stroke-linecap="round" stroke-dasharray="0 3.3" fill="none"/>
<path d="M755.8 1246.4h16.51M758.3 1242.2h6.61M757.7 1238.1h13.21M749.0 1229.9h29.71M750.7 1225.8h26.41M759.1 1213.4h9.91M761.4 1205.2h0.01" stroke="rgb(15,115,195)" stroke-opacity="0.38" stroke-width="3.1" stroke-linecap="round" stroke-dasharray="0 3.3" fill="none"/>
<path d="M761.0 1201.1h3.31M761.8 1168.1h0.01" stroke="rgb(110,110,110)" stroke-opacity="0.38" stroke-width="3.1" stroke-linecap="round" stroke-dasharray="0 3.3" fill="none"/>
<path d="M800.1 1254.6h3.31M786.9 1250.5h29.71M786.9 1246.4h29.71M786.9 1242.2h29.71M786.9 1238.1h29.71M786.9 1234.0h29.71M786.9 1229.9h29.71M786.9 1225.8h29.71M786.9 1221.7h29.71M786.9 1217.5h29.71M786.9 1213.4h29.71M786.9 1209.3h29.71M786.9 1205.2h29.71" stroke="rgb(15,115,195)" stroke-opacity="0.38" stroke-width="3.1" stroke-linecap="round" stroke-dasharray="0 3.3" fill="none"/>
<path d="M786.9 1201.1h29.71M786.9 1197.0h29.71M786.9 1192.8h29.71M786.9 1188.7h29.71M786.9 1184.6h29.71M786.9 1180.5h29.71M786.9 1176.4h29.71M786.9 1172.3h29.71M786.9 1168.1h29.71M786.9 1164.0h29.71M786.9 1159.9h29.71M786.9 1155.8h29.71M786.9 1151.7h29.71" stroke="rgb(110,110,110)" stroke-opacity="0.38" stroke-width="3.1" stroke-linecap="round" stroke-dasharray="0 3.3" fill="none"/>
<path d="M786.9 1147.6h29.71M786.9 1143.5h29.71M791.9 1139.3h19.81M786.9 1135.2h29.71M786.9 1131.1h29.71M788.6 1127.0h26.41M786.9 1122.9h29.71M786.9 1118.8h29.71M786.9 1114.6h29.71M786.9 1110.5h29.71M791.9 1106.4h19.81M786.9 1102.3h29.71M786.9 1098.2h29.71M786.9 1094.1h29.71M793.5 1089.9h16.51M798.5 1085.8h6.61M796.8 1081.7h9.91M800.1 1077.6h3.31M798.5 1073.5h6.61M796.8 1069.4h9.91M796.8 1065.2h9.91M796.8 1061.1h9.91M798.5 1057.0h6.61M796.8 1052.9h9.91M798.5 1048.8h6.61M800.1 1044.7h3.31M796.8 1040.6h9.91M801.8 1036.4h0.01M801.8 1020.0h0.01M801.8 1007.6h0.01M801.8 1003.5h0.01M801.8 995.3h0.01M801.8 987.0h0.01" stroke="rgb(0,160,85)" stroke-opacity="0.38" stroke-width="3.1" stroke-linecap="round" stroke-dasharray="0 3.3" fill="none"/>
<path d="M790.5 1251.4h23.11M786.6 1247.3h29.71M787.5 1243.1h29.71M785.8 1239.0h29.71M790.6 1234.9h23.11M790.4 1230.8h19.81M786.0 1226.7h29.71M787.5 1222.6h29.71M788.5 1218.4h29.71M792.3 1214.3h19.81M796.3 1210.2h13.21M792.5 1206.1h19.81" stroke="rgb(15,115,195)" stroke-opacity="0.38" stroke-width="3.1" stroke-linecap="round" stroke-dasharray="0 3.3" fill="none"/>
<path d="M790.2 1202.0h23.11M787.4 1197.9h26.41M788.4 1193.7h26.41M788.2 1189.6h29.71M790.5 1185.5h19.81M799.7 1181.4h6.61M787.5 1177.3h29.71M787.8 1173.2h29.71M793.4 1169.0h19.81M796.0 1164.9h13.21M786.8 1160.8h29.71M786.0 1156.7h29.71M794.6 1152.6h13.21" stroke="rgb(110,110,110)" stroke-opacity="0.38" stroke-width="3.1" stroke-linecap="round" stroke-dasharray="0 3.3" fill="none"/>
<path d="M788.2 1148.5h29.71M797.4 1144.4h6.61M800.9 1136.1h0.01M803.4 1123.8h0.01M801.2 1111.4h3.31M800.2 1103.2h3.31M802.6 1099.1h0.01M800.2 1095.0h3.31" stroke="rgb(0,160,85)" stroke-opacity="0.38" stroke-width="3.1" stroke-linecap="round" stroke-dasharray="0 3.3" fill="none"/>
<path d="M794.3 1246.4h16.51M798.0 1242.2h9.91M799.2 1238.1h6.61M791.0 1225.8h23.11M794.0 1221.7h13.21M795.4 1217.5h9.91" stroke="rgb(15,115,195)" stroke-opacity="0.38" stroke-width="3.1" stroke-linecap="round" stroke-dasharray="0 3.3" fill="none"/>
<path d="M800.7 1188.7h3.31M800.6 1176.4h0.01M800.5 1172.3h3.31M799.1 1155.8h6.61" stroke="rgb(110,110,110)" stroke-opacity="0.38" stroke-width="3.1" stroke-linecap="round" stroke-dasharray="0 3.3" fill="none"/>
<path d="M799.3 1147.6h6.61" stroke="rgb(0,160,85)" stroke-opacity="0.38" stroke-width="3.1" stroke-linecap="round" stroke-dasharray="0 3.3" fill="none"/>
<path d="M838.4 1254.6h3.31M825.1 1250.5h29.71M825.1 1246.4h29.71M825.1 1242.2h29.71M825.1 1238.1h29.71M825.1 1234.0h29.71M825.1 1229.9h29.71M825.1 1225.8h29.71M825.1 1221.7h29.71M825.1 1217.5h29.71M825.1 1213.4h29.71M825.1 1209.3h29.71M825.1 1205.2h29.71" stroke="rgb(15,115,195)" stroke-opacity="0.38" stroke-width="3.1" stroke-linecap="round" stroke-dasharray="0 3.3" fill="none"/>
<path d="M825.1 1201.1h29.71M825.1 1197.0h29.71M825.1 1192.8h29.71M825.1 1188.7h29.71M825.1 1184.6h29.71M825.1 1180.5h29.71M825.1 1176.4h29.71M825.1 1172.3h29.71M825.1 1168.1h29.71M825.1 1164.0h29.71M825.1 1159.9h29.71M825.1 1155.8h29.71M825.1 1151.7h29.71" stroke="rgb(110,110,110)" stroke-opacity="0.38" stroke-width="3.1" stroke-linecap="round" stroke-dasharray="0 3.3" fill="none"/>
<path d="M825.1 1147.6h29.71M825.1 1143.5h29.71M825.1 1139.3h29.71M825.1 1135.2h29.71M825.1 1131.1h29.71M825.1 1127.0h29.71M825.1 1122.9h29.71M825.1 1118.8h29.71M825.1 1114.6h29.71M825.1 1110.5h29.71M828.5 1106.4h23.11M826.8 1102.3h26.41M830.1 1098.2h19.81M831.8 1094.1h16.51M826.8 1089.9h26.41M828.5 1085.8h23.11M831.8 1081.7h16.51M828.5 1077.6h23.11M828.5 1073.5h23.11M830.1 1069.4h19.81M826.8 1065.2h26.41M826.8 1061.1h26.41M833.4 1057.0h13.21M825.1 1052.9h29.71M828.5 1048.8h23.11M826.8 1044.7h26.41M833.4 1040.6h13.21M836.7 1036.4h6.61M836.7 1032.3h6.61M838.4 1028.2h3.31M836.7 1024.1h6.61M838.4 1020.0h3.31M836.7 1015.9h6.61M836.7 1011.7h6.61M838.4 1007.6h3.31M836.7 1003.5h6.61M836.7 999.4h6.61M836.7 995.3h6.61M836.7 991.2h6.61M838.4 987.0h3.31M836.7 982.9h6.61M838.4 978.8h3.31M836.7 974.7h6.61M840.0 970.6h0.01M840.0 966.5h0.01M840.0 962.3h0.01M840.0 950.0h0.01M840.0 941.8h0.01M840.0 937.7h0.01M840.0 933.5h0.01M840.0 929.4h0.01" stroke="rgb(0,160,85)" stroke-opacity="0.38" stroke-width="3.1" stroke-linecap="round" stroke-dasharray="0 3.3" fill="none"/>
<path d="M837.5 1251.4h6.61M830.4 1247.3h16.51M832.5 1243.1h13.21M832.4 1239.0h13.21M830.8 1234.9h16.51M831.8 1230.8h13.21M829.6 1226.7h19.81M839.5 1222.6h0.01M839.5 1218.4h3.31M832.5 1214.3h16.51M833.0 1210.2h13.21M833.8 1206.1h13.21" stroke="rgb(15,115,195)" stroke-opacity="0.38" stroke-width="3.1" stroke-linecap="round" stroke-dasharray="0 3.3" fill="none"/>
<path d="M829.1 1202.0h23.11M839.3 1197.9h0.01M838.7 1193.7h0.01M836.3 1189.6h6.61M834.3 1185.5h9.91M828.8 1181.4h23.11M837.2 1177.3h3.31M837.2 1173.2h6.61M834.5 1169.0h13.21M828.6 1164.9h19.81M835.7 1160.8h6.61M826.2 1156.7h26.41M831.5 1152.6h19.81" stroke="rgb(110,110,110)" stroke-opacity="0.38" stroke-width="3.1" stroke-linecap="round" stroke-dasharray="0 3.3" fill="none"/>
<path d="M832.6 1148.5h13.21M832.0 1144.4h16.51M825.9 1140.2h26.41M823.8 1136.1h29.71M840.4 1132.0h0.01M827.0 1127.9h23.11M835.1 1123.8h9.91M825.2 1119.7h26.41M830.2 1115.5h19.81M835.4 1111.4h6.61" stroke="rgb(0,160,85)" stroke-opacity="0.38" stroke-width="3.1" stroke-linecap="round" stroke-dasharray="0 3.3" fill="none"/>
<path d="M878.8 1254.6h0.01M863.9 1250.5h29.71M863.9 1246.4h29.71M863.9 1242.2h29.71M863.9 1238.1h29.71M863.9 1234.0h29.71M863.9 1229.9h29.71M863.9 1225.8h29.71M863.9 1221.7h29.71M863.9 1217.5h29.71M863.9 1213.4h29.71M863.9 1209.3h29.71M863.9 1205.2h29.71" stroke="rgb(15,115,195)" stroke-opacity="0.38" stroke-width="3.1" stroke-linecap="round" stroke-dasharray="0 3.3" fill="none"/>
<path d="M863.9 1201.1h29.71M863.9 1197.0h29.71M863.9 1192.8h29.71M863.9 1188.7h29.71M863.9 1184.6h29.71M863.9 1180.5h29.71M863.9 1176.4h29.71M863.9 1172.3h29.71M863.9 1168.1h29.71M865.6 1164.0h26.41M863.9 1159.9h29.71M863.9 1155.8h29.71M863.9 1151.7h29.71" stroke="rgb(110,110,110)" stroke-opacity="0.38" stroke-width="3.1" stroke-linecap="round" stroke-dasharray="0 3.3" fill="none"/>
<path d="M863.9 1147.6h29.71M863.9 1143.5h29.71M863.9 1139.3h29.71M863.9 1135.2h29.71M863.9 1131.1h29.71M863.9 1127.0h29.71M863.9 1122.9h29.71M863.9 1118.8h29.71M863.9 1114.6h29.71M863.9 1110.5h29.71M863.9 1106.4h29.71M863.9 1102.3h29.71M863.9 1098.2h29.71M863.9 1094.1h29.71M863.9 1089.9h29.71M870.5 1085.8h16.51M872.2 1081.7h13.21M872.2 1077.6h13.21M870.5 1073.5h16.51M870.5 1069.4h16.51M868.9 1065.2h19.81M868.9 1061.1h19.81M873.8 1057.0h9.91M872.2 1052.9h13.21M868.9 1048.8h19.81M868.9 1044.7h19.81M870.5 1040.6h16.51M870.5 1036.4h16.51M870.5 1032.3h16.51M870.5 1028.2h16.51M872.2 1024.1h13.21M872.2 1020.0h13.21M872.2 1015.9h13.21M873.8 1011.7h9.91M872.2 1007.6h13.21M868.9 1003.5h19.81M875.5 999.4h6.61M875.5 995.3h6.61M875.5 991.2h6.61M875.5 987.0h6.61M877.1 982.9h3.31M875.5 978.8h6.61M875.5 974.7h6.61M877.1 970.6h3.31M877.1 966.5h3.31M875.5 962.3h6.61M877.1 958.2h3.31M875.5 954.1h6.61M875.5 950.0h6.61M875.5 945.9h6.61M875.5 941.8h6.61M877.1 937.7h3.31M868.9 933.5h19.81" stroke="rgb(0,160,85)" stroke-opacity="0.38" stroke-width="3.1" stroke-linecap="round" stroke-dasharray="0 3.3" fill="none"/>
<path d="M879.4 1251.4h0.01M868.9 1247.3h19.81M875.7 1239.0h6.61M869.5 1234.9h16.51M868.5 1230.8h19.81M878.8 1226.7h0.01M870.6 1222.6h16.51M870.7 1218.4h13.21M870.2 1210.2h19.81M873.4 1206.1h13.21" stroke="rgb(15,115,195)" stroke-opacity="0.38" stroke-width="3.1" stroke-linecap="round" stroke-dasharray="0 3.3" fill="none"/>
<path d="M874.4 1202.0h9.91M871.6 1193.7h13.21M874.4 1189.6h6.61M870.7 1185.5h13.21M872.8 1181.4h9.91M875.7 1177.3h6.61M872.9 1169.0h13.21M872.6 1160.8h9.91" stroke="rgb(110,110,110)" stroke-opacity="0.38" stroke-width="3.1" stroke-linecap="round" stroke-dasharray="0 3.3" fill="none"/>
<path d="M875.5 1144.4h3.31M872.6 1140.2h9.91M876.8 1136.1h6.61M872.9 1132.0h13.21M877.8 1127.9h3.31M873.5 1123.8h9.91M872.9 1119.7h9.91M872.8 1115.5h13.21M875.8 1111.4h6.61M871.7 1107.3h13.21M875.4 1099.1h9.91M874.6 1095.0h6.61" stroke="rgb(0,160,85)" stroke-opacity="0.38" stroke-width="3.1" stroke-linecap="round" stroke-dasharray="0 3.3" fill="none"/>
<line x1="762.8" y1="1143.5" x2="762.8" y2="1027" stroke="#111" stroke-width="2.2"/>
<line x1="762.8" y1="1221.7" x2="762.8" y2="1255.2" stroke="#111" stroke-width="2.2"/>
<rect x="747" y="1202.3" width="31.6" height="19.4" fill="rgb(15,115,195)" fill-opacity="0.1"/>
<rect x="747" y="1148.2" width="31.6" height="54.1" fill="rgb(110,110,110)" fill-opacity="0.1"/>
<rect x="747" y="1143.5" width="31.6" height="4.7" fill="rgb(0,160,85)" fill-opacity="0.1"/>
<rect x="747" y="1143.5" width="31.6" height="78.2" fill="none" stroke="#111" stroke-width="2.2"/>
<line x1="747" y1="1185.8" x2="778.6" y2="1185.8" stroke="#111" stroke-width="5.5"/>
<circle cx="762.8" cy="1176.4" r="5.2" fill="#000"/>
<line x1="801.8" y1="1144.6" x2="801.8" y2="1036.4" stroke="#111" stroke-width="2.2"/>
<line x1="801.8" y1="1221.7" x2="801.8" y2="1255.2" stroke="#111" stroke-width="2.2"/>
<rect x="786" y="1202.3" width="31.6" height="19.4" fill="rgb(15,115,195)" fill-opacity="0.1"/>
<rect x="786" y="1148.2" width="31.6" height="54.1" fill="rgb(110,110,110)" fill-opacity="0.1"/>
<rect x="786" y="1144.6" width="31.6" height="3.5" fill="rgb(0,160,85)" fill-opacity="0.1"/>
<rect x="786" y="1144.6" width="31.6" height="77" fill="none" stroke="#111" stroke-width="2.2"/>
<line x1="786" y1="1184.6" x2="817.6" y2="1184.6" stroke="#111" stroke-width="5.5"/>
<circle cx="801.8" cy="1177.6" r="5.2" fill="#000"/>
<line x1="840" y1="1108.2" x2="840" y2="971.8" stroke="#111" stroke-width="2.2"/>
<line x1="840" y1="1204.6" x2="840" y2="1255.2" stroke="#111" stroke-width="2.2"/>
<rect x="824.2" y="1202.3" width="31.6" height="2.4" fill="rgb(15,115,195)" fill-opacity="0.1"/>
<rect x="824.2" y="1148.2" width="31.6" height="54.1" fill="rgb(110,110,110)" fill-opacity="0.1"/>
<rect x="824.2" y="1108.2" width="31.6" height="40" fill="rgb(0,160,85)" fill-opacity="0.1"/>
<rect x="824.2" y="1108.2" width="31.6" height="96.4" fill="none" stroke="#111" stroke-width="2.2"/>
<line x1="824.2" y1="1155.7" x2="855.8" y2="1155.7" stroke="#111" stroke-width="5.5"/>
<circle cx="840" cy="1149.3" r="5.2" fill="#000"/>
<line x1="878.8" y1="1087" x2="878.8" y2="916.5" stroke="#111" stroke-width="2.2"/>
<line x1="878.8" y1="1202.3" x2="878.8" y2="1255.2" stroke="#111" stroke-width="2.2"/>
<rect x="863" y="1148.2" width="31.6" height="54.1" fill="rgb(110,110,110)" fill-opacity="0.1"/>
<rect x="863" y="1087" width="31.6" height="61.2" fill="rgb(0,160,85)" fill-opacity="0.1"/>
<rect x="863" y="1087" width="31.6" height="115.2" fill="none" stroke="#111" stroke-width="2.2"/>
<line x1="863" y1="1147" x2="894.6" y2="1147" stroke="#111" stroke-width="5.5"/>
<circle cx="878.8" cy="1139.9" r="5.2" fill="#000"/>
<line x1="732.5" y1="1259.3" x2="906.8" y2="1259.3" stroke="#111" stroke-width="3.6"/>
<text x="771.8" y="906" font-size="30.5" font-style="italic" transform="rotate(-90 771.8 906)">0.70</text>
<text x="810.8" y="906" font-size="30.5" font-style="italic" transform="rotate(-90 810.8 906)">0.69</text>
<text x="849" y="906" font-size="30.5" font-style="italic" transform="rotate(-90 849 906)">0.92</text>
<text x="887.8" y="906" font-size="30.5" font-style="italic" transform="rotate(-90 887.8 906)">1.00</text>
<text x="769.8" y="1272.5" font-size="31" text-anchor="end" transform="rotate(-90 769.8 1272.5)">sh1</text>
<text x="808.8" y="1272.5" font-size="31" text-anchor="end" transform="rotate(-90 808.8 1272.5)">sh3</text>
<text x="847" y="1272.5" font-size="31" text-anchor="end" transform="rotate(-90 847 1272.5)">non-trg.</text>
<text x="885.8" y="1272.5" font-size="31" text-anchor="end" transform="rotate(-90 885.8 1272.5)">pLKO.1</text>
<line x1="746.8" y1="1335.3" x2="810" y2="1335.3" stroke="#111" stroke-width="3.2"/>
<text x="775.5" y="1369.5" font-size="32" text-anchor="middle">Foxc1</text>
<text x="1001.1" y="752.5" font-size="33" font-style="italic">P</text>
<text x="1023.6" y="763.4" font-size="20" font-style="italic">KW</text>
<text x="1060.9" y="752.5" font-size="33">=</text>
<text x="1088.6" y="752.5" font-size="33" font-style="italic">6.5×10</text>
<text x="1199.8" y="741.4" font-size="18" font-style="italic">-5</text>
<text x="1094.1" y="786.2" font-size="30">***</text>
<text x="1106.5" y="836.5" font-size="30.5" font-style="italic" transform="rotate(-90 1106.5 836.5)">1.1</text>
<text x="1146" y="836.5" font-size="30.5" font-style="italic" transform="rotate(-90 1146 836.5)">1.0</text>
<line x1="1075.2" y1="844.3" x2="1075.2" y2="1261" stroke="#111" stroke-width="3.4"/>
<line x1="1068.2" y1="846" x2="1075.2" y2="846" stroke="#111" stroke-width="3.4"/>
<text x="1063.2" y="856.8" font-size="30" text-anchor="end">3.5</text>
<line x1="1068.2" y1="905" x2="1075.2" y2="905" stroke="#111" stroke-width="3.4"/>
<text x="1063.2" y="915.8" font-size="30" text-anchor="end">3.0</text>
<line x1="1068.2" y1="964" x2="1075.2" y2="964" stroke="#111" stroke-width="3.4"/>
<text x="1063.2" y="974.8" font-size="30" text-anchor="end">2.5</text>
<line x1="1068.2" y1="1022.9" x2="1075.2" y2="1022.9" stroke="#111" stroke-width="3.4"/>
<text x="1063.2" y="1033.7" font-size="30" text-anchor="end">2.0</text>
<line x1="1068.2" y1="1081.8" x2="1075.2" y2="1081.8" stroke="#111" stroke-width="3.4"/>
<text x="1063.2" y="1092.6" font-size="30" text-anchor="end">1.5</text>
<line x1="1068.2" y1="1140.8" x2="1075.2" y2="1140.8" stroke="#111" stroke-width="3.4"/>
<text x="1063.2" y="1151.6" font-size="30" text-anchor="end">1.0</text>
<line x1="1068.2" y1="1199.8" x2="1075.2" y2="1199.8" stroke="#111" stroke-width="3.4"/>
<text x="1063.2" y="1210.5" font-size="30" text-anchor="end">0.5</text>
<line x1="1068.2" y1="1258.7" x2="1075.2" y2="1258.7" stroke="#111" stroke-width="3.4"/>
<text x="1063.2" y="1269.5" font-size="30" text-anchor="end">0.0</text>
<path d="M1094.5 1252.8h6.61M1083.0 1249.9h29.71M1083.0 1246.9h29.71M1083.0 1244.0h29.71M1083.0 1241.0h29.71M1083.0 1238.1h29.71M1083.0 1235.1h29.71M1083.0 1232.2h29.71M1083.0 1229.2h29.71M1083.0 1226.3h29.71M1083.0 1223.3h29.71" stroke="rgb(15,115,195)" stroke-opacity="0.4" stroke-width="3.1" stroke-linecap="round" stroke-dasharray="0 3.3" fill="none"/>
<path d="M1083.0 1220.4h29.71M1083.0 1217.4h29.71M1083.0 1214.5h29.71M1083.0 1211.5h29.71M1083.0 1208.6h29.71M1083.0 1205.6h29.71M1083.0 1202.7h29.71M1083.0 1199.8h29.71M1083.0 1196.8h29.71M1083.0 1193.9h29.71M1083.0 1190.9h29.71M1083.0 1188.0h29.71M1083.0 1185.0h29.71M1083.0 1182.1h29.71M1083.0 1179.1h29.71M1083.0 1176.2h29.71M1083.0 1173.2h29.71M1083.0 1170.3h29.71M1083.0 1167.3h29.71M1083.0 1164.4h29.71M1083.0 1161.4h29.71M1083.0 1158.5h29.71M1083.0 1155.5h29.71M1083.0 1152.6h29.71" stroke="rgb(110,110,110)" stroke-opacity="0.4" stroke-width="3.1" stroke-linecap="round" stroke-dasharray="0 3.3" fill="none"/>
<path d="M1083.0 1149.6h29.71M1083.0 1146.7h29.71M1083.0 1143.7h29.71M1083.0 1140.8h29.71M1083.0 1137.9h29.71M1083.0 1134.9h29.71M1083.0 1132.0h29.71M1083.0 1129.0h29.71M1083.0 1126.1h29.71M1083.0 1123.1h29.71M1083.0 1120.2h29.71M1083.0 1117.2h29.71M1083.0 1114.3h29.71M1083.0 1111.3h29.71M1083.0 1108.4h29.71M1083.0 1105.4h29.71M1083.0 1102.5h29.71M1083.0 1099.5h29.71M1083.0 1096.6h29.71M1083.0 1093.6h29.71M1083.0 1090.7h29.71M1083.0 1087.7h29.71M1083.0 1084.8h29.71M1083.0 1081.8h29.71M1083.0 1078.9h29.71M1083.0 1076.0h29.71M1083.0 1073.0h29.71M1083.0 1070.1h29.71M1083.0 1067.1h29.71M1083.0 1064.2h29.71M1083.0 1061.2h29.71M1083.0 1058.3h29.71M1083.0 1055.3h29.71M1083.0 1052.4h29.71M1083.0 1049.4h29.71M1083.0 1046.5h29.71M1083.0 1043.5h29.71M1083.0 1040.6h29.71M1083.0 1037.6h29.71M1083.0 1034.7h29.71M1083.0 1031.7h29.71M1083.0 1028.8h29.71M1083.0 1025.8h29.71M1083.0 1022.9h29.71M1083.0 1020.0h29.71M1083.0 1017.0h29.71M1083.0 1014.1h29.71M1083.0 1011.1h29.71M1083.0 1008.2h29.71M1083.0 1005.2h29.71M1083.0 1002.3h29.71M1083.0 999.3h29.71M1083.0 996.4h29.71M1083.0 993.4h29.71M1083.0 990.5h29.71M1083.0 987.5h29.71M1083.0 984.6h29.71M1083.0 981.6h29.71M1083.0 978.7h29.71M1089.5 975.7h16.51M1091.2 972.8h13.21M1089.5 969.8h16.51M1084.6 966.9h26.41M1089.5 964.0h16.51M1086.2 961.0h23.11M1089.5 958.1h16.51M1086.2 955.1h23.11M1089.5 952.2h16.51M1091.2 949.2h13.21M1087.9 946.3h19.81M1086.2 943.3h23.11M1086.2 940.4h23.11M1091.2 937.4h13.21M1087.9 934.5h19.81M1091.2 931.5h13.21M1087.9 928.6h19.81M1086.2 925.6h23.11M1087.9 922.7h19.81M1091.2 919.7h13.21M1091.2 916.8h13.21M1086.2 913.8h23.11M1094.5 910.9h6.61M1096.1 907.9h3.31M1096.1 905.0h3.31M1097.8 902.1h0.01M1096.1 899.1h3.31M1096.1 896.2h3.31M1097.8 893.2h0.01M1097.8 890.3h0.01M1097.8 887.3h0.01M1097.8 884.4h0.01M1097.8 881.4h0.01M1096.1 878.5h3.31M1097.8 875.5h0.01M1097.8 872.6h0.01M1097.8 869.6h0.01M1097.8 866.7h0.01M1097.8 863.7h0.01M1097.8 860.8h0.01M1096.1 857.8h3.31M1097.8 854.9h0.01M1097.8 851.9h0.01" stroke="rgb(0,160,85)" stroke-opacity="0.4" stroke-width="3.1" stroke-linecap="round" stroke-dasharray="0 3.3" fill="none"/>
<path d="M1082.8 1250.8h29.71M1083.5 1247.8h29.71M1083.9 1244.9h29.71M1083.1 1241.9h29.71M1081.4 1239.0h29.71M1082.2 1236.0h29.71M1082.0 1233.1h29.71M1082.9 1230.1h29.71M1081.4 1227.2h29.71M1083.1 1224.2h29.71" stroke="rgb(15,115,195)" stroke-opacity="0.4" stroke-width="3.1" stroke-linecap="round" stroke-dasharray="0 3.3" fill="none"/>
<path d="M1081.9 1221.3h29.71M1083.3 1218.3h29.71M1082.0 1215.4h29.71M1082.9 1212.4h29.71M1083.8 1209.5h29.71M1082.9 1206.5h29.71M1082.4 1203.6h29.71M1082.9 1200.7h29.71M1082.1 1197.7h29.71M1082.2 1194.8h29.71M1082.9 1191.8h29.71M1083.0 1188.9h29.71M1083.1 1185.9h29.71M1083.1 1183.0h29.71M1083.2 1180.0h29.71M1083.2 1177.1h29.71M1082.8 1174.1h29.71M1083.2 1171.2h29.71M1082.7 1168.2h29.71M1083.9 1165.3h29.71M1083.2 1162.3h29.71M1084.0 1159.4h29.71M1081.7 1156.4h29.71M1081.5 1153.5h29.71" stroke="rgb(110,110,110)" stroke-opacity="0.4" stroke-width="3.1" stroke-linecap="round" stroke-dasharray="0 3.3" fill="none"/>
<path d="M1082.1 1150.5h29.71M1081.8 1147.6h29.71M1083.6 1144.6h29.71M1082.9 1141.7h29.71M1082.7 1138.8h29.71M1084.3 1135.8h29.71M1082.9 1132.9h29.71M1083.9 1129.9h29.71M1082.8 1127.0h29.71M1082.5 1124.0h29.71M1084.2 1121.1h29.71M1083.3 1118.1h29.71M1084.2 1115.2h29.71M1082.6 1112.2h29.71M1083.7 1109.3h29.71M1083.9 1106.3h29.71M1083.2 1103.4h29.71M1084.0 1100.4h29.71M1083.9 1097.5h29.71M1083.2 1094.5h29.71M1083.8 1091.6h29.71M1083.4 1088.6h29.71M1081.4 1085.7h29.71M1083.4 1082.8h29.71M1083.0 1079.8h29.71M1082.8 1076.9h29.71M1087.0 1073.9h23.11M1088.1 1068.0h19.81M1088.4 1065.1h16.51M1095.4 1062.1h6.61M1095.9 1059.2h3.31M1094.9 1056.2h3.31M1089.9 1053.3h16.51M1094.5 1050.3h6.61M1087.7 1047.4h19.81M1090.5 1044.4h16.51M1085.6 1041.5h23.11M1095.0 1038.5h6.61M1092.6 1035.6h13.21M1087.3 1032.6h19.81M1091.2 1026.7h9.91M1099.2 1023.8h0.01M1085.2 1020.9h23.11M1094.4 1017.9h9.91M1084.9 1015.0h23.11M1094.1 1012.0h6.61M1086.2 1009.1h23.11M1093.7 1006.1h6.61M1097.8 1003.2h3.31M1086.8 1000.2h23.11M1094.2 997.3h6.61M1092.4 994.3h13.21M1090.7 991.4h13.21M1090.4 988.4h13.21M1088.1 985.5h16.51M1088.3 982.5h19.81M1093.1 979.6h6.61" stroke="rgb(0,160,85)" stroke-opacity="0.4" stroke-width="3.1" stroke-linecap="round" stroke-dasharray="0 3.3" fill="none"/>
<path d="M1082.4 1249.9h29.71M1081.9 1246.9h29.71M1081.9 1244.0h29.71M1083.2 1241.0h29.71M1086.5 1238.1h23.11M1084.4 1235.1h29.71M1084.0 1232.2h29.71M1085.8 1229.2h23.11M1083.1 1226.3h29.71M1084.5 1223.3h29.71" stroke="rgb(15,115,195)" stroke-opacity="0.4" stroke-width="3.1" stroke-linecap="round" stroke-dasharray="0 3.3" fill="none"/>
<path d="M1083.7 1220.4h29.71M1082.6 1217.4h29.71M1086.4 1214.5h23.11M1081.4 1211.5h29.71M1083.7 1208.6h29.71M1083.5 1205.6h29.71M1083.4 1202.7h29.71M1090.7 1199.8h13.21M1083.1 1196.8h29.71M1090.4 1193.9h16.51M1091.9 1190.9h9.91M1083.3 1188.0h26.41M1090.2 1185.0h16.51M1092.3 1182.1h13.21M1087.6 1179.1h23.11M1081.4 1176.2h29.71M1083.5 1173.2h29.71M1081.5 1170.3h29.71M1081.7 1167.3h29.71M1081.9 1164.4h29.71M1089.9 1161.4h13.21M1082.0 1158.5h29.71M1084.2 1155.5h29.71M1083.5 1152.6h29.71" stroke="rgb(110,110,110)" stroke-opacity="0.4" stroke-width="3.1" stroke-linecap="round" stroke-dasharray="0 3.3" fill="none"/>
<path d="M1083.9 1149.6h29.71M1090.0 1146.7h13.21M1083.0 1143.7h29.71M1083.1 1140.8h29.71M1091.4 1137.9h9.91M1095.1 1134.9h3.31M1082.6 1132.0h29.71M1091.3 1129.0h13.21M1084.6 1126.1h29.71M1084.6 1123.1h29.71M1094.5 1120.2h9.91M1085.9 1117.2h26.41M1098.3 1114.3h0.01M1084.5 1111.3h29.71M1091.7 1108.4h13.21M1087.3 1105.4h19.81M1084.6 1102.5h29.71M1083.7 1099.5h29.71M1082.9 1096.6h29.71M1088.3 1093.6h16.51M1093.1 1090.7h9.91M1083.9 1087.7h29.71M1084.5 1084.8h29.71M1083.7 1081.8h29.71M1095.6 1078.9h3.31M1090.0 1076.0h16.51" stroke="rgb(0,160,85)" stroke-opacity="0.4" stroke-width="3.1" stroke-linecap="round" stroke-dasharray="0 3.3" fill="none"/>
<path d="M1099.1 1250.8h0.01M1082.6 1247.8h29.71M1082.3 1244.9h29.71M1083.3 1241.9h29.71M1094.9 1236.0h3.31M1081.9 1233.1h29.71M1081.6 1227.2h29.71M1093.8 1224.2h9.91" stroke="rgb(15,115,195)" stroke-opacity="0.4" stroke-width="3.1" stroke-linecap="round" stroke-dasharray="0 3.3" fill="none"/>
<path d="M1089.5 1221.3h19.81M1082.8 1218.3h29.71M1089.4 1212.4h19.81M1082.0 1209.5h29.71M1095.4 1206.5h6.61M1087.5 1203.6h23.11M1083.4 1197.7h29.71M1096.7 1177.1h0.01M1098.1 1171.2h0.01M1096.4 1168.2h0.01M1091.3 1165.3h9.91M1087.7 1159.4h23.11M1099.3 1156.4h0.01M1095.1 1153.5h6.61" stroke="rgb(110,110,110)" stroke-opacity="0.4" stroke-width="3.1" stroke-linecap="round" stroke-dasharray="0 3.3" fill="none"/>
<path d="M1084.9 1150.5h26.41M1093.0 1144.6h9.91M1091.9 1141.7h9.91M1095.2 1132.9h3.31M1088.9 1127.0h19.81M1093.0 1124.0h9.91M1089.0 1112.2h19.81M1097.4 1103.4h3.31M1093.5 1100.4h6.61M1088.4 1097.5h16.51M1097.7 1085.7h0.01M1086.3 1082.8h19.81" stroke="rgb(0,160,85)" stroke-opacity="0.4" stroke-width="3.1" stroke-linecap="round" stroke-dasharray="0 3.3" fill="none"/>
<path d="M1095.3 1246.9h3.31M1094.9 1244.0h6.61M1093.3 1232.2h9.91M1093.4 1226.3h6.61" stroke="rgb(15,115,195)" stroke-opacity="0.4" stroke-width="3.1" stroke-linecap="round" stroke-dasharray="0 3.3" fill="none"/>
<path d="M1092.8 1217.4h13.21M1089.8 1208.6h13.21" stroke="rgb(110,110,110)" stroke-opacity="0.4" stroke-width="3.1" stroke-linecap="round" stroke-dasharray="0 3.3" fill="none"/>
<path d="M1128.5 1252.8h16.51M1121.9 1249.9h29.71M1121.9 1246.9h29.71M1121.9 1244.0h29.71M1121.9 1241.0h29.71M1121.9 1238.1h29.71M1121.9 1235.1h29.71M1121.9 1232.2h29.71M1121.9 1229.2h29.71M1121.9 1226.3h29.71M1121.9 1223.3h29.71" stroke="rgb(15,115,195)" stroke-opacity="0.4" stroke-width="3.1" stroke-linecap="round" stroke-dasharray="0 3.3" fill="none"/>
<path d="M1121.9 1220.4h29.71M1121.9 1217.4h29.71M1121.9 1214.5h29.71M1121.9 1211.5h29.71M1121.9 1208.6h29.71M1121.9 1205.6h29.71M1121.9 1202.7h29.71M1121.9 1199.8h29.71M1121.9 1196.8h29.71M1121.9 1193.9h29.71M1121.9 1190.9h29.71M1121.9 1188.0h29.71M1121.9 1185.0h29.71M1121.9 1182.1h29.71M1121.9 1179.1h29.71M1121.9 1176.2h29.71M1121.9 1173.2h29.71M1121.9 1170.3h29.71M1121.9 1167.3h29.71M1121.9 1164.4h29.71M1121.9 1161.4h29.71M1121.9 1158.5h29.71M1121.9 1155.5h29.71M1121.9 1152.6h29.71" stroke="rgb(110,110,110)" stroke-opacity="0.4" stroke-width="3.1" stroke-linecap="round" stroke-dasharray="0 3.3" fill="none"/>
<path d="M1121.9 1149.6h29.71M1121.9 1146.7h29.71M1121.9 1143.7h29.71M1121.9 1140.8h29.71M1121.9 1137.9h29.71M1121.9 1134.9h29.71M1121.9 1132.0h29.71M1121.9 1129.0h29.71M1121.9 1126.1h29.71M1121.9 1123.1h29.71M1121.9 1120.2h29.71M1121.9 1117.2h29.71M1121.9 1114.3h29.71M1121.9 1111.3h29.71M1121.9 1108.4h29.71M1121.9 1105.4h29.71M1121.9 1102.5h29.71M1121.9 1099.5h29.71M1121.9 1096.6h29.71M1121.9 1093.6h29.71M1121.9 1090.7h29.71M1121.9 1087.7h29.71M1121.9 1084.8h29.71M1121.9 1081.8h29.71M1123.5 1078.9h26.41M1121.9 1076.0h29.71M1121.9 1073.0h29.71M1121.9 1070.1h29.71M1121.9 1067.1h29.71M1121.9 1064.2h29.71M1123.5 1061.2h26.41M1121.9 1058.3h29.71M1123.5 1055.3h26.41M1121.9 1052.4h29.71M1121.9 1049.4h29.71M1121.9 1046.5h29.71M1125.2 1043.5h23.11M1121.9 1040.6h29.71M1121.9 1037.6h29.71M1121.9 1034.7h29.71M1121.9 1031.7h29.71M1121.9 1028.8h29.71M1121.9 1025.8h29.71M1121.9 1022.9h29.71M1121.9 1020.0h29.71M1121.9 1017.0h29.71M1121.9 1014.1h29.71M1121.9 1011.1h29.71M1121.9 1008.2h29.71M1121.9 1005.2h29.71M1121.9 1002.3h29.71M1123.5 999.3h26.41M1121.9 996.4h29.71M1121.9 993.4h29.71M1123.5 990.5h26.41M1121.9 987.5h29.71M1121.9 984.6h29.71M1125.2 981.6h23.11M1121.9 978.7h29.71M1121.9 975.7h29.71M1121.9 972.8h29.71M1121.9 969.8h29.71M1130.1 966.9h13.21M1126.8 964.0h19.81M1131.8 961.0h9.91M1130.1 958.1h13.21M1128.5 955.1h16.51M1130.1 952.2h13.21M1130.1 949.2h13.21M1130.1 946.3h13.21M1131.8 943.3h9.91M1131.8 940.4h9.91M1130.1 937.4h13.21M1131.8 934.5h9.91M1131.8 931.5h9.91M1128.5 928.6h16.51M1130.1 925.6h13.21M1126.8 922.7h19.81M1128.5 919.7h16.51M1128.5 916.8h16.51M1130.1 913.8h13.21M1131.8 910.9h9.91M1128.5 907.9h16.51M1130.1 905.0h13.21M1126.8 902.1h19.81M1126.8 899.1h19.81M1131.8 896.2h9.91M1130.1 893.2h13.21M1126.8 890.3h19.81M1128.5 887.3h16.51M1128.5 884.4h16.51M1130.1 881.4h13.21M1130.1 878.5h13.21M1131.8 875.5h9.91M1128.5 872.6h16.51M1128.5 869.6h16.51" stroke="rgb(0,160,85)" stroke-opacity="0.4" stroke-width="3.1" stroke-linecap="round" stroke-dasharray="0 3.3" fill="none"/>
<path d="M1121.3 1250.8h29.71M1122.5 1247.8h29.71M1123.4 1244.9h29.71M1122.6 1241.9h29.71M1123.0 1239.0h29.71M1120.9 1236.0h29.71M1120.6 1233.1h29.71M1121.4 1230.1h29.71M1123.0 1227.2h29.71M1121.0 1224.2h29.71" stroke="rgb(15,115,195)" stroke-opacity="0.4" stroke-width="3.1" stroke-linecap="round" stroke-dasharray="0 3.3" fill="none"/>
<path d="M1120.6 1221.3h29.71M1123.4 1218.3h29.71M1122.2 1215.4h29.71M1121.8 1212.4h29.71M1121.7 1209.5h29.71M1122.6 1206.5h29.71M1120.6 1203.6h29.71M1123.3 1200.7h29.71M1122.2 1197.7h29.71M1123.3 1194.8h26.41M1123.1 1191.8h29.71M1120.7 1188.9h29.71M1123.4 1185.9h29.71M1123.3 1183.0h29.71M1120.6 1180.0h29.71M1122.7 1177.1h29.71M1122.2 1174.1h29.71M1122.9 1171.2h29.71M1122.7 1168.2h29.71M1122.7 1165.3h29.71M1121.9 1162.3h29.71M1121.4 1159.4h29.71M1122.2 1156.4h29.71M1121.9 1153.5h29.71" stroke="rgb(110,110,110)" stroke-opacity="0.4" stroke-width="3.1" stroke-linecap="round" stroke-dasharray="0 3.3" fill="none"/>
<path d="M1122.2 1150.5h29.71M1120.4 1147.6h29.71M1121.4 1144.6h29.71M1121.3 1141.7h29.71M1122.9 1138.8h29.71M1123.2 1135.8h29.71M1122.8 1132.9h29.71M1122.9 1129.9h29.71M1121.0 1127.0h29.71M1122.0 1124.0h29.71M1121.0 1121.1h29.71M1123.0 1118.1h29.71M1120.4 1115.2h29.71M1121.9 1112.2h29.71M1123.5 1109.3h29.71M1123.2 1106.3h29.71M1122.6 1103.4h29.71M1122.9 1100.4h29.71M1121.8 1097.5h29.71M1123.2 1094.5h29.71M1121.0 1091.6h29.71M1121.3 1088.6h29.71M1122.3 1085.7h29.71M1130.2 1082.8h9.91M1135.9 1073.9h3.31M1132.0 1071.0h9.91M1135.8 1068.0h3.31M1133.0 1065.1h6.61M1137.1 1053.3h0.01M1131.4 1041.5h9.91M1136.4 1038.5h3.31M1134.7 1035.6h6.61M1138.2 1032.6h0.01M1132.8 1029.7h9.91M1136.3 1026.7h0.01M1128.5 1020.9h13.21M1135.7 1017.9h0.01M1130.8 1015.0h9.91M1135.5 1003.2h3.31M1136.1 988.4h3.31M1135.7 985.5h0.01M1138.1 979.6h0.01M1135.5 976.6h3.31M1132.4 970.7h9.91" stroke="rgb(0,160,85)" stroke-opacity="0.4" stroke-width="3.1" stroke-linecap="round" stroke-dasharray="0 3.3" fill="none"/>
<path d="M1122.5 1249.9h29.71M1122.3 1246.9h29.71M1121.3 1244.0h29.71M1121.1 1241.0h29.71M1123.5 1238.1h29.71M1122.3 1235.1h29.71M1121.5 1232.2h29.71M1120.9 1229.2h29.71M1121.7 1226.3h29.71M1120.9 1223.3h29.71" stroke="rgb(15,115,195)" stroke-opacity="0.4" stroke-width="3.1" stroke-linecap="round" stroke-dasharray="0 3.3" fill="none"/>
<path d="M1133.1 1220.4h6.61M1124.0 1214.5h23.11M1130.3 1211.5h9.91M1134.8 1208.6h6.61M1126.9 1205.6h19.81M1125.8 1199.8h19.81M1122.0 1190.9h29.71M1129.5 1188.0h16.51M1125.6 1185.0h23.11M1132.3 1182.1h6.61M1121.9 1179.1h29.71M1127.1 1176.2h16.51M1123.5 1173.2h26.41M1133.3 1170.3h6.61M1132.0 1167.3h6.61M1126.9 1164.4h16.51M1122.0 1161.4h29.71M1128.8 1158.5h16.51M1126.1 1155.5h23.11M1120.8 1152.6h29.71" stroke="rgb(110,110,110)" stroke-opacity="0.4" stroke-width="3.1" stroke-linecap="round" stroke-dasharray="0 3.3" fill="none"/>
<path d="M1125.2 1149.6h23.11M1130.2 1146.7h9.91M1128.8 1143.7h16.51M1128.3 1140.8h19.81M1120.5 1137.9h29.71M1123.2 1134.9h26.41M1132.3 1132.0h6.61M1123.4 1129.0h29.71M1121.8 1126.1h29.71M1120.3 1123.1h29.71M1120.6 1120.2h29.71M1120.3 1117.2h29.71M1132.5 1114.3h6.61M1130.8 1111.3h9.91M1120.5 1108.4h29.71M1130.6 1105.4h13.21M1134.8 1102.5h6.61M1122.5 1099.5h29.71M1130.8 1096.6h9.91M1127.3 1093.6h16.51M1121.4 1090.7h29.71M1135.0 1087.7h3.31M1129.6 1084.8h16.51" stroke="rgb(0,160,85)" stroke-opacity="0.4" stroke-width="3.1" stroke-linecap="round" stroke-dasharray="0 3.3" fill="none"/>
<path d="M1121.8 1250.8h29.71M1121.3 1247.8h29.71M1123.4 1244.9h29.71M1121.5 1241.9h29.71M1121.6 1239.0h29.71M1122.2 1236.0h29.71M1120.5 1233.1h29.71M1121.4 1230.1h29.71M1121.7 1227.2h29.71M1123.0 1224.2h29.71" stroke="rgb(15,115,195)" stroke-opacity="0.4" stroke-width="3.1" stroke-linecap="round" stroke-dasharray="0 3.3" fill="none"/>
<path d="M1138.1 1191.8h0.01M1134.3 1180.0h6.61M1136.0 1162.3h0.01M1137.8 1153.5h0.01" stroke="rgb(110,110,110)" stroke-opacity="0.4" stroke-width="3.1" stroke-linecap="round" stroke-dasharray="0 3.3" fill="none"/>
<path d="M1126.6 1138.8h23.11M1133.0 1129.9h6.61M1131.7 1127.0h13.21M1126.2 1124.0h23.11M1125.6 1121.1h23.11M1131.8 1118.1h6.61M1134.7 1100.4h6.61M1136.2 1091.6h3.31" stroke="rgb(0,160,85)" stroke-opacity="0.4" stroke-width="3.1" stroke-linecap="round" stroke-dasharray="0 3.3" fill="none"/>
<path d="M1121.4 1249.9h29.71M1121.6 1246.9h29.71M1122.2 1244.0h29.71M1120.6 1241.0h29.71M1127.2 1238.1h16.51M1120.3 1235.1h29.71M1122.5 1232.2h29.71M1123.2 1229.2h29.71M1123.1 1226.3h29.71M1122.1 1223.3h29.71" stroke="rgb(15,115,195)" stroke-opacity="0.4" stroke-width="3.1" stroke-linecap="round" stroke-dasharray="0 3.3" fill="none"/>
<path d="M1121.5 1250.8h29.71M1121.3 1249.9h29.71M1127.4 1250.8h16.51M1120.7 1247.8h29.71M1124.3 1246.9h26.41M1127.7 1244.9h19.81M1120.4 1241.9h29.71M1123.1 1241.0h26.41M1123.5 1236.0h26.41M1122.3 1233.1h29.71M1137.1 1232.2h0.01M1120.7 1230.1h29.71M1122.5 1227.2h29.71M1122.9 1226.3h29.71M1130.7 1227.2h9.91M1121.6 1224.2h29.71M1125.1 1223.3h23.11" stroke="rgb(15,115,195)" stroke-opacity="0.4" stroke-width="3.1" stroke-linecap="round" stroke-dasharray="0 3.3" fill="none"/>
<line x1="1097.8" y1="1074" x2="1097.8" y2="900.3" stroke="#111" stroke-width="2.2"/>
<line x1="1097.8" y1="1198.3" x2="1097.8" y2="1255.2" stroke="#111" stroke-width="2.2"/>
<rect x="1081.6" y="1150.2" width="32.4" height="48.1" fill="rgb(110,110,110)" fill-opacity="0.35"/>
<rect x="1081.6" y="1074" width="32.4" height="76.3" fill="rgb(0,160,85)" fill-opacity="0.35"/>
<rect x="1081.6" y="1074" width="32.4" height="124.4" fill="none" stroke="#111" stroke-width="2.2"/>
<line x1="1081.6" y1="1139.6" x2="1114" y2="1139.6" stroke="#111" stroke-width="5.5"/>
<circle cx="1097.8" cy="1129.6" r="5.2" fill="#000"/>
<line x1="1136.7" y1="1084.2" x2="1136.7" y2="873.2" stroke="#111" stroke-width="2.2"/>
<line x1="1136.7" y1="1221.8" x2="1136.7" y2="1255.2" stroke="#111" stroke-width="2.2"/>
<rect x="1120.5" y="1221" width="32.4" height="0.8" fill="rgb(15,115,195)" fill-opacity="0.35"/>
<rect x="1120.5" y="1150.2" width="32.4" height="70.7" fill="rgb(110,110,110)" fill-opacity="0.35"/>
<rect x="1120.5" y="1084.2" width="32.4" height="66" fill="rgb(0,160,85)" fill-opacity="0.35"/>
<rect x="1120.5" y="1084.2" width="32.4" height="137.6" fill="none" stroke="#111" stroke-width="2.2"/>
<line x1="1120.5" y1="1148.5" x2="1152.9" y2="1148.5" stroke="#111" stroke-width="5.5"/>
<circle cx="1136.7" cy="1141" r="5.2" fill="#000"/>
<line x1="1070" y1="1259.3" x2="1161.2" y2="1259.3" stroke="#111" stroke-width="3.6"/>
<text x="1084.5" y="1275" font-size="31.4" text-anchor="end" transform="rotate(-90 1084.5 1275)">Foxc1</text>
<text x="1113.9" y="1288" font-size="31.4" text-anchor="end" transform="rotate(-90 1113.9 1288)">OE</text>
<text x="1149.2" y="1271" font-size="32" text-anchor="end" transform="rotate(-90 1149.2 1271)">pLXSH</text>
<text x="1250.5" y="779.3" font-size="40" font-weight="bold">F</text>
<text x="1285.5" y="1053" font-size="34.3" text-anchor="middle" transform="rotate(-90 1285.5 1053)">Frequency, % (<tspan fill="#2f7cb8">short</tspan> / <tspan fill="#2a9e65">long</tspan>)</text>
<line x1="1343.2" y1="845.2" x2="1343.2" y2="1261" stroke="#111" stroke-width="3.4"/>
<line x1="1336.2" y1="846.9" x2="1343.2" y2="846.9" stroke="#111" stroke-width="3.4"/>
<text x="1331.2" y="857.5" font-size="29.5" text-anchor="end">60</text>
<line x1="1336.2" y1="915.5" x2="1343.2" y2="915.5" stroke="#111" stroke-width="3.4"/>
<text x="1331.2" y="926.1" font-size="29.5" text-anchor="end">50</text>
<line x1="1336.2" y1="984.1" x2="1343.2" y2="984.1" stroke="#111" stroke-width="3.4"/>
<text x="1331.2" y="994.7" font-size="29.5" text-anchor="end">40</text>
<line x1="1336.2" y1="1052.7" x2="1343.2" y2="1052.7" stroke="#111" stroke-width="3.4"/>
<text x="1331.2" y="1063.3" font-size="29.5" text-anchor="end">30</text>
<line x1="1336.2" y1="1121.3" x2="1343.2" y2="1121.3" stroke="#111" stroke-width="3.4"/>
<text x="1331.2" y="1131.9" font-size="29.5" text-anchor="end">20</text>
<line x1="1336.2" y1="1189.9" x2="1343.2" y2="1189.9" stroke="#111" stroke-width="3.4"/>
<text x="1331.2" y="1200.5" font-size="29.5" text-anchor="end">10</text>
<line x1="1336.2" y1="1258.5" x2="1343.2" y2="1258.5" stroke="#111" stroke-width="3.4"/>
<text x="1331.2" y="1269.1" font-size="29.5" text-anchor="end">0</text>
<rect x="1351.3" y="995.8" width="17.5" height="262.7" fill="#0a7cc1" stroke="#0d1a26" stroke-width="2.0"/>
<rect x="1370.8" y="1072.6" width="17.5" height="185.9" fill="#00a85c" stroke="#0d1a26" stroke-width="2.0"/>
<line x1="1357.5" y1="994.8" x2="1362.5" y2="994.8" stroke="#111" stroke-width="1.5"/>
<circle cx="1360" cy="995.8" r="2.2" fill="#000"/>
<line x1="1377" y1="1071.6" x2="1382" y2="1071.6" stroke="#111" stroke-width="1.5"/>
<circle cx="1379.5" cy="1072.6" r="2.2" fill="#000"/>
<rect x="1393" y="991" width="17.5" height="267.5" fill="#0a7cc1" stroke="#0d1a26" stroke-width="2.0"/>
<rect x="1412.5" y="1076" width="17.5" height="182.5" fill="#00a85c" stroke="#0d1a26" stroke-width="2.0"/>
<line x1="1399.2" y1="990" x2="1404.2" y2="990" stroke="#111" stroke-width="1.5"/>
<circle cx="1401.8" cy="991" r="2.2" fill="#000"/>
<line x1="1418.8" y1="1075" x2="1423.8" y2="1075" stroke="#111" stroke-width="1.5"/>
<circle cx="1421.2" cy="1076" r="2.2" fill="#000"/>
<rect x="1435.3" y="1076" width="17.5" height="182.5" fill="#0a7cc1" stroke="#0d1a26" stroke-width="2.0"/>
<rect x="1454.8" y="953.2" width="17.5" height="305.3" fill="#00a85c" stroke="#0d1a26" stroke-width="2.0"/>
<line x1="1441.5" y1="1075" x2="1446.5" y2="1075" stroke="#111" stroke-width="1.5"/>
<circle cx="1444" cy="1076" r="2.2" fill="#000"/>
<line x1="1461" y1="952.2" x2="1466" y2="952.2" stroke="#111" stroke-width="1.5"/>
<circle cx="1463.5" cy="953.2" r="2.2" fill="#000"/>
<rect x="1477.6" y="1087.7" width="17.5" height="170.8" fill="#0a7cc1" stroke="#0d1a26" stroke-width="2.0"/>
<rect x="1497.1" y="915.5" width="17.5" height="343" fill="#00a85c" stroke="#0d1a26" stroke-width="2.0"/>
<line x1="1483.8" y1="1086.7" x2="1488.8" y2="1086.7" stroke="#111" stroke-width="1.5"/>
<circle cx="1486.3" cy="1087.7" r="2.2" fill="#000"/>
<line x1="1503.3" y1="914.5" x2="1508.3" y2="914.5" stroke="#111" stroke-width="1.5"/>
<circle cx="1505.8" cy="915.5" r="2.2" fill="#000"/>
<line x1="1338" y1="1259.5" x2="1524.7" y2="1259.5" stroke="#111" stroke-width="3.6"/>
<text x="1379.2" y="1273" font-size="31" text-anchor="end" transform="rotate(-90 1379.2 1273)">sh1</text>
<text x="1421.7" y="1273" font-size="31" text-anchor="end" transform="rotate(-90 1421.7 1273)">sh3</text>
<text x="1465" y="1273" font-size="31" text-anchor="end" transform="rotate(-90 1465 1273)">non-trg.</text>
<text x="1508" y="1273" font-size="31" text-anchor="end" transform="rotate(-90 1508 1273)">pLKO.1</text>
<line x1="1361.3" y1="1335.6" x2="1429.1" y2="1335.6" stroke="#111" stroke-width="3.2"/>
<text x="1396.5" y="1370.6" font-size="32" text-anchor="middle">Foxc1</text>
<line x1="1623.9" y1="845.2" x2="1623.9" y2="1261" stroke="#111" stroke-width="3.4"/>
<line x1="1616.9" y1="846.9" x2="1623.9" y2="846.9" stroke="#111" stroke-width="3.4"/>
<text x="1611.9" y="857.5" font-size="29.5" text-anchor="end">60</text>
<line x1="1616.9" y1="915.5" x2="1623.9" y2="915.5" stroke="#111" stroke-width="3.4"/>
<text x="1611.9" y="926.1" font-size="29.5" text-anchor="end">50</text>
<line x1="1616.9" y1="984.1" x2="1623.9" y2="984.1" stroke="#111" stroke-width="3.4"/>
<text x="1611.9" y="994.7" font-size="29.5" text-anchor="end">40</text>
<line x1="1616.9" y1="1052.7" x2="1623.9" y2="1052.7" stroke="#111" stroke-width="3.4"/>
<text x="1611.9" y="1063.3" font-size="29.5" text-anchor="end">30</text>
<line x1="1616.9" y1="1121.3" x2="1623.9" y2="1121.3" stroke="#111" stroke-width="3.4"/>
<text x="1611.9" y="1131.9" font-size="29.5" text-anchor="end">20</text>
<line x1="1616.9" y1="1189.9" x2="1623.9" y2="1189.9" stroke="#111" stroke-width="3.4"/>
<text x="1611.9" y="1200.5" font-size="29.5" text-anchor="end">10</text>
<line x1="1616.9" y1="1258.5" x2="1623.9" y2="1258.5" stroke="#111" stroke-width="3.4"/>
<text x="1611.9" y="1269.1" font-size="29.5" text-anchor="end">0</text>
<rect x="1632.8" y="1141.2" width="17.9" height="117.3" fill="#0a7cc1" stroke="#0d1a26" stroke-width="2.0"/>
<line x1="1639.2" y1="1140.2" x2="1644.2" y2="1140.2" stroke="#111" stroke-width="1.5"/>
<circle cx="1641.8" cy="1141.2" r="2.2" fill="#000"/>
<rect x="1652.7" y="892.9" width="19.4" height="365.6" fill="#00a85c" stroke="#0d1a26" stroke-width="2.0"/>
<line x1="1659.9" y1="891.9" x2="1664.9" y2="891.9" stroke="#111" stroke-width="1.5"/>
<circle cx="1662.4" cy="892.9" r="2.2" fill="#000"/>
<rect x="1677.4" y="1086.3" width="17.7" height="172.2" fill="#0a7cc1" stroke="#0d1a26" stroke-width="2.0"/>
<line x1="1683.8" y1="1085.3" x2="1688.8" y2="1085.3" stroke="#111" stroke-width="1.5"/>
<circle cx="1686.2" cy="1086.3" r="2.2" fill="#000"/>
<rect x="1697.1" y="915.5" width="19.4" height="343" fill="#00a85c" stroke="#0d1a26" stroke-width="2.0"/>
<line x1="1704.3" y1="914.5" x2="1709.3" y2="914.5" stroke="#111" stroke-width="1.5"/>
<circle cx="1706.8" cy="915.5" r="2.2" fill="#000"/>
<line x1="1619" y1="1259.5" x2="1726" y2="1259.5" stroke="#111" stroke-width="3.6"/>
<text x="1641.5" y="1273" font-size="31" text-anchor="end" transform="rotate(-90 1641.5 1273)">Foxc1</text>
<text x="1668.5" y="1287" font-size="31" text-anchor="end" transform="rotate(-90 1668.5 1287)">OE</text>
<text x="1712" y="1271" font-size="31" text-anchor="end" transform="rotate(-90 1712 1271)">pLXSH</text>
<text x="370" y="1492" font-size="40" font-weight="bold">H</text>
<text x="425.6" y="1478.2" font-size="33" font-style="italic">P</text>
<text x="447.4" y="1489.3" font-size="20" font-style="italic">KW</text>
<text x="484.8" y="1478.2" font-size="33">=</text>
<text x="513" y="1478.2" font-size="33" font-style="italic">3.0×10</text>
<text x="623.9" y="1467.1" font-size="18" font-style="italic">-5</text>
<text x="517.5" y="1514.5" font-size="30">***</text>
<text x="527" y="1580.7" font-size="30.5" font-style="italic" transform="rotate(-90 527 1580.7)">0.89</text>
<text x="568" y="1576.4" font-size="30.5" font-style="italic" transform="rotate(-90 568 1576.4)">1.00</text>
<text x="424" y="1760" font-size="33" text-anchor="middle" transform="rotate(-90 424 1760)">Relative cilia length</text>
<line x1="494" y1="1547.4" x2="494" y2="1963" stroke="#111" stroke-width="3.4"/>
<line x1="487" y1="1549.1" x2="494" y2="1549.1" stroke="#111" stroke-width="3.4"/>
<text x="482" y="1559.9" font-size="30" text-anchor="end">3.0</text>
<line x1="487" y1="1617.8" x2="494" y2="1617.8" stroke="#111" stroke-width="3.4"/>
<text x="482" y="1628.5" font-size="30" text-anchor="end">2.5</text>
<line x1="487" y1="1686.4" x2="494" y2="1686.4" stroke="#111" stroke-width="3.4"/>
<text x="482" y="1697.2" font-size="30" text-anchor="end">2.0</text>
<line x1="487" y1="1755" x2="494" y2="1755" stroke="#111" stroke-width="3.4"/>
<text x="482" y="1765.8" font-size="30" text-anchor="end">1.5</text>
<line x1="487" y1="1823.7" x2="494" y2="1823.7" stroke="#111" stroke-width="3.4"/>
<text x="482" y="1834.5" font-size="30" text-anchor="end">1.0</text>
<line x1="487" y1="1892.3" x2="494" y2="1892.3" stroke="#111" stroke-width="3.4"/>
<text x="482" y="1903.1" font-size="30" text-anchor="end">0.5</text>
<line x1="487" y1="1961" x2="494" y2="1961" stroke="#111" stroke-width="3.4"/>
<text x="482" y="1971.8" font-size="30" text-anchor="end">0.0</text>
<path d="M503.6 1889.6h26.41M503.6 1884.1h26.41M503.6 1878.6h26.41M503.6 1873.1h26.41M503.6 1867.6h26.41M503.6 1862.1h26.41M503.6 1856.7h26.41M503.6 1851.2h26.41M503.6 1845.7h26.41M503.6 1840.2h26.41M503.6 1834.7h26.41M503.6 1829.2h26.41" stroke="rgb(150,150,150)" stroke-opacity="0.5" stroke-width="3.1" stroke-linecap="round" stroke-dasharray="0 3.3" fill="none"/>
<path d="M503.6 1823.7h26.41M503.6 1818.2h26.41M503.6 1812.7h26.41M503.6 1807.2h26.41M503.6 1801.7h26.41M503.6 1796.2h26.41M503.6 1790.7h26.41M503.6 1785.3h26.41M503.6 1779.8h26.41M503.6 1774.3h26.41M503.6 1768.8h26.41M503.6 1763.3h26.41M503.6 1757.8h26.41M503.6 1752.3h26.41M503.6 1746.8h26.41M503.6 1741.3h26.41M503.6 1735.8h26.41M503.6 1730.3h26.41M503.6 1724.8h26.41M503.6 1719.4h26.41M505.2 1713.9h23.11M510.2 1708.4h13.21M505.2 1702.9h23.11M508.5 1697.4h16.51M506.9 1691.9h19.81M508.5 1686.4h16.51M510.2 1680.9h13.21M506.9 1675.4h19.81M506.9 1669.9h19.81M508.5 1664.4h16.51M505.2 1658.9h23.11M508.5 1653.4h16.51M506.9 1648.0h19.81M510.2 1642.5h13.21M505.2 1637.0h23.11M510.2 1631.5h13.21M505.2 1626.0h23.11M508.5 1620.5h16.51M508.5 1615.0h16.51M511.8 1609.5h9.91M513.5 1604.0h6.61M513.5 1598.5h6.61M513.5 1593.0h6.61M516.8 1587.5h0.01" stroke="rgb(0,160,85)" stroke-opacity="0.5" stroke-width="3.1" stroke-linecap="round" stroke-dasharray="0 3.3" fill="none"/>
<path d="M503.2 1890.5h26.41M503.0 1885.0h26.41M502.9 1879.5h26.41M504.1 1874.0h26.41M505.2 1868.5h26.41M502.5 1863.0h26.41M502.8 1857.6h26.41M503.5 1852.1h26.41M503.8 1846.6h26.41M502.2 1841.1h26.41M502.5 1835.6h26.41M502.5 1830.1h26.41" stroke="rgb(150,150,150)" stroke-opacity="0.5" stroke-width="3.1" stroke-linecap="round" stroke-dasharray="0 3.3" fill="none"/>
<path d="M504.7 1824.6h26.41M505.0 1819.1h26.41M505.2 1813.6h26.41M503.0 1808.1h26.41M503.9 1802.6h26.41M504.1 1797.1h26.41M503.0 1791.6h26.41M502.8 1786.2h26.41M504.7 1780.7h26.41M502.2 1775.2h26.41M502.9 1769.7h26.41M502.6 1764.2h26.41M502.3 1758.7h26.41M503.3 1753.2h26.41M504.4 1747.7h26.41M504.5 1742.2h26.41M502.5 1736.7h26.41M504.2 1731.2h26.41M502.4 1725.7h26.41M504.3 1720.3h23.11" stroke="rgb(0,160,85)" stroke-opacity="0.5" stroke-width="3.1" stroke-linecap="round" stroke-dasharray="0 3.3" fill="none"/>
<path d="M503.7 1889.6h26.41M504.4 1884.1h26.41M505.0 1878.6h26.41M502.0 1873.1h26.41M505.2 1867.6h26.41M503.4 1862.1h26.41M503.1 1856.7h26.41M503.9 1851.2h26.41M502.9 1845.7h26.41M502.6 1840.2h26.41M502.3 1834.7h26.41M505.2 1829.2h26.41" stroke="rgb(150,150,150)" stroke-opacity="0.5" stroke-width="3.1" stroke-linecap="round" stroke-dasharray="0 3.3" fill="none"/>
<path d="M504.5 1823.7h26.41M502.3 1818.2h26.41M502.9 1812.7h26.41M504.7 1807.2h26.41M502.0 1801.7h26.41M505.2 1796.2h26.41M504.4 1790.7h26.41M502.5 1785.3h26.41M503.9 1779.8h26.41M502.2 1774.3h26.41M504.5 1768.8h23.11M516.1 1763.3h3.31M510.6 1757.8h9.91M504.3 1752.3h26.41M502.3 1746.8h26.41M502.3 1741.3h26.41M510.4 1735.8h13.21M505.2 1730.3h26.41M502.1 1724.8h26.41" stroke="rgb(0,160,85)" stroke-opacity="0.5" stroke-width="3.1" stroke-linecap="round" stroke-dasharray="0 3.3" fill="none"/>
<path d="M503.2 1890.5h26.41M502.8 1885.0h26.41M504.5 1879.5h26.41M502.1 1874.0h26.41M504.5 1868.5h26.41M504.1 1863.0h26.41M504.6 1857.6h26.41M505.2 1852.1h26.41M503.2 1846.6h26.41M502.9 1841.1h26.41M506.0 1835.6h23.11M510.6 1830.1h9.91" stroke="rgb(150,150,150)" stroke-opacity="0.5" stroke-width="3.1" stroke-linecap="round" stroke-dasharray="0 3.3" fill="none"/>
<path d="M504.3 1824.6h26.41M512.2 1819.1h9.91M504.3 1813.6h26.41M504.0 1808.1h26.41M504.1 1802.6h26.41M504.0 1797.1h26.41M505.2 1791.6h26.41M504.4 1786.2h26.41M514.2 1775.2h6.61M512.6 1753.2h6.61M508.7 1747.7h13.21M516.3 1742.2h3.31M509.4 1731.2h13.21" stroke="rgb(0,160,85)" stroke-opacity="0.5" stroke-width="3.1" stroke-linecap="round" stroke-dasharray="0 3.3" fill="none"/>
<path d="M503.8 1889.6h26.41M503.6 1884.1h26.41M503.1 1878.6h26.41M514.4 1873.1h3.31M504.8 1867.6h26.41M504.7 1862.1h26.41M508.7 1856.7h16.51M503.8 1851.2h26.41M510.2 1845.7h9.91M503.0 1840.2h26.41" stroke="rgb(150,150,150)" stroke-opacity="0.5" stroke-width="3.1" stroke-linecap="round" stroke-dasharray="0 3.3" fill="none"/>
<path d="M518.2 1823.7h0.01M503.0 1812.7h26.41M503.7 1807.2h26.41M502.0 1801.7h26.41M516.1 1796.2h0.01M505.1 1790.7h26.41M505.3 1785.3h19.81" stroke="rgb(0,160,85)" stroke-opacity="0.5" stroke-width="3.1" stroke-linecap="round" stroke-dasharray="0 3.3" fill="none"/>
<path d="M504.7 1890.5h26.41M505.2 1889.6h26.41M505.0 1890.5h26.41M505.0 1889.6h26.41M502.1 1890.5h26.41M502.7 1889.6h26.41M505.1 1890.5h26.41M503.8 1889.6h26.41M502.4 1890.5h26.41M504.0 1889.6h26.41M505.0 1890.5h26.41M502.7 1889.6h26.41M503.1 1890.5h26.41M502.5 1889.6h26.41M505.2 1890.5h26.41M502.6 1889.6h26.41M502.8 1890.5h26.41M502.2 1889.6h26.41M502.3 1890.5h26.41M502.0 1889.6h26.41M502.0 1890.5h26.41M503.7 1889.6h26.41M512.8 1890.5h6.61M513.1 1885.0h6.61M504.2 1879.5h26.41M508.6 1878.6h16.51M508.3 1868.5h19.81M504.5 1863.0h26.41M502.2 1862.1h26.41M504.6 1852.1h26.41M514.4 1851.2h6.61M511.2 1841.1h9.91" stroke="rgb(150,150,150)" stroke-opacity="0.5" stroke-width="3.1" stroke-linecap="round" stroke-dasharray="0 3.3" fill="none"/>
<path d="M516.3 1813.6h0.01M514.5 1808.1h6.61M509.6 1802.6h13.21M515.3 1791.6h3.31" stroke="rgb(0,160,85)" stroke-opacity="0.5" stroke-width="3.1" stroke-linecap="round" stroke-dasharray="0 3.3" fill="none"/>
<path d="M503.2 1893.0h27.2" stroke="rgb(20,115,195)" stroke-opacity="0.85" stroke-width="4" stroke-linecap="round" stroke-dasharray="0 3.4" fill="none"/>
<path d="M503.2 1898.5h27.2" stroke="rgb(20,115,195)" stroke-opacity="0.70" stroke-width="4" stroke-linecap="round" stroke-dasharray="0 3.4" fill="none"/>
<path d="M503.2 1904.0h27.2" stroke="rgb(20,115,195)" stroke-opacity="0.95" stroke-width="4" stroke-linecap="round" stroke-dasharray="0 3.4" fill="none"/>
<path d="M503.2 1919.1h27.2" stroke="rgb(20,115,195)" stroke-opacity="0.95" stroke-width="4" stroke-linecap="round" stroke-dasharray="0 3.4" fill="none"/>
<path d="M503.2 1923.2h27.2" stroke="rgb(20,115,195)" stroke-opacity="0.70" stroke-width="4" stroke-linecap="round" stroke-dasharray="0 3.4" fill="none"/>
<path d="M503.2 1934.2h27.2" stroke="rgb(20,115,195)" stroke-opacity="0.95" stroke-width="4" stroke-linecap="round" stroke-dasharray="0 3.4" fill="none"/>
<path d="M503.2 1941.1h27.2" stroke="rgb(20,115,195)" stroke-opacity="1.00" stroke-width="4" stroke-linecap="round" stroke-dasharray="0 3.4" fill="none"/>
<path d="M542.6 1889.6h26.41M542.6 1884.1h26.41M542.6 1878.6h26.41M542.6 1873.1h26.41M542.6 1867.6h26.41M542.6 1862.1h26.41M542.6 1856.7h26.41M542.6 1851.2h26.41M542.6 1845.7h26.41M542.6 1840.2h26.41M542.6 1834.7h26.41M542.6 1829.2h26.41" stroke="rgb(150,150,150)" stroke-opacity="0.5" stroke-width="3.1" stroke-linecap="round" stroke-dasharray="0 3.3" fill="none"/>
<path d="M542.6 1823.7h26.41M542.6 1818.2h26.41M542.6 1812.7h26.41M542.6 1807.2h26.41M542.6 1801.7h26.41M542.6 1796.2h26.41M542.6 1790.7h26.41M542.6 1785.3h26.41M542.6 1779.8h26.41M542.6 1774.3h26.41M542.6 1768.8h26.41M542.6 1763.3h26.41M542.6 1757.8h26.41M542.6 1752.3h26.41M542.6 1746.8h26.41M542.6 1741.3h26.41M542.6 1735.8h26.41M542.6 1730.3h26.41M542.6 1724.8h26.41M542.6 1719.4h26.41M542.6 1713.9h26.41M542.6 1708.4h26.41M542.6 1702.9h26.41M542.6 1697.4h26.41M547.5 1691.9h16.51M544.2 1686.4h23.11M544.2 1680.9h23.11M542.6 1675.4h26.41M549.2 1669.9h13.21M547.5 1664.4h16.51M544.2 1658.9h23.11M544.2 1653.4h23.11M545.9 1648.0h19.81M544.2 1642.5h23.11M549.2 1637.0h13.21M544.2 1631.5h23.11M547.5 1626.0h16.51M547.5 1620.5h16.51M549.2 1615.0h13.21M545.9 1609.5h19.81M544.2 1604.0h23.11M547.5 1598.5h16.51M545.9 1593.0h19.81M549.2 1587.5h13.21M550.8 1582.1h9.91" stroke="rgb(0,160,85)" stroke-opacity="0.5" stroke-width="3.1" stroke-linecap="round" stroke-dasharray="0 3.3" fill="none"/>
<path d="M543.7 1890.5h26.41M542.0 1885.0h26.41M544.2 1879.5h26.41M542.4 1874.0h26.41M543.8 1868.5h26.41M542.0 1863.0h26.41M541.3 1857.6h26.41M541.4 1852.1h26.41M543.8 1846.6h26.41M544.0 1841.1h26.41M543.5 1835.6h26.41M542.8 1830.1h26.41" stroke="rgb(150,150,150)" stroke-opacity="0.5" stroke-width="3.1" stroke-linecap="round" stroke-dasharray="0 3.3" fill="none"/>
<path d="M544.1 1824.6h26.41M543.2 1819.1h26.41M542.7 1813.6h26.41M541.7 1808.1h26.41M543.6 1802.6h26.41M541.3 1797.1h26.41M544.1 1791.6h26.41M544.1 1786.2h26.41M542.0 1780.7h26.41M542.4 1775.2h26.41M542.5 1769.7h26.41M541.5 1764.2h26.41M543.4 1758.7h26.41M542.6 1753.2h26.41M541.5 1747.7h26.41M542.0 1742.2h26.41M542.6 1736.7h26.41M543.1 1731.2h26.41M542.2 1725.7h26.41M541.7 1720.3h26.41M541.0 1714.8h26.41M542.0 1709.3h26.41M542.5 1703.8h26.41" stroke="rgb(0,160,85)" stroke-opacity="0.5" stroke-width="3.1" stroke-linecap="round" stroke-dasharray="0 3.3" fill="none"/>
<path d="M541.5 1889.6h26.41M541.4 1884.1h26.41M543.5 1878.6h26.41M542.8 1873.1h26.41M542.9 1867.6h26.41M541.8 1862.1h26.41M541.6 1856.7h26.41M543.8 1851.2h26.41M541.0 1845.7h26.41M544.1 1840.2h26.41M543.4 1834.7h26.41M543.6 1829.2h26.41" stroke="rgb(150,150,150)" stroke-opacity="0.5" stroke-width="3.1" stroke-linecap="round" stroke-dasharray="0 3.3" fill="none"/>
<path d="M541.9 1823.7h26.41M542.7 1818.2h26.41M541.5 1812.7h26.41M543.2 1807.2h26.41M541.6 1801.7h26.41M542.2 1796.2h26.41M544.2 1790.7h26.41M543.0 1785.3h26.41M541.5 1779.8h26.41M541.7 1774.3h26.41M541.9 1768.8h26.41M544.1 1763.3h26.41M554.0 1757.8h3.31M542.9 1752.3h23.11M542.1 1746.8h26.41M554.6 1741.3h0.01M545.4 1735.8h19.81M549.6 1730.3h9.91M553.0 1724.8h3.31M549.3 1719.4h9.91M547.6 1713.9h13.21M554.9 1708.4h3.31M550.4 1702.9h13.21" stroke="rgb(0,160,85)" stroke-opacity="0.5" stroke-width="3.1" stroke-linecap="round" stroke-dasharray="0 3.3" fill="none"/>
<path d="M542.4 1890.5h26.41M541.2 1885.0h26.41M542.0 1879.5h26.41M544.1 1874.0h26.41M543.3 1868.5h26.41M546.9 1863.0h19.81M541.6 1857.6h26.41M548.8 1852.1h13.21M541.7 1846.6h26.41M542.4 1841.1h26.41M549.8 1835.6h13.21M542.5 1830.1h26.41" stroke="rgb(150,150,150)" stroke-opacity="0.5" stroke-width="3.1" stroke-linecap="round" stroke-dasharray="0 3.3" fill="none"/>
<path d="M544.1 1824.6h26.41M542.9 1819.1h26.41M541.2 1813.6h26.41M541.5 1808.1h26.41M543.6 1802.6h26.41M543.7 1797.1h26.41M550.9 1791.6h9.91M543.4 1786.2h26.41M543.3 1780.7h26.41M544.2 1775.2h26.41M543.7 1769.7h26.41M550.4 1764.2h9.91M555.5 1747.7h0.01" stroke="rgb(0,160,85)" stroke-opacity="0.5" stroke-width="3.1" stroke-linecap="round" stroke-dasharray="0 3.3" fill="none"/>
<path d="M543.5 1889.6h26.41M542.6 1884.1h26.41M542.2 1878.6h26.41M543.4 1873.1h26.41M547.9 1867.6h13.21M543.3 1856.7h26.41M555.5 1845.7h3.31M543.2 1840.2h23.11M547.6 1829.2h16.51" stroke="rgb(150,150,150)" stroke-opacity="0.5" stroke-width="3.1" stroke-linecap="round" stroke-dasharray="0 3.3" fill="none"/>
<path d="M551.9 1823.7h9.91M552.5 1818.2h9.91M543.7 1812.7h26.41M541.2 1807.2h26.41M551.6 1801.7h6.61M542.6 1796.2h26.41M543.8 1785.3h26.41M541.6 1779.8h26.41M551.2 1774.3h6.61M543.4 1768.8h26.41" stroke="rgb(0,160,85)" stroke-opacity="0.5" stroke-width="3.1" stroke-linecap="round" stroke-dasharray="0 3.3" fill="none"/>
<path d="M543.0 1890.5h26.41M545.6 1889.6h23.11M543.6 1885.0h23.11M543.9 1879.5h26.41M543.4 1878.6h23.11M543.7 1874.0h26.41M542.2 1857.6h26.41M554.1 1856.7h6.61" stroke="rgb(150,150,150)" stroke-opacity="0.5" stroke-width="3.1" stroke-linecap="round" stroke-dasharray="0 3.3" fill="none"/>
<path d="M541.8 1813.6h26.41M555.8 1808.1h3.31M553.9 1797.1h3.31M554.9 1786.2h0.01M553.0 1780.7h3.31M550.0 1769.7h9.91" stroke="rgb(0,160,85)" stroke-opacity="0.5" stroke-width="3.1" stroke-linecap="round" stroke-dasharray="0 3.3" fill="none"/>
<path d="M542.2 1898.5h27.2" stroke="rgb(20,115,195)" stroke-opacity="0.70" stroke-width="4" stroke-linecap="round" stroke-dasharray="0 3.4" fill="none"/>
<path d="M542.2 1904.0h27.2" stroke="rgb(20,115,195)" stroke-opacity="0.95" stroke-width="4" stroke-linecap="round" stroke-dasharray="0 3.4" fill="none"/>
<path d="M542.2 1919.1h27.2" stroke="rgb(20,115,195)" stroke-opacity="0.95" stroke-width="4" stroke-linecap="round" stroke-dasharray="0 3.4" fill="none"/>
<path d="M542.2 1923.2h27.2" stroke="rgb(20,115,195)" stroke-opacity="0.70" stroke-width="4" stroke-linecap="round" stroke-dasharray="0 3.4" fill="none"/>
<path d="M542.2 1934.2h27.2" stroke="rgb(20,115,195)" stroke-opacity="0.95" stroke-width="4" stroke-linecap="round" stroke-dasharray="0 3.4" fill="none"/>
<path d="M542.2 1941.1h27.2" stroke="rgb(20,115,195)" stroke-opacity="1.00" stroke-width="4" stroke-linecap="round" stroke-dasharray="0 3.4" fill="none"/>
<line x1="516.8" y1="1782.5" x2="516.8" y2="1601.3" stroke="#111" stroke-width="2.2"/>
<line x1="516.8" y1="1907.5" x2="516.8" y2="1961" stroke="#111" stroke-width="2.2"/>
<rect x="501" y="1892.3" width="31.6" height="15.1" fill="rgb(15,115,195)" fill-opacity="0.2"/>
<rect x="501" y="1827.8" width="31.6" height="64.5" fill="rgb(110,110,110)" fill-opacity="0.2"/>
<rect x="501" y="1782.5" width="31.6" height="45.3" fill="rgb(0,160,85)" fill-opacity="0.2"/>
<rect x="501" y="1782.5" width="31.6" height="124.9" fill="none" stroke="#111" stroke-width="2.2"/>
<line x1="501" y1="1847" x2="532.6" y2="1847" stroke="#111" stroke-width="5.5"/>
<circle cx="516.8" cy="1838.8" r="5.2" fill="#000"/>
<line x1="555.8" y1="1766" x2="555.8" y2="1582.1" stroke="#111" stroke-width="2.2"/>
<line x1="555.8" y1="1892.3" x2="555.8" y2="1961" stroke="#111" stroke-width="2.2"/>
<rect x="540" y="1827.8" width="31.6" height="64.5" fill="rgb(110,110,110)" fill-opacity="0.2"/>
<rect x="540" y="1766" width="31.6" height="61.8" fill="rgb(0,160,85)" fill-opacity="0.2"/>
<rect x="540" y="1766" width="31.6" height="126.3" fill="none" stroke="#111" stroke-width="2.2"/>
<line x1="540" y1="1825.1" x2="571.6" y2="1825.1" stroke="#111" stroke-width="5.5"/>
<circle cx="555.8" cy="1823.7" r="5.2" fill="#000"/>
<line x1="489.5" y1="1961.5" x2="580" y2="1961.5" stroke="#111" stroke-width="3.6"/>
<text x="527.6" y="1975.5" font-size="31" text-anchor="end" transform="rotate(-90 527.6 1975.5)">Foxc1</text>
<text x="565.9" y="1975.5" font-size="31" text-anchor="end" transform="rotate(-90 565.9 1975.5)">Ctrl</text>
<line x1="500.3" y1="2071.4" x2="566.5" y2="2071.4" stroke="#111" stroke-width="3.2"/>
<text x="532" y="2103.5" font-size="32" text-anchor="middle">crispr</text>
<text x="676.5" y="1492" font-size="40" font-weight="bold">I</text>
<text x="712" y="1477.3" font-size="33" fill="#2a9e65" font-style="italic">P</text>
<text x="742.1" y="1477.3" font-size="33" fill="#2a9e65">=</text>
<text x="770.4" y="1477.3" font-size="33" fill="#2a9e65" font-style="italic">0.051</text>
<line x1="860.8" y1="1466.2" x2="922.3" y2="1466.2" stroke="#2a9e65" stroke-width="2.8"/>
<text x="785.4" y="1521.8" font-size="33" fill="#2f7cb8" font-style="italic">P</text>
<text x="815.6" y="1521.8" font-size="33" fill="#2f7cb8">=</text>
<text x="843" y="1521.8" font-size="33" fill="#2f7cb8" font-style="italic">0.014</text>
<text x="938" y="1518.7" font-size="30" fill="#2f7cb8">*</text>
<line x1="839.4" y1="1541.7" x2="902.6" y2="1541.7" stroke="#2f7cb8" stroke-width="2.8"/>
<text x="772" y="1755" font-size="34.3" text-anchor="middle" transform="rotate(-90 772 1755)">Frequency, % (<tspan fill="#2f7cb8">short</tspan> / <tspan fill="#2a9e65">long</tspan>)</text>
<line x1="830.6" y1="1546.7" x2="830.6" y2="1963" stroke="#111" stroke-width="3.4"/>
<line x1="823.6" y1="1548.4" x2="830.6" y2="1548.4" stroke="#111" stroke-width="3.4"/>
<text x="818.6" y="1559" font-size="29.5" text-anchor="end">60</text>
<line x1="823.6" y1="1617.1" x2="830.6" y2="1617.1" stroke="#111" stroke-width="3.4"/>
<text x="818.6" y="1627.7" font-size="29.5" text-anchor="end">50</text>
<line x1="823.6" y1="1685.8" x2="830.6" y2="1685.8" stroke="#111" stroke-width="3.4"/>
<text x="818.6" y="1696.4" font-size="29.5" text-anchor="end">40</text>
<line x1="823.6" y1="1754.5" x2="830.6" y2="1754.5" stroke="#111" stroke-width="3.4"/>
<text x="818.6" y="1765.1" font-size="29.5" text-anchor="end">30</text>
<line x1="823.6" y1="1823.2" x2="830.6" y2="1823.2" stroke="#111" stroke-width="3.4"/>
<text x="818.6" y="1833.8" font-size="29.5" text-anchor="end">20</text>
<line x1="823.6" y1="1891.9" x2="830.6" y2="1891.9" stroke="#111" stroke-width="3.4"/>
<text x="818.6" y="1902.5" font-size="29.5" text-anchor="end">10</text>
<line x1="823.6" y1="1960.6" x2="830.6" y2="1960.6" stroke="#111" stroke-width="3.4"/>
<text x="818.6" y="1971.2" font-size="29.5" text-anchor="end">0</text>
<rect x="839" y="1727" width="18" height="233.6" fill="#0a7cc1" stroke="#0d1a26" stroke-width="2.0"/>
<rect x="859" y="1669.3" width="18.8" height="291.3" fill="#00a85c" stroke="#0d1a26" stroke-width="2.0"/>
<rect x="883.6" y="1779.9" width="18" height="180.7" fill="#0a7cc1" stroke="#0d1a26" stroke-width="2.0"/>
<rect x="903.6" y="1618.5" width="18.8" height="342.1" fill="#00a85c" stroke="#0d1a26" stroke-width="2.0"/>
<line x1="848" y1="1740" x2="848" y2="1717" stroke="#111" stroke-width="2"/>
<line x1="845" y1="1717" x2="851" y2="1717" stroke="#111" stroke-width="2"/>
<line x1="845" y1="1740" x2="851" y2="1740" stroke="#111" stroke-width="2"/>
<circle cx="848" cy="1699.3" r="2.7" fill="#000"/>
<circle cx="848" cy="1724.8" r="2.7" fill="#000"/>
<circle cx="848" cy="1730" r="2.7" fill="#000"/>
<circle cx="848" cy="1736.5" r="2.7" fill="#000"/>
<circle cx="848" cy="1752.3" r="2.7" fill="#000"/>
<line x1="868.4" y1="1684.5" x2="868.4" y2="1654.8" stroke="#111" stroke-width="2"/>
<line x1="865.4" y1="1654.8" x2="871.4" y2="1654.8" stroke="#111" stroke-width="2"/>
<line x1="865.4" y1="1684.5" x2="871.4" y2="1684.5" stroke="#111" stroke-width="2"/>
<circle cx="868.4" cy="1630.6" r="2.7" fill="#000"/>
<circle cx="868.4" cy="1663.1" r="2.7" fill="#000"/>
<circle cx="868.4" cy="1684.5" r="2.7" fill="#000"/>
<circle cx="868.4" cy="1697.5" r="2.7" fill="#000"/>
<line x1="892.6" y1="1791.3" x2="892.6" y2="1771.8" stroke="#111" stroke-width="2"/>
<line x1="889.6" y1="1771.8" x2="895.6" y2="1771.8" stroke="#111" stroke-width="2"/>
<line x1="889.6" y1="1791.3" x2="895.6" y2="1791.3" stroke="#111" stroke-width="2"/>
<circle cx="892.6" cy="1757.8" r="2.7" fill="#000"/>
<circle cx="892.6" cy="1770.5" r="2.7" fill="#000"/>
<circle cx="892.6" cy="1774.6" r="2.7" fill="#000"/>
<circle cx="892.6" cy="1809.5" r="2.7" fill="#000"/>
<line x1="913" y1="1635" x2="913" y2="1603.8" stroke="#111" stroke-width="2"/>
<line x1="910" y1="1603.8" x2="916" y2="1603.8" stroke="#111" stroke-width="2"/>
<line x1="910" y1="1635" x2="916" y2="1635" stroke="#111" stroke-width="2"/>
<circle cx="913" cy="1591" r="2.7" fill="#000"/>
<circle cx="913" cy="1594.4" r="2.7" fill="#000"/>
<circle cx="913" cy="1598.6" r="2.7" fill="#000"/>
<circle cx="913" cy="1629.7" r="2.7" fill="#000"/>
<circle cx="913" cy="1655.7" r="2.7" fill="#000"/>
<line x1="825.9" y1="1961.2" x2="931.8" y2="1961.2" stroke="#111" stroke-width="3.6"/>
<text x="874" y="1975.5" font-size="31" text-anchor="end" transform="rotate(-90 874 1975.5)">Foxc1</text>
<text x="914" y="1975.5" font-size="31" text-anchor="end" transform="rotate(-90 914 1975.5)">Ctrl</text>
<line x1="845" y1="2071.4" x2="912" y2="2071.4" stroke="#111" stroke-width="3.2"/>
<text x="877" y="2103.5" font-size="32" text-anchor="middle">crispr</text>
<text x="1073.5" y="1491" font-size="40" font-weight="bold">J</text>
<text x="1101" y="1654" font-size="31" text-anchor="middle" font-weight="bold" transform="rotate(-90 1101 1654)">Foxc1</text>
<text x="1137" y="1652" font-size="32.5" text-anchor="middle" transform="rotate(-90 1137 1652)">Protein, fold</text>
<line x1="1220" y1="1559.5" x2="1220" y2="1729" stroke="#111" stroke-width="3.4"/>
<line x1="1214" y1="1587" x2="1220" y2="1587" stroke="#111" stroke-width="3.4"/>
<text x="1204.5" y="1596.8" font-size="27.5" text-anchor="end">1.00</text>
<line x1="1214" y1="1622.2" x2="1220" y2="1622.2" stroke="#111" stroke-width="3.4"/>
<text x="1204.5" y="1632" font-size="27.5" text-anchor="end">0.75</text>
<line x1="1214" y1="1657.5" x2="1220" y2="1657.5" stroke="#111" stroke-width="3.4"/>
<text x="1204.5" y="1667.3" font-size="27.5" text-anchor="end">0.50</text>
<line x1="1214" y1="1692.8" x2="1220" y2="1692.8" stroke="#111" stroke-width="3.4"/>
<text x="1204.5" y="1702.5" font-size="27.5" text-anchor="end">0.25</text>
<line x1="1214" y1="1728" x2="1220" y2="1728" stroke="#111" stroke-width="3.4"/>
<text x="1204.5" y="1737.8" font-size="27.5" text-anchor="end">0.00</text>
<rect x="1226.6" y="1643.7" width="29.1" height="84.3" fill="#58c3e1" stroke="#111" stroke-width="2.2"/>
<circle cx="1241.2" cy="1643.7" r="2.5" fill="#000"/>
<rect x="1257.9" y="1656.1" width="27.6" height="71.9" fill="#58c3e1" stroke="#111" stroke-width="2.2"/>
<circle cx="1271.7" cy="1656.1" r="2.5" fill="#000"/>
<rect x="1287.7" y="1671.6" width="28.1" height="56.4" fill="#58c3e1" stroke="#111" stroke-width="2.2"/>
<circle cx="1301.8" cy="1671.6" r="2.5" fill="#000"/>
<rect x="1318" y="1647.6" width="28.5" height="80.4" fill="#58c3e1" stroke="#111" stroke-width="2.2"/>
<circle cx="1332.2" cy="1647.6" r="2.5" fill="#000"/>
<rect x="1348.7" y="1609.6" width="28" height="118.4" fill="#c6c6c6" stroke="#111" stroke-width="2.2"/>
<circle cx="1362.7" cy="1609.6" r="2.5" fill="#000"/>
<rect x="1378.9" y="1562.2" width="27.9" height="165.8" fill="#c6c6c6" stroke="#111" stroke-width="2.2"/>
<circle cx="1392.8" cy="1562.2" r="2.5" fill="#000"/>
<rect x="1409" y="1587.3" width="28.2" height="140.7" fill="#c6c6c6" stroke="#111" stroke-width="2.2"/>
<circle cx="1423.1" cy="1587.3" r="2.5" fill="#000"/>
<line x1="1215.8" y1="1728.6" x2="1444.4" y2="1728.6" stroke="#111" stroke-width="3.6"/>
<text x="1247.6" y="1742" font-size="31" text-anchor="end" transform="rotate(-90 1247.6 1742)">sh1</text>
<text x="1279" y="1742" font-size="31" text-anchor="end" transform="rotate(-90 1279 1742)">sh2</text>
<text x="1310" y="1742" font-size="31" text-anchor="end" transform="rotate(-90 1310 1742)">sh3</text>
<text x="1342" y="1742" font-size="31" text-anchor="end" transform="rotate(-90 1342 1742)">sh4</text>
<text x="1378" y="1742" font-size="31" text-anchor="end" transform="rotate(-90 1378 1742)">non-trg.</text>
<text x="1409.5" y="1742" font-size="31" text-anchor="end" transform="rotate(-90 1409.5 1742)">pLKO.1</text>
<text x="1439.3" y="1742" font-size="31" text-anchor="end" transform="rotate(-90 1439.3 1742)">WT</text>
<line x1="1223" y1="1810.2" x2="1344" y2="1810.2" stroke="#111" stroke-width="3.2"/>
<text x="1283.5" y="1845" font-size="32" text-anchor="middle">Foxc1</text>
</svg>
</body></html>
